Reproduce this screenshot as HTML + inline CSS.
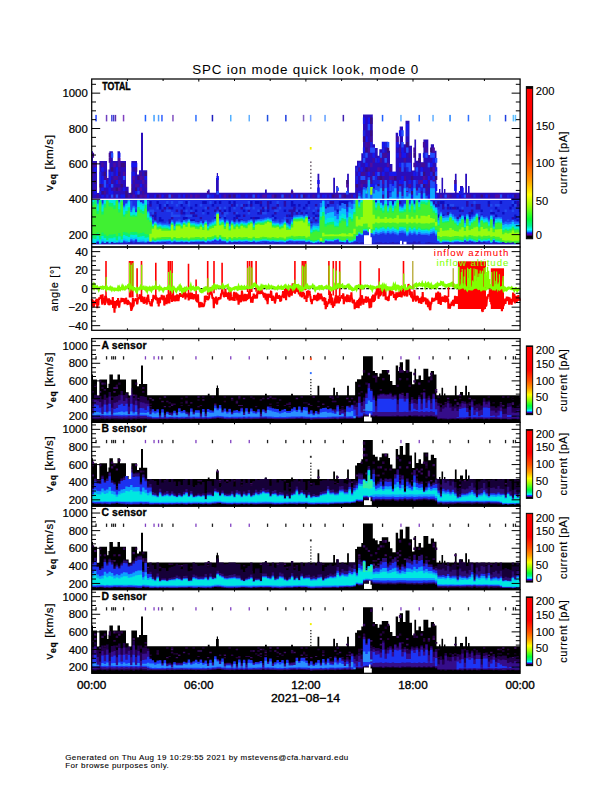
<!DOCTYPE html><html><head><meta charset="utf-8"><style>html,body{margin:0;padding:0;background:#fff;width:612px;height:792px;overflow:hidden}svg{display:block}</style></head><body><svg width="612" height="792" viewBox="0 0 612 792"><defs><clipPath id="dataclip"><rect x="91.7" y="79" width="428.4" height="600"/></clipPath><filter id="sb" x="-2%" y="-5%" width="104%" height="110%"><feGaussianBlur stdDeviation="0.6"/></filter></defs>
<g clip-path="url(#dataclip)">
<g filter="url(#sb)">
<path d="M91.7 244.5 L91.7 151.3 L93 151.3 L93 161.1 L97 161.1 L97 192.7 L99.2 192.7 L99.2 161.1 L107.2 161.1 L107.2 169.5 L109.4 169.5 L109.4 151.3 L112.9 151.3 L112.9 161.1 L117.5 161.1 L117.5 151.3 L120 151.3 L120 161.1 L126 161.1 L126 186.7 L128.8 186.7 L128.8 192.7 L131.2 192.7 L131.2 161.1 L137 161.1 L137 174.5 L139 174.5 L139 170.3 L141 170.3 L141 132.8 L143 132.8 L143 170.3 L147.2 170.3 L147.2 192.7 L207.8 192.7 L207.8 189.5 L209.6 189.5 L209.6 192.7 L216 192.7 L216 177.9 L216.8 177.9 L216.8 173.1 L218 173.1 L218 177.9 L218.8 177.9 L218.8 192.7 L265 192.7 L265 189.5 L266.8 189.5 L266.8 192.7 L291.1 192.7 L291.1 189.5 L292.9 189.5 L292.9 192.7 L317.5 192.7 L317.5 173.8 L319.3 173.8 L319.3 192.7 L333.2 192.7 L333.2 177.7 L335 177.7 L335 192.7 L336.2 192.7 L336.2 186 L337.8 186 L337.8 192.7 L347.1 192.7 L347.1 173.8 L348.9 173.8 L348.9 192.7 L355.1 192.7 L355.1 165.7 L357 165.7 L357 160.7 L361.3 160.7 L361.3 153.3 L363 153.3 L363 114.4 L372.8 114.4 L372.8 144.3 L375 144.3 L375 148 L377.7 148 L377.7 155.7 L379.3 155.7 L379.3 149.2 L381.8 149.2 L381.8 141.8 L388.3 141.8 L388.3 150.8 L390 150.8 L390 163.9 L392.4 163.9 L392.4 171.8 L395.7 171.8 L395.7 132.8 L398.1 132.8 L398.1 144.3 L399.7 144.3 L399.7 126.4 L403 126.4 L403 144.3 L405.5 144.3 L405.5 120.7 L409.5 120.7 L409.5 145.7 L412 145.7 L412 170.6 L414.4 170.6 L414.4 139.5 L416.1 139.5 L416.1 160.7 L418.5 160.7 L418.5 153.3 L421 153.3 L421 162.3 L423.4 162.3 L423.4 139.5 L428.3 139.5 L428.3 155 L430.8 155 L430.8 144.3 L434 144.3 L434 150.8 L436.5 150.8 L436.5 192.7 L439 192.7 L439 189 L440.4 189 L440.4 192.7 L441.5 192.7 L441.5 177.7 L443.1 177.7 L443.1 192.7 L444 192.7 L444 189 L445.4 189 L445.4 192.7 L454.9 192.7 L454.9 173.8 L456.6 173.8 L456.6 192.7 L460 192.7 L460 186 L463 186 L463 192.7 L465.2 192.7 L465.2 173.8 L467 173.8 L467 192.7 L468 192.7 L468 186 L469.6 186 L469.6 192.7 L520.1 192.7 L520.1 244.5Z" fill="#2a10bc"/>
<path d="M91.7 171.7h2.4v4.2h-2.4zM91.7 152.8h2.4v5h-2.4zM94.1 162.7h2.4v4.6h-2.4zM101.3 162.7h2.4v4.6h-2.4zM106.1 176h2.4v4h-2.4zM108.5 157.9h2.4v4.8h-2.4zM113.3 187.6h2.4v3.5h-2.4zM113.3 176h2.4v4h-2.4zM115.7 176h2.4v4h-2.4zM127.7 194.5h2.4v3.2h-2.4zM134.9 183.9h2.4v3.7h-2.4zM137.3 183.9h2.4v3.7h-2.4zM142.1 194.5h2.4v3.2h-2.4zM142.1 176h2.4v4h-2.4zM144.5 183.9h2.4v3.7h-2.4zM170.9 194.5h2.4v3.2h-2.4zM197.3 194.5h2.4v3.2h-2.4zM254.9 194.5h2.4v3.2h-2.4zM290.9 191.1h2.4v3.4h-2.4zM293.3 194.5h2.4v3.2h-2.4zM312.5 194.5h2.4v3.2h-2.4zM336.5 194.5h2.4v3.2h-2.4zM341.3 194.5h2.4v3.2h-2.4zM358.1 167.3h2.4v4.4h-2.4zM362.9 194.5h2.4v3.2h-2.4zM362.9 191.1h2.4v3.4h-2.4zM365.3 180h2.4v3.9h-2.4zM365.3 142h2.4v5.5h-2.4zM367.7 194.5h2.4v3.2h-2.4zM367.7 147.5h2.4v5.3h-2.4zM370.1 191.1h2.4v3.4h-2.4zM372.5 157.9h2.4v4.8h-2.4zM377.3 187.6h2.4v3.5h-2.4zM379.7 194.5h2.4v3.2h-2.4zM379.7 157.9h2.4v4.8h-2.4zM391.7 176h2.4v4h-2.4zM394.1 194.5h2.4v3.2h-2.4zM394.1 183.9h2.4v3.7h-2.4zM396.5 191.1h2.4v3.4h-2.4zM396.5 136.3h2.4v5.8h-2.4zM398.9 183.9h2.4v3.7h-2.4zM398.9 147.5h2.4v5.3h-2.4zM403.7 191.1h2.4v3.4h-2.4zM403.7 176h2.4v4h-2.4zM403.7 157.9h2.4v4.8h-2.4zM406.1 194.5h2.4v3.2h-2.4zM413.3 162.7h2.4v4.6h-2.4zM415.7 194.5h2.4v3.2h-2.4zM418.1 191.1h2.4v3.4h-2.4zM422.9 142h2.4v5.5h-2.4zM425.3 147.5h2.4v5.3h-2.4zM427.7 180h2.4v3.9h-2.4zM430.1 187.6h2.4v3.5h-2.4zM432.5 191.1h2.4v3.4h-2.4zM468.5 194.5h2.4v3.2h-2.4z" fill="#46109c"/>
<path d="M91.7 162.7h2.4v4.6h-2.4zM94.1 187.6h2.4v3.5h-2.4zM96.5 194.5h2.4v3.2h-2.4zM101.3 183.9h2.4v3.7h-2.4zM103.7 191.1h2.4v3.4h-2.4zM103.7 176h2.4v4h-2.4zM108.5 152.8h2.4v5h-2.4zM110.9 180h2.4v3.9h-2.4zM113.3 194.5h2.4v3.2h-2.4zM118.1 167.3h2.4v4.4h-2.4zM130.1 183.9h2.4v3.7h-2.4zM132.5 180h2.4v3.9h-2.4zM134.9 167.3h2.4v4.4h-2.4zM139.7 171.7h2.4v4.2h-2.4zM142.1 191.1h2.4v3.4h-2.4zM166.1 194.5h2.4v3.2h-2.4zM185.3 194.5h2.4v3.2h-2.4zM206.9 191.1h2.4v3.4h-2.4zM283.7 194.5h2.4v3.2h-2.4zM288.5 194.5h2.4v3.2h-2.4zM298.1 194.5h2.4v3.2h-2.4zM334.1 194.5h2.4v3.2h-2.4zM350.9 194.5h2.4v3.2h-2.4zM355.7 194.5h2.4v3.2h-2.4zM360.5 180h2.4v3.9h-2.4zM360.5 171.7h2.4v4.2h-2.4zM362.9 180h2.4v3.9h-2.4zM362.9 171.7h2.4v4.2h-2.4zM367.7 167.3h2.4v4.4h-2.4zM367.7 142h2.4v5.5h-2.4zM370.1 180h2.4v3.9h-2.4zM370.1 176h2.4v4h-2.4zM370.1 136.3h2.4v5.8h-2.4zM372.5 171.7h2.4v4.2h-2.4zM374.9 191.1h2.4v3.4h-2.4zM377.3 176h2.4v4h-2.4zM379.7 180h2.4v3.9h-2.4zM379.7 167.3h2.4v4.4h-2.4zM382.1 194.5h2.4v3.2h-2.4zM382.1 187.6h2.4v3.5h-2.4zM382.1 176h2.4v4h-2.4zM382.1 152.8h2.4v5h-2.4zM384.5 152.8h2.4v5h-2.4zM389.3 167.3h2.4v4.4h-2.4zM398.9 167.3h2.4v4.4h-2.4zM403.7 180h2.4v3.9h-2.4zM406.1 191.1h2.4v3.4h-2.4zM408.5 152.8h2.4v5h-2.4zM413.3 147.5h2.4v5.3h-2.4zM415.7 187.6h2.4v3.5h-2.4zM420.5 162.7h2.4v4.6h-2.4zM422.9 191.1h2.4v3.4h-2.4zM422.9 162.7h2.4v4.6h-2.4zM425.3 187.6h2.4v3.5h-2.4zM425.3 176h2.4v4h-2.4zM427.7 183.9h2.4v3.7h-2.4zM432.5 183.9h2.4v3.7h-2.4zM449.3 194.5h2.4v3.2h-2.4zM454.1 180h2.4v3.9h-2.4zM487.7 194.5h2.4v3.2h-2.4z" fill="#420a98"/>
<path d="M94.1 191.1h2.4v3.4h-2.4zM94.1 167.3h2.4v4.4h-2.4zM101.3 194.5h2.4v3.2h-2.4zM101.3 187.6h2.4v3.5h-2.4zM101.3 180h2.4v3.9h-2.4zM101.3 176h2.4v4h-2.4zM101.3 167.3h2.4v4.4h-2.4zM106.1 183.9h2.4v3.7h-2.4zM106.1 171.7h2.4v4.2h-2.4zM108.5 191.1h2.4v3.4h-2.4zM108.5 187.6h2.4v3.5h-2.4zM108.5 180h2.4v3.9h-2.4zM108.5 176h2.4v4h-2.4zM108.5 171.7h2.4v4.2h-2.4zM110.9 191.1h2.4v3.4h-2.4zM115.7 180h2.4v3.9h-2.4zM115.7 171.7h2.4v4.2h-2.4zM115.7 167.3h2.4v4.4h-2.4zM118.1 152.8h2.4v5h-2.4zM120.5 194.5h2.4v3.2h-2.4zM122.9 194.5h2.4v3.2h-2.4zM122.9 187.6h2.4v3.5h-2.4zM130.1 180h2.4v3.9h-2.4zM130.1 176h2.4v4h-2.4zM130.1 162.7h2.4v4.6h-2.4zM132.5 171.7h2.4v4.2h-2.4zM132.5 162.7h2.4v4.6h-2.4zM134.9 191.1h2.4v3.4h-2.4zM134.9 162.7h2.4v4.6h-2.4zM139.7 183.9h2.4v3.7h-2.4zM144.5 176h2.4v4h-2.4zM146.9 194.5h2.4v3.2h-2.4zM154.1 194.5h2.4v3.2h-2.4zM161.3 194.5h2.4v3.2h-2.4zM182.9 194.5h2.4v3.2h-2.4zM211.7 194.5h2.4v3.2h-2.4zM216.5 176h2.4v4h-2.4zM218.9 194.5h2.4v3.2h-2.4zM238.1 194.5h2.4v3.2h-2.4zM245.3 194.5h2.4v3.2h-2.4zM257.3 194.5h2.4v3.2h-2.4zM290.9 194.5h2.4v3.2h-2.4zM295.7 194.5h2.4v3.2h-2.4zM317.3 187.6h2.4v3.5h-2.4zM317.3 180h2.4v3.9h-2.4zM322.1 194.5h2.4v3.2h-2.4zM329.3 194.5h2.4v3.2h-2.4zM353.3 194.5h2.4v3.2h-2.4zM355.7 180h2.4v3.9h-2.4zM358.1 191.1h2.4v3.4h-2.4zM358.1 171.7h2.4v4.2h-2.4zM360.5 167.3h2.4v4.4h-2.4zM362.9 147.5h2.4v5.3h-2.4zM362.9 117.4h2.4v6.6h-2.4zM365.3 162.7h2.4v4.6h-2.4zM365.3 136.3h2.4v5.8h-2.4zM367.7 171.7h2.4v4.2h-2.4zM367.7 117.4h2.4v6.6h-2.4zM370.1 183.9h2.4v3.7h-2.4zM372.5 183.9h2.4v3.7h-2.4zM372.5 152.8h2.4v5h-2.4zM374.9 183.9h2.4v3.7h-2.4zM374.9 171.7h2.4v4.2h-2.4zM377.3 157.9h2.4v4.8h-2.4zM382.1 171.7h2.4v4.2h-2.4zM382.1 142h2.4v5.5h-2.4zM384.5 167.3h2.4v4.4h-2.4zM386.9 187.6h2.4v3.5h-2.4zM386.9 167.3h2.4v4.4h-2.4zM389.3 191.1h2.4v3.4h-2.4zM389.3 171.7h2.4v4.2h-2.4zM391.7 187.6h2.4v3.5h-2.4zM391.7 183.9h2.4v3.7h-2.4zM391.7 171.7h2.4v4.2h-2.4zM394.1 171.7h2.4v4.2h-2.4zM396.5 194.5h2.4v3.2h-2.4zM396.5 152.8h2.4v5h-2.4zM396.5 142h2.4v5.5h-2.4zM398.9 180h2.4v3.9h-2.4zM398.9 162.7h2.4v4.6h-2.4zM398.9 130.3h2.4v6h-2.4zM401.3 180h2.4v3.9h-2.4zM401.3 176h2.4v4h-2.4zM401.3 152.8h2.4v5h-2.4zM401.3 147.5h2.4v5.3h-2.4zM403.7 187.6h2.4v3.5h-2.4zM403.7 152.8h2.4v5h-2.4zM406.1 124h2.4v6.3h-2.4zM408.5 180h2.4v3.9h-2.4zM410.9 194.5h2.4v3.2h-2.4zM410.9 187.6h2.4v3.5h-2.4zM413.3 183.9h2.4v3.7h-2.4zM413.3 180h2.4v3.9h-2.4zM413.3 171.7h2.4v4.2h-2.4zM418.1 187.6h2.4v3.5h-2.4zM420.5 194.5h2.4v3.2h-2.4zM420.5 167.3h2.4v4.4h-2.4zM422.9 187.6h2.4v3.5h-2.4zM422.9 180h2.4v3.9h-2.4zM425.3 180h2.4v3.9h-2.4zM427.7 194.5h2.4v3.2h-2.4zM427.7 176h2.4v4h-2.4zM430.1 191.1h2.4v3.4h-2.4zM430.1 162.7h2.4v4.6h-2.4zM432.5 157.9h2.4v4.8h-2.4zM434.9 194.5h2.4v3.2h-2.4zM434.9 187.6h2.4v3.5h-2.4zM434.9 183.9h2.4v3.7h-2.4zM434.9 167.3h2.4v4.4h-2.4zM454.1 187.6h2.4v3.5h-2.4zM454.1 183.9h2.4v3.7h-2.4zM456.5 194.5h2.4v3.2h-2.4zM458.9 191.1h2.4v3.4h-2.4zM461.3 194.5h2.4v3.2h-2.4zM461.3 187.6h2.4v3.5h-2.4zM485.3 194.5h2.4v3.2h-2.4zM509.3 194.5h2.4v3.2h-2.4z" fill="#1414f0"/>
<path d="M94.1 180h2.4v3.9h-2.4zM98.9 183.9h2.4v3.7h-2.4zM101.3 191.1h2.4v3.4h-2.4zM103.7 171.7h2.4v4.2h-2.4zM110.9 167.3h2.4v4.4h-2.4zM115.7 187.6h2.4v3.5h-2.4zM118.1 171.7h2.4v4.2h-2.4zM120.5 183.9h2.4v3.7h-2.4zM120.5 162.7h2.4v4.6h-2.4zM122.9 162.7h2.4v4.6h-2.4zM125.3 194.5h2.4v3.2h-2.4zM125.3 191.1h2.4v3.4h-2.4zM130.1 191.1h2.4v3.4h-2.4zM130.1 187.6h2.4v3.5h-2.4zM134.9 187.6h2.4v3.5h-2.4zM137.3 194.5h2.4v3.2h-2.4zM137.3 176h2.4v4h-2.4zM144.5 171.7h2.4v4.2h-2.4zM156.5 194.5h2.4v3.2h-2.4zM228.5 194.5h2.4v3.2h-2.4zM233.3 194.5h2.4v3.2h-2.4zM274.1 194.5h2.4v3.2h-2.4zM302.9 194.5h2.4v3.2h-2.4zM331.7 194.5h2.4v3.2h-2.4zM343.7 194.5h2.4v3.2h-2.4zM346.1 180h2.4v3.9h-2.4zM355.7 183.9h2.4v3.7h-2.4zM362.9 136.3h2.4v5.8h-2.4zM365.3 191.1h2.4v3.4h-2.4zM365.3 167.3h2.4v4.4h-2.4zM365.3 147.5h2.4v5.3h-2.4zM370.1 194.5h2.4v3.2h-2.4zM370.1 130.3h2.4v6h-2.4zM370.1 117.4h2.4v6.6h-2.4zM377.3 183.9h2.4v3.7h-2.4zM379.7 176h2.4v4h-2.4zM386.9 147.5h2.4v5.3h-2.4zM391.7 191.1h2.4v3.4h-2.4zM394.1 176h2.4v4h-2.4zM403.7 183.9h2.4v3.7h-2.4zM406.1 142h2.4v5.5h-2.4zM408.5 187.6h2.4v3.5h-2.4zM410.9 191.1h2.4v3.4h-2.4zM410.9 176h2.4v4h-2.4zM413.3 194.5h2.4v3.2h-2.4zM413.3 152.8h2.4v5h-2.4zM418.1 157.9h2.4v4.8h-2.4zM422.9 183.9h2.4v3.7h-2.4zM422.9 171.7h2.4v4.2h-2.4zM430.1 183.9h2.4v3.7h-2.4zM430.1 167.3h2.4v4.4h-2.4zM430.1 147.5h2.4v5.3h-2.4zM432.5 171.7h2.4v4.2h-2.4zM434.9 176h2.4v4h-2.4zM480.5 194.5h2.4v3.2h-2.4zM514.1 194.5h2.4v3.2h-2.4z" fill="#3a0a80"/>
<path d="M98.9 191.1h2.4v3.4h-2.4zM98.9 180h2.4v3.9h-2.4zM98.9 176h2.4v4h-2.4zM98.9 171.7h2.4v4.2h-2.4zM106.1 194.5h2.4v3.2h-2.4zM110.9 171.7h2.4v4.2h-2.4zM130.1 171.7h2.4v4.2h-2.4zM137.3 187.6h2.4v3.5h-2.4zM178.1 194.5h2.4v3.2h-2.4zM209.3 194.5h2.4v3.2h-2.4zM235.7 194.5h2.4v3.2h-2.4zM266.9 194.5h2.4v3.2h-2.4zM269.3 194.5h2.4v3.2h-2.4zM307.7 194.5h2.4v3.2h-2.4zM317.3 191.1h2.4v3.4h-2.4zM324.5 194.5h2.4v3.2h-2.4zM355.7 176h2.4v4h-2.4zM355.7 167.3h2.4v4.4h-2.4zM358.1 162.7h2.4v4.6h-2.4zM360.5 194.5h2.4v3.2h-2.4zM362.9 187.6h2.4v3.5h-2.4zM362.9 152.8h2.4v5h-2.4zM362.9 130.3h2.4v6h-2.4zM367.7 187.6h2.4v3.5h-2.4zM370.1 142h2.4v5.5h-2.4zM372.5 180h2.4v3.9h-2.4zM374.9 187.6h2.4v3.5h-2.4zM374.9 180h2.4v3.9h-2.4zM374.9 176h2.4v4h-2.4zM374.9 157.9h2.4v4.8h-2.4zM377.3 180h2.4v3.9h-2.4zM382.1 147.5h2.4v5.3h-2.4zM384.5 142h2.4v5.5h-2.4zM389.3 180h2.4v3.9h-2.4zM403.7 162.7h2.4v4.6h-2.4zM406.1 167.3h2.4v4.4h-2.4zM406.1 130.3h2.4v6h-2.4zM413.3 187.6h2.4v3.5h-2.4zM415.7 180h2.4v3.9h-2.4zM415.7 171.7h2.4v4.2h-2.4zM420.5 187.6h2.4v3.5h-2.4zM422.9 194.5h2.4v3.2h-2.4zM422.9 152.8h2.4v5h-2.4zM430.1 171.7h2.4v4.2h-2.4zM432.5 176h2.4v4h-2.4zM461.3 191.1h2.4v3.4h-2.4zM473.3 194.5h2.4v3.2h-2.4zM506.9 194.5h2.4v3.2h-2.4zM511.7 194.5h2.4v3.2h-2.4z" fill="#1a20e0"/>
<path d="M103.7 183.9h2.4v3.7h-2.4zM103.7 180h2.4v3.9h-2.4zM110.9 194.5h2.4v3.2h-2.4zM110.9 183.9h2.4v3.7h-2.4zM110.9 152.8h2.4v5h-2.4zM115.7 194.5h2.4v3.2h-2.4zM122.9 176h2.4v4h-2.4zM137.3 191.1h2.4v3.4h-2.4zM168.5 194.5h2.4v3.2h-2.4zM206.9 194.5h2.4v3.2h-2.4zM216.5 191.1h2.4v3.4h-2.4zM252.5 194.5h2.4v3.2h-2.4zM281.3 194.5h2.4v3.2h-2.4zM300.5 194.5h2.4v3.2h-2.4zM317.3 194.5h2.4v3.2h-2.4zM336.5 187.6h2.4v3.5h-2.4zM338.9 194.5h2.4v3.2h-2.4zM346.1 191.1h2.4v3.4h-2.4zM360.5 176h2.4v4h-2.4zM362.9 176h2.4v4h-2.4zM362.9 157.9h2.4v4.8h-2.4zM365.3 194.5h2.4v3.2h-2.4zM365.3 152.8h2.4v5h-2.4zM367.7 124h2.4v6.3h-2.4zM370.1 147.5h2.4v5.3h-2.4zM372.5 191.1h2.4v3.4h-2.4zM372.5 176h2.4v4h-2.4zM372.5 147.5h2.4v5.3h-2.4zM377.3 171.7h2.4v4.2h-2.4zM379.7 152.8h2.4v5h-2.4zM382.1 191.1h2.4v3.4h-2.4zM384.5 157.9h2.4v4.8h-2.4zM386.9 142h2.4v5.5h-2.4zM389.3 187.6h2.4v3.5h-2.4zM389.3 183.9h2.4v3.7h-2.4zM401.3 167.3h2.4v4.4h-2.4zM401.3 162.7h2.4v4.6h-2.4zM401.3 142h2.4v5.5h-2.4zM401.3 130.3h2.4v6h-2.4zM406.1 187.6h2.4v3.5h-2.4zM406.1 162.7h2.4v4.6h-2.4zM406.1 147.5h2.4v5.3h-2.4zM408.5 191.1h2.4v3.4h-2.4zM408.5 167.3h2.4v4.4h-2.4zM408.5 162.7h2.4v4.6h-2.4zM415.7 167.3h2.4v4.4h-2.4zM420.5 183.9h2.4v3.7h-2.4zM420.5 171.7h2.4v4.2h-2.4zM425.3 152.8h2.4v5h-2.4zM427.7 162.7h2.4v4.6h-2.4zM430.1 152.8h2.4v5h-2.4zM432.5 152.8h2.4v5h-2.4zM434.9 171.7h2.4v4.2h-2.4zM434.9 157.9h2.4v4.8h-2.4zM444.5 194.5h2.4v3.2h-2.4zM463.7 194.5h2.4v3.2h-2.4zM499.7 194.5h2.4v3.2h-2.4z" fill="#2050ff"/>
<path d="M113.3 162.7h2.4v4.6h-2.4zM118.1 187.6h2.4v3.5h-2.4zM118.1 180h2.4v3.9h-2.4zM118.1 162.7h2.4v4.6h-2.4zM118.1 157.9h2.4v4.8h-2.4zM122.9 171.7h2.4v4.2h-2.4zM132.5 194.5h2.4v3.2h-2.4zM132.5 176h2.4v4h-2.4zM139.7 194.5h2.4v3.2h-2.4zM139.7 187.6h2.4v3.5h-2.4zM139.7 176h2.4v4h-2.4zM142.1 180h2.4v3.9h-2.4zM144.5 194.5h2.4v3.2h-2.4zM158.9 194.5h2.4v3.2h-2.4zM190.1 194.5h2.4v3.2h-2.4zM194.9 194.5h2.4v3.2h-2.4zM223.7 194.5h2.4v3.2h-2.4zM262.1 194.5h2.4v3.2h-2.4zM264.5 194.5h2.4v3.2h-2.4zM271.7 194.5h2.4v3.2h-2.4zM346.1 183.9h2.4v3.7h-2.4zM360.5 183.9h2.4v3.7h-2.4zM370.1 162.7h2.4v4.6h-2.4zM377.3 167.3h2.4v4.4h-2.4zM382.1 180h2.4v3.9h-2.4zM386.9 162.7h2.4v4.6h-2.4zM389.3 176h2.4v4h-2.4zM391.7 194.5h2.4v3.2h-2.4zM398.9 152.8h2.4v5h-2.4zM401.3 194.5h2.4v3.2h-2.4zM408.5 183.9h2.4v3.7h-2.4zM418.1 180h2.4v3.9h-2.4zM420.5 180h2.4v3.9h-2.4zM422.9 176h2.4v4h-2.4zM430.1 194.5h2.4v3.2h-2.4zM432.5 180h2.4v3.9h-2.4zM432.5 167.3h2.4v4.4h-2.4zM432.5 147.5h2.4v5.3h-2.4zM439.7 194.5h2.4v3.2h-2.4zM446.9 194.5h2.4v3.2h-2.4zM466.1 194.5h2.4v3.2h-2.4zM494.9 194.5h2.4v3.2h-2.4zM497.3 194.5h2.4v3.2h-2.4z" fill="#500aa0"/>
<rect x="91.7" y="199.4" width="428.4" height="45.1" fill="#1a2ee4"/>
<path d="M91.7 216.9h2.4v2.3h-2.4zM91.7 200.9h2.4v3h-2.4zM96.5 223.5h2.4v2h-2.4zM96.5 214.5h2.4v2.4h-2.4zM96.5 206.7h2.4v2.7h-2.4zM103.7 223.5h2.4v2h-2.4zM106.1 216.9h2.4v2.3h-2.4zM122.9 214.5h2.4v2.4h-2.4zM125.3 219.2h2.4v2.2h-2.4zM127.7 221.4h2.4v2.1h-2.4zM127.7 209.4h2.4v2.6h-2.4zM130.1 223.5h2.4v2h-2.4zM130.1 221.4h2.4v2.1h-2.4zM130.1 209.4h2.4v2.6h-2.4zM132.5 221.4h2.4v2.1h-2.4zM139.7 219.2h2.4v2.2h-2.4zM139.7 216.9h2.4v2.3h-2.4zM139.7 200.9h2.4v3h-2.4zM142.1 214.5h2.4v2.4h-2.4zM149.3 216.9h2.4v2.3h-2.4zM149.3 203.9h2.4v2.8h-2.4zM151.7 223.5h2.4v2h-2.4zM151.7 214.5h2.4v2.4h-2.4zM154.1 219.2h2.4v2.2h-2.4zM154.1 216.9h2.4v2.3h-2.4zM154.1 212.1h2.4v2.5h-2.4zM161.3 209.4h2.4v2.6h-2.4zM163.7 206.7h2.4v2.7h-2.4zM168.5 221.4h2.4v2.1h-2.4zM168.5 219.2h2.4v2.2h-2.4zM168.5 206.7h2.4v2.7h-2.4zM170.9 216.9h2.4v2.3h-2.4zM175.7 209.4h2.4v2.6h-2.4zM180.5 212.1h2.4v2.5h-2.4zM180.5 209.4h2.4v2.6h-2.4zM182.9 219.2h2.4v2.2h-2.4zM190.1 212.1h2.4v2.5h-2.4zM192.5 221.4h2.4v2.1h-2.4zM192.5 212.1h2.4v2.5h-2.4zM194.9 214.5h2.4v2.4h-2.4zM197.3 221.4h2.4v2.1h-2.4zM199.7 216.9h2.4v2.3h-2.4zM202.1 221.4h2.4v2.1h-2.4zM206.9 206.7h2.4v2.7h-2.4zM214.1 209.4h2.4v2.6h-2.4zM216.5 216.9h2.4v2.3h-2.4zM216.5 214.5h2.4v2.4h-2.4zM216.5 206.7h2.4v2.7h-2.4zM218.9 216.9h2.4v2.3h-2.4zM218.9 209.4h2.4v2.6h-2.4zM221.3 219.2h2.4v2.2h-2.4zM221.3 212.1h2.4v2.5h-2.4zM223.7 223.5h2.4v2h-2.4zM230.9 203.9h2.4v2.8h-2.4zM233.3 219.2h2.4v2.2h-2.4zM233.3 212.1h2.4v2.5h-2.4zM235.7 216.9h2.4v2.3h-2.4zM240.5 219.2h2.4v2.2h-2.4zM240.5 206.7h2.4v2.7h-2.4zM242.9 223.5h2.4v2h-2.4zM242.9 221.4h2.4v2.1h-2.4zM242.9 214.5h2.4v2.4h-2.4zM242.9 203.9h2.4v2.8h-2.4zM247.7 209.4h2.4v2.6h-2.4zM250.1 221.4h2.4v2.1h-2.4zM250.1 219.2h2.4v2.2h-2.4zM250.1 203.9h2.4v2.8h-2.4zM252.5 216.9h2.4v2.3h-2.4zM259.7 212.1h2.4v2.5h-2.4zM259.7 209.4h2.4v2.6h-2.4zM259.7 200.9h2.4v3h-2.4zM262.1 223.5h2.4v2h-2.4zM262.1 221.4h2.4v2.1h-2.4zM262.1 219.2h2.4v2.2h-2.4zM262.1 206.7h2.4v2.7h-2.4zM266.9 206.7h2.4v2.7h-2.4zM266.9 203.9h2.4v2.8h-2.4zM266.9 200.9h2.4v3h-2.4zM271.7 206.7h2.4v2.7h-2.4zM274.1 212.1h2.4v2.5h-2.4zM274.1 206.7h2.4v2.7h-2.4zM276.5 203.9h2.4v2.8h-2.4zM281.3 223.5h2.4v2h-2.4zM283.7 203.9h2.4v2.8h-2.4zM283.7 200.9h2.4v3h-2.4zM286.1 223.5h2.4v2h-2.4zM286.1 221.4h2.4v2.1h-2.4zM286.1 219.2h2.4v2.2h-2.4zM286.1 214.5h2.4v2.4h-2.4zM288.5 209.4h2.4v2.6h-2.4zM290.9 214.5h2.4v2.4h-2.4zM290.9 212.1h2.4v2.5h-2.4zM290.9 209.4h2.4v2.6h-2.4zM293.3 209.4h2.4v2.6h-2.4zM293.3 206.7h2.4v2.7h-2.4zM295.7 212.1h2.4v2.5h-2.4zM300.5 212.1h2.4v2.5h-2.4zM302.9 216.9h2.4v2.3h-2.4zM305.3 216.9h2.4v2.3h-2.4zM305.3 214.5h2.4v2.4h-2.4zM307.7 216.9h2.4v2.3h-2.4zM310.1 221.4h2.4v2.1h-2.4zM312.5 216.9h2.4v2.3h-2.4zM314.9 219.2h2.4v2.2h-2.4zM314.9 203.9h2.4v2.8h-2.4zM317.3 214.5h2.4v2.4h-2.4zM317.3 209.4h2.4v2.6h-2.4zM322.1 219.2h2.4v2.2h-2.4zM322.1 212.1h2.4v2.5h-2.4zM322.1 209.4h2.4v2.6h-2.4zM324.5 219.2h2.4v2.2h-2.4zM324.5 214.5h2.4v2.4h-2.4zM324.5 209.4h2.4v2.6h-2.4zM324.5 206.7h2.4v2.7h-2.4zM326.9 219.2h2.4v2.2h-2.4zM329.3 223.5h2.4v2h-2.4zM329.3 209.4h2.4v2.6h-2.4zM329.3 200.9h2.4v3h-2.4zM331.7 200.9h2.4v3h-2.4zM336.5 223.5h2.4v2h-2.4zM338.9 212.1h2.4v2.5h-2.4zM343.7 221.4h2.4v2.1h-2.4zM343.7 212.1h2.4v2.5h-2.4zM346.1 221.4h2.4v2.1h-2.4zM346.1 203.9h2.4v2.8h-2.4zM350.9 219.2h2.4v2.2h-2.4zM350.9 209.4h2.4v2.6h-2.4zM353.3 221.4h2.4v2.1h-2.4zM353.3 214.5h2.4v2.4h-2.4zM353.3 203.9h2.4v2.8h-2.4zM355.7 206.7h2.4v2.7h-2.4zM358.1 200.9h2.4v3h-2.4zM360.5 221.4h2.4v2.1h-2.4zM365.3 216.9h2.4v2.3h-2.4zM365.3 209.4h2.4v2.6h-2.4zM365.3 200.9h2.4v3h-2.4zM372.5 219.2h2.4v2.2h-2.4zM374.9 214.5h2.4v2.4h-2.4zM377.3 221.4h2.4v2.1h-2.4zM377.3 209.4h2.4v2.6h-2.4zM379.7 209.4h2.4v2.6h-2.4zM382.1 223.5h2.4v2h-2.4zM384.5 209.4h2.4v2.6h-2.4zM386.9 206.7h2.4v2.7h-2.4zM389.3 221.4h2.4v2.1h-2.4zM391.7 212.1h2.4v2.5h-2.4zM394.1 223.5h2.4v2h-2.4zM394.1 200.9h2.4v3h-2.4zM396.5 212.1h2.4v2.5h-2.4zM398.9 206.7h2.4v2.7h-2.4zM398.9 200.9h2.4v3h-2.4zM403.7 212.1h2.4v2.5h-2.4zM406.1 212.1h2.4v2.5h-2.4zM406.1 209.4h2.4v2.6h-2.4zM406.1 203.9h2.4v2.8h-2.4zM408.5 219.2h2.4v2.2h-2.4zM408.5 203.9h2.4v2.8h-2.4zM410.9 223.5h2.4v2h-2.4zM410.9 216.9h2.4v2.3h-2.4zM413.3 219.2h2.4v2.2h-2.4zM413.3 216.9h2.4v2.3h-2.4zM413.3 203.9h2.4v2.8h-2.4zM415.7 223.5h2.4v2h-2.4zM418.1 221.4h2.4v2.1h-2.4zM418.1 219.2h2.4v2.2h-2.4zM418.1 203.9h2.4v2.8h-2.4zM420.5 209.4h2.4v2.6h-2.4zM422.9 221.4h2.4v2.1h-2.4zM427.7 214.5h2.4v2.4h-2.4zM427.7 212.1h2.4v2.5h-2.4zM427.7 203.9h2.4v2.8h-2.4zM430.1 203.9h2.4v2.8h-2.4zM432.5 223.5h2.4v2h-2.4zM432.5 216.9h2.4v2.3h-2.4zM432.5 200.9h2.4v3h-2.4zM434.9 203.9h2.4v2.8h-2.4zM437.3 223.5h2.4v2h-2.4zM437.3 219.2h2.4v2.2h-2.4zM437.3 200.9h2.4v3h-2.4zM439.7 223.5h2.4v2h-2.4zM439.7 214.5h2.4v2.4h-2.4zM439.7 212.1h2.4v2.5h-2.4zM442.1 223.5h2.4v2h-2.4zM442.1 206.7h2.4v2.7h-2.4zM442.1 203.9h2.4v2.8h-2.4zM444.5 223.5h2.4v2h-2.4zM446.9 214.5h2.4v2.4h-2.4zM446.9 212.1h2.4v2.5h-2.4zM446.9 206.7h2.4v2.7h-2.4zM449.3 219.2h2.4v2.2h-2.4zM449.3 212.1h2.4v2.5h-2.4zM451.7 216.9h2.4v2.3h-2.4zM451.7 206.7h2.4v2.7h-2.4zM454.1 216.9h2.4v2.3h-2.4zM454.1 206.7h2.4v2.7h-2.4zM456.5 216.9h2.4v2.3h-2.4zM458.9 214.5h2.4v2.4h-2.4zM461.3 223.5h2.4v2h-2.4zM461.3 209.4h2.4v2.6h-2.4zM466.1 203.9h2.4v2.8h-2.4zM466.1 200.9h2.4v3h-2.4zM468.5 223.5h2.4v2h-2.4zM468.5 212.1h2.4v2.5h-2.4zM470.9 209.4h2.4v2.6h-2.4zM470.9 203.9h2.4v2.8h-2.4zM475.7 206.7h2.4v2.7h-2.4zM475.7 203.9h2.4v2.8h-2.4zM478.1 221.4h2.4v2.1h-2.4zM478.1 216.9h2.4v2.3h-2.4zM478.1 206.7h2.4v2.7h-2.4zM478.1 203.9h2.4v2.8h-2.4zM482.9 219.2h2.4v2.2h-2.4zM485.3 221.4h2.4v2.1h-2.4zM487.7 203.9h2.4v2.8h-2.4zM492.5 219.2h2.4v2.2h-2.4zM497.3 219.2h2.4v2.2h-2.4zM511.7 216.9h2.4v2.3h-2.4zM516.5 203.9h2.4v2.8h-2.4zM516.5 200.9h2.4v3h-2.4z" fill="#2a0ca8"/>
<path d="M91.7 214.5h2.4v2.4h-2.4zM94.1 214.5h2.4v2.4h-2.4zM96.5 216.9h2.4v2.3h-2.4zM96.5 200.9h2.4v3h-2.4zM98.9 216.9h2.4v2.3h-2.4zM101.3 223.5h2.4v2h-2.4zM101.3 221.4h2.4v2.1h-2.4zM101.3 214.5h2.4v2.4h-2.4zM101.3 212.1h2.4v2.5h-2.4zM101.3 206.7h2.4v2.7h-2.4zM101.3 203.9h2.4v2.8h-2.4zM103.7 206.7h2.4v2.7h-2.4zM108.5 214.5h2.4v2.4h-2.4zM108.5 200.9h2.4v3h-2.4zM110.9 223.5h2.4v2h-2.4zM110.9 219.2h2.4v2.2h-2.4zM113.3 206.7h2.4v2.7h-2.4zM115.7 206.7h2.4v2.7h-2.4zM115.7 200.9h2.4v3h-2.4zM120.5 209.4h2.4v2.6h-2.4zM122.9 212.1h2.4v2.5h-2.4zM125.3 206.7h2.4v2.7h-2.4zM127.7 206.7h2.4v2.7h-2.4zM130.1 219.2h2.4v2.2h-2.4zM130.1 206.7h2.4v2.7h-2.4zM130.1 203.9h2.4v2.8h-2.4zM130.1 200.9h2.4v3h-2.4zM132.5 214.5h2.4v2.4h-2.4zM134.9 216.9h2.4v2.3h-2.4zM134.9 206.7h2.4v2.7h-2.4zM137.3 219.2h2.4v2.2h-2.4zM139.7 221.4h2.4v2.1h-2.4zM139.7 212.1h2.4v2.5h-2.4zM142.1 221.4h2.4v2.1h-2.4zM142.1 206.7h2.4v2.7h-2.4zM144.5 221.4h2.4v2.1h-2.4zM144.5 203.9h2.4v2.8h-2.4zM146.9 221.4h2.4v2.1h-2.4zM146.9 219.2h2.4v2.2h-2.4zM146.9 200.9h2.4v3h-2.4zM149.3 209.4h2.4v2.6h-2.4zM151.7 219.2h2.4v2.2h-2.4zM151.7 212.1h2.4v2.5h-2.4zM151.7 209.4h2.4v2.6h-2.4zM156.5 223.5h2.4v2h-2.4zM156.5 206.7h2.4v2.7h-2.4zM163.7 203.9h2.4v2.8h-2.4zM166.1 221.4h2.4v2.1h-2.4zM166.1 209.4h2.4v2.6h-2.4zM166.1 200.9h2.4v3h-2.4zM168.5 209.4h2.4v2.6h-2.4zM170.9 214.5h2.4v2.4h-2.4zM170.9 212.1h2.4v2.5h-2.4zM170.9 200.9h2.4v3h-2.4zM173.3 223.5h2.4v2h-2.4zM173.3 214.5h2.4v2.4h-2.4zM175.7 214.5h2.4v2.4h-2.4zM175.7 203.9h2.4v2.8h-2.4zM178.1 219.2h2.4v2.2h-2.4zM178.1 214.5h2.4v2.4h-2.4zM178.1 200.9h2.4v3h-2.4zM180.5 223.5h2.4v2h-2.4zM180.5 200.9h2.4v3h-2.4zM182.9 221.4h2.4v2.1h-2.4zM185.3 223.5h2.4v2h-2.4zM185.3 219.2h2.4v2.2h-2.4zM185.3 214.5h2.4v2.4h-2.4zM185.3 209.4h2.4v2.6h-2.4zM187.7 214.5h2.4v2.4h-2.4zM187.7 203.9h2.4v2.8h-2.4zM187.7 200.9h2.4v3h-2.4zM190.1 221.4h2.4v2.1h-2.4zM190.1 214.5h2.4v2.4h-2.4zM190.1 209.4h2.4v2.6h-2.4zM199.7 203.9h2.4v2.8h-2.4zM202.1 212.1h2.4v2.5h-2.4zM204.5 206.7h2.4v2.7h-2.4zM206.9 221.4h2.4v2.1h-2.4zM209.3 200.9h2.4v3h-2.4zM211.7 221.4h2.4v2.1h-2.4zM211.7 219.2h2.4v2.2h-2.4zM214.1 214.5h2.4v2.4h-2.4zM218.9 206.7h2.4v2.7h-2.4zM221.3 221.4h2.4v2.1h-2.4zM221.3 216.9h2.4v2.3h-2.4zM223.7 214.5h2.4v2.4h-2.4zM223.7 212.1h2.4v2.5h-2.4zM223.7 206.7h2.4v2.7h-2.4zM226.1 212.1h2.4v2.5h-2.4zM228.5 223.5h2.4v2h-2.4zM233.3 206.7h2.4v2.7h-2.4zM235.7 219.2h2.4v2.2h-2.4zM235.7 212.1h2.4v2.5h-2.4zM235.7 203.9h2.4v2.8h-2.4zM238.1 223.5h2.4v2h-2.4zM240.5 203.9h2.4v2.8h-2.4zM245.3 206.7h2.4v2.7h-2.4zM247.7 212.1h2.4v2.5h-2.4zM247.7 206.7h2.4v2.7h-2.4zM247.7 200.9h2.4v3h-2.4zM250.1 223.5h2.4v2h-2.4zM252.5 206.7h2.4v2.7h-2.4zM254.9 223.5h2.4v2h-2.4zM257.3 209.4h2.4v2.6h-2.4zM262.1 212.1h2.4v2.5h-2.4zM264.5 212.1h2.4v2.5h-2.4zM264.5 206.7h2.4v2.7h-2.4zM271.7 216.9h2.4v2.3h-2.4zM274.1 209.4h2.4v2.6h-2.4zM276.5 219.2h2.4v2.2h-2.4zM276.5 209.4h2.4v2.6h-2.4zM276.5 200.9h2.4v3h-2.4zM278.9 206.7h2.4v2.7h-2.4zM281.3 221.4h2.4v2.1h-2.4zM281.3 219.2h2.4v2.2h-2.4zM283.7 219.2h2.4v2.2h-2.4zM283.7 216.9h2.4v2.3h-2.4zM290.9 221.4h2.4v2.1h-2.4zM290.9 219.2h2.4v2.2h-2.4zM293.3 221.4h2.4v2.1h-2.4zM293.3 219.2h2.4v2.2h-2.4zM295.7 209.4h2.4v2.6h-2.4zM302.9 219.2h2.4v2.2h-2.4zM305.3 223.5h2.4v2h-2.4zM307.7 223.5h2.4v2h-2.4zM307.7 206.7h2.4v2.7h-2.4zM310.1 223.5h2.4v2h-2.4zM310.1 216.9h2.4v2.3h-2.4zM312.5 209.4h2.4v2.6h-2.4zM314.9 216.9h2.4v2.3h-2.4zM314.9 206.7h2.4v2.7h-2.4zM319.7 221.4h2.4v2.1h-2.4zM319.7 219.2h2.4v2.2h-2.4zM322.1 216.9h2.4v2.3h-2.4zM322.1 203.9h2.4v2.8h-2.4zM326.9 200.9h2.4v3h-2.4zM334.1 223.5h2.4v2h-2.4zM336.5 206.7h2.4v2.7h-2.4zM336.5 203.9h2.4v2.8h-2.4zM341.3 216.9h2.4v2.3h-2.4zM346.1 214.5h2.4v2.4h-2.4zM348.5 221.4h2.4v2.1h-2.4zM348.5 212.1h2.4v2.5h-2.4zM353.3 219.2h2.4v2.2h-2.4zM353.3 216.9h2.4v2.3h-2.4zM355.7 223.5h2.4v2h-2.4zM358.1 216.9h2.4v2.3h-2.4zM360.5 223.5h2.4v2h-2.4zM360.5 216.9h2.4v2.3h-2.4zM360.5 200.9h2.4v3h-2.4zM362.9 214.5h2.4v2.4h-2.4zM362.9 212.1h2.4v2.5h-2.4zM365.3 219.2h2.4v2.2h-2.4zM367.7 219.2h2.4v2.2h-2.4zM372.5 221.4h2.4v2.1h-2.4zM372.5 209.4h2.4v2.6h-2.4zM372.5 203.9h2.4v2.8h-2.4zM374.9 216.9h2.4v2.3h-2.4zM374.9 212.1h2.4v2.5h-2.4zM374.9 206.7h2.4v2.7h-2.4zM382.1 219.2h2.4v2.2h-2.4zM382.1 216.9h2.4v2.3h-2.4zM384.5 206.7h2.4v2.7h-2.4zM384.5 200.9h2.4v3h-2.4zM386.9 200.9h2.4v3h-2.4zM389.3 223.5h2.4v2h-2.4zM389.3 200.9h2.4v3h-2.4zM394.1 203.9h2.4v2.8h-2.4zM398.9 223.5h2.4v2h-2.4zM398.9 212.1h2.4v2.5h-2.4zM401.3 221.4h2.4v2.1h-2.4zM401.3 206.7h2.4v2.7h-2.4zM408.5 221.4h2.4v2.1h-2.4zM408.5 209.4h2.4v2.6h-2.4zM413.3 223.5h2.4v2h-2.4zM413.3 214.5h2.4v2.4h-2.4zM413.3 212.1h2.4v2.5h-2.4zM413.3 206.7h2.4v2.7h-2.4zM418.1 206.7h2.4v2.7h-2.4zM427.7 209.4h2.4v2.6h-2.4zM427.7 206.7h2.4v2.7h-2.4zM430.1 216.9h2.4v2.3h-2.4zM430.1 212.1h2.4v2.5h-2.4zM432.5 209.4h2.4v2.6h-2.4zM434.9 214.5h2.4v2.4h-2.4zM437.3 212.1h2.4v2.5h-2.4zM437.3 209.4h2.4v2.6h-2.4zM439.7 221.4h2.4v2.1h-2.4zM439.7 216.9h2.4v2.3h-2.4zM444.5 219.2h2.4v2.2h-2.4zM444.5 203.9h2.4v2.8h-2.4zM449.3 203.9h2.4v2.8h-2.4zM451.7 214.5h2.4v2.4h-2.4zM451.7 203.9h2.4v2.8h-2.4zM454.1 221.4h2.4v2.1h-2.4zM456.5 223.5h2.4v2h-2.4zM458.9 221.4h2.4v2.1h-2.4zM461.3 206.7h2.4v2.7h-2.4zM466.1 219.2h2.4v2.2h-2.4zM466.1 216.9h2.4v2.3h-2.4zM473.3 200.9h2.4v3h-2.4zM478.1 214.5h2.4v2.4h-2.4zM478.1 212.1h2.4v2.5h-2.4zM482.9 221.4h2.4v2.1h-2.4zM490.1 221.4h2.4v2.1h-2.4zM490.1 209.4h2.4v2.6h-2.4zM490.1 203.9h2.4v2.8h-2.4zM492.5 214.5h2.4v2.4h-2.4zM494.9 219.2h2.4v2.2h-2.4zM494.9 203.9h2.4v2.8h-2.4zM497.3 223.5h2.4v2h-2.4zM497.3 203.9h2.4v2.8h-2.4zM499.7 223.5h2.4v2h-2.4zM499.7 216.9h2.4v2.3h-2.4zM504.5 209.4h2.4v2.6h-2.4zM506.9 219.2h2.4v2.2h-2.4zM511.7 209.4h2.4v2.6h-2.4zM511.7 200.9h2.4v3h-2.4zM514.1 203.9h2.4v2.8h-2.4z" fill="#2048f0"/>
<path d="M94.1 200.9h2.4v3h-2.4zM98.9 203.9h2.4v2.8h-2.4zM98.9 200.9h2.4v3h-2.4zM101.3 209.4h2.4v2.6h-2.4zM103.7 221.4h2.4v2.1h-2.4zM103.7 200.9h2.4v3h-2.4zM106.1 219.2h2.4v2.2h-2.4zM110.9 212.1h2.4v2.5h-2.4zM115.7 223.5h2.4v2h-2.4zM115.7 216.9h2.4v2.3h-2.4zM118.1 212.1h2.4v2.5h-2.4zM120.5 219.2h2.4v2.2h-2.4zM120.5 212.1h2.4v2.5h-2.4zM120.5 200.9h2.4v3h-2.4zM127.7 223.5h2.4v2h-2.4zM127.7 219.2h2.4v2.2h-2.4zM127.7 216.9h2.4v2.3h-2.4zM132.5 212.1h2.4v2.5h-2.4zM134.9 214.5h2.4v2.4h-2.4zM139.7 206.7h2.4v2.7h-2.4zM144.5 206.7h2.4v2.7h-2.4zM149.3 200.9h2.4v3h-2.4zM154.1 214.5h2.4v2.4h-2.4zM156.5 200.9h2.4v3h-2.4zM158.9 219.2h2.4v2.2h-2.4zM158.9 216.9h2.4v2.3h-2.4zM158.9 206.7h2.4v2.7h-2.4zM158.9 203.9h2.4v2.8h-2.4zM161.3 219.2h2.4v2.2h-2.4zM166.1 203.9h2.4v2.8h-2.4zM170.9 206.7h2.4v2.7h-2.4zM175.7 223.5h2.4v2h-2.4zM180.5 203.9h2.4v2.8h-2.4zM182.9 223.5h2.4v2h-2.4zM182.9 216.9h2.4v2.3h-2.4zM182.9 212.1h2.4v2.5h-2.4zM182.9 206.7h2.4v2.7h-2.4zM185.3 221.4h2.4v2.1h-2.4zM185.3 216.9h2.4v2.3h-2.4zM185.3 200.9h2.4v3h-2.4zM190.1 219.2h2.4v2.2h-2.4zM190.1 206.7h2.4v2.7h-2.4zM192.5 219.2h2.4v2.2h-2.4zM192.5 214.5h2.4v2.4h-2.4zM194.9 223.5h2.4v2h-2.4zM194.9 209.4h2.4v2.6h-2.4zM194.9 203.9h2.4v2.8h-2.4zM202.1 209.4h2.4v2.6h-2.4zM202.1 200.9h2.4v3h-2.4zM204.5 200.9h2.4v3h-2.4zM206.9 212.1h2.4v2.5h-2.4zM211.7 203.9h2.4v2.8h-2.4zM214.1 216.9h2.4v2.3h-2.4zM214.1 200.9h2.4v3h-2.4zM218.9 200.9h2.4v3h-2.4zM223.7 216.9h2.4v2.3h-2.4zM223.7 209.4h2.4v2.6h-2.4zM228.5 209.4h2.4v2.6h-2.4zM228.5 206.7h2.4v2.7h-2.4zM228.5 200.9h2.4v3h-2.4zM233.3 216.9h2.4v2.3h-2.4zM233.3 203.9h2.4v2.8h-2.4zM233.3 200.9h2.4v3h-2.4zM235.7 223.5h2.4v2h-2.4zM235.7 214.5h2.4v2.4h-2.4zM238.1 219.2h2.4v2.2h-2.4zM238.1 214.5h2.4v2.4h-2.4zM242.9 209.4h2.4v2.6h-2.4zM245.3 203.9h2.4v2.8h-2.4zM250.1 216.9h2.4v2.3h-2.4zM250.1 200.9h2.4v3h-2.4zM254.9 216.9h2.4v2.3h-2.4zM254.9 200.9h2.4v3h-2.4zM257.3 216.9h2.4v2.3h-2.4zM257.3 212.1h2.4v2.5h-2.4zM257.3 200.9h2.4v3h-2.4zM259.7 203.9h2.4v2.8h-2.4zM262.1 209.4h2.4v2.6h-2.4zM264.5 223.5h2.4v2h-2.4zM266.9 209.4h2.4v2.6h-2.4zM269.3 200.9h2.4v3h-2.4zM271.7 214.5h2.4v2.4h-2.4zM274.1 223.5h2.4v2h-2.4zM274.1 216.9h2.4v2.3h-2.4zM276.5 221.4h2.4v2.1h-2.4zM283.7 209.4h2.4v2.6h-2.4zM288.5 214.5h2.4v2.4h-2.4zM290.9 203.9h2.4v2.8h-2.4zM290.9 200.9h2.4v3h-2.4zM293.3 203.9h2.4v2.8h-2.4zM298.1 223.5h2.4v2h-2.4zM298.1 219.2h2.4v2.2h-2.4zM298.1 209.4h2.4v2.6h-2.4zM298.1 203.9h2.4v2.8h-2.4zM300.5 223.5h2.4v2h-2.4zM300.5 214.5h2.4v2.4h-2.4zM302.9 206.7h2.4v2.7h-2.4zM305.3 212.1h2.4v2.5h-2.4zM305.3 203.9h2.4v2.8h-2.4zM307.7 200.9h2.4v3h-2.4zM312.5 212.1h2.4v2.5h-2.4zM314.9 214.5h2.4v2.4h-2.4zM319.7 203.9h2.4v2.8h-2.4zM326.9 203.9h2.4v2.8h-2.4zM329.3 212.1h2.4v2.5h-2.4zM331.7 221.4h2.4v2.1h-2.4zM336.5 209.4h2.4v2.6h-2.4zM338.9 203.9h2.4v2.8h-2.4zM338.9 200.9h2.4v3h-2.4zM341.3 209.4h2.4v2.6h-2.4zM341.3 203.9h2.4v2.8h-2.4zM341.3 200.9h2.4v3h-2.4zM343.7 206.7h2.4v2.7h-2.4zM343.7 200.9h2.4v3h-2.4zM346.1 223.5h2.4v2h-2.4zM346.1 200.9h2.4v3h-2.4zM348.5 223.5h2.4v2h-2.4zM350.9 214.5h2.4v2.4h-2.4zM350.9 212.1h2.4v2.5h-2.4zM353.3 209.4h2.4v2.6h-2.4zM355.7 219.2h2.4v2.2h-2.4zM355.7 203.9h2.4v2.8h-2.4zM360.5 212.1h2.4v2.5h-2.4zM360.5 203.9h2.4v2.8h-2.4zM362.9 209.4h2.4v2.6h-2.4zM362.9 203.9h2.4v2.8h-2.4zM365.3 214.5h2.4v2.4h-2.4zM367.7 216.9h2.4v2.3h-2.4zM367.7 214.5h2.4v2.4h-2.4zM370.1 223.5h2.4v2h-2.4zM374.9 200.9h2.4v3h-2.4zM379.7 206.7h2.4v2.7h-2.4zM384.5 221.4h2.4v2.1h-2.4zM384.5 214.5h2.4v2.4h-2.4zM391.7 216.9h2.4v2.3h-2.4zM391.7 200.9h2.4v3h-2.4zM394.1 221.4h2.4v2.1h-2.4zM394.1 216.9h2.4v2.3h-2.4zM396.5 223.5h2.4v2h-2.4zM396.5 216.9h2.4v2.3h-2.4zM398.9 221.4h2.4v2.1h-2.4zM398.9 219.2h2.4v2.2h-2.4zM398.9 214.5h2.4v2.4h-2.4zM401.3 209.4h2.4v2.6h-2.4zM403.7 223.5h2.4v2h-2.4zM403.7 209.4h2.4v2.6h-2.4zM406.1 221.4h2.4v2.1h-2.4zM406.1 200.9h2.4v3h-2.4zM410.9 221.4h2.4v2.1h-2.4zM410.9 212.1h2.4v2.5h-2.4zM413.3 221.4h2.4v2.1h-2.4zM413.3 209.4h2.4v2.6h-2.4zM413.3 200.9h2.4v3h-2.4zM418.1 223.5h2.4v2h-2.4zM420.5 216.9h2.4v2.3h-2.4zM420.5 206.7h2.4v2.7h-2.4zM422.9 214.5h2.4v2.4h-2.4zM422.9 212.1h2.4v2.5h-2.4zM422.9 200.9h2.4v3h-2.4zM425.3 219.2h2.4v2.2h-2.4zM434.9 212.1h2.4v2.5h-2.4zM437.3 221.4h2.4v2.1h-2.4zM437.3 216.9h2.4v2.3h-2.4zM437.3 214.5h2.4v2.4h-2.4zM437.3 203.9h2.4v2.8h-2.4zM439.7 200.9h2.4v3h-2.4zM442.1 214.5h2.4v2.4h-2.4zM442.1 200.9h2.4v3h-2.4zM446.9 203.9h2.4v2.8h-2.4zM449.3 221.4h2.4v2.1h-2.4zM449.3 206.7h2.4v2.7h-2.4zM456.5 206.7h2.4v2.7h-2.4zM458.9 209.4h2.4v2.6h-2.4zM461.3 219.2h2.4v2.2h-2.4zM463.7 223.5h2.4v2h-2.4zM463.7 216.9h2.4v2.3h-2.4zM468.5 214.5h2.4v2.4h-2.4zM470.9 212.1h2.4v2.5h-2.4zM473.3 221.4h2.4v2.1h-2.4zM473.3 216.9h2.4v2.3h-2.4zM480.5 221.4h2.4v2.1h-2.4zM480.5 214.5h2.4v2.4h-2.4zM480.5 209.4h2.4v2.6h-2.4zM487.7 221.4h2.4v2.1h-2.4zM487.7 200.9h2.4v3h-2.4zM490.1 212.1h2.4v2.5h-2.4zM492.5 212.1h2.4v2.5h-2.4zM494.9 214.5h2.4v2.4h-2.4zM494.9 206.7h2.4v2.7h-2.4zM497.3 209.4h2.4v2.6h-2.4zM499.7 200.9h2.4v3h-2.4zM502.1 212.1h2.4v2.5h-2.4zM509.3 221.4h2.4v2.1h-2.4zM509.3 206.7h2.4v2.7h-2.4zM511.7 203.9h2.4v2.8h-2.4zM514.1 216.9h2.4v2.3h-2.4zM514.1 214.5h2.4v2.4h-2.4zM514.1 200.9h2.4v3h-2.4zM516.5 221.4h2.4v2.1h-2.4zM516.5 219.2h2.4v2.2h-2.4zM518.9 209.4h1.2v2.6h-1.2zM518.9 203.9h1.2v2.8h-1.2z" fill="#1010c0"/>
<path d="M91.7 199.6h2.4h2.4v3.2h2.4v-3.2h2.4v3.6h2.4v-3.6h2.4h2.4h2.4h2.4h2.4h2.4v2h2.4v-2h2.4v6h2.4v-2.7h2.4v-2.8h2.4v9.4h2.4v-3.8h2.4v6.5h2.4v-12.4h2.4v2h2.4v1.1h2.4v-3.3h2.4v11.1h2.4v5.2h2.4v6.5h2.4v-1.8h2.4v2.2h2.4v-0.3h2.4v1h2.4v-0.1h2.4v0.1h2.4v0.8h2.4v-4h2.4v3.9h2.4v-3.4h2.4v-0.1h2.4v1.2h2.4v-2h2.4v1h2.4v-1.9h2.4v2.2h2.4v-0.1h2.4v0.8h2.4v0.3h2.4v-1.1h2.4v1.7h2.4v-2.8h2.4v3.8h2.4v-2h2.4v-1.3h2.4v-1.7h2.4v-7.4h2.4v7h2.4v0.1h2.4v3.3h2.4v-2.3h2.4v4.4h2.4v-3.7h2.4v2.1h2.4v-1.5h2.4v1h2.4v-1.5h2.4v0.7h2.4v0.4h2.4v-1.5h2.4v-0.7h2.4v3.6h2.4v-3h2.4v-0.6h2.4v-0.1h2.4v-0.4h2.4v-0.9h2.4v-0.6h2.4v0.8h2.4v3h2.4v0.5h2.4v-0.2h2.4v1.3h2.4v-0.6h2.4v-2h2.4v2.7h2.4v1.5h2.4v-4.8h2.4v-3.9h2.4v-0.3h2.4v-0.2h2.4v-0.2h2.4v1h2.4v-1.5h2.4v4.8h2.4v7.2h2.4v-3h2.4v0.2h2.4v-0.2h2.4v-20.2h2.4v-3.5h2.4v9h2.4v-1.2h2.4v-0.6h2.4v-0.1h2.4v3.7h2.4v3.5h2.4v-8.5h2.4v-2.3h2.4v0.8h2.4v7.8h2.4v-9.5h2.4v1.5h2.4v-3.9h2.4v-0.2h2.4v0.9h2.4v-0.9h2.4v-11.8h2.4v0.4h2.4v-1.3h2.4h2.4v12.7h2.4v2.6h2.4v-2.6h2.4v2.9h2.4v1.9h2.4v-4.7h2.4v5.4h2.4v-4.4h2.4v4h2.4v-3.7h2.4v-1.4h2.4v6h2.4v0.8h2.4v-2.9h2.4v-3.9h2.4v4h2.4v-4h2.4v4.2h2.4v-4.2h2.4v2.3h2.4v-2.3h2.4h2.4h2.4h2.4v1.6h2.4v3.4h2.4v2.3h2.4v10.9h2.4v-6.1h2.4v4.2h2.4v-0.5h2.4v-0.2h2.4v-2.9h2.4v2.3h2.4v1.9h2.4v2.8h2.4v-1.9h2.4v-2.7h2.4v5.9h2.4v-6.5h2.4v4.8h2.4v-2.1h2.4v-1.3h2.4v-2.8h2.4v7.5h2.4v-5h2.4v1.7h2.4v-0.4h2.4v3h2.4v-4.7h2.4v9.4h2.4v-6.7h2.4v-0.5h2.4v0.4h2.4v5.3h2.4v-1.2h2.4v0.7h2.4v-0.7h2.4v-1.6h2.4v1.7h2.4v-0.2h2.4v1.5h1.2v21h-1.2v0.4h-2.4h-2.4v0.2h-2.4v-0.2h-2.4v-0.2h-2.4v0.2h-2.4v-0.3h-2.4v-0.6h-2.4v-0.7h-2.4v-0.2h-2.4v-1.9h-2.4v2.3h-2.4v-1.6h-2.4v0.5h-2.4v-0.2h-2.4v0.6h-2.4v-1.2h-2.4v2h-2.4v-1h-2.4v-0.6h-2.4v-0.6h-2.4v1.4h-2.4v-1.4h-2.4v1.9h-2.4v-0.4h-2.4v-0.5h-2.4v0.1h-2.4v0.5h-2.4v0.6h-2.4v-0.8h-2.4h-2.4v-0.2h-2.4v1.2h-2.4v-1.7h-2.4v-6.1h-2.4v-2.2h-2.4v0.9h-2.4v1.3h-2.4v-0.5h-2.4v0.2h-2.4h-2.4v-1.1h-2.4v1.3h-2.4v-1.9h-2.4v1.3h-2.4v-1.2h-2.4v2.7h-2.4v-2.7h-2.4v-0.8h-2.4v0.2h-2.4v2.4h-2.4v-1.1h-2.4v-1h-2.4v1.1h-2.4v-1.2h-2.4v1.5h-2.4v-1.3h-2.4v0.5h-2.4v0.9h-2.4v-0.8h-2.4v1.7h-2.4v-2.2h-2.4v-0.9h-2.4v-1.4h-2.4v0.1h-2.4v4h-2.4v-0.9h-2.4v2h-2.4v4.9h-2.4v1.3h-2.4v0.4h-2.4v-2.6h-2.4v2.1h-2.4v0.2h-2.4v-0.6h-2.4v-2.3h-2.4v0.9h-2.4v1.1h-2.4v-0.1h-2.4v-0.1h-2.4v-0.4h-2.4v3.4h-2.4v-0.4h-2.4v-2.2h-2.4v0.8h-2.4v0.8h-2.4v-0.8h-2.4v-0.9h-2.4v0.3h-2.4v-0.8h-2.4h-2.4v-0.1h-2.4v0.1h-2.4v0.3h-2.4v-0.4h-2.4v-0.3h-2.4v0.7h-2.4v0.9h-2.4v-0.4h-2.4v-0.1h-2.4v0.2h-2.4v-0.2h-2.4v-0.3h-2.4v0.2h-2.4v-0.3h-2.4v-0.3h-2.4h-2.4v0.4h-2.4v0.4h-2.4v0.1h-2.4v-0.7h-2.4v0.9h-2.4v-0.3h-2.4v-0.5h-2.4v0.1h-2.4v0.3h-2.4v-0.3h-2.4v0.3h-2.4v-0.2h-2.4v0.6h-2.4v-0.9h-2.4v1.2h-2.4v-1.1h-2.4v-0.3h-2.4v-1.6h-2.4v1.2h-2.4v-1h-2.4v1.2h-2.4v0.6h-2.4v-0.2h-2.4v1h-2.4v-0.8h-2.4v0.4h-2.4v-0.4h-2.4v0.1h-2.4v0.1h-2.4h-2.4v0.6h-2.4v-0.5h-2.4v0.3h-2.4v-0.5h-2.4v0.4h-2.4v0.1h-2.4v-0.9h-2.4v1.1h-2.4v-1h-2.4v0.2h-2.4v0.1h-2.4h-2.4v0.2h-2.4h-2.4v0.6h-2.4v-0.5h-2.4v0.4h-2.4v-0.6h-2.4v1.5h-2.4v-1.2h-2.4v0.3h-2.4v0.5h-2.4v-3.3h-2.4v1.7h-2.4v-1h-2.4v2.5h-2.4v-0.7h-2.4v-0.8h-2.4v3.1h-2.4v-2h-2.4v2h-2.4v-1.2h-2.4v0.5h-2.4h-2.4v0.7h-2.4v-0.9h-2.4v-1.5h-2.4v2.4h-2.4v-2.3h-2.4v2.1h-2.4v-0.3h-2.4z" fill="#1c6cff"/>
<path d="M91.7 199.6h2.4h2.4v4.3h2.4v-4.3h2.4v4.8h2.4v-4.8h2.4h2.4h2.4h2.4h2.4h2.4v2.9h2.4v-2.9h2.4v7.7h2.4v-3.3h2.4v-3.4h2.4v11.5h2.4v-4.6h2.4v4.7h2.4v-11.9h2.4v2.3h2.4v1.4h2.4v-4.4h2.4v12.6h2.4v5h2.4v6.8h2.4v-2h2.4v2.5h2.4v-0.3h2.4v1.1h2.4v-0.2h2.4v0.2h2.4v0.9h2.4v-4.5h2.4v4.4h2.4v-3.8h2.4v-0.1h2.4v1.4h2.4v-2.2h2.4v1.1h2.4v-2.2h2.4v2.5h2.4v-0.1h2.4v0.9h2.4v0.4h2.4v-1.3h2.4v1.9h2.4v-3.2h2.4v4.3h2.4v-2.2h2.4v-1.2h2.4v-1.5h2.4v-8.1h2.4v7.8h2.4v-0.4h2.4v3.5h2.4v-2.8h2.4v5h2.4v-4.2h2.4v2.4h2.4v-1.6h2.4v1.1h2.4v-1.7h2.4v0.8h2.4v0.5h2.4v-1.7h2.4v-0.8h2.4v4h2.4v-3.4h2.4v-0.6h2.4v0.1h2.4v-0.4h2.4v-0.9h2.4v-0.7h2.4v0.8h2.4v3.2h2.4v0.5h2.4v-0.3h2.4v1.4h2.4v-0.7h2.4v-2.2h2.4v3h2.4v1.8h2.4v-4.8h2.4v-4.2h2.4v-0.2h2.4v-0.3h2.4v-0.2h2.4v1.1h2.4v-1.8h2.4v5.2h2.4v7.5h2.4v-3h2.4v0.2h2.4v0.3h2.4v-18.8h2.4v-6.2h2.4v13.2h2.4v-1.3h2.4v-0.6h2.4v-0.2h2.4v4h2.4v3.1h2.4v-8.4h2.4v-2.5h2.4v0.8h2.4v8.3h2.4v-10.1h2.4v1.7h2.4v-5.1h2.4v-4.3h2.4v2.7h2.4v-2.7h2.4v-9.5h2.4v0.5h2.4v-3.7h2.4h2.4v12.7h2.4v3.2h2.4v-3.2h2.4v3.5h2.4v2.3h2.4v-5.7h2.4v6.5h2.4v-5.3h2.4v4.8h2.4v-4.4h2.4v-1.7h2.4v7.2h2.4v0.9h2.4v-3.4h2.4v-4.7h2.4v4.8h2.4v-4.8h2.4v5h2.4v-5h2.4v2.7h2.4v-2.7h2.4h2.4h2.4h2.4v1.9h2.4v4.1h2.4v2.5h2.4v12.1h2.4v-6.8h2.4v4.7h2.4v-0.5h2.4v-0.2h2.4v-3.4h2.4v2.7h2.4v2h2.4v2.6h2.4v-2.2h2.4v-3h2.4v6.8h2.4v-7.3h2.4v5.5h2.4v-2.4h2.4v-1.6h2.4v-3.2h2.4v8.5h2.4v-5.6h2.4v1.9h2.4v-0.4h2.4v3.3h2.4v-5.5h2.4v10.4h2.4v-7.4h2.4v-0.5h2.4v0.5h2.4v6h2.4v-1.2h2.4v0.7h2.4v-0.7h2.4v-1.9h2.4v1.9h2.4v-0.2h2.4v1.7h1.2v18.3h-1.2v0.4h-2.4h-2.4v0.4h-2.4v-0.4h-2.4v-0.2h-2.4v0.2h-2.4v-0.3h-2.4v-0.7h-2.4v-0.9h-2.4v-0.2h-2.4v-2.1h-2.4v2.6h-2.4v-1.8h-2.4v0.5h-2.4v-0.2h-2.4v0.7h-2.4v-1.3h-2.4v2.2h-2.4v-1h-2.4v-0.7h-2.4v-0.7h-2.4v1.6h-2.4v-1.7h-2.4v2.2h-2.4v-0.5h-2.4v-0.5h-2.4h-2.4v0.5h-2.4v0.8h-2.4v-0.9h-2.4v-0.1h-2.4v-0.1h-2.4v1.2h-2.4v-1.8h-2.4v-7.1h-2.4v-2.6h-2.4v1.1h-2.4v1.5h-2.4v-0.6h-2.4v0.2h-2.4h-2.4v-1.3h-2.4v1.6h-2.4v-2.3h-2.4v1.5h-2.4v-1.4h-2.4v3.2h-2.4v-3.2h-2.4v-0.9h-2.4v0.3h-2.4v2.7h-2.4v-1.3h-2.4v-1.1h-2.4v1.2h-2.4v-1.4h-2.4v1.8h-2.4v-1.5h-2.4v0.6h-2.4v1.1h-2.4v-1h-2.4v2h-2.4v-0.8h-2.4v-1.1h-2.4v-1.7h-2.4v0.2h-2.4v4.2h-2.4v-1h-2.4v2.2h-2.4v4.8h-2.4v1.1h-2.4v0.5h-2.4v-2.7h-2.4v2.2h-2.4v0.2h-2.4v-0.7h-2.4v-2.2h-2.4v0.8h-2.4v1.1h-2.4v-0.1h-2.4v-0.1h-2.4v-0.4h-2.4v3.6h-2.4v-0.4h-2.4v-2.3h-2.4v0.8h-2.4v0.8h-2.4v-0.8h-2.4v-1h-2.4v0.5h-2.4v-0.9h-2.4h-2.4v-0.1h-2.4v0.1h-2.4v0.3h-2.4v-0.5h-2.4v-0.3h-2.4v0.7h-2.4v1h-2.4v-0.5h-2.4v-0.1h-2.4v0.3h-2.4v-0.3h-2.4v-0.3h-2.4v0.3h-2.4v-0.3h-2.4v-0.3h-2.4v-0.1h-2.4v0.4h-2.4v0.5h-2.4v0.1h-2.4v-0.8h-2.4v1h-2.4v-0.3h-2.4v-0.5h-2.4v0.1h-2.4v0.3h-2.4v-0.4h-2.4v0.4h-2.4v-0.3h-2.4v0.8h-2.4v-1.1h-2.4v1.3h-2.4v-1.2h-2.4v-0.3h-2.4v-1.7h-2.4v1.5h-2.4v-1.2h-2.4v1.2h-2.4v0.7h-2.4v-0.3h-2.4v1.2h-2.4v-0.9h-2.4v0.4h-2.4v-0.4h-2.4h-2.4v0.2h-2.4v-0.1h-2.4v0.7h-2.4v-0.6h-2.4v0.4h-2.4v-0.5h-2.4v0.4h-2.4h-2.4v-0.9h-2.4v1.2h-2.4v-1.1h-2.4v0.2h-2.4v0.1h-2.4h-2.4v0.3h-2.4v-0.1h-2.4v0.7h-2.4v-0.5h-2.4v0.4h-2.4v-0.9h-2.4v1.7h-2.4v-1.5h-2.4v0.3h-2.4v0.7h-2.4v-3.3h-2.4v1.3h-2.4v-1.2h-2.4v3.1h-2.4v-0.9h-2.4v-0.9h-2.4v4.1h-2.4v-2.8h-2.4v2.8h-2.4v-1.8h-2.4v0.5h-2.4v0.1h-2.4v1.2h-2.4v-1.5h-2.4v-1.8h-2.4v3.3h-2.4v-3.2h-2.4v2.6h-2.4v-0.4h-2.4z" fill="#08c0ff"/>
<path d="M91.7 199.6h2.4h2.4v6h2.4v-6h2.4v6.6h2.4v-6.6h2.4h2.4h2.4h2.4v0.4h2.4v-0.4h2.4v4.4h2.4v-4.4h2.4v9.9h2.4v-3.8h2.4v-3.7h2.4v10.6h2.4v-3h2.4v3h2.4v-11h2.4v2.6h2.4v1.5h2.4v-6.1h2.4v14.2h2.4v4.4h2.4v6.9h2.4v-2.1h2.4v2.6h2.4v-0.3h2.4v1.2h2.4v-0.1h2.4v0.2h2.4v0.9h2.4v-4.9h2.4v4.8h2.4v-4.1h2.4v-0.1h2.4v1.5h2.4v-2.4h2.4v1.3h2.4v-2.4h2.4v2.7h2.4v-0.1h2.4v0.9h2.4v0.4h2.4v-1.3h2.4v2h2.4v-3.5h2.4v4.7h2.4v-2.3h2.4v-1.1h2.4v-1.4h2.4v-8.8h2.4v8.5h2.4v-0.7h2.4v3.6h2.4v-3.1h2.4v5.4h2.4v-4.5h2.4v2.6h2.4v-1.8h2.4v1.2h2.4v-1.7h2.4v0.8h2.4v0.6h2.4v-1.9h2.4v-0.9h2.4v4.4h2.4v-3.7h2.4v-0.6h2.4v0.1h2.4v-0.3h2.4v-1h2.4v-0.8h2.4v0.8h2.4v3.4h2.4v0.5h2.4v-0.4h2.4v1.5h2.4v-0.7h2.4v-2.4h2.4v3.4h2.4v2h2.4v-5h2.4v-4.5h2.4v-0.2h2.4v-0.2h2.4v-0.3h2.4v1.2h2.4v-2.1h2.4v5.6h2.4v8.1h2.4v-3h2.4v0.1h2.4v0.9h2.4v-16.6h2.4v-5.2h2.4v12.9h2.4v-1.3h2.4v-0.6h2.4v-0.1h2.4v3.8h2.4v1.6h2.4v-6.7h2.4v-2.5h2.4v0.9h2.4v8h2.4v-9.8h2.4v1.6h2.4v-5.9h2.4v-8.8h2.4v4.9h2.4v-4.2h2.4v-8.3h2.4v0.6h2.4v-5.7h2.4h2.4v12.7h2.4v5h2.4v-4.2h2.4v4.5h2.4v2.5h2.4v-6.1h2.4v6.9h2.4v-5.6h2.4v5.1h2.4v-4.7h2.4v-3.4h2.4v9.3h2.4v0.8h2.4v-3.5h2.4v-6.6h2.4v6.7h2.4v-5.5h2.4v5.8h2.4v-7h2.4v4.5h2.4v-4.5h2.4h2.4v0.2h2.4v-0.2h2.4v3.7h2.4v4.3h2.4v2.5h2.4v12.6h2.4v-7.3h2.4v5.1h2.4v-0.6h2.4v-0.2h2.4v-3.6h2.4v2.9h2.4v2h2.4v2.2h2.4v-2.4h2.4v-3.2h2.4v7.3h2.4v-7.7h2.4v5.9h2.4v-2.6h2.4v-1.7h2.4v-3.5h2.4v9.1h2.4v-6h2.4v2.1h2.4v-0.5h2.4v3.6h2.4v-6h2.4v10h2.4v-6.8h2.4v-0.6h2.4v0.7h2.4v6.8h2.4v-1.3h2.4v0.7h2.4v-0.7h2.4v-2h2.4v2h2.4v-0.2h2.4v1.7h1.2v15.6h-1.2v0.5h-2.4v-0.1h-2.4v0.5h-2.4v-0.5h-2.4v-0.2h-2.4v0.2h-2.4v-0.3h-2.4v-0.9h-2.4v-1h-2.4v-0.2h-2.4v-1.9h-2.4v2.4h-2.4v-1.9h-2.4v0.6h-2.4v-0.2h-2.4v0.7h-2.4v-1.4h-2.4v2.4h-2.4v-1.2h-2.4v-0.7h-2.4v-0.7h-2.4v1.7h-2.4v-1.8h-2.4v2.3h-2.4v-0.6h-2.4v-0.5h-2.4v0.1h-2.4v0.5h-2.4v0.8h-2.4v-1h-2.4h-2.4v-0.2h-2.4v1.4h-2.4v-2h-2.4v-8.3h-2.4v-3h-2.4v1.1h-2.4v1.6h-2.4v-0.6h-2.4v0.2h-2.4h-2.4v-1.4h-2.4v1.7h-2.4v-2.4h-2.4v1.6h-2.4v-1.5h-2.4v3.4h-2.4v-3.4h-2.4v-0.9h-2.4v0.2h-2.4v3h-2.4v-1.4h-2.4v-1.3h-2.4v1.4h-2.4v-1.5h-2.4v1.9h-2.4v-1.7h-2.4v0.7h-2.4v1.2h-2.4v-1.1h-2.4v2.1h-2.4v1.2h-2.4v-1.3h-2.4v-1.9h-2.4v0.2h-2.4v4h-2.4v-1.1h-2.4v2.5h-2.4v4.7h-2.4v1.2h-2.4v0.4h-2.4v-2.6h-2.4v2.2h-2.4v0.2h-2.4v-0.7h-2.4v-1.8h-2.4v0.4h-2.4v1.1h-2.4v-0.1h-2.4v-0.1h-2.4v-0.4h-2.4v3.5h-2.4v-0.4h-2.4v-2.3h-2.4v0.9h-2.4v0.8h-2.4v-0.8h-2.4v-1.1h-2.4v0.6h-2.4v-1h-2.4v0.1h-2.4v-0.1h-2.4v0.1h-2.4v0.3h-2.4v-0.6h-2.4v-0.4h-2.4v0.9h-2.4v1.1h-2.4v-0.6h-2.4v-0.2h-2.4v0.4h-2.4v-0.3h-2.4v-0.3h-2.4v0.3h-2.4v-0.3h-2.4v-0.4h-2.4h-2.4v0.4h-2.4v0.5h-2.4v0.1h-2.4v-0.9h-2.4v1.1h-2.4v-0.3h-2.4v-0.6h-2.4v0.2h-2.4v0.2h-2.4v-0.4h-2.4v0.5h-2.4v-0.4h-2.4v0.9h-2.4v-1.2h-2.4v1.4h-2.4v-1.3h-2.4v-0.2h-2.4v-1.8h-2.4v1.6h-2.4v-1.3h-2.4v1.2h-2.4v0.7h-2.4v-0.3h-2.4v1.3h-2.4v-1h-2.4v0.5h-2.4v-0.5h-2.4h-2.4v0.3h-2.4v-0.1h-2.4v0.7h-2.4v-0.6h-2.4v0.4h-2.4v-0.6h-2.4v0.5h-2.4h-2.4v-1h-2.4v1.4h-2.4v-1.3h-2.4v0.3h-2.4h-2.4h-2.4v0.3h-2.4h-2.4v0.7h-2.4v-0.6h-2.4v0.1h-2.4v-1.5h-2.4v1.5h-2.4v-1.7h-2.4v0.4h-2.4v0.7h-2.4v-3h-2.4v0.8h-2.4v-0.8h-2.4v2.9h-2.4v-1h-2.4v-1h-2.4v4.6h-2.4v-3.2h-2.4v4.5h-2.4v-3.4h-2.4v0.7h-2.4h-2.4v1.7h-2.4v-2h-2.4v-2.1h-2.4v3.8h-2.4v-3.6h-2.4v2.9h-2.4v-0.5h-2.4z" fill="#00e8e0"/>
<path d="M91.7 201.9h2.4v-1.6h2.4v10.5h2.4v-11.2h2.4v11.8h2.4v-7.6h2.4v-4.2h2.4v3.2h2.4v0.1h2.4v2.4h2.4v-5.7h2.4v9.6h2.4v-9.6h2.4v15h2.4v-3.7h2.4v-3.7h2.4v8.2h2.4v-0.7h2.4v0.7h2.4v-8.5h2.4v2.5h2.4v1.5h2.4v-6.2h2.4v12.9h2.4v2.6h2.4v5.9h2.4v-2.5h2.4v3.1h2.4v-0.4h2.4v1.4h2.4v-0.2h2.4v0.3h2.4v1h2.4v-5.5h2.4v5.4h2.4v-4.6h2.4v-0.1h2.4v1.7h2.4v-2.7h2.4v1.4h2.4v-2.6h2.4v3h2.4v-0.1h2.4v1.1h2.4v0.4h2.4v-1.6h2.4v2.3h2.4v-4h2.4v5.4h2.4v-2.6h2.4v-1h2.4v-1h2.4v-10h2.4v9.8h2.4v-1.4h2.4v3.8h2.4v-3.7h2.4v6.2h2.4v-5.1h2.4v3h2.4v-2h2.4v1.4h2.4v-2h2.4v1h2.4v0.6h2.4v-2.2h2.4v-1h2.4v5h2.4v-4.2h2.4v-0.6h2.4v0.3h2.4v-0.3h2.4v-1h2.4v-1h2.4v0.7h2.4v3.8h2.4v0.4h2.4v-0.4h2.4v1.7h2.4v-0.8h2.4v-2.8h2.4v3.9h2.4v2h2.4v-5h2.4v-5h2.4v-0.1h2.4v-0.1h2.4v-0.4h2.4v1.3h2.4v-2.6h2.4v6.2h2.4v9.2h2.4v-2.4h2.4v-0.3h2.4v1h2.4v-14.2h2.4v-4.3h2.4v11.7h2.4v-1.3h2.4v-0.5h2.4v-0.2h2.4v3.9h2.4h2.4v-5.2h2.4v-2.4h2.4v0.8h2.4v6.8h2.4v-8.6h2.4v1.6h2.4v-6.7h2.4v-12.4h2.4v6.9h2.4v-4.8h2.4v-7.8h2.4v0.8h2.4v-7.8h2.4h2.4v12.7h2.4v7.9h2.4v-4.5h2.4v4.9h2.4v2.6h2.4v-6.5h2.4v7.2h2.4v-5.8h2.4v5.5h2.4v-5.1h2.4v-5.5h2.4v10.9h2.4h2.4v-1.9h2.4v-9.7h2.4v9.8h2.4v-5.9h2.4v6.2h2.4v-9.5h2.4v6.8h2.4v-5.6h2.4h2.4v1h2.4v-2.7h2.4v6.4h2.4v4.6h2.4v2.2h2.4v11.5h2.4v-8.3h2.4v5.7h2.4v-0.6h2.4v-0.3h2.4v-4h2.4v3.2h2.4v2.4h2.4v2.6h2.4v-2.6h2.4v-3.4h2.4v8h2.4v-8.4h2.4v6.5h2.4v-2.9h2.4v-1.9h2.4v-3.9h2.4v10h2.4v-6.5h2.4v2.3h2.4v-0.5h2.4v3.8h2.4v-6.6h2.4v9.6h2.4v-6.2h2.4v-0.6h2.4v0.8h2.4v7.5h2.4v-1.4h2.4v0.8h2.4v-0.8h2.4v-2.1h2.4v2.1h2.4v-0.2h2.4v1.8h1.2v12.8h-1.2v0.5h-2.4h-2.4v0.5h-2.4v-0.5h-2.4v-0.2h-2.4v0.2h-2.4v-0.4h-2.4v-1.1h-2.4v-1.1h-2.4v-0.2h-2.4v-1.7h-2.4v2.3h-2.4v-2.1h-2.4v0.7h-2.4v-0.2h-2.4v0.8h-2.4v-1.6h-2.4v2.6h-2.4v-1.2h-2.4v-0.8h-2.4v-0.9h-2.4v2h-2.4v-2h-2.4v2.5h-2.4v-0.6h-2.4v-0.6h-2.4h-2.4v0.6h-2.4v0.9h-2.4v-1.1h-2.4h-2.4v-0.2h-2.4v1.5h-2.4v-2.2h-2.4v-8.9h-2.4v-3.2h-2.4v1.3h-2.4v1.7h-2.4v-0.7h-2.4v0.2h-2.4h-2.4v-1.5h-2.4v1.8h-2.4v-2.5h-2.4v1.7h-2.4v-1.6h-2.4v3.7h-2.4v-3.7h-2.4v-0.5h-2.4h-2.4v2.9h-2.4v-1.5h-2.4v-1.3h-2.4v1.4h-2.4v-1.5h-2.4v1.9h-2.4v-1.7h-2.4v0.7h-2.4v1.3h-2.4v-1.2h-2.4v2.3h-2.4v2.5h-2.4v-1.5h-2.4v-2.3h-2.4v0.2h-2.4v4.1h-2.4v-1.3h-2.4v2.8h-2.4v4.5h-2.4v1.1h-2.4v0.4h-2.4v-2.3h-2.4v1.8h-2.4v0.3h-2.4v-0.7h-2.4v-1.4h-2.4h-2.4v1.1h-2.4v-0.1h-2.4v-0.1h-2.4v-0.4h-2.4v3.2h-2.4v-0.3h-2.4v-2.1h-2.4v0.9h-2.4v0.7h-2.4v-0.8h-2.4v-1h-2.4v0.7h-2.4v-1.1h-2.4v0.1h-2.4v-0.2h-2.4v0.2h-2.4v0.3h-2.4v-0.7h-2.4v-0.3h-2.4v0.8h-2.4v1.2h-2.4v-0.6h-2.4v-0.2h-2.4v0.4h-2.4v-0.3h-2.4v-0.3h-2.4v0.4h-2.4v-0.3h-2.4v-0.5h-2.4h-2.4v0.4h-2.4v0.6h-2.4v0.1h-2.4v-1.1h-2.4v1.3h-2.4v-0.4h-2.4v-0.6h-2.4v0.1h-2.4v0.3h-2.4v-0.4h-2.4v0.5h-2.4v-0.4h-2.4v0.9h-2.4v-1.3h-2.4v1.6h-2.4v-1.4h-2.4v-0.2h-2.4v-2h-2.4v2h-2.4v-1.7h-2.4v1.3h-2.4v0.8h-2.4v-0.4h-2.4v1.4h-2.4v-1.1h-2.4v0.5h-2.4v-0.5h-2.4v0.1h-2.4v0.2h-2.4h-2.4v0.8h-2.4v-0.7h-2.4v0.4h-2.4v-0.6h-2.4v0.5h-2.4h-2.4v-1.1h-2.4v1.5h-2.4v-1.4h-2.4v0.3h-2.4v0.1h-2.4v-0.1h-2.4v0.4h-2.4v-0.1h-2.4v0.8h-2.4v-0.6h-2.4v-0.5h-2.4v-2.6h-2.4v0.5h-2.4v-1.7h-2.4v0.4h-2.4v0.7h-2.4v-2.3h-2.4v0.2h-2.4v-0.2h-2.4v2.2h-2.4v-1h-2.4v-0.9h-2.4v4.5h-2.4v-3.1h-2.4v3.8h-2.4v-2.7h-2.4v0.6h-2.4h-2.4v1.7h-2.4v-1.9h-2.4v-2.1h-2.4v3.7h-2.4v-3.5h-2.4v2.8h-2.4v-0.4h-2.4z" fill="#10f070"/>
<path d="M91.7 205.8h2.4v-1.5h2.4v9.7h2.4v-12h2.4v12.5h2.4v-7h2.4v-6.2h2.4v5.3h2.4v0.1h2.4v2.2h2.4v-7.6h2.4v11.3h2.4v-10.8h2.4v15h2.4v-2.7h2.4v-3.4h2.4v6.1h2.4h2.4h2.4v-6.4h2.4v2.3h2.4v1.4h2.4v-5.7h2.4v11.6h2.4v1.9h2.4v5.3h2.4v-2.6h2.4v3.2h2.4v-0.4h2.4v1.4h2.4v-0.1h2.4v0.2h2.4v1.1h2.4v-5.8h2.4v5.8h2.4v-4.9h2.4v-0.1h2.4v1.8h2.4v-2.8h2.4v1.5h2.4v-2.8h2.4v3.2h2.4v-0.1h2.4v1.1h2.4v0.5h2.4v-1.7h2.4v2.3h2.4v-4.1h2.4v5.6h2.4v-2.6h2.4v-1h2.4v-0.8h2.4v-10.6h2.4v10.4h2.4v-1.7h2.4v3.8h2.4v-3.9h2.4v6.5h2.4v-5.4h2.4v3.2h2.4v-2.1h2.4v1.5h2.4v-2.1h2.4v1.1h2.4v0.7h2.4v-2.4h2.4v-1.1h2.4v5.3h2.4v-4.4h2.4v-0.7h2.4v0.4h2.4v-0.2h2.4v-1.1h2.4v-1.1h2.4v0.8h2.4v3.9h2.4v0.4h2.4v-0.5h2.4v1.8h2.4v-0.8h2.4v-2.9h2.4v4.1h2.4v1.3h2.4v-4.3h2.4v-5.4h2.4h2.4v-0.1h2.4v-0.4h2.4v1.4h2.4v-2.9h2.4v6.5h2.4v9.5h2.4v-1.5h2.4v-0.9h2.4v0.9h2.4v-12.3h2.4v-3.8h2.4v10.5h2.4v-1.3h2.4v-0.6h2.4v-0.2h2.4v2.9h2.4h2.4v-4.2h2.4v-2.4h2.4v0.8h2.4v5.8h2.4v-7.5h2.4v1.6h2.4v-7.2h2.4v-14.6h2.4v8.4h2.4v-5.3h2.4v-6.9h2.4v0.9h2.4v-9.7h2.4v-0.1h2.4v14.5h2.4v8.8h2.4v-4.5h2.4v4.9h2.4v2.1h2.4v-6.1h2.4v6.1h2.4v-4.6h2.4v4.6h2.4v-4.2h2.4v-5.6h2.4v9.8h2.4h2.4v-0.7h2.4v-12.4h2.4v12.6h2.4v-6.1h2.4v6.3h2.4v-9.6h2.4v6.9h2.4v-5.7h2.4h2.4v1h2.4v-2.7h2.4v6.5h2.4v3.9h2.4v2.6h2.4v10.6h2.4v-8.9h2.4v6.1h2.4v-0.7h2.4v-0.2h2.4v-4.3h2.4v3.4h2.4v2.5h2.4v2.4h2.4v-2.7h2.4v-3.5h2.4v7.8h2.4v-8.2h2.4v6.9h2.4v-3.1h2.4v-2h2.4v-3.4h2.4v9.7h2.4v-6.7h2.4v2.4h2.4v-0.6h2.4v3.9h2.4v-6.7h2.4v9h2.4v-5.5h2.4v-0.6h2.4v0.9h2.4v7.9h2.4v-1.4h2.4v0.8h2.4v-0.8h2.4v-2.1h2.4v2.1h2.4v-0.2h2.4v1.9h1.2v10.6h-1.2v0.5h-2.4v-0.1h-2.4v0.6h-2.4v-0.6h-2.4v-0.2h-2.4v0.2h-2.4v-0.4h-2.4v-1.6h-2.4v-1.4h-2.4v-0.2h-2.4v-1.5h-2.4v2.1h-2.4v-2.1h-2.4v0.7h-2.4v-0.2h-2.4v0.8h-2.4v-1.7h-2.4v2.6h-2.4v-1.1h-2.4v-0.8h-2.4v-0.9h-2.4v2h-2.4v-1.9h-2.4v2.4h-2.4v-0.6h-2.4v-0.6h-2.4v0.5h-2.4v0.7h-2.4v0.9h-2.4v-1.2h-2.4h-2.4v-0.2h-2.4v1.6h-2.4v-2.4h-2.4v-9.1h-2.4v-3h-2.4v1h-2.4v1.8h-2.4v-0.8h-2.4v0.3h-2.4h-2.4v-1.5h-2.4v1.8h-2.4v-2.6h-2.4v1.7h-2.4v-1.6h-2.4v3.7h-2.4v-3.7h-2.4v-0.1h-2.4h-2.4v2.6h-2.4v-1.5h-2.4v-1.1h-2.4v1.2h-2.4v-1.2h-2.4v1.6h-2.4v-1.6h-2.4v0.5h-2.4v1.4h-2.4v-1.3h-2.4v2.4h-2.4v3.5h-2.4v-1.7h-2.4v-2.6h-2.4v0.2h-2.4v4.1h-2.4v-1.4h-2.4v2.9h-2.4v4.4h-2.4v1h-2.4v0.4h-2.4v-2h-2.4v1.6h-2.4v0.2h-2.4v-0.7h-2.4v-1.1h-2.4h-2.4v0.8h-2.4v-0.1h-2.4v-0.1h-2.4v-0.4h-2.4v2.8h-2.4v-0.2h-2.4v-1.7h-2.4v0.7h-2.4v0.6h-2.4v-0.5h-2.4v-1.1h-2.4v0.8h-2.4v-1.2h-2.4v0.1h-2.4v-0.1h-2.4v0.1h-2.4v0.3h-2.4v-0.7h-2.4v-0.2h-2.4v0.7h-2.4v1.3h-2.4v-0.7h-2.4v-0.2h-2.4v0.4h-2.4v-0.3h-2.4v-0.3h-2.4v0.4h-2.4v-0.3h-2.4v-0.5h-2.4h-2.4v0.4h-2.4v0.6h-2.4v0.1h-2.4v-1.1h-2.4v1.3h-2.4v-0.4h-2.4v-0.6h-2.4v0.1h-2.4v0.4h-2.4v-0.5h-2.4v0.5h-2.4v-0.4h-2.4v0.9h-2.4v-1.3h-2.4v1.7h-2.4v-1.5h-2.4v-0.2h-2.4v-2.1h-2.4v2.2h-2.4v-1.9h-2.4v1.4h-2.4v0.8h-2.4v-0.5h-2.4v1.6h-2.4v-1.2h-2.4v0.6h-2.4v-0.6h-2.4v0.1h-2.4v0.2h-2.4h-2.4v0.8h-2.4v-0.7h-2.4v0.5h-2.4v-0.7h-2.4v0.5h-2.4v0.1h-2.4v-1.3h-2.4v1.6h-2.4v-1.5h-2.4v0.4h-2.4v0.1h-2.4v-0.1h-2.4v0.4h-2.4v-0.1h-2.4v0.9h-2.4v-0.7h-2.4v-1.2h-2.4v-3.6h-2.4v-0.5h-2.4v-1.5h-2.4v0.4h-2.4v0.6h-2.4v-1.7h-2.4h-2.4h-2.4v1.6h-2.4v-0.9h-2.4v-0.7h-2.4v4h-2.4v-2.9h-2.4v3h-2.4v-2h-2.4v0.6h-2.4h-2.4v1.4h-2.4v-1.6h-2.4v-1.9h-2.4v3.4h-2.4v-3.3h-2.4v2.6h-2.4v-0.4h-2.4z" fill="#40f030"/>
<path d="M91.7 244.5h2.4h2.4h2.4h2.4h2.4h2.4h2.4h2.4h2.4h2.4h2.4h2.4h2.4h2.4h2.4h2.4h2.4h2.4h2.4h2.4h2.4h2.4h2.4h2.4v-10.8h2.4v-5h2.4v-3.2h2.4v4h2.4v-0.4h2.4v1.7h2.4v-0.1h2.4h2.4h2.4v-5.6h2.4v5.4h2.4v-4.2h2.4v-0.1h2.4v2.4h2.4v-3.6h2.4v1.9h2.4v-3.6h2.4v4.2h2.4v-0.2h2.4v1.4h2.4v0.5h2.4v-2.2h2.4v3h2.4v-5.3h2.4v5.8h2.4v-1.8h2.4v-0.6h2.4v-2h2.4v-11.8h2.4v11.3h2.4v-0.9h2.4v4.2h2.4v-5.1h2.4v6.8h2.4v-5.4h2.4v4h2.4v-2.5h2.4v2h2.4v-2.7h2.4v1.4h2.4v0.9h2.4v-3.1h2.4v-1.4h2.4v6.2h2.4v-5.1h2.4v-0.7h2.4v0.7h2.4h2.4v-1.3h2.4v-1.5h2.4v0.7h2.4v4.7h2.4v0.3h2.4v-0.7h2.4v2.2h2.4v-1h2.4v-3.6h2.4v5.3h2.4v-0.3h2.4v-2.3h2.4v-6.2h2.4v0.2h2.4v-0.1h2.4v-0.6h2.4v1.7h2.4v-4h2.4v7.9h2.4v18.2h2.4h2.4h2.4h2.4v-6.4h2.4v-5.3h2.4v1.7h2.4h2.4v-0.2h2.4h2.4v0.2h2.4h2.4v-0.5h2.4v-0.7h2.4v0.3h2.4v0.9h2.4v-1.4h2.4v0.4h2.4v-4.8h2.4v-12.5h2.4v3.3h2.4v-2.5h2.4v-18.3h2.4v1.2h2.4v-13h2.4h2.4v27.8h2.4v4h2.4v-2.1h2.4v2.1h2.4h2.4v-1.6h2.4v1.6h2.4v-0.9h2.4v0.9h2.4v-0.7h2.4v-2.7h2.4v3.4h2.4h2.4h2.4v-4h2.4v4h2.4v-1.9h2.4v1.9h2.4v-3.4h2.4v3.2h2.4v-2.7h2.4h2.4v0.5h2.4v-1.3h2.4v3.1h2.4v0.6h2.4v3.2h2.4v10.1h2.4v-4h2.4v2.8h2.4v-0.4h2.4v-0.1h2.4v-2.3h2.4v1.7h2.4v1.4h2.4v0.5h2.4v-2.1h2.4v-2.2h2.4v3.7h2.4v-5.1h2.4v4.4h2.4v-1.4h2.4v-1.5h2.4v-0.7h2.4v4.5h2.4v-4.1h2.4v1.8h2.4v-0.4h2.4v2.8h2.4v-3.5h2.4v4.4h2.4v-2.6h2.4v-0.4h2.4v-0.1h2.4v5.2h2.4v-1.5h2.4v0.8h2.4v-0.8h2.4v-2.3h2.4v2.3h2.4v-0.2h2.4v2h1.2v5.6h-1.2v0.6h-2.4v-0.1h-2.4v0.6h-2.4v-0.6h-2.4v-0.2h-2.4v0.2h-2.4v-0.4h-2.4v-2h-2.4v-1.5h-2.4v-0.1h-2.4v-0.8h-2.4v0.9h-2.4v-1.3h-2.4v0.4h-2.4v-0.2h-2.4v0.7h-2.4v-0.9h-2.4v1.1h-2.4v-0.4h-2.4v-0.6h-2.4v-0.5h-2.4v1.4h-2.4v-1.1h-2.4v1.3h-2.4v-0.3h-2.4v-0.4h-2.4v0.1h-2.4v0.4h-2.4v0.5h-2.4v-0.6h-2.4v-0.1h-2.4v-0.1h-2.4v0.8h-2.4v-1.1h-2.4v-10.1h-2.4v-3.2h-2.4v0.2h-2.4v0.8h-2.4v-0.3h-2.4v0.1h-2.4h-2.4v-0.7h-2.4v0.9h-2.4v-1h-2.4v0.6h-2.4v-0.6h-2.4v1.1h-2.4v-1.1h-2.4h-2.4h-2.4v1h-2.4v-0.8h-2.4v-0.2h-2.4v0.3h-2.4v-0.3h-2.4v0.5h-2.4v-0.5h-2.4h-2.4v0.6h-2.4v-0.6h-2.4v1.1h-2.4v5.4h-2.4v-1.8h-2.4v-3.8h-2.4v0.3h-2.4v2.4h-2.4v-0.6h-2.4v0.9h-2.4v7.6h-2.4v2.3h-2.4v0.2h-2.4v-0.4h-2.4v0.2h-2.4v0.1h-2.4v-0.2h-2.4v-0.1h-2.4h-2.4h-2.4h-2.4h-2.4h-2.4v0.4h-2.4v4.3h-2.4v3.6h-2.4h-2.4h-2.4h-2.4v-8.1h-2.4v1.2h-2.4v-1.5h-2.4v0.2h-2.4v-0.2h-2.4v0.1h-2.4v0.4h-2.4v-0.8h-2.4v0.8h-2.4v0.2h-2.4v1.6h-2.4v-0.8h-2.4v-0.3h-2.4v0.6h-2.4v-0.4h-2.4v-0.4h-2.4v0.7h-2.4v-0.3h-2.4v-0.6h-2.4v-0.1h-2.4v0.5h-2.4v0.7h-2.4h-2.4v-1.3h-2.4v1.6h-2.4v-0.4h-2.4v-0.9h-2.4v0.2h-2.4v0.4h-2.4v-0.6h-2.4v0.7h-2.4v-0.6h-2.4v1.2h-2.4v-1.4h-2.4v1.8h-2.4v-1.8h-2.4v-0.1h-2.4v-1.8h-2.4v2.3h-2.4v-2.1h-2.4v1h-2.4v0.9h-2.4v-0.2h-2.4v1.6h-2.4v-1.5h-2.4v0.7h-2.4v-0.7h-2.4v0.1h-2.4v0.4h-2.4v-0.1h-2.4v1.1h-2.4v-1h-2.4v0.6h-2.4v-0.9h-2.4v0.7h-2.4v0.1h-2.4v-1.1h-2.4v1.5h-2.4v-1.4h-2.4h-2.4h-2.4h-2.4v0.5h-2.4v-0.1h-2.4v1h-2.4v-0.8h-2.4v3.9h-2.4v3h-2.4h-2.4h-2.4h-2.4h-2.4h-2.4h-2.4h-2.4h-2.4h-2.4h-2.4h-2.4h-2.4h-2.4h-2.4h-2.4h-2.4h-2.4h-2.4h-2.4h-2.4h-2.4h-2.4h-2.4z" fill="#98fc10"/>
<path d="M91.7 199.3h2.4h2.4h2.4h2.4h2.4h2.4h2.4h2.4h2.4h2.4h2.4h2.4h2.4h2.4h2.4h2.4h2.4h2.4h2.4h2.4h2.4h2.4h2.4h2.4h2.4h2.4h2.4h2.4h2.4h2.4h2.4h2.4h2.4h2.4h2.4h2.4h2.4h2.4h2.4h2.4h2.4h2.4h2.4h2.4h2.4h2.4h2.4h2.4h2.4h2.4h2.4h2.4h2.4h2.4h2.4h2.4h2.4h2.4h2.4h2.4h2.4h2.4h2.4h2.4h2.4h2.4h2.4h2.4h2.4h2.4h2.4h2.4h2.4h2.4h2.4h2.4h2.4h2.4h2.4h2.4h2.4h2.4h2.4h2.4h2.4h2.4h2.4h2.4h2.4h2.4h2.4h2.4h2.4h2.4h2.4h2.4h2.4h2.4h2.4h2.4h2.4h2.4h2.4h2.4h2.4h2.4h2.4h2.4h2.4h2.4h2.4v-6.3h2.4v4.5h2.4v-10.5h2.4v6.6h2.4v-16.3h2.4v17.4h2.4v-6.2h2.4v-4h2.4v1.7h2.4v-6.1h2.4v19.2h2.4v-19.2h2.4v17.9h2.4v-5.5h2.4v-6.4h2.4v-5.1h2.4v15.8h2.4v-10.5h2.4v9.8h2.4v-15.1h2.4v11.1h2.4v-3.8h2.4v11h2.4v-19.2h2.4v10.5h2.4v-2.9h2.4v11.6h2.4v-11.1h2.4v7.6h2.4v3.5h2.4v-19.1h2.4v1.2h2.4v17.9h2.4h2.4h2.4h2.4h2.4h2.4h2.4h2.4h2.4h2.4h2.4h2.4h2.4h2.4h2.4h2.4h2.4h2.4h2.4h2.4h2.4h2.4h2.4h2.4h2.4h2.4h2.4h2.4h2.4h2.4h2.4h2.4h2.4h2.4h2.4h1.2h-1.2h-2.4h-2.4h-2.4h-2.4h-2.4h-2.4h-2.4h-2.4h-2.4h-2.4h-2.4h-2.4h-2.4h-2.4h-2.4h-2.4h-2.4h-2.4h-2.4h-2.4h-2.4h-2.4h-2.4h-2.4h-2.4h-2.4h-2.4h-2.4h-2.4h-2.4h-2.4h-2.4h-2.4h-2.4h-2.4h-2.4h-2.4h-2.4h-2.4h-2.4h-2.4h-2.4h-2.4h-2.4h-2.4h-2.4h-2.4h-2.4h-2.4h-2.4h-2.4h-2.4h-2.4h-2.4h-2.4h-2.4h-2.4h-2.4h-2.4h-2.4h-2.4h-2.4h-2.4h-2.4h-2.4h-2.4h-2.4h-2.4h-2.4h-2.4h-2.4h-2.4h-2.4h-2.4h-2.4h-2.4h-2.4h-2.4h-2.4h-2.4h-2.4h-2.4h-2.4h-2.4h-2.4h-2.4h-2.4h-2.4h-2.4h-2.4h-2.4h-2.4h-2.4h-2.4h-2.4h-2.4h-2.4h-2.4h-2.4h-2.4h-2.4h-2.4h-2.4h-2.4h-2.4h-2.4h-2.4h-2.4h-2.4h-2.4h-2.4h-2.4h-2.4h-2.4h-2.4h-2.4h-2.4h-2.4h-2.4h-2.4h-2.4h-2.4h-2.4h-2.4h-2.4h-2.4h-2.4h-2.4h-2.4h-2.4h-2.4h-2.4h-2.4h-2.4h-2.4h-2.4h-2.4h-2.4h-2.4h-2.4h-2.4h-2.4h-2.4h-2.4h-2.4h-2.4h-2.4h-2.4h-2.4h-2.4h-2.4h-2.4h-2.4h-2.4h-2.4h-2.4h-2.4h-2.4h-2.4h-2.4h-2.4h-2.4h-2.4h-2.4h-2.4h-2.4h-2.4h-2.4h-2.4h-2.4h-2.4h-2.4h-2.4h-2.4h-2.4h-2.4h-2.4h-2.4z" fill="#1c50f8"/>
<path d="M91.7 199.3h2.4h2.4h2.4h2.4h2.4h2.4h2.4h2.4h2.4h2.4h2.4h2.4h2.4h2.4h2.4h2.4h2.4h2.4h2.4h2.4h2.4h2.4h2.4h2.4h2.4h2.4h2.4h2.4h2.4h2.4h2.4h2.4h2.4h2.4h2.4h2.4h2.4h2.4h2.4h2.4h2.4h2.4h2.4h2.4h2.4h2.4h2.4h2.4h2.4h2.4h2.4h2.4h2.4h2.4h2.4h2.4h2.4h2.4h2.4h2.4h2.4h2.4h2.4h2.4h2.4h2.4h2.4h2.4h2.4h2.4h2.4h2.4h2.4h2.4h2.4h2.4h2.4h2.4h2.4h2.4h2.4h2.4h2.4h2.4h2.4h2.4h2.4h2.4h2.4h2.4h2.4h2.4h2.4h2.4h2.4h2.4h2.4h2.4h2.4h2.4h2.4h2.4h2.4h2.4h2.4h2.4h2.4h2.4h2.4h2.4h2.4v-3h2.4v3h2.4v-9.9h2.4v8.6h2.4v-17.9h2.4v19.2h2.4v-5.8h2.4v-3.4h2.4v1.5h2.4v-3.3h2.4v11h2.4v-11h2.4v11h2.4v-2.3h2.4v-5.5h2.4v-3.2h2.4v11h2.4v-7.6h2.4v7.6h2.4v-11h2.4v8.3h2.4v-3.2h2.4v5.9h2.4v-11h2.4v7.1h2.4v-2.5h2.4v6.4h2.4v-6h2.4v6h2.4h2.4v-11h2.4h2.4v11h2.4h2.4h2.4h2.4h2.4h2.4h2.4h2.4h2.4h2.4h2.4h2.4h2.4h2.4h2.4h2.4h2.4h2.4h2.4h2.4h2.4h2.4h2.4h2.4h2.4h2.4h2.4h2.4h2.4h2.4h2.4h2.4h2.4h2.4h2.4h1.2h-1.2h-2.4h-2.4h-2.4h-2.4h-2.4h-2.4h-2.4h-2.4h-2.4h-2.4h-2.4h-2.4h-2.4h-2.4h-2.4h-2.4h-2.4h-2.4h-2.4h-2.4h-2.4h-2.4h-2.4h-2.4h-2.4h-2.4h-2.4h-2.4h-2.4h-2.4h-2.4h-2.4h-2.4h-2.4h-2.4h-2.4h-2.4h-2.4h-2.4h-2.4h-2.4h-2.4h-2.4h-2.4h-2.4h-2.4h-2.4h-2.4h-2.4h-2.4h-2.4h-2.4h-2.4h-2.4h-2.4h-2.4h-2.4h-2.4h-2.4h-2.4h-2.4h-2.4h-2.4h-2.4h-2.4h-2.4h-2.4h-2.4h-2.4h-2.4h-2.4h-2.4h-2.4h-2.4h-2.4h-2.4h-2.4h-2.4h-2.4h-2.4h-2.4h-2.4h-2.4h-2.4h-2.4h-2.4h-2.4h-2.4h-2.4h-2.4h-2.4h-2.4h-2.4h-2.4h-2.4h-2.4h-2.4h-2.4h-2.4h-2.4h-2.4h-2.4h-2.4h-2.4h-2.4h-2.4h-2.4h-2.4h-2.4h-2.4h-2.4h-2.4h-2.4h-2.4h-2.4h-2.4h-2.4h-2.4h-2.4h-2.4h-2.4h-2.4h-2.4h-2.4h-2.4h-2.4h-2.4h-2.4h-2.4h-2.4h-2.4h-2.4h-2.4h-2.4h-2.4h-2.4h-2.4h-2.4h-2.4h-2.4h-2.4h-2.4h-2.4h-2.4h-2.4h-2.4h-2.4h-2.4h-2.4h-2.4h-2.4h-2.4h-2.4h-2.4h-2.4h-2.4h-2.4h-2.4h-2.4h-2.4h-2.4h-2.4h-2.4h-2.4h-2.4h-2.4h-2.4h-2.4h-2.4h-2.4h-2.4h-2.4h-2.4h-2.4h-2.4h-2.4h-2.4h-2.4z" fill="#10a8ff"/>
<path d="M91.7 243.2h2.4v0.4h2.4v-1.8h2.4v1.9h2.4v-1h2.4v0.4h2.4v-1.3h2.4v1.7h2.4v-1.4h2.4v0.9h2.4v-0.5h2.4v0.5h2.4v-0.5h2.4v0.3h2.4v0.2h2.4v-0.7h2.4v-0.4h2.4v1.4h2.4v-1.1h2.4h2.4v0.3h2.4v0.2h2.4v-0.2h2.4v-0.3h2.4v-0.1h2.4v0.7h2.4v-0.1h2.4v-0.2h2.4v0.4h2.4v-0.2h2.4v-0.7h2.4v1.2h2.4v0.8h2.4v-0.8h2.4v-0.7h2.4v0.1h2.4h2.4v-0.1h2.4v0.2h2.4v-0.8h2.4v1h2.4v-0.3h2.4v-0.7h2.4v0.4h2.4v0.5h2.4v-1h2.4h2.4v1.1h2.4v-0.1h2.4h2.4h2.4v0.3h2.4v0.3h2.4v-0.7h2.4v-0.3h2.4v0.1h2.4v0.7h2.4v-0.8h2.4v0.1h2.4v-0.2h2.4v-0.3h2.4v0.7h2.4v-0.3h2.4v0.5h2.4h2.4v-0.5h2.4v-0.4h2.4v0.2h2.4v0.7h2.4v-0.4h2.4v0.4h2.4v0.3h2.4v-0.6h2.4v0.6h2.4v-0.5h2.4v0.5h2.4v-0.4h2.4v-0.5h2.4v1h2.4v0.1h2.4v-0.3h2.4v-1.2h2.4v1.2h2.4v-0.5h2.4v0.5h2.4v-0.8h2.4v0.6h2.4v-0.5h2.4h2.4v0.1h2.4v-0.3h2.4v0.6h2.4v0.4h2.4v-0.2h2.4h2.4v-0.9h2.4v0.6h2.4v-0.1h2.4h2.4v-0.4h2.4v0.3h2.4v0.2h2.4v0.1h2.4v-0.3h2.4v-0.4h2.4v1.1h2.4v-1h2.4v0.8h2.4v-0.3h2.4v-0.3h2.4v-0.5h2.4v1.2h2.4v-0.8h2.4v0.3h2.4h2.4v0.3h2.4v-0.8h2.4v1.4h2.4v-1.1h2.4v-0.1h2.4v-0.1h2.4v0.9h2.4v-0.5h2.4v0.3h2.4v-0.3h2.4v-0.6h2.4v0.7h2.4v-0.1h2.4v0.6h2.4v-1.1h2.4v1h2.4v-0.8h2.4v0.2h2.4v0.1h2.4v-1h2.4v0.9h2.4v-1.1h2.4v2.1h2.4h2.4v-1h2.4v-0.4h2.4v0.5h2.4v0.2h2.4v0.3h2.4v0.1h2.4v-0.4h2.4v0.1h2.4v-0.6h2.4v0.2h2.4v-0.2h2.4v0.6h2.4v-0.2h2.4h2.4v-0.2h2.4v-0.4h2.4v0.9h2.4v-1.4h2.4v1.5h2.4v-1.1h2.4v0.9h2.4v-0.8h2.4h2.4v0.5h2.4v-0.6h2.4v1h2.4v0.1h2.4v0.4h2.4v-1.2h2.4v0.3h2.4v0.5h2.4v-0.7h2.4v-0.4h2.4v0.9h2.4v-0.3h2.4v0.1h2.4v-0.5h2.4v1.4h2.4v-0.9h2.4v-0.3h1.2v2.1h-1.2h-2.4h-2.4h-2.4h-2.4h-2.4h-2.4h-2.4h-2.4h-2.4h-2.4h-2.4h-2.4h-2.4h-2.4h-2.4h-2.4h-2.4h-2.4h-2.4h-2.4h-2.4h-2.4h-2.4h-2.4h-2.4h-2.4h-2.4h-2.4h-2.4h-2.4h-2.4h-2.4h-2.4h-2.4h-2.4h-2.4h-2.4h-2.4h-2.4h-2.4h-2.4h-2.4h-2.4h-2.4h-2.4h-2.4h-2.4h-2.4h-2.4h-2.4h-2.4h-2.4h-2.4h-2.4h-2.4h-2.4h-2.4h-2.4h-2.4h-2.4h-2.4h-2.4h-2.4h-2.4h-2.4h-2.4h-2.4h-2.4h-2.4h-2.4h-2.4h-2.4h-2.4h-2.4h-2.4h-2.4h-2.4h-2.4h-2.4h-2.4h-2.4h-2.4h-2.4h-2.4h-2.4h-2.4h-2.4h-2.4h-2.4h-2.4h-2.4h-2.4h-2.4h-2.4h-2.4h-2.4h-2.4h-2.4h-2.4h-2.4h-2.4h-2.4h-2.4h-2.4h-2.4h-2.4h-2.4h-2.4h-2.4h-2.4h-2.4h-2.4h-2.4h-2.4h-2.4h-2.4h-2.4h-2.4h-2.4h-2.4h-2.4h-2.4h-2.4h-2.4h-2.4h-2.4h-2.4h-2.4h-2.4h-2.4h-2.4h-2.4h-2.4h-2.4h-2.4h-2.4h-2.4h-2.4h-2.4h-2.4h-2.4h-2.4h-2.4h-2.4h-2.4h-2.4h-2.4h-2.4h-2.4h-2.4h-2.4h-2.4h-2.4h-2.4h-2.4h-2.4h-2.4h-2.4h-2.4h-2.4h-2.4h-2.4h-2.4h-2.4h-2.4h-2.4h-2.4h-2.4h-2.4h-2.4h-2.4h-2.4h-2.4h-2.4h-2.4h-2.4h-2.4h-2.4z" fill="#2414b4"/>
</g>
<rect x="91.7" y="198.7" width="419.5" height="1.3" fill="#fff"/>
<rect x="97.0" y="146.2" width="2.2" height="46.5" fill="#fff"/>
<rect x="128.8" y="146.2" width="2.4" height="46.5" fill="#fff"/>
<rect x="107.2" y="146.2" width="1.2" height="31.8" fill="#fff"/>
<path d="M364 244.5V235.3H369V229.3H370.5V237.3H371.8V244.5Z" fill="#fff"/>
<rect x="400" y="240.8" width="2" height="3.7" fill="#fff"/>
<rect x="403.5" y="241.7" width="3" height="2.8" fill="#fff"/>
<rect x="91.7" y="244.5" width="428.4" height="2.5" fill="#fff"/>
<rect x="95.3" y="114.9" width="1.5" height="6.5" fill="#2040ff"/>
<rect x="105.8" y="114.9" width="1.5" height="6.5" fill="#7040c0"/>
<rect x="111" y="114.9" width="1.5" height="6.5" fill="#5050e0"/>
<rect x="112.8" y="114.9" width="1.5" height="6.5" fill="#4040d0"/>
<rect x="114.7" y="114.9" width="1.5" height="6.5" fill="#6030b0"/>
<rect x="122.8" y="114.9" width="1.5" height="6.5" fill="#8040c0"/>
<rect x="144.7" y="114.9" width="1.5" height="6.5" fill="#2060ff"/>
<rect x="153.3" y="114.9" width="1.5" height="6.5" fill="#40a0ff"/>
<rect x="157.8" y="114.9" width="1.5" height="6.5" fill="#50a0ff"/>
<rect x="161.2" y="114.9" width="1.5" height="6.5" fill="#3060ff"/>
<rect x="172.2" y="114.9" width="1.5" height="6.5" fill="#8050c0"/>
<rect x="195.2" y="114.9" width="1.5" height="6.5" fill="#3070ff"/>
<rect x="211.7" y="114.9" width="1.5" height="6.5" fill="#2020c0"/>
<rect x="230" y="114.9" width="1.5" height="6.5" fill="#50b0ff"/>
<rect x="248.5" y="114.9" width="1.5" height="6.5" fill="#60b0ff"/>
<rect x="266.8" y="114.9" width="1.5" height="6.5" fill="#2050e0"/>
<rect x="285.1" y="114.9" width="1.5" height="6.5" fill="#2040e0"/>
<rect x="302.8" y="114.9" width="1.5" height="6.5" fill="#8060c0"/>
<rect x="309.9" y="114.9" width="1.5" height="6.5" fill="#70a0ff"/>
<rect x="324.3" y="114.9" width="1.5" height="6.5" fill="#60a0ff"/>
<rect x="342.6" y="114.9" width="1.5" height="6.5" fill="#4020b0"/>
<rect x="381.8" y="114.9" width="1.5" height="6.5" fill="#2060ff"/>
<rect x="400.2" y="114.9" width="1.5" height="6.5" fill="#60b0ff"/>
<rect x="418.5" y="114.9" width="1.5" height="6.5" fill="#3070ff"/>
<rect x="432.3" y="114.9" width="1.5" height="6.5" fill="#60b0ff"/>
<rect x="449.3" y="114.9" width="1.5" height="6.5" fill="#2080ff"/>
<rect x="467.7" y="114.9" width="1.5" height="6.5" fill="#3070ff"/>
<rect x="489.1" y="114.9" width="1.5" height="6.5" fill="#60b0ff"/>
<rect x="504.8" y="114.9" width="1.5" height="6.5" fill="#2040e0"/>
<rect x="512.6" y="114.9" width="1.5" height="6.5" fill="#60c0ff"/>
<rect x="514.7" y="114.9" width="1.5" height="6.5" fill="#60c0ff"/>
<rect x="309.8" y="147" width="1.8" height="2.6" fill="#f0f000"/>
<rect x="310" y="161.5" width="1.6" height="1.4" fill="#706070"/>
<rect x="310" y="165.2" width="1.6" height="1.4" fill="#706070"/>
<rect x="310" y="168.9" width="1.6" height="1.4" fill="#706070"/>
<rect x="310" y="172.6" width="1.6" height="1.4" fill="#706070"/>
<rect x="310" y="176.3" width="1.6" height="1.4" fill="#706070"/>
<rect x="310" y="180" width="1.6" height="1.4" fill="#706070"/>
<rect x="310" y="183.7" width="1.6" height="1.4" fill="#706070"/>
<rect x="310" y="187.4" width="1.6" height="1.4" fill="#706070"/>
<g filter="url(#sb)">
<path d="M91.7 422.7 L91.7 374.6 L93 374.6 L93 379.5 L97 379.5 L97 395.3 L99.2 395.3 L99.2 379.5 L107.2 379.5 L107.2 383.7 L109.4 383.7 L109.4 374.6 L112.9 374.6 L112.9 379.5 L117.5 379.5 L117.5 374.6 L120 374.6 L120 379.5 L126 379.5 L126 392.3 L128.8 392.3 L128.8 395.3 L131.2 395.3 L131.2 379.5 L137 379.5 L137 386.2 L139 386.2 L139 384.1 L141 384.1 L141 365.4 L143 365.4 L143 384.1 L147.2 384.1 L147.2 395.3 L207.8 395.3 L207.8 393.7 L209.6 393.7 L209.6 395.3 L216 395.3 L216 387.9 L216.8 387.9 L216.8 385.5 L218 385.5 L218 387.9 L218.8 387.9 L218.8 395.3 L265 395.3 L265 393.7 L266.8 393.7 L266.8 395.3 L291.1 395.3 L291.1 393.7 L292.9 393.7 L292.9 395.3 L317.5 395.3 L317.5 385.8 L319.3 385.8 L319.3 395.3 L333.2 395.3 L333.2 387.8 L335 387.8 L335 395.3 L336.2 395.3 L336.2 391.9 L337.8 391.9 L337.8 395.3 L347.1 395.3 L347.1 385.8 L348.9 385.8 L348.9 395.3 L355.1 395.3 L355.1 381.8 L357 381.8 L357 379.3 L361.3 379.3 L361.3 375.6 L363 375.6 L363 356.2 L372.8 356.2 L372.8 371.1 L375 371.1 L375 373 L377.7 373 L377.7 376.8 L379.3 376.8 L379.3 373.6 L381.8 373.6 L381.8 369.9 L388.3 369.9 L388.3 374.4 L390 374.4 L390 380.9 L392.4 380.9 L392.4 384.9 L395.7 384.9 L395.7 365.4 L398.1 365.4 L398.1 371.1 L399.7 371.1 L399.7 362.2 L403 362.2 L403 371.1 L405.5 371.1 L405.5 359.4 L409.5 359.4 L409.5 371.8 L412 371.8 L412 384.2 L414.4 384.2 L414.4 368.7 L416.1 368.7 L416.1 379.3 L418.5 379.3 L418.5 375.6 L421 375.6 L421 380.1 L423.4 380.1 L423.4 368.7 L428.3 368.7 L428.3 376.5 L430.8 376.5 L430.8 371.1 L434 371.1 L434 374.4 L436.5 374.4 L436.5 395.3 L439 395.3 L439 393.4 L440.4 393.4 L440.4 395.3 L441.5 395.3 L441.5 387.8 L443.1 387.8 L443.1 395.3 L444 395.3 L444 393.4 L445.4 393.4 L445.4 395.3 L454.9 395.3 L454.9 385.8 L456.6 385.8 L456.6 395.3 L460 395.3 L460 391.9 L463 391.9 L463 395.3 L465.2 395.3 L465.2 385.8 L467 385.8 L467 395.3 L468 395.3 L468 391.9 L469.6 391.9 L469.6 395.3 L520.1 395.3 L520.1 422.7Z" fill="#000"/>
<path d="M91.7 390.9h2.4v1.8h-2.4zM94.1 396.2h2.4v1.6h-2.4zM98.9 396.2h2.4v1.6h-2.4zM98.9 380.3h2.4v2.3h-2.4zM101.3 402.2h2.4v1.4h-2.4zM101.3 386.9h2.4v2h-2.4zM103.7 382.6h2.4v2.2h-2.4zM110.9 400.8h2.4v1.4h-2.4zM110.9 396.2h2.4v1.6h-2.4zM115.7 404.9h2.4v1.2h-2.4zM115.7 384.8h2.4v2.1h-2.4zM118.1 382.6h2.4v2.2h-2.4zM130.1 396.2h2.4v1.6h-2.4zM134.9 382.6h2.4v2.2h-2.4zM146.9 402.2h2.4v1.4h-2.4zM149.3 403.6h2.4v1.3h-2.4zM158.9 397.8h2.4v1.5h-2.4zM180.5 404.9h2.4v1.2h-2.4zM180.5 402.2h2.4v1.4h-2.4zM180.5 397.8h2.4v1.5h-2.4zM187.7 404.9h2.4v1.2h-2.4zM197.3 399.3h2.4v1.5h-2.4zM211.7 396.2h2.4v1.6h-2.4zM223.7 400.8h2.4v1.4h-2.4zM223.7 396.2h2.4v1.6h-2.4zM230.9 399.3h2.4v1.5h-2.4zM238.1 397.8h2.4v1.5h-2.4zM250.1 396.2h2.4v1.6h-2.4zM252.5 397.8h2.4v1.5h-2.4zM269.3 403.6h2.4v1.3h-2.4zM271.7 397.8h2.4v1.5h-2.4zM274.1 397.8h2.4v1.5h-2.4zM276.5 402.2h2.4v1.4h-2.4zM288.5 406.1h2.4v1.2h-2.4zM302.9 402.2h2.4v1.4h-2.4zM305.3 402.2h2.4v1.4h-2.4zM317.3 400.8h2.4v1.4h-2.4zM331.7 396.2h2.4v1.6h-2.4zM336.5 396.2h2.4v1.6h-2.4zM353.3 406.1h2.4v1.2h-2.4zM353.3 402.2h2.4v1.4h-2.4zM358.1 392.7h2.4v1.8h-2.4zM358.1 384.8h2.4v2.1h-2.4zM360.5 390.9h2.4v1.8h-2.4zM362.9 370h2.4v2.7h-2.4zM365.3 382.6h2.4v2.2h-2.4zM367.7 402.2h2.4v1.4h-2.4zM370.1 388.9h2.4v1.9h-2.4zM372.5 375.4h2.4v2.5h-2.4zM374.9 380.3h2.4v2.3h-2.4zM374.9 377.9h2.4v2.4h-2.4zM374.9 375.4h2.4v2.5h-2.4zM389.3 392.7h2.4v1.8h-2.4zM396.5 384.8h2.4v2.1h-2.4zM398.9 397.8h2.4v1.5h-2.4zM398.9 367.1h2.4v2.9h-2.4zM401.3 406.1h2.4v1.2h-2.4zM403.7 397.8h2.4v1.5h-2.4zM406.1 377.9h2.4v2.4h-2.4zM408.5 402.2h2.4v1.4h-2.4zM408.5 384.8h2.4v2.1h-2.4zM420.5 404.9h2.4v1.2h-2.4zM422.9 388.9h2.4v1.9h-2.4zM425.3 404.9h2.4v1.2h-2.4zM425.3 403.6h2.4v1.3h-2.4zM427.7 380.3h2.4v2.3h-2.4zM430.1 375.4h2.4v2.5h-2.4zM434.9 404.9h2.4v1.2h-2.4zM437.3 396.2h2.4v1.6h-2.4zM458.9 404.9h2.4v1.2h-2.4zM458.9 397.8h2.4v1.5h-2.4zM468.5 404.9h2.4v1.2h-2.4zM473.3 399.3h2.4v1.5h-2.4zM478.1 403.6h2.4v1.3h-2.4zM480.5 406.1h2.4v1.2h-2.4zM487.7 404.9h2.4v1.2h-2.4zM487.7 396.2h2.4v1.6h-2.4zM492.5 402.2h2.4v1.4h-2.4zM502.1 406.1h2.4v1.2h-2.4zM506.9 396.2h2.4v1.6h-2.4zM518.9 396.2h1.2v1.6h-1.2z" fill="#200438"/>
<path d="M94.1 400.8h2.4v1.4h-2.4zM94.1 384.8h2.4v2.1h-2.4zM96.5 396.2h2.4v1.6h-2.4zM98.9 399.3h2.4v1.5h-2.4zM101.3 404.9h2.4v1.2h-2.4zM103.7 399.3h2.4v1.5h-2.4zM103.7 388.9h2.4v1.9h-2.4zM108.5 400.8h2.4v1.4h-2.4zM110.9 404.9h2.4v1.2h-2.4zM113.3 406.1h2.4v1.2h-2.4zM118.1 396.2h2.4v1.6h-2.4zM122.9 403.6h2.4v1.3h-2.4zM125.3 406.1h2.4v1.2h-2.4zM127.7 397.8h2.4v1.5h-2.4zM130.1 392.7h2.4v1.8h-2.4zM139.7 399.3h2.4v1.5h-2.4zM142.1 390.9h2.4v1.8h-2.4zM142.1 386.9h2.4v2h-2.4zM149.3 406.1h2.4v1.2h-2.4zM166.1 400.8h2.4v1.4h-2.4zM168.5 406.1h2.4v1.2h-2.4zM168.5 402.2h2.4v1.4h-2.4zM170.9 403.6h2.4v1.3h-2.4zM173.3 403.6h2.4v1.3h-2.4zM185.3 400.8h2.4v1.4h-2.4zM185.3 396.2h2.4v1.6h-2.4zM197.3 406.1h2.4v1.2h-2.4zM199.7 404.9h2.4v1.2h-2.4zM202.1 396.2h2.4v1.6h-2.4zM235.7 400.8h2.4v1.4h-2.4zM254.9 406.1h2.4v1.2h-2.4zM259.7 399.3h2.4v1.5h-2.4zM262.1 397.8h2.4v1.5h-2.4zM269.3 406.1h2.4v1.2h-2.4zM276.5 404.9h2.4v1.2h-2.4zM278.9 399.3h2.4v1.5h-2.4zM283.7 404.9h2.4v1.2h-2.4zM286.1 403.6h2.4v1.3h-2.4zM288.5 403.6h2.4v1.3h-2.4zM288.5 402.2h2.4v1.4h-2.4zM300.5 396.2h2.4v1.6h-2.4zM310.1 404.9h2.4v1.2h-2.4zM326.9 406.1h2.4v1.2h-2.4zM331.7 400.8h2.4v1.4h-2.4zM331.7 397.8h2.4v1.5h-2.4zM334.1 400.8h2.4v1.4h-2.4zM341.3 406.1h2.4v1.2h-2.4zM348.5 406.1h2.4v1.2h-2.4zM350.9 397.8h2.4v1.5h-2.4zM353.3 400.8h2.4v1.4h-2.4zM360.5 403.6h2.4v1.3h-2.4zM365.3 404.9h2.4v1.2h-2.4zM365.3 396.2h2.4v1.6h-2.4zM365.3 392.7h2.4v1.8h-2.4zM370.1 400.8h2.4v1.4h-2.4zM374.9 404.9h2.4v1.2h-2.4zM379.7 388.9h2.4v1.9h-2.4zM382.1 377.9h2.4v2.4h-2.4zM386.9 370h2.4v2.7h-2.4zM398.9 377.9h2.4v2.4h-2.4zM398.9 370h2.4v2.7h-2.4zM401.3 370h2.4v2.7h-2.4zM403.7 399.3h2.4v1.5h-2.4zM406.1 400.8h2.4v1.4h-2.4zM406.1 370h2.4v2.7h-2.4zM408.5 406.1h2.4v1.2h-2.4zM413.3 372.7h2.4v2.6h-2.4zM418.1 400.8h2.4v1.4h-2.4zM420.5 392.7h2.4v1.8h-2.4zM430.1 377.9h2.4v2.4h-2.4zM430.1 372.7h2.4v2.6h-2.4zM432.5 396.2h2.4v1.6h-2.4zM434.9 390.9h2.4v1.8h-2.4zM439.7 403.6h2.4v1.3h-2.4zM444.5 404.9h2.4v1.2h-2.4zM446.9 400.8h2.4v1.4h-2.4zM449.3 403.6h2.4v1.3h-2.4zM463.7 404.9h2.4v1.2h-2.4zM466.1 403.6h2.4v1.3h-2.4zM468.5 402.2h2.4v1.4h-2.4zM478.1 404.9h2.4v1.2h-2.4zM482.9 399.3h2.4v1.5h-2.4zM502.1 396.2h2.4v1.6h-2.4z" fill="#2a0648"/>
<path d="M98.9 390.9h2.4v1.8h-2.4zM101.3 382.6h2.4v2.2h-2.4zM113.3 400.8h2.4v1.4h-2.4zM113.3 390.9h2.4v1.8h-2.4zM113.3 386.9h2.4v2h-2.4zM115.7 386.9h2.4v2h-2.4zM118.1 399.3h2.4v1.5h-2.4zM118.1 397.8h2.4v1.5h-2.4zM132.5 402.2h2.4v1.4h-2.4zM132.5 394.5h2.4v1.7h-2.4zM137.3 397.8h2.4v1.5h-2.4zM144.5 399.3h2.4v1.5h-2.4zM149.3 397.8h2.4v1.5h-2.4zM151.7 399.3h2.4v1.5h-2.4zM161.3 400.8h2.4v1.4h-2.4zM163.7 406.1h2.4v1.2h-2.4zM163.7 396.2h2.4v1.6h-2.4zM170.9 404.9h2.4v1.2h-2.4zM185.3 402.2h2.4v1.4h-2.4zM190.1 402.2h2.4v1.4h-2.4zM197.3 396.2h2.4v1.6h-2.4zM202.1 399.3h2.4v1.5h-2.4zM214.1 403.6h2.4v1.3h-2.4zM230.9 397.8h2.4v1.5h-2.4zM235.7 402.2h2.4v1.4h-2.4zM238.1 404.9h2.4v1.2h-2.4zM238.1 396.2h2.4v1.6h-2.4zM240.5 404.9h2.4v1.2h-2.4zM242.9 397.8h2.4v1.5h-2.4zM266.9 397.8h2.4v1.5h-2.4zM269.3 396.2h2.4v1.6h-2.4zM295.7 397.8h2.4v1.5h-2.4zM307.7 403.6h2.4v1.3h-2.4zM312.5 396.2h2.4v1.6h-2.4zM317.3 406.1h2.4v1.2h-2.4zM322.1 403.6h2.4v1.3h-2.4zM329.3 396.2h2.4v1.6h-2.4zM346.1 397.8h2.4v1.5h-2.4zM348.5 400.8h2.4v1.4h-2.4zM358.1 396.2h2.4v1.6h-2.4zM367.7 372.7h2.4v2.6h-2.4zM374.9 400.8h2.4v1.4h-2.4zM384.5 404.9h2.4v1.2h-2.4zM384.5 397.8h2.4v1.5h-2.4zM384.5 394.5h2.4v1.7h-2.4zM389.3 397.8h2.4v1.5h-2.4zM401.3 392.7h2.4v1.8h-2.4zM403.7 403.6h2.4v1.3h-2.4zM403.7 396.2h2.4v1.6h-2.4zM413.3 399.3h2.4v1.5h-2.4zM413.3 380.3h2.4v2.3h-2.4zM418.1 382.6h2.4v2.2h-2.4zM422.9 406.1h2.4v1.2h-2.4zM422.9 402.2h2.4v1.4h-2.4zM430.1 400.8h2.4v1.4h-2.4zM432.5 399.3h2.4v1.5h-2.4zM434.9 388.9h2.4v1.9h-2.4zM442.1 406.1h2.4v1.2h-2.4zM444.5 402.2h2.4v1.4h-2.4zM446.9 397.8h2.4v1.5h-2.4zM454.1 399.3h2.4v1.5h-2.4zM456.5 403.6h2.4v1.3h-2.4zM456.5 402.2h2.4v1.4h-2.4zM458.9 394.5h2.4v1.7h-2.4zM466.1 406.1h2.4v1.2h-2.4zM468.5 403.6h2.4v1.3h-2.4zM468.5 397.8h2.4v1.5h-2.4zM470.9 404.9h2.4v1.2h-2.4zM473.3 406.1h2.4v1.2h-2.4zM499.7 402.2h2.4v1.4h-2.4zM502.1 404.9h2.4v1.2h-2.4zM511.7 403.6h2.4v1.3h-2.4zM511.7 402.2h2.4v1.4h-2.4zM511.7 397.8h2.4v1.5h-2.4zM518.9 406.1h1.2v1.2h-1.2z" fill="#3a0a60"/>
<path d="M91.7 398.6h2.4v-4.2h2.4v0.9h2.4v0.6h2.4v3.4h2.4v-4.8h2.4v3.3h2.4v-5.8h2.4v8h2.4v-3.5h2.4v-0.5h2.4v-1.3h2.4v-3.7h2.4v4.1h2.4v-1.9h2.4v6h2.4v-11.2h2.4v9.8h2.4v-3h2.4v5.8h2.4v-4.5h2.4v0.1h2.4v0.8h2.4v3.2h2.4v8.3h2.4v1.8h2.4v1h2.4v-0.9h2.4v2.9h2.4v-2.9h2.4v2.8h2.4v-1.7h2.4v0.7h2.4v0.1h2.4v-1.2h2.4v1.1h2.4v-4.1h2.4v3h2.4v-0.4h2.4v0.8h2.4v0.8h2.4v-2.6h2.4v2h2.4v-0.9h2.4h2.4v1.9h2.4v-2.6h2.4v2.5h2.4v-2.6h2.4v0.7h2.4v-0.4h2.4v-3h2.4v0.4h2.4v-0.2h2.4v2.6h2.4v-0.1h2.4v1.3h2.4v-1.4h2.4v1.9h2.4v-0.8h2.4v-0.2h2.4v0.2h2.4v-1.9h2.4v2.6h2.4v-2.2h2.4v1.9h2.4v-1.5h2.4v1.1h2.4v0.2h2.4v-0.9h2.4v1.9h2.4v-2.6h2.4v0.6h2.4v-2.3h2.4v1.3h2.4v0.7h2.4v0.3h2.4v0.6h2.4v0.5h2.4v-0.3h2.4v-0.8h2.4v0.8h2.4v-0.2h2.4v-0.8h2.4v-1.4h2.4v1.2h2.4v-1.5h2.4v1.7h2.4v-1h2.4v-1.4h2.4v4.1h2.4v-0.5h2.4v1.6h2.4v-1.4h2.4v0.4h2.4v-1.5h2.4v-0.7h2.4v-0.5h2.4v0.2h2.4v-0.5h2.4v0.2h2.4h2.4v-3.3h2.4v3.4h2.4v-0.9h2.4v1.1h2.4v-3.5h2.4h2.4v-1.3h2.4h2.4v-1.7h2.4v-6.2h2.4v5.4h2.4v-4.6h2.4v-3.8h2.4v-7.1h2.4v5.5h2.4v3.5h2.4v5.5h2.4v-6.5h2.4v-0.8h2.4v-0.1h2.4v0.6h2.4v-0.2h2.4v-0.5h2.4v1.9h2.4v-1h2.4v5.3h2.4v-6.1h2.4v0.3h2.4v2.3h2.4v-3.4h2.4v10.9h2.4v-6.8h2.4v2h2.4v0.5h2.4v-4.1h2.4v3.9h2.4v-6.6h2.4v6h2.4v-2.8h2.4v3.3h2.4v-5.5h2.4v5.5h2.4v3.8h2.4v4.4h2.4v-2.4h2.4v-0.9h2.4v-3.3h2.4v3.4h2.4v2.5h2.4v-2h2.4v1.9h2.4v-3.1h2.4v-2.3h2.4v0.3h2.4v2.7h2.4v5.7h2.4v-10.3h2.4v5.9h2.4v-1.2h2.4v1.9h2.4v-0.7h2.4v-7.2h2.4v3.4h2.4v-1.2h2.4v5.8h2.4h2.4v1.5h2.4v-1.4h2.4v-2.3h2.4v4.6h2.4v-0.1h2.4v-5.2h2.4v-0.3h2.4v4.6h2.4v0.3h2.4v-2.1h2.4v-2.3h1.2v15.9h-1.2v-0.2h-2.4v-0.1h-2.4h-2.4v0.3h-2.4h-2.4v-0.4h-2.4h-2.4v0.3h-2.4v-0.2h-2.4v-0.1h-2.4v0.1h-2.4v-0.1h-2.4v0.3h-2.4v-0.2h-2.4v0.2h-2.4v-0.4h-2.4h-2.4v0.1h-2.4v-0.2h-2.4v0.4h-2.4v-0.8h-2.4v0.5h-2.4v0.3h-2.4v0.1h-2.4v-0.1h-2.4v-0.1h-2.4v0.1h-2.4v-0.1h-2.4v0.2h-2.4v0.2h-2.4v-0.2h-2.4v-0.1h-2.4v-0.2h-2.4v0.3h-2.4v-2.1h-2.4v-0.4h-2.4v-0.4h-2.4v0.2h-2.4v-0.2h-2.4v0.5h-2.4v-0.5h-2.4v0.3h-2.4v-0.3h-2.4h-2.4v0.2h-2.4v-0.5h-2.4v0.7h-2.4v-0.2h-2.4v0.2h-2.4h-2.4v-0.4h-2.4v0.3h-2.4h-2.4v0.1h-2.4h-2.4v-0.1h-2.4v0.1h-2.4h-2.4v-0.1h-2.4v-0.4h-2.4v0.4h-2.4v-0.5h-2.4v0.4h-2.4v-0.5h-2.4v-0.2h-2.4v1.9h-2.4v0.3h-2.4v-0.4h-2.4v0.8h-2.4v0.4h-2.4h-2.4h-2.4v-0.2h-2.4v0.2h-2.4h-2.4v0.3h-2.4v-0.2h-2.4v0.1h-2.4h-2.4v0.1h-2.4h-2.4v0.1h-2.4h-2.4v-0.1h-2.4v0.1h-2.4v0.1h-2.4v0.1h-2.4v-0.4h-2.4h-2.4v-0.2h-2.4v-0.2h-2.4v0.1h-2.4h-2.4v0.2h-2.4h-2.4v0.1h-2.4h-2.4v0.1h-2.4h-2.4h-2.4h-2.4h-2.4v-0.1h-2.4v-0.1h-2.4v-0.1h-2.4v-0.2h-2.4v0.1h-2.4h-2.4v0.2h-2.4v0.1h-2.4h-2.4v0.1h-2.4v-0.2h-2.4v0.1h-2.4v-0.1h-2.4v0.2h-2.4v-0.1h-2.4h-2.4v0.1h-2.4v-0.1h-2.4v0.2h-2.4v-0.1h-2.4v-0.1h-2.4v-0.4h-2.4v-0.3h-2.4v-0.2h-2.4v0.4h-2.4v0.2h-2.4v0.3h-2.4v0.2h-2.4v-0.2h-2.4v0.1h-2.4v-0.2h-2.4v0.1h-2.4h-2.4h-2.4v0.1h-2.4v-0.2h-2.4v0.1h-2.4h-2.4h-2.4v0.3h-2.4v-0.3h-2.4v0.1h-2.4v-0.1h-2.4h-2.4v0.1h-2.4v-0.1h-2.4v0.2h-2.4v-0.2h-2.4v0.2h-2.4v-0.1h-2.4v0.1h-2.4v-0.1h-2.4v0.1h-2.4v-0.2h-2.4v0.1h-2.4h-2.4v-0.3h-2.4v0.4h-2.4v-0.2h-2.4v0.7h-2.4v-0.8h-2.4v0.4h-2.4v-0.1h-2.4v0.3h-2.4v-0.3h-2.4v-0.1h-2.4h-2.4v-0.3h-2.4v0.6h-2.4v-0.4h-2.4v0.2h-2.4v-0.3h-2.4v0.2h-2.4v0.1h-2.4h-2.4v-0.3h-2.4z" fill="#22044c"/>
<path d="M91.7 405.7h2.4v-5.8h2.4v0.5h2.4v1.6h2.4v4.6h2.4v-6.6h2.4v4.6h2.4v-8.1h2.4v11.2h2.4v-4.9h2.4v-0.6h2.4v-1.9h2.4v-5.1h2.4v5.7h2.4v-2.6h2.4v8.2h2.4v-12.2h2.4v10.3h2.4v-4.2h2.4v8h2.4v-6.2h2.4v0.2h2.4v1h2.4v0.3h2.4v7.1h2.4v-1.3h2.4v1.9h2.4v-1.7h2.4v5.4h2.4v-5.5h2.4v5.3h2.4v-3.2h2.4v1.4h2.4v0.3h2.4v-2.2h2.4v2h2.4v-5.3h2.4v3.3h2.4v-0.5h2.4v1.5h2.4v1.4h2.4v-4.8h2.4v3.7h2.4v-1.7h2.4h2.4v3.4h2.4v-4.8h2.4v4.5h2.4v-4.8h2.4v1.6h2.4h2.4v-4.2h2.4v1.6h2.4v-1h2.4v3.6h2.4v-1.2h2.4v2.1h2.4v-2.8h2.4v3.7h2.4v-1.5h2.4v-0.3h2.4v0.5h2.4v-3.4h2.4v5h2.4v-4.2h2.4v3.4h2.4v-2.8h2.4v1.9h2.4v0.5h2.4v-1.4h2.4v3.9h2.4v-4.4h2.4v1.2h2.4v-4.4h2.4v2.1h2.4v0.8h2.4v0.2h2.4v0.9h2.4v1h2.4v-0.7h2.4v-1.4h2.4v1.7h2.4v-0.1h2.4v-1.1h2.4v-2.3h2.4v2.4h2.4v-2.7h2.4v3.2h2.4v-2.1h2.4v-1.7h2.4v5.7h2.4v-2.1h2.4v3h2.4v-1.8h2.4v1h2.4v-2.4h2.4v-0.8h2.4v-0.5h2.4v0.8h2.4v-0.5h2.4v0.7h2.4v0.5h2.4v-5.4h2.4v6.3h2.4v-1.2h2.4v2.2h2.4v-5.5h2.4v0.4h2.4v-1.9h2.4v1.4h2.4v0.4h2.4v-9.9h2.4v8.6h2.4v-4.4h2.4v-7.2h2.4v-10.9h2.4v8h2.4v6.2h2.4v8.9h2.4v-10.6h2.4v-1.3h2.4v-0.2h2.4v1h2.4v-0.3h2.4v-0.9h2.4v3.2h2.4v-1.7h2.4v8.8h2.4v-10.1h2.4v0.5h2.4v3.8h2.4v-5.6h2.4v17.9h2.4v-11.1h2.4v3.3h2.4v0.8h2.4v-6.9h2.4v6.5h2.4v-10.9h2.4v10h2.4v-4.7h2.4v5.5h2.4v-9h2.4v8h2.4v3.4h2.4v6.1h2.4v-3.2h2.4v-1.3h2.4v-4h2.4v4.1h2.4v3.4h2.4v-2.6h2.4v2.7h2.4v-4.5h2.4v-3.2h2.4v0.6h2.4v4.1h2.4v8.4h2.4v-14.8h2.4v8.2h2.4v-1.8h2.4v2.6h2.4v-0.8h2.4v-8h2.4v2.5h2.4v-2h2.4v8.4h2.4v-0.1h2.4v2.1h2.4v-2h2.4v-3.2h2.4v6.5h2.4v-0.1h2.4v-6.8h2.4v-0.4h2.4v6h2.4v0.4h2.4v-2.7h2.4v-3h1.2v11.7h-1.2v-0.2h-2.4v-0.2h-2.4h-2.4v0.4h-2.4h-2.4v-0.5h-2.4h-2.4v0.2h-2.4v-0.3h-2.4v-0.1h-2.4v0.1h-2.4v-0.1h-2.4v0.5h-2.4v-0.2h-2.4v0.1h-2.4v-0.5h-2.4h-2.4v0.2h-2.4v-0.2h-2.4v0.5h-2.4v-1.1h-2.4v0.6h-2.4v0.4h-2.4v0.2h-2.4v-0.2h-2.4v-0.3h-2.4v0.1h-2.4v-0.2h-2.4v0.2h-2.4v0.3h-2.4v-0.3h-2.4v-0.1h-2.4v-0.2h-2.4v0.4h-2.4v-2.2h-2.4v-0.3h-2.4v-0.6h-2.4v0.4h-2.4v-0.3h-2.4v0.7h-2.4v-0.8h-2.4v0.5h-2.4v-0.5h-2.4h-2.4v0.3h-2.4v-0.8h-2.4v1.2h-2.4v-0.4h-2.4v0.3h-2.4h-2.4v-0.6h-2.4v0.6h-2.4v-0.2h-2.4v0.3h-2.4v-0.1h-2.4h-2.4h-2.4h-2.4v-0.1h-2.4v-0.7h-2.4v0.6h-2.4v-0.4h-2.4v0.6h-2.4v-0.8h-2.4v-0.5h-2.4v2.1h-2.4v0.6h-2.4v-0.7h-2.4v1.3h-2.4v0.5h-2.4h-2.4v0.1h-2.4v-0.4h-2.4v0.3h-2.4v-0.1h-2.4v0.5h-2.4v-0.3h-2.4v0.1h-2.4v0.2h-2.4h-2.4v0.1h-2.4h-2.4h-2.4v-0.1h-2.4v0.1h-2.4v0.1h-2.4v0.3h-2.4v-0.6h-2.4v0.1h-2.4v-0.2h-2.4v-0.3h-2.4v0.2h-2.4v-0.1h-2.4v0.3h-2.4h-2.4h-2.4v0.1h-2.4v0.2h-2.4v-0.1h-2.4h-2.4h-2.4h-2.4v-0.1h-2.4v-0.1h-2.4v-0.1h-2.4v-0.3h-2.4v0.1h-2.4v-0.1h-2.4v0.4h-2.4h-2.4h-2.4v0.2h-2.4v-0.3h-2.4v0.3h-2.4v-0.3h-2.4v0.3h-2.4v-0.2h-2.4v0.1h-2.4h-2.4v-0.1h-2.4v0.3h-2.4v-0.2h-2.4h-2.4v-0.4h-2.4v-0.3h-2.4v-0.3h-2.4v0.5h-2.4v0.2h-2.4v0.3h-2.4v0.2h-2.4v-0.3h-2.4v0.2h-2.4v-0.3h-2.4v0.2h-2.4h-2.4v-0.2h-2.4v0.3h-2.4v-0.3h-2.4v0.1h-2.4v0.1h-2.4h-2.4v0.2h-2.4v-0.3h-2.4v0.1h-2.4v-0.1h-2.4h-2.4v0.1h-2.4v-0.2h-2.4v0.4h-2.4v-0.4h-2.4v0.4h-2.4v-0.1h-2.4v0.1h-2.4v-0.5h-2.4v-0.1h-2.4v-0.5h-2.4h-2.4v0.1h-2.4v-0.5h-2.4v0.6h-2.4v-0.3h-2.4v0.7h-2.4v-0.8h-2.4v0.5h-2.4v-0.2h-2.4v0.4h-2.4v-0.3h-2.4v-0.1h-2.4v-0.1h-2.4v-0.3h-2.4v0.7h-2.4v-0.5h-2.4v0.3h-2.4v-0.4h-2.4v0.3h-2.4v0.1h-2.4h-2.4v-0.4h-2.4z" fill="#34088a"/>
<path d="M91.7 413.5h2.4v-9.1h2.4v0.8h2.4v2.5h2.4v7.3h2.4v-10.4h2.4v7.2h2.4v-8.1h2.4v11.4h2.4v-6.2h2.4v-0.9h2.4v-2.9h2.4v-1.4h2.4v2.3h2.4v-2.3h2.4v11h2.4v-11h2.4v8h2.4v-6.5h2.4v9.9h2.4v-7.1h2.4v0.3h2.4v1.6h2.4v-3.7h2.4v7.8h2.4v-4.7h2.4v1.9h2.4v-1.9h2.4v7.9h2.4v-8h2.4v8h2.4v-5.3h2.4v3.4h2.4v0.9h2.4v-5.5h2.4v5.3h2.4v-7.2h2.4v2.4h2.4v-1.3h2.4v3.8h2.4v3.3h2.4v-8.4h2.4v5.8h2.4v-4.1h2.4v-0.1h2.4v6.9h2.4v-8.2h2.4v8.2h2.4v-8.1h2.4v1.2h2.4v1.2h2.4v-6.2h2.4v3.6h2.4v-3.7h2.4v6.8h2.4v-3.5h2.4v3.5h2.4v-2.8h2.4v5.1h2.4v-3.6h2.4v-0.5h2.4v1.4h2.4v-3.1h2.4v7.1h2.4v-7.2h2.4v5.3h2.4v-5.1h2.4v2.7h2.4v1.3h2.4v-3.2h2.4v7.5h2.4v-7.3h2.4v3.3h2.4v-6h2.4v0.7h2.4v0.8h2.4v0.5h2.4v0.3h2.4v2.2h2.4v-1.6h2.4v-0.7h2.4v1.9h2.4v0.1h2.4v-2.2h2.4v-1.5h2.4v2.9h2.4v-3.6h2.4v5.1h2.4v-4.7h2.4v0.6h2.4v6.3h2.4v-3.3h2.4v3.9h2.4v-3.4h2.4v2.8h2.4v-5.2h2.4v-0.7h2.4v-0.2h2.4v1.4h2.4v-0.7h2.4v2.2h2.4v1.7h2.4v-5.8h2.4v8.9h2.4v-2.6h2.4v3.7h2.4v-10.4h2.4v1.6h2.4v-2.6h2.4v4.2h2.4v5.5h2.4v-11.8h2.4v9.4h2.4v-0.2h2.4v-14.4h2.4v-9.7h2.4v2.5h2.4v9h2.4v11h2.4v-12h2.4h2.4h2.4h2.4h2.4h2.4v0.7h2.4v-0.7h2.4v12h2.4v-12h2.4h2.4v2.8h2.4v-2.8h2.4v12h2.4v-7.3h2.4v5.4h2.4v1.3h2.4v-11.2h2.4v10.5h2.4v-10.7h2.4v9.2h2.4v-7.6h2.4v8.9h2.4v-10.5h2.4v10.5h2.4v13.1h2.4h2.4h2.4h2.4h2.4h2.4h2.4h2.4v-5.1h2.4v-8.2h2.4v-0.8h2.4v-0.4h2.4v4.3h2.4v4.2h2.4v-9h2.4v7.8h2.4v-3.4h2.4v4.6h2.4v-1.3h2.4v-7.5h2.4v0.1h2.4v0.4h2.4v8h2.4v-0.4h2.4v1.2h2.4v-1.2h2.4v-4.4h2.4v5.7h2.4h2.4v-1.8h2.4h2.4v1.8h2.4h2.4v-1.1h2.4v-0.7h1.2v2h-1.2v-0.1h-2.4v-0.1h-2.4h-2.4v0.2h-2.4h-2.4v-0.2h-2.4h-2.4v0.5h-2.4v-0.2h-2.4v-0.1h-2.4h-2.4h-2.4v0.4h-2.4v-0.1h-2.4h-2.4v-0.5h-2.4h-2.4v0.3h-2.4v-0.3h-2.4v0.5h-2.4v-0.7h-2.4v0.4h-2.4v0.3h-2.4v0.1h-2.4v0.1h-2.4v0.3h-2.4v4.4h-2.4h-2.4h-2.4h-2.4h-2.4h-2.4h-2.4h-2.4v-7.5h-2.4v-2.8h-2.4v-0.7h-2.4v0.6h-2.4v-0.5h-2.4v0.6h-2.4v-0.7h-2.4v0.7h-2.4v-0.8h-2.4v0.1h-2.4v0.4h-2.4v-0.5h-2.4v0.8h-2.4v-0.2h-2.4v0.2h-2.4h-2.4v-0.8h-2.4v0.8h-2.4h-2.4h-2.4h-2.4h-2.4h-2.4h-2.4h-2.4v-0.8h-2.4v0.7h-2.4v2.9h-2.4v0.2h-2.4v-0.7h-2.4v-1h-2.4v2.5h-2.4v0.6h-2.4v-0.8h-2.4v1.5h-2.4v0.6h-2.4v-0.1h-2.4v0.1h-2.4v-0.6h-2.4v0.2h-2.4v-0.1h-2.4v0.6h-2.4v-0.3h-2.4v0.1h-2.4v0.2h-2.4h-2.4v0.1h-2.4h-2.4h-2.4v-0.2h-2.4v0.3h-2.4h-2.4v0.3h-2.4v-0.6h-2.4v0.1h-2.4v-0.1h-2.4v-0.4h-2.4v0.4h-2.4v-0.2h-2.4v0.3h-2.4h-2.4h-2.4v0.1h-2.4v0.1h-2.4h-2.4v-0.1h-2.4v0.2h-2.4v-0.1h-2.4v-0.1h-2.4v-0.1h-2.4v-0.1h-2.4v-0.5h-2.4v0.3h-2.4v-0.3h-2.4v0.6h-2.4v-0.1h-2.4v0.1h-2.4v0.2h-2.4v-0.4h-2.4v0.3h-2.4v-0.5h-2.4v0.5h-2.4v-0.1h-2.4v0.1h-2.4h-2.4v-0.2h-2.4v0.4h-2.4v-0.3h-2.4v0.1h-2.4v-0.6h-2.4h-2.4v-0.4h-2.4v0.5h-2.4v0.1h-2.4v0.4h-2.4v0.1h-2.4v-0.5h-2.4v0.5h-2.4v-0.5h-2.4v0.4h-2.4h-2.4v-0.3h-2.4v0.4h-2.4v-0.6h-2.4v0.2h-2.4v0.3h-2.4v-0.1h-2.4v0.2h-2.4v-0.4h-2.4v0.3h-2.4v-0.3h-2.4h-2.4v0.3h-2.4v-0.4h-2.4v0.6h-2.4v-0.6h-2.4v0.6h-2.4v-0.1h-2.4v0.1h-2.4v-0.8h-2.4v-0.3h-2.4v-1h-2.4v0.1h-2.4h-2.4v-0.5h-2.4v0.7h-2.4v-0.4h-2.4v0.5h-2.4v-0.7h-2.4v0.7h-2.4v-0.1h-2.4v0.1h-2.4v-0.1h-2.4v-0.2h-2.4h-2.4v-0.5h-2.4v0.8h-2.4v-0.5h-2.4v0.4h-2.4v-0.7h-2.4v0.5h-2.4v0.2h-2.4v0.1h-2.4v-0.7h-2.4z" fill="#1c36f4"/>
<path d="M91.7 413.8h2.4v-1.9h2.4v0.2h2.4v0.5h2.4v1.5h2.4v-2.1h2.4v1.4h2.4v-1.9h2.4v2.9h2.4v-1.6h2.4v-0.2h2.4v-0.5h2.4v-0.6h2.4v0.7h2.4v-0.7h2.4v2.5h2.4v-2.5h2.4v1.9h2.4v-1.3h2.4v2.4h2.4v-1.8h2.4h2.4v0.4h2.4v-0.9h2.4v2.3h2.4v-2.1h2.4v1.1h2.4v-1.1h2.4v4.1h2.4v-4.1h2.4v4.1h2.4v-2.8h2.4v1.4h2.4v0.3h2.4v-2.2h2.4v2.1h2.4v-3.3h2.4v1.3h2.4v-0.6h2.4v1.6h2.4v1.4h2.4v-4h2.4v2.8h2.4v-1.7h2.4h2.4v3.5h2.4v-4.2h2.4v3.8h2.4v-3.8h2.4v0.6h2.4h2.4v-4.4h2.4v2h2.4v-1.7h2.4v4.2h2.4v-1.3h2.4v2.1h2.4v-1.4h2.4v2.4h2.4v-1.6h2.4v-0.3h2.4v0.6h2.4v-1.8h2.4v3.4h2.4v-3.5h2.4v2.7h2.4v-2.5h2.4v1.6h2.4v0.5h2.4v-1.5h2.4v3.8h2.4v-4.3h2.4v1.5h2.4v-3.2h2.4v0.6h2.4v0.8h2.4v0.5h2.4v0.6h2.4v1h2.4v-0.7h2.4v-0.7h2.4v1h2.4v-0.1h2.4v-1.2h2.4v-1.4h2.4v1.6h2.4v-2.2h2.4v2.9h2.4v-2.5h2.4v0.5h2.4v3.7h2.4v-0.7h2.4v1.6h2.4v-1.8h2.4v1h2.4v-2.1h2.4v-0.5h2.4v-0.1h2.4v0.9h2.4v-0.3h2.4v0.8h2.4v0.7h2.4v-2.5h2.4v3.5h2.4v-0.9h2.4v1.9h2.4v-4.2h2.4v0.5h2.4v-1.2h2.4v4.9h2.4v6.4h2.4h2.4h2.4v-12.7h2.4v-5.5h2.4v-3.7h2.4v1.5h2.4v20.4h2.4h2.4h2.4h2.4h2.4h2.4h2.4h2.4h2.4h2.4h2.4h2.4h2.4h2.4h2.4h2.4h2.4h2.4h2.4h2.4h2.4h2.4h2.4h2.4h2.4h2.4h2.4h2.4h2.4h2.4h2.4h2.4h2.4h2.4h2.4h2.4h2.4h2.4h2.4h2.4h2.4h2.4h2.4h2.4h2.4h2.4h2.4h2.4h2.4h2.4h2.4h2.4h2.4h2.4h2.4h2.4h2.4h2.4h2.4h2.4h2.4h1.2h-1.2h-2.4h-2.4h-2.4h-2.4h-2.4h-2.4h-2.4h-2.4h-2.4h-2.4h-2.4h-2.4h-2.4h-2.4h-2.4h-2.4h-2.4h-2.4h-2.4h-2.4h-2.4h-2.4h-2.4h-2.4h-2.4h-2.4h-2.4h-2.4h-2.4h-2.4h-2.4h-2.4h-2.4h-2.4h-2.4h-2.4h-2.4h-2.4h-2.4h-2.4h-2.4h-2.4h-2.4h-2.4h-2.4h-2.4h-2.4h-2.4h-2.4h-2.4h-2.4h-2.4h-2.4h-2.4h-2.4h-2.4h-2.4h-2.4h-2.4h-2.4h-2.4v-11.3h-2.4v0.1h-2.4v-0.3h-2.4v-0.4h-2.4v11.9h-2.4h-2.4h-2.4v-4h-2.4v-2h-2.4h-2.4v0.1h-2.4v-0.3h-2.4v0.2h-2.4h-2.4v0.3h-2.4v-0.1h-2.4v0.1h-2.4v0.1h-2.4h-2.4v0.2h-2.4h-2.4h-2.4v-0.1h-2.4v0.1h-2.4v0.1h-2.4v0.2h-2.4v-0.5h-2.4h-2.4v-0.1h-2.4v-0.3h-2.4v0.2h-2.4v-0.1h-2.4v0.2h-2.4h-2.4v0.1h-2.4v0.1h-2.4v0.1h-2.4h-2.4v-0.1h-2.4v0.1h-2.4h-2.4v-0.1h-2.4v-0.2h-2.4v-0.1h-2.4v-0.2h-2.4v0.1h-2.4v-0.1h-2.4v0.4h-2.4h-2.4h-2.4v0.1h-2.4v-0.2h-2.4v0.2h-2.4v-0.3h-2.4v0.3h-2.4v-0.1h-2.4v0.1h-2.4h-2.4v-0.1h-2.4v0.2h-2.4v-0.1h-2.4h-2.4v-0.5h-2.4v-0.2h-2.4v-0.3h-2.4v0.5h-2.4v0.2h-2.4v0.3h-2.4v0.1h-2.4v-0.3h-2.4v0.3h-2.4v-0.3h-2.4v0.2h-2.4h-2.4v-0.2h-2.4v0.2h-2.4v-0.3h-2.4v0.2h-2.4v0.1h-2.4h-2.4v0.1h-2.4v-0.2h-2.4v0.1h-2.4v-0.1h-2.4h-2.4v0.1h-2.4v-0.2h-2.4v0.3h-2.4v-0.2h-2.4v0.2h-2.4h-2.4h-2.4v-0.6h-2.4v-0.7h-2.4v-0.8h-2.4h-2.4h-2.4v-0.1h-2.4v0.1h-2.4h-2.4v0.1h-2.4v-0.2h-2.4v0.2h-2.4v-0.1h-2.4v0.1h-2.4v-0.1h-2.4h-2.4h-2.4v-0.1h-2.4v0.2h-2.4v-0.1h-2.4v0.1h-2.4v-0.2h-2.4v0.1h-2.4h-2.4v0.1h-2.4v-0.2h-2.4z" fill="#2a90ff"/>
</g>
<path d="M364 422.7V416.5H369V413.5H370.5V417.5H371.8V422.7Z" fill="#fff"/>
<rect x="97.0" y="372.1" width="2.2" height="23.2" fill="#fff"/>
<rect x="128.8" y="372.1" width="2.4" height="23.2" fill="#fff"/>
<rect x="107.2" y="372.1" width="1.2" height="15.9" fill="#fff"/>
<rect x="95.4" y="356.2" width="1.3" height="3.3" fill="#202020"/>
<rect x="105.9" y="356.2" width="1.3" height="3.3" fill="#202020"/>
<rect x="111.1" y="356.2" width="1.3" height="3.3" fill="#202020"/>
<rect x="112.9" y="356.2" width="1.3" height="3.3" fill="#202020"/>
<rect x="114.8" y="356.2" width="1.3" height="3.3" fill="#202020"/>
<rect x="122.9" y="356.2" width="1.3" height="3.3" fill="#202020"/>
<rect x="144.8" y="356.2" width="1.3" height="3.3" fill="#8040c0"/>
<rect x="153.4" y="356.2" width="1.3" height="3.3" fill="#8040c0"/>
<rect x="157.9" y="356.2" width="1.3" height="3.3" fill="#8040c0"/>
<rect x="161.3" y="356.2" width="1.3" height="3.3" fill="#202020"/>
<rect x="172.3" y="356.2" width="1.3" height="3.3" fill="#202020"/>
<rect x="195.3" y="356.2" width="1.3" height="3.3" fill="#8040c0"/>
<rect x="211.8" y="356.2" width="1.3" height="3.3" fill="#202020"/>
<rect x="230.1" y="356.2" width="1.3" height="3.3" fill="#8040c0"/>
<rect x="248.6" y="356.2" width="1.3" height="3.3" fill="#8040c0"/>
<rect x="266.9" y="356.2" width="1.3" height="3.3" fill="#202020"/>
<rect x="285.2" y="356.2" width="1.3" height="3.3" fill="#202020"/>
<rect x="302.9" y="356.2" width="1.3" height="3.3" fill="#202020"/>
<rect x="310" y="356.2" width="1.3" height="3.3" fill="#202020"/>
<rect x="324.4" y="356.2" width="1.3" height="3.3" fill="#202020"/>
<rect x="342.7" y="356.2" width="1.3" height="3.3" fill="#202020"/>
<rect x="381.9" y="356.2" width="1.3" height="3.3" fill="#202020"/>
<rect x="400.3" y="356.2" width="1.3" height="3.3" fill="#8040c0"/>
<rect x="418.6" y="356.2" width="1.3" height="3.3" fill="#8040c0"/>
<rect x="432.4" y="356.2" width="1.3" height="3.3" fill="#202020"/>
<rect x="449.4" y="356.2" width="1.3" height="3.3" fill="#202020"/>
<rect x="467.8" y="356.2" width="1.3" height="3.3" fill="#202020"/>
<rect x="489.2" y="356.2" width="1.3" height="3.3" fill="#202020"/>
<rect x="504.9" y="356.2" width="1.3" height="3.3" fill="#202020"/>
<rect x="512.7" y="356.2" width="1.3" height="3.3" fill="#202020"/>
<rect x="514.8" y="356.2" width="1.3" height="3.3" fill="#202020"/>
<rect x="310" y="393.9" width="1.6" height="1.3" fill="#505050"/>
<rect x="310" y="390.9" width="1.6" height="1.3" fill="#505050"/>
<rect x="310" y="387.9" width="1.6" height="1.3" fill="#505050"/>
<rect x="310" y="384.9" width="1.6" height="1.3" fill="#505050"/>
<rect x="310" y="381.9" width="1.6" height="1.3" fill="#505050"/>
<rect x="310" y="379" width="1.6" height="1.3" fill="#505050"/>
<rect x="309.9" y="372.1" width="1.8" height="2" fill="#3070ff"/>
<rect x="309.9" y="357.5" width="1.8" height="2.6" fill="#ff5020"/>
<g filter="url(#sb)">
<path d="M91.7 506.4 L91.7 458.3 L93 458.3 L93 463.2 L97 463.2 L97 479 L99.2 479 L99.2 463.2 L107.2 463.2 L107.2 467.4 L109.4 467.4 L109.4 458.3 L112.9 458.3 L112.9 463.2 L117.5 463.2 L117.5 458.3 L120 458.3 L120 463.2 L126 463.2 L126 476 L128.8 476 L128.8 479 L131.2 479 L131.2 463.2 L137 463.2 L137 469.9 L139 469.9 L139 467.8 L141 467.8 L141 449.1 L143 449.1 L143 467.8 L147.2 467.8 L147.2 479 L207.8 479 L207.8 477.4 L209.6 477.4 L209.6 479 L216 479 L216 471.6 L216.8 471.6 L216.8 469.2 L218 469.2 L218 471.6 L218.8 471.6 L218.8 479 L265 479 L265 477.4 L266.8 477.4 L266.8 479 L291.1 479 L291.1 477.4 L292.9 477.4 L292.9 479 L317.5 479 L317.5 469.5 L319.3 469.5 L319.3 479 L333.2 479 L333.2 471.5 L335 471.5 L335 479 L336.2 479 L336.2 475.6 L337.8 475.6 L337.8 479 L347.1 479 L347.1 469.5 L348.9 469.5 L348.9 479 L355.1 479 L355.1 465.5 L357 465.5 L357 463 L361.3 463 L361.3 459.3 L363 459.3 L363 439.9 L372.8 439.9 L372.8 454.8 L375 454.8 L375 456.7 L377.7 456.7 L377.7 460.5 L379.3 460.5 L379.3 457.3 L381.8 457.3 L381.8 453.6 L388.3 453.6 L388.3 458.1 L390 458.1 L390 464.6 L392.4 464.6 L392.4 468.6 L395.7 468.6 L395.7 449.1 L398.1 449.1 L398.1 454.8 L399.7 454.8 L399.7 445.9 L403 445.9 L403 454.8 L405.5 454.8 L405.5 443.1 L409.5 443.1 L409.5 455.5 L412 455.5 L412 467.9 L414.4 467.9 L414.4 452.4 L416.1 452.4 L416.1 463 L418.5 463 L418.5 459.3 L421 459.3 L421 463.8 L423.4 463.8 L423.4 452.4 L428.3 452.4 L428.3 460.2 L430.8 460.2 L430.8 454.8 L434 454.8 L434 458.1 L436.5 458.1 L436.5 479 L439 479 L439 477.1 L440.4 477.1 L440.4 479 L441.5 479 L441.5 471.5 L443.1 471.5 L443.1 479 L444 479 L444 477.1 L445.4 477.1 L445.4 479 L454.9 479 L454.9 469.5 L456.6 469.5 L456.6 479 L460 479 L460 475.6 L463 475.6 L463 479 L465.2 479 L465.2 469.5 L467 469.5 L467 479 L468 479 L468 475.6 L469.6 475.6 L469.6 479 L520.1 479 L520.1 506.4Z" fill="#000"/>
<path d="M91.7 484.5h2.4v1.4h-2.4zM101.3 481.5h2.4v1.5h-2.4zM101.3 479.9h2.4v1.6h-2.4zM106.1 489.8h2.4v1.2h-2.4zM106.1 485.9h2.4v1.4h-2.4zM108.5 487.3h2.4v1.3h-2.4zM113.3 484.5h2.4v1.4h-2.4zM113.3 464h2.4v2.3h-2.4zM115.7 485.9h2.4v1.4h-2.4zM118.1 487.3h2.4v1.3h-2.4zM122.9 487.3h2.4v1.3h-2.4zM130.1 483h2.4v1.5h-2.4zM142.1 470.6h2.4v2h-2.4zM154.1 489.8h2.4v1.2h-2.4zM173.3 483h2.4v1.5h-2.4zM173.3 481.5h2.4v1.5h-2.4zM192.5 488.6h2.4v1.2h-2.4zM194.9 487.3h2.4v1.3h-2.4zM199.7 487.3h2.4v1.3h-2.4zM214.1 488.6h2.4v1.2h-2.4zM223.7 485.9h2.4v1.4h-2.4zM223.7 481.5h2.4v1.5h-2.4zM228.5 481.5h2.4v1.5h-2.4zM230.9 483h2.4v1.5h-2.4zM240.5 489.8h2.4v1.2h-2.4zM240.5 487.3h2.4v1.3h-2.4zM240.5 484.5h2.4v1.4h-2.4zM240.5 481.5h2.4v1.5h-2.4zM245.3 485.9h2.4v1.4h-2.4zM252.5 489.8h2.4v1.2h-2.4zM257.3 485.9h2.4v1.4h-2.4zM259.7 481.5h2.4v1.5h-2.4zM271.7 479.9h2.4v1.6h-2.4zM274.1 489.8h2.4v1.2h-2.4zM283.7 479.9h2.4v1.6h-2.4zM290.9 481.5h2.4v1.5h-2.4zM300.5 489.8h2.4v1.2h-2.4zM324.5 485.9h2.4v1.4h-2.4zM334.1 481.5h2.4v1.5h-2.4zM338.9 485.9h2.4v1.4h-2.4zM341.3 483h2.4v1.5h-2.4zM346.1 478.2h2.4v1.7h-2.4zM348.5 487.3h2.4v1.3h-2.4zM355.7 481.5h2.4v1.5h-2.4zM358.1 479.9h2.4v1.6h-2.4zM360.5 461.6h2.4v2.4h-2.4zM362.9 479.9h2.4v1.6h-2.4zM362.9 441.4h2.4v3.3h-2.4zM365.3 453.7h2.4v2.7h-2.4zM372.5 476.4h2.4v1.8h-2.4zM372.5 470.6h2.4v2h-2.4zM372.5 461.6h2.4v2.4h-2.4zM374.9 474.6h2.4v1.8h-2.4zM377.3 481.5h2.4v1.5h-2.4zM382.1 479.9h2.4v1.6h-2.4zM382.1 472.6h2.4v1.9h-2.4zM396.5 456.4h2.4v2.6h-2.4zM398.9 478.2h2.4v1.7h-2.4zM398.9 474.6h2.4v1.8h-2.4zM406.1 489.8h2.4v1.2h-2.4zM415.7 478.2h2.4v1.7h-2.4zM425.3 481.5h2.4v1.5h-2.4zM425.3 476.4h2.4v1.8h-2.4zM425.3 466.3h2.4v2.2h-2.4zM425.3 461.6h2.4v2.4h-2.4zM425.3 453.7h2.4v2.7h-2.4zM432.5 474.6h2.4v1.8h-2.4zM434.9 484.5h2.4v1.4h-2.4zM442.1 488.6h2.4v1.2h-2.4zM449.3 481.5h2.4v1.5h-2.4zM456.5 488.6h2.4v1.2h-2.4zM458.9 488.6h2.4v1.2h-2.4zM458.9 479.9h2.4v1.6h-2.4zM463.7 481.5h2.4v1.5h-2.4zM466.1 484.5h2.4v1.4h-2.4zM468.5 479.9h2.4v1.6h-2.4zM470.9 479.9h2.4v1.6h-2.4zM473.3 483h2.4v1.5h-2.4zM485.3 489.8h2.4v1.2h-2.4zM487.7 479.9h2.4v1.6h-2.4zM494.9 488.6h2.4v1.2h-2.4zM494.9 487.3h2.4v1.3h-2.4zM497.3 488.6h2.4v1.2h-2.4zM506.9 489.8h2.4v1.2h-2.4zM516.5 479.9h2.4v1.6h-2.4zM518.9 485.9h1.2v1.4h-1.2z" fill="#200438"/>
<path d="M91.7 474.6h2.4v1.8h-2.4zM91.7 461.6h2.4v2.4h-2.4zM96.5 487.3h2.4v1.3h-2.4zM96.5 479.9h2.4v1.6h-2.4zM101.3 484.5h2.4v1.4h-2.4zM106.1 479.9h2.4v1.6h-2.4zM110.9 466.3h2.4v2.2h-2.4zM115.7 468.5h2.4v2.1h-2.4zM127.7 487.3h2.4v1.3h-2.4zM134.9 464h2.4v2.3h-2.4zM139.7 483h2.4v1.5h-2.4zM144.5 479.9h2.4v1.6h-2.4zM146.9 481.5h2.4v1.5h-2.4zM151.7 485.9h2.4v1.4h-2.4zM161.3 484.5h2.4v1.4h-2.4zM173.3 489.8h2.4v1.2h-2.4zM175.7 488.6h2.4v1.2h-2.4zM190.1 485.9h2.4v1.4h-2.4zM206.9 489.8h2.4v1.2h-2.4zM216.5 470.6h2.4v2h-2.4zM218.9 489.8h2.4v1.2h-2.4zM218.9 479.9h2.4v1.6h-2.4zM221.3 485.9h2.4v1.4h-2.4zM226.1 479.9h2.4v1.6h-2.4zM245.3 489.8h2.4v1.2h-2.4zM250.1 489.8h2.4v1.2h-2.4zM250.1 483h2.4v1.5h-2.4zM252.5 483h2.4v1.5h-2.4zM264.5 481.5h2.4v1.5h-2.4zM269.3 489.8h2.4v1.2h-2.4zM269.3 485.9h2.4v1.4h-2.4zM274.1 488.6h2.4v1.2h-2.4zM278.9 488.6h2.4v1.2h-2.4zM286.1 483h2.4v1.5h-2.4zM298.1 481.5h2.4v1.5h-2.4zM307.7 488.6h2.4v1.2h-2.4zM310.1 483h2.4v1.5h-2.4zM317.3 476.4h2.4v1.8h-2.4zM331.7 481.5h2.4v1.5h-2.4zM336.5 476.4h2.4v1.8h-2.4zM346.1 484.5h2.4v1.4h-2.4zM350.9 481.5h2.4v1.5h-2.4zM355.7 483h2.4v1.5h-2.4zM355.7 474.6h2.4v1.8h-2.4zM358.1 474.6h2.4v1.8h-2.4zM362.9 453.7h2.4v2.7h-2.4zM362.9 447.8h2.4v3h-2.4zM365.3 472.6h2.4v1.9h-2.4zM367.7 466.3h2.4v2.2h-2.4zM377.3 474.6h2.4v1.8h-2.4zM379.7 466.3h2.4v2.2h-2.4zM382.1 488.6h2.4v1.2h-2.4zM384.5 453.7h2.4v2.7h-2.4zM389.3 481.5h2.4v1.5h-2.4zM394.1 481.5h2.4v1.5h-2.4zM398.9 479.9h2.4v1.6h-2.4zM398.9 466.3h2.4v2.2h-2.4zM406.1 488.6h2.4v1.2h-2.4zM406.1 466.3h2.4v2.2h-2.4zM408.5 489.8h2.4v1.2h-2.4zM408.5 461.6h2.4v2.4h-2.4zM418.1 470.6h2.4v2h-2.4zM420.5 472.6h2.4v1.9h-2.4zM420.5 468.5h2.4v2.1h-2.4zM427.7 474.6h2.4v1.8h-2.4zM427.7 472.6h2.4v1.9h-2.4zM427.7 470.6h2.4v2h-2.4zM430.1 484.5h2.4v1.4h-2.4zM430.1 479.9h2.4v1.6h-2.4zM432.5 484.5h2.4v1.4h-2.4zM432.5 464h2.4v2.3h-2.4zM434.9 488.6h2.4v1.2h-2.4zM458.9 484.5h2.4v1.4h-2.4zM461.3 487.3h2.4v1.3h-2.4zM463.7 479.9h2.4v1.6h-2.4zM497.3 481.5h2.4v1.5h-2.4zM504.5 483h2.4v1.5h-2.4z" fill="#3a0a60"/>
<path d="M91.7 464h2.4v2.3h-2.4zM94.1 487.3h2.4v1.3h-2.4zM98.9 489.8h2.4v1.2h-2.4zM98.9 479.9h2.4v1.6h-2.4zM98.9 464h2.4v2.3h-2.4zM110.9 461.6h2.4v2.4h-2.4zM118.1 459.1h2.4v2.5h-2.4zM120.5 483h2.4v1.5h-2.4zM130.1 481.5h2.4v1.5h-2.4zM130.1 466.3h2.4v2.2h-2.4zM132.5 487.3h2.4v1.3h-2.4zM134.9 474.6h2.4v1.8h-2.4zM137.3 481.5h2.4v1.5h-2.4zM139.7 470.6h2.4v2h-2.4zM163.7 479.9h2.4v1.6h-2.4zM168.5 489.8h2.4v1.2h-2.4zM178.1 484.5h2.4v1.4h-2.4zM182.9 485.9h2.4v1.4h-2.4zM182.9 483h2.4v1.5h-2.4zM182.9 481.5h2.4v1.5h-2.4zM197.3 489.8h2.4v1.2h-2.4zM197.3 479.9h2.4v1.6h-2.4zM199.7 479.9h2.4v1.6h-2.4zM216.5 479.9h2.4v1.6h-2.4zM218.9 481.5h2.4v1.5h-2.4zM221.3 479.9h2.4v1.6h-2.4zM223.7 488.6h2.4v1.2h-2.4zM223.7 483h2.4v1.5h-2.4zM230.9 481.5h2.4v1.5h-2.4zM233.3 479.9h2.4v1.6h-2.4zM238.1 489.8h2.4v1.2h-2.4zM238.1 479.9h2.4v1.6h-2.4zM242.9 481.5h2.4v1.5h-2.4zM245.3 483h2.4v1.5h-2.4zM247.7 489.8h2.4v1.2h-2.4zM250.1 485.9h2.4v1.4h-2.4zM250.1 484.5h2.4v1.4h-2.4zM252.5 484.5h2.4v1.4h-2.4zM252.5 481.5h2.4v1.5h-2.4zM259.7 485.9h2.4v1.4h-2.4zM264.5 479.9h2.4v1.6h-2.4zM271.7 489.8h2.4v1.2h-2.4zM276.5 489.8h2.4v1.2h-2.4zM288.5 487.3h2.4v1.3h-2.4zM295.7 479.9h2.4v1.6h-2.4zM298.1 489.8h2.4v1.2h-2.4zM319.7 487.3h2.4v1.3h-2.4zM334.1 489.8h2.4v1.2h-2.4zM336.5 483h2.4v1.5h-2.4zM358.1 485.9h2.4v1.4h-2.4zM360.5 488.6h2.4v1.2h-2.4zM362.9 478.2h2.4v1.7h-2.4zM365.3 459.1h2.4v2.5h-2.4zM367.7 476.4h2.4v1.8h-2.4zM372.5 478.2h2.4v1.7h-2.4zM377.3 485.9h2.4v1.4h-2.4zM377.3 466.3h2.4v2.2h-2.4zM379.7 479.9h2.4v1.6h-2.4zM382.1 461.6h2.4v2.4h-2.4zM384.5 487.3h2.4v1.3h-2.4zM384.5 468.5h2.4v2.1h-2.4zM389.3 479.9h2.4v1.6h-2.4zM389.3 468.5h2.4v2.1h-2.4zM394.1 484.5h2.4v1.4h-2.4zM398.9 483h2.4v1.5h-2.4zM398.9 476.4h2.4v1.8h-2.4zM398.9 459.1h2.4v2.5h-2.4zM403.7 487.3h2.4v1.3h-2.4zM406.1 478.2h2.4v1.7h-2.4zM410.9 488.6h2.4v1.2h-2.4zM410.9 479.9h2.4v1.6h-2.4zM410.9 472.6h2.4v1.9h-2.4zM413.3 472.6h2.4v1.9h-2.4zM413.3 470.6h2.4v2h-2.4zM415.7 481.5h2.4v1.5h-2.4zM415.7 474.6h2.4v1.8h-2.4zM415.7 468.5h2.4v2.1h-2.4zM418.1 481.5h2.4v1.5h-2.4zM422.9 489.8h2.4v1.2h-2.4zM422.9 461.6h2.4v2.4h-2.4zM425.3 464h2.4v2.3h-2.4zM430.1 489.8h2.4v1.2h-2.4zM432.5 488.6h2.4v1.2h-2.4zM432.5 483h2.4v1.5h-2.4zM434.9 481.5h2.4v1.5h-2.4zM439.7 485.9h2.4v1.4h-2.4zM439.7 484.5h2.4v1.4h-2.4zM446.9 481.5h2.4v1.5h-2.4zM454.1 489.8h2.4v1.2h-2.4zM468.5 488.6h2.4v1.2h-2.4zM480.5 487.3h2.4v1.3h-2.4zM482.9 488.6h2.4v1.2h-2.4zM482.9 485.9h2.4v1.4h-2.4zM492.5 488.6h2.4v1.2h-2.4zM494.9 481.5h2.4v1.5h-2.4zM499.7 484.5h2.4v1.4h-2.4zM506.9 483h2.4v1.5h-2.4zM516.5 487.3h2.4v1.3h-2.4zM516.5 485.9h2.4v1.4h-2.4z" fill="#2a0648"/>
<path d="M91.7 487h2.4v-9.3h2.4v2.9h2.4v0.7h2.4v-5.9h2.4v4.6h2.4v-2.2h2.4v-5.7h2.4v8.2h2.4v1.6h2.4v6.2h2.4v-6.8h2.4v-3.4h2.4v-1.4h2.4v-0.5h2.4v3h2.4v-11.1h2.4v5.2h2.4v-0.5h2.4v-0.3h2.4v9.5h2.4v-8h2.4v4.2h2.4v3.9h2.4v-2.9h2.4v0.9h2.4v1.2h2.4v3.9h2.4v-6h2.4v3.5h2.4v-2h2.4v-1.5h2.4v3.1h2.4v-3.1h2.4v3.8h2.4v3.2h2.4v-4.4h2.4v3.5h2.4v-5.4h2.4v-0.7h2.4v5.9h2.4v-5.9h2.4v7.9h2.4v-1.7h2.4v-2.4h2.4v1.6h2.4v-2.3h2.4v11.2h2.4v-12.4h2.4v0.4h2.4v4.5h2.4v-6.8h2.4v1.2h2.4v6.9h2.4v-8.1h2.4v3.7h2.4v0.3h2.4v-0.5h2.4v-3.5h2.4v7.6h2.4v-7.6h2.4h2.4v7.3h2.4v-6.8h2.4v3.7h2.4v-4.2h2.4v6.7h2.4v-4.2h2.4v-2.5h2.4v0.9h2.4v-0.9h2.4h2.4v-1.2h2.4v1.2h2.4v6.7h2.4v-6.7h2.4h2.4v3.4h2.4v-2.7h2.4v1h2.4v9.9h2.4v-7.4h2.4v8.4h2.4v-9.5h2.4v-1.9h2.4v-1.2h2.4v3.2h2.4v-3.2h2.4v2.7h2.4v8.3h2.4v-9.3h2.4v5h2.4v-3.2h2.4v2.8h2.4h2.4v-4.4h2.4v-0.7h2.4h2.4v-1.2h2.4v1.5h2.4h2.4v3.7h2.4h2.4v-5.2h2.4h2.4v4.3h2.4v0.5h2.4v-4.8h2.4v8h2.4v-6.7h2.4v0.7h2.4v-8.2h2.4v0.4h2.4v5.6h2.4v2.1h2.4v-13.7h2.4v11.5h2.4v-10.3h2.4v15.2h2.4v-2h2.4v-3.3h2.4v6.3h2.4v-6.4h2.4v0.5h2.4v-0.4h2.4v9.9h2.4v-14.1h2.4v-5h2.4v12.9h2.4v-6.7h2.4v15.7h2.4v-12.7h2.4v3.5h2.4v3.1h2.4v-14.7h2.4v9.7h2.4v2.2h2.4v-1h2.4v9.5h2.4v-4.9h2.4v-5h2.4v3.9h2.4v-2.4h2.4v-3.8h2.4v0.6h2.4v10.4h2.4v-10.4h2.4h2.4h2.4v1.2h2.4v-1.2h2.4v3.1h2.4v8.4h2.4v-2.6h2.4v-7h2.4v0.8h2.4v-0.8h2.4v-1.9h2.4h2.4v0.5h2.4v10.3h2.4v-8.3h2.4v-1.4h2.4v-1.1h2.4v1.5h2.4v6.8h2.4v-7.5h2.4v-0.6h2.4v1.5h2.4v-1.7h2.4v0.6h2.4v-0.6h2.4v7.6h2.4v-7.6h2.4v2.1h2.4v8.6h2.4v-10.7h2.4v6.6h2.4v-6.6h1.2v25.9h-1.2v-0.7h-2.4v0.5h-2.4v-0.8h-2.4v0.6h-2.4v0.5h-2.4v-0.9h-2.4v0.6h-2.4v-0.3h-2.4v0.2h-2.4v-0.3h-2.4h-2.4v-0.1h-2.4v-0.6h-2.4v0.4h-2.4v0.4h-2.4v-0.4h-2.4h-2.4v-0.6h-2.4v0.6h-2.4v0.4h-2.4v-0.3h-2.4v-0.2h-2.4h-2.4v0.2h-2.4v-0.4h-2.4v-0.1h-2.4v0.5h-2.4v0.5h-2.4v-0.3h-2.4v0.3h-2.4v-0.1h-2.4v0.2h-2.4v-1.1h-2.4v0.8h-2.4v-2.8h-2.4v-1.1h-2.4v-0.2h-2.4v0.3h-2.4v-0.3h-2.4v-0.4h-2.4v0.7h-2.4v-0.1h-2.4v0.1h-2.4v0.7h-2.4v-1h-2.4v0.2h-2.4v0.3h-2.4v-0.9h-2.4v1.1h-2.4v-0.5h-2.4v0.9h-2.4v-0.4h-2.4v-0.9h-2.4v0.7h-2.4v-0.1h-2.4v0.1h-2.4v-0.5h-2.4v0.5h-2.4v-0.3h-2.4v-0.1h-2.4v1h-2.4v-1.7h-2.4v0.8h-2.4v-0.9h-2.4v0.1h-2.4v2.4h-2.4h-2.4v-0.5h-2.4v1.4h-2.4h-2.4v0.9h-2.4v-0.4h-2.4v0.1h-2.4v0.4h-2.4v0.2h-2.4v-0.4h-2.4v0.1h-2.4v0.3h-2.4v0.1h-2.4v0.7h-2.4v-0.4h-2.4h-2.4h-2.4v-0.3h-2.4v0.1h-2.4v0.4h-2.4v-0.2h-2.4h-2.4v-1h-2.4v0.5h-2.4v0.2h-2.4v-0.4h-2.4v0.9h-2.4v-0.6h-2.4h-2.4v-0.5h-2.4v0.7h-2.4v-0.5h-2.4v0.7h-2.4v0.1h-2.4v-0.2h-2.4v0.3h-2.4v-0.2h-2.4v-0.7h-2.4v0.4h-2.4v-0.1h-2.4v0.3h-2.4h-2.4h-2.4v0.3h-2.4v-0.4h-2.4v-0.3h-2.4v0.6h-2.4v-0.4h-2.4v0.2h-2.4v-0.4h-2.4v0.5h-2.4v0.2h-2.4v-0.6h-2.4v0.5h-2.4v-0.2h-2.4v-0.1h-2.4v-0.1h-2.4v-0.1h-2.4v-1h-2.4v0.2h-2.4v0.6h-2.4v-0.1h-2.4v0.6h-2.4v0.1h-2.4v-0.9h-2.4v0.8h-2.4v-0.2h-2.4v0.1h-2.4v-0.2h-2.4v-0.1h-2.4v0.5h-2.4v-0.4h-2.4v0.7h-2.4v-0.3h-2.4v-0.4h-2.4v0.3h-2.4v-0.3h-2.4v0.3h-2.4v0.3h-2.4v-0.3h-2.4v0.3h-2.4v-0.1h-2.4v-0.2h-2.4v0.6h-2.4v-0.7h-2.4v0.2h-2.4v0.1h-2.4v0.3h-2.4v-0.8h-2.4v0.1h-2.4v0.3h-2.4v-0.6h-2.4v0.7h-2.4h-2.4v-0.1h-2.4v0.4h-2.4v-0.3h-2.4v0.1h-2.4v-0.4h-2.4v-0.1h-2.4v-0.2h-2.4v-0.5h-2.4v0.4h-2.4v0.2h-2.4v0.5h-2.4v-0.4h-2.4v-0.1h-2.4v0.3h-2.4v-0.4h-2.4h-2.4v0.2h-2.4v-0.6h-2.4z" fill="#180338"/>
<path d="M91.7 489h2.4v-10h2.4v3.2h2.4v0.7h2.4v-6.4h2.4v5h2.4v-2.4h2.4v-6.1h2.4v8.8h2.4v1.8h2.4v6.7h2.4v-7.4h2.4v-3.7h2.4v-1.4h2.4v-1.8h2.4v3h2.4v-9.9h2.4v5h2.4v-0.6h2.4v-0.3h2.4v10.2h2.4v-8.7h2.4v4.7h2.4v7h2.4v-2.3h2.4v8h2.4v0.6h2.4v2.2h2.4v-6.1h2.4v4.7h2.4v-1.1h2.4v-1.4h2.4v2.2h2.4v-1.9h2.4v2.3h2.4v1.8h2.4v-2.5h2.4v1.9h2.4v-3.1h2.4v-2.8h2.4v5.7h2.4v-3.5h2.4v4.7h2.4v-0.9h2.4v-1.4h2.4v1h2.4v-1.3h2.4v6.4h2.4v-7.1h2.4v0.1h2.4v2.3h2.4v-6.3h2.4v2h2.4v4.5h2.4v-4.5h2.4v2.8h2.4v0.3h2.4v-0.3h2.4v-2.2h2.4v4.5h2.4v-5.7h2.4v1.3h2.4v4.1h2.4v-3.9h2.4v2.1h2.4v-3.5h2.4v5h2.4v-2.4h2.4v-2.9h2.4v1.9h2.4v-1.7h2.4v-1.9h2.4v1.8h2.4v-0.3h2.4v5.3h2.4v-4h2.4v-0.8h2.4v3.3h2.4v-1.5h2.4v0.5h2.4v5.6h2.4v-4.3h2.4v4.8h2.4v-5.7h2.4v-1.2h2.4v-5.2h2.4v6.2h2.4v-2.7h2.4v2.4h2.4v5.1h2.4v-5.1h2.4v3.4h2.4v-1.8h2.4v1.2h2.4v-0.1h2.4v-2.9h2.4v-0.9h2.4v-0.4h2.4v-4.7h2.4v4h2.4v-0.5h2.4v2.2h2.4v-0.4h2.4v-5.2h2.4v-0.2h2.4v3.6h2.4v0.1h2.4v-7.1h2.4v9.2h2.4v-7h2.4v-2h2.4v-8.6h2.4v0.4h2.4v4.6h2.4v2.2h2.4v-13.7h2.4v11.3h2.4v-9.3h2.4v15h2.4v-2.3h2.4v-3.6h2.4v7h2.4v-7.1h2.4v0.6h2.4v-0.4h2.4v10.8h2.4v-15.4h2.4v-4.6h2.4v13.2h2.4v-7.4h2.4v17.3h2.4v-13.9h2.4v3.8h2.4v3.4h2.4v-16.1h2.4v10.6h2.4v2.4h2.4v-1.1h2.4v10.4h2.4v-5.4h2.4v-5.4h2.4v4.2h2.4v-2.6h2.4v-3h2.4v3.1h2.4v10.4h2.4v-14h2.4v3.2h2.4v-1.9h2.4v4.6h2.4v-4.1h2.4v6h2.4v8.3h2.4v-1.7h2.4v-5.2h2.4v0.5h2.4v-0.7h2.4v-2.7h2.4v-3.1h2.4v4.8h2.4v7.7h2.4v-6.1h2.4v-1.1h2.4v-5h2.4v5.3h2.4v5.1h2.4v-5.4h2.4v-0.5h2.4v1.2h2.4v-2.9h2.4v2.8h2.4v0.2h2.4v5.8h2.4v-8h2.4v4.5h2.4v5.5h2.4v-7.3h2.4v4.7h2.4v-7h1.2v17.5h-1.2v-0.5h-2.4v0.3h-2.4v-0.5h-2.4v0.4h-2.4v0.3h-2.4v-0.6h-2.4v0.4h-2.4v-0.6h-2.4h-2.4v-0.2h-2.4h-2.4v-0.1h-2.4v-0.5h-2.4v0.3h-2.4v0.3h-2.4v-0.3h-2.4h-2.4v-0.4h-2.4v0.4h-2.4v0.3h-2.4v-0.3h-2.4v-0.1h-2.4v0.1h-2.4v0.1h-2.4v-0.3h-2.4v-0.1h-2.4v0.4h-2.4v0.4h-2.4v-0.3h-2.4v0.4h-2.4v-0.2h-2.4v0.2h-2.4v-0.9h-2.4v0.7h-2.4v-2.8h-2.4v-1.1h-2.4v-0.2h-2.4v0.3h-2.4v-0.4h-2.4v-0.4h-2.4v0.7h-2.4h-2.4v0.1h-2.4v0.8h-2.4v-1.1h-2.4v0.2h-2.4v0.3h-2.4v-1h-2.4v1.2h-2.4v-0.5h-2.4v0.9h-2.4v-0.3h-2.4v-1.1h-2.4v0.8h-2.4v-0.1h-2.4v0.1h-2.4v-0.5h-2.4v0.5h-2.4v-0.3h-2.4v-0.1h-2.4v1h-2.4v-2.7h-2.4v0.7h-2.4v-0.9h-2.4v0.2h-2.4v3.7h-2.4h-2.4v-0.6h-2.4v1.6h-2.4v0.1h-2.4v0.8h-2.4v-0.4h-2.4v0.1h-2.4v0.4h-2.4v0.1h-2.4v-0.2h-2.4v0.1h-2.4v0.2h-2.4v0.1h-2.4v0.4h-2.4v-0.2h-2.4v0.1h-2.4h-2.4v-0.2h-2.4v0.1h-2.4v0.3h-2.4v-0.1h-2.4v-0.2h-2.4v-0.6h-2.4v0.2h-2.4v0.1h-2.4v-0.2h-2.4v0.5h-2.4v-0.3h-2.4v0.1h-2.4v-0.3h-2.4v0.4h-2.4v-0.2h-2.4v0.4h-2.4h-2.4v-0.1h-2.4v0.2h-2.4v-0.2h-2.4v-0.4h-2.4v0.2h-2.4v-0.1h-2.4v0.2h-2.4h-2.4h-2.4v0.2h-2.4v-0.1h-2.4v-0.2h-2.4v0.3h-2.4v-0.3h-2.4v0.2h-2.4v-0.3h-2.4v0.3h-2.4v0.2h-2.4v-0.4h-2.4v0.3h-2.4v-0.1h-2.4h-2.4v-0.1h-2.4v-0.2h-2.4v-0.8h-2.4v0.1h-2.4v0.4h-2.4v0.1h-2.4v0.5h-2.4v0.1h-2.4v-0.5h-2.4v0.4h-2.4v-0.1h-2.4h-2.4v-0.1h-2.4v-0.1h-2.4v0.4h-2.4v-0.3h-2.4v0.4h-2.4v-0.2h-2.4v-0.2h-2.4v0.2h-2.4v-0.1h-2.4v0.1h-2.4v0.2h-2.4v-0.1h-2.4v0.1h-2.4v-0.1h-2.4h-2.4v0.3h-2.4v-0.4h-2.4v0.1h-2.4v0.1h-2.4v0.2h-2.4v-0.7h-2.4h-2.4v0.3h-2.4v-0.6h-2.4v0.7h-2.4h-2.4v-0.1h-2.4v0.4h-2.4v-0.3h-2.4v0.1h-2.4v-0.4h-2.4v-0.1h-2.4v-0.3h-2.4v-0.5h-2.4v0.5h-2.4v0.1h-2.4v0.6h-2.4v-0.4h-2.4v-0.2h-2.4v0.4h-2.4v-0.5h-2.4v0.1h-2.4v0.2h-2.4v-0.7h-2.4z" fill="#2c0870"/>
<path d="M91.7 488.8h2.4v-7.9h2.4v2.5h2.4v0.6h2.4v-5.1h2.4v3.9h2.4v-1.8h2.4v-4.8h2.4v6.9h2.4v1.4h2.4v5.2h2.4v-5.7h2.4v-3h2.4v-1.1h2.4v-3.9h2.4v3h2.4v-6.4h2.4v4.4h2.4v-0.4h2.4v-0.2h2.4v8h2.4v-6.8h2.4v3.6h2.4v6.6h2.4v-0.2h2.4v6.8h2.4v0.4h2.4v1.5h2.4v-4.3h2.4v3.4h2.4v-0.8h2.4v-0.9h2.4v1.5h2.4v-1.4h2.4v1.6h2.4v1.2h2.4v-1.8h2.4v1.4h2.4v-2.2h2.4v-1.9h2.4v3.9h2.4v-2.4h2.4v3.2h2.4v-0.6h2.4v-1h2.4v0.7h2.4v-0.8h2.4v4.3h2.4v-4.8h2.4h2.4v1.3h2.4v-4.9h2.4v1.1h2.4v3.5h2.4v-2.8h2.4v2.3h2.4v0.3h2.4v-0.1h2.4v-1.5h2.4v3h2.4v-4h2.4v0.9h2.4v2.8h2.4v-2.8h2.4v1.5h2.4v-2.3h2.4v3.4h2.4v-1.6h2.4v-2.1h2.4v1.3h2.4v-1.3h2.4v-1.6h2.4v1.2h2.4v-0.1h2.4v3.8h2.4v-2.5h2.4v-0.4h2.4v2.3h2.4v-1h2.4v0.3h2.4v3.8h2.4v-3h2.4v3.2h2.4v-4h2.4v-1h2.4v-4h2.4v4.5h2.4v-1.8h2.4v1.8h2.4v3.6h2.4v-3.2h2.4v2.7h2.4v-1.3h2.4v0.6h2.4v-0.2h2.4v-2.1h2.4v-0.7h2.4v-0.4h2.4v-3.9h2.4v3.4h2.4v-0.4h2.4v1.4h2.4v-0.3h2.4v-3.6h2.4v-0.2h2.4v2.5h2.4v-0.1h2.4v-4.8h2.4v6.1h2.4v-5.2h2.4v-2.7h2.4v-6.2h2.4v0.3h2.4v-0.2h2.4v1.8h2.4v-11.6h2.4v9.7h2.4v-5h2.4v11.7h2.4v-1.6h2.4v-2.5h2.4v4.9h2.4v-5h2.4v0.4h2.4v-0.3h2.4v7.6h2.4v-10.8h2.4v-3.8h2.4v9.8h2.4v-5.1h2.4v12.1h2.4v-9.8h2.4v2.7h2.4v2.4h2.4v-11.3h2.4v7.5h2.4v1.6h2.4v-0.7h2.4v7.3h2.4v-3.8h2.4v-3.9h2.4v3h2.4v-1.8h2.4v-0.8h2.4v6.7h2.4v5.3h2.4v-7.1h2.4v1.6h2.4v-1h2.4v2.4h2.4v-2.1h2.4v3.1h2.4v4.5h2.4v-0.9h2.4v-2.8h2.4v0.1h2.4v-0.5h2.4v-1.5h2.4v-1.6h2.4v2.7h2.4v4.1h2.4v-3.2h2.4v-0.6h2.4v-2.8h2.4v2.9h2.4v2.7h2.4v-2.6h2.4v-0.1h2.4v0.6h2.4v-1.4h2.4v1.4h2.4h2.4v3.5h2.4v-4.8h2.4v2.7h2.4v3.2h2.4v-4.3h2.4v2.8h2.4v-4.1h1.2v11.5h-1.2v-0.3h-2.4v0.2h-2.4v-0.3h-2.4v0.2h-2.4v0.2h-2.4v-0.4h-2.4v0.3h-2.4v-1.2h-2.4v-0.4h-2.4v-0.1h-2.4h-2.4v-0.1h-2.4v-0.3h-2.4v0.1h-2.4v0.2h-2.4v-0.2h-2.4v0.1h-2.4v-0.3h-2.4v0.2h-2.4v0.2h-2.4v-0.2h-2.4h-2.4h-2.4v0.1h-2.4v-0.1h-2.4h-2.4v0.2h-2.4v0.2h-2.4v-0.1h-2.4v0.1h-2.4h-2.4v0.1h-2.4v-0.5h-2.4v0.4h-2.4v-2.8h-2.4v-1h-2.4v-0.1h-2.4v0.2h-2.4v-0.3h-2.4v-0.3h-2.4v0.5h-2.4h-2.4v0.1h-2.4v0.5h-2.4v-0.8h-2.4v0.2h-2.4v0.2h-2.4v-0.7h-2.4v0.8h-2.4v-0.3h-2.4v0.7h-2.4v-0.3h-2.4v-0.7h-2.4v0.5h-2.4h-2.4h-2.4v-0.3h-2.4v0.3h-2.4v-0.2h-2.4v-0.1h-2.4v0.8h-2.4v-2.6h-2.4v0.7h-2.4v-0.8h-2.4v0.1h-2.4v4.2h-2.4h-2.4v-0.4h-2.4v1.5h-2.4v0.3h-2.4v0.5h-2.4v-0.2h-2.4v0.1h-2.4v0.3h-2.4v0.1h-2.4v-0.1h-2.4v0.1h-2.4v0.2h-2.4v0.1h-2.4v0.3h-2.4v-0.2h-2.4v0.1h-2.4v0.1h-2.4v-0.2h-2.4v0.1h-2.4v0.2h-2.4h-2.4v-0.2h-2.4v-0.5h-2.4v0.1h-2.4h-2.4v-0.1h-2.4v0.3h-2.4v-0.1h-2.4h-2.4v-0.1h-2.4v0.3h-2.4v-0.2h-2.4v0.3h-2.4v0.1h-2.4v-0.1h-2.4v0.1h-2.4v-0.2h-2.4v-0.3h-2.4v0.1h-2.4v-0.1h-2.4v0.2h-2.4h-2.4v0.1h-2.4v0.1h-2.4v-0.1h-2.4v-0.1h-2.4v0.2h-2.4v-0.2h-2.4v0.1h-2.4v-0.2h-2.4v0.3h-2.4h-2.4v-0.2h-2.4v0.3h-2.4v-0.1h-2.4v-0.1h-2.4v-0.1h-2.4v-0.2h-2.4v-0.7h-2.4v0.1h-2.4v0.4h-2.4v0.1h-2.4v0.4h-2.4v0.1h-2.4v-0.3h-2.4v0.3h-2.4v-0.1h-2.4h-2.4v-0.1h-2.4h-2.4v0.2h-2.4v-0.2h-2.4v0.3h-2.4v-0.1h-2.4v-0.2h-2.4v0.1h-2.4h-2.4v0.1h-2.4v0.1h-2.4v-0.1h-2.4v0.1h-2.4h-2.4v-0.1h-2.4v0.2h-2.4v-0.3h-2.4v0.1h-2.4v0.1h-2.4v0.1h-2.4v-0.6h-2.4h-2.4v0.3h-2.4v-0.5h-2.4v0.5h-2.4h-2.4h-2.4v0.3h-2.4v-0.3h-2.4v0.1h-2.4v-0.3h-2.4v-0.1h-2.4v-0.2h-2.4v-0.4h-2.4v0.4h-2.4v0.1h-2.4v0.5h-2.4v-0.4h-2.4v-0.1h-2.4v0.3h-2.4v-0.4h-2.4v0.1h-2.4v0.1h-2.4v-0.5h-2.4z" fill="#1c30f0"/>
<path d="M91.7 493.9h2.4v-4.4h2.4v1.4h2.4v0.3h2.4v-2.8h2.4v2.2h2.4v-1h2.4v-2.7h2.4v3.8h2.4v0.8h2.4v2.9h2.4v-3.2h2.4v-1.6h2.4v-0.6h2.4v-2.6h2.4v0.6h2.4v-2.1h2.4v2.4h2.4v-0.2h2.4v-0.1h2.4v4.4h2.4v-3.8h2.4v2.1h2.4v3.1h2.4v-1.4h2.4v3.7h2.4v0.4h2.4v1.2h2.4v-3.5h2.4v2.7h2.4v-0.6h2.4v-0.8h2.4v1.3h2.4v-1.1h2.4v1.2h2.4v1h2.4v-1.5h2.4v1.1h2.4v-1.8h2.4v-1.6h2.4v3.3h2.4v-2h2.4v2.6h2.4v-0.5h2.4v-0.7h2.4v0.6h2.4v-0.7h2.4v3.6h2.4v-4h2.4v-0.1h2.4v0.9h2.4v-4.3h2.4v0.8h2.4v3.1h2.4v-2.2h2.4v2.1h2.4v0.4h2.4v-0.2h2.4v-1.2h2.4v2.5h2.4v-3.3h2.4v0.6h2.4v2.4h2.4v-2.3h2.4v1.2h2.4v-2h2.4v2.9h2.4v-1.3h2.4v-1.7h2.4v0.9h2.4v-1.1h2.4v-1.4h2.4v1h2.4v-0.1h2.4v3.3h2.4v-2.1h2.4v-0.2h2.4v1.9h2.4v-0.8h2.4v0.3h2.4v3.1h2.4v-2.5h2.4v2.6h2.4v-3.4h2.4v-0.9h2.4v-3.4h2.4v3.8h2.4v-1.6h2.4v1.6h2.4v3.1h2.4v-2.6h2.4v2.5h2.4v-1h2.4v0.3h2.4v-0.2h2.4v-1.8h2.4v-0.6h2.4v-0.3h2.4v-3.2h2.4v2.8h2.4v-0.3h2.4v1.2h2.4v-0.2h2.4v-3h2.4v-0.1h2.4v2h2.4h2.4v-3.9h2.4v5h2.4v-4.1h2.4v-2h2.4v-4.6h2.4v0.3h2.4v-4.5h2.4v1.7h2.4v-11h2.4v9.2h2.4v2.4h2.4v7.1h2.4v-1h2.4v-1.5h2.4v3h2.4v-3.1h2.4v0.3h2.4v-0.2h2.4v4.6h2.4v-6.5h2.4v-2.3h2.4v5.9h2.4v-3.1h2.4v7.3h2.4v-5.9h2.4v1.6h2.4v1.5h2.4v-6.8h2.4v4.5h2.4v1h2.4v-0.5h2.4v4.4h2.4v-2.2h2.4v-2.4h2.4v1.8h2.4v-1.1h2.4v-0.2h2.4v4.8h2.4v4h2.4v-5.4h2.4v1.2h2.4v-0.7h2.4v1.8h2.4v-1.6h2.4v2.3h2.4v3.4h2.4v-0.7h2.4v-2.1h2.4h2.4v-0.4h2.4v-1.2h2.4v-1.2h2.4v2.1h2.4v3.1h2.4v-2.4h2.4v-0.5h2.4v-2.1h2.4v2.2h2.4v2.1h2.4v-1.8h2.4v-0.1h2.4v0.5h2.4v-1h2.4v0.9h2.4v-0.3h2.4v2.9h2.4v-4h2.4v2.2h2.4v2.8h2.4v-3.7h2.4v2.4h2.4v-3.5h1.2v9.8h-1.2v-0.2h-2.4v0.1h-2.4v-0.2h-2.4v0.2h-2.4v0.1h-2.4v-0.3h-2.4v0.2h-2.4v-1.4h-2.4v-0.5h-2.4v-0.1h-2.4h-2.4v-0.1h-2.4v-0.2h-2.4h-2.4v0.2h-2.4v-0.1h-2.4h-2.4v-0.2h-2.4v0.2h-2.4h-2.4v-0.1h-2.4h-2.4v0.1h-2.4v0.1h-2.4v-0.1h-2.4h-2.4v0.1h-2.4v0.2h-2.4v-0.1h-2.4v0.1h-2.4h-2.4v0.1h-2.4v-0.4h-2.4v0.3h-2.4v-3.8h-2.4v-1.3h-2.4h-2.4v0.1h-2.4v-0.2h-2.4v-0.1h-2.4v0.3h-2.4v-0.1h-2.4v0.1h-2.4v0.3h-2.4v-0.4h-2.4v0.1h-2.4v0.1h-2.4v-0.4h-2.4v0.5h-2.4v-0.2h-2.4v0.4h-2.4v-0.2h-2.4v-0.4h-2.4v0.3h-2.4h-2.4h-2.4v-0.2h-2.4v0.2h-2.4v-0.1h-2.4v-0.1h-2.4v0.5h-2.4v-0.9h-2.4v0.7h-2.4v-0.8h-2.4v0.1h-2.4v3.9h-2.4h-2.4v-0.3h-2.4v1.7h-2.4v0.4h-2.4v0.4h-2.4v-0.1h-2.4h-2.4v0.3h-2.4h-2.4v-0.1h-2.4v0.1h-2.4v0.2h-2.4h-2.4v0.3h-2.4v-0.1h-2.4h-2.4v0.1h-2.4v-0.1h-2.4h-2.4v0.3h-2.4v-0.1h-2.4v-0.2h-2.4v-0.5h-2.4v0.1h-2.4h-2.4v-0.1h-2.4v0.3h-2.4v-0.1h-2.4v0.1h-2.4v-0.2h-2.4v0.3h-2.4v-0.1h-2.4v0.2h-2.4v0.1h-2.4v-0.1h-2.4v0.1h-2.4v-0.2h-2.4v-0.3h-2.4v0.1h-2.4v-0.1h-2.4v0.1h-2.4v0.1h-2.4v0.1h-2.4v0.1h-2.4v-0.1h-2.4v-0.1h-2.4v0.2h-2.4v-0.2h-2.4v0.1h-2.4v-0.1h-2.4v0.2h-2.4h-2.4v-0.2h-2.4v0.3h-2.4v-0.1h-2.4h-2.4v-0.1h-2.4v-0.3h-2.4v-0.6h-2.4h-2.4v0.4h-2.4v0.2h-2.4v0.3h-2.4v0.1h-2.4v-0.3h-2.4v0.3h-2.4v-0.1h-2.4h-2.4v-0.1h-2.4h-2.4v0.2h-2.4v-0.2h-2.4v0.3h-2.4v-0.1h-2.4v-0.1h-2.4v0.1h-2.4v-0.1h-2.4v0.1h-2.4v0.1h-2.4v-0.1h-2.4v0.1h-2.4h-2.4v-0.1h-2.4v0.2h-2.4v-0.2h-2.4v0.1h-2.4h-2.4v-0.1h-2.4v-0.6h-2.4v-0.2h-2.4v0.1h-2.4v-0.3h-2.4v0.4h-2.4v-0.1h-2.4h-2.4v0.2h-2.4v-0.2h-2.4v0.1h-2.4v-0.2h-2.4h-2.4v-0.1h-2.4v-0.3h-2.4v0.2h-2.4v0.1h-2.4v0.3h-2.4v-0.2h-2.4v-0.1h-2.4v0.2h-2.4v-0.2h-2.4h-2.4v0.1h-2.4v-0.3h-2.4z" fill="#10a0ff"/>
<path d="M91.7 496.4h2.4v-3.2h2.4v1h2.4v0.3h2.4v-2.1h2.4v1.6h2.4v-0.8h2.4v-1.9h2.4v2.8h2.4v0.6h2.4v2.1h2.4v-2.3h2.4v-1.2h2.4v-0.5h2.4v-1.9h2.4v0.5h2.4v-1.4h2.4v1.6h2.4v-0.2h2.4v-0.1h2.4v3.3h2.4v-2.8h2.4v1.5h2.4v2h2.4v-1.7h2.4v2.6h2.4v0.3h2.4v1h2.4v-2.8h2.4v2.2h2.4v-0.6h2.4v-0.6h2.4v1h2.4v-0.9h2.4v1h2.4v0.8h2.4v-1.2h2.4v0.9h2.4v-1.5h2.4v-1.4h2.4v2.7h2.4v-1.7h2.4v2.3h2.4v-0.4h2.4v-0.7h2.4v0.5h2.4v-0.5h2.4v3h2.4v-3.3h2.4v-0.1h2.4v0.6h2.4v-4h2.4v0.6h2.4v2.9h2.4v-1.8h2.4v2h2.4v0.3h2.4v-0.1h2.4v-1h2.4v2h2.4v-2.7h2.4v0.5h2.4v1.9h2.4v-1.9h2.4v1h2.4v-1.6h2.4v2.4h2.4v-1.1h2.4v-1.4h2.4v0.7h2.4v-1h2.4v-1.3h2.4v0.8h2.4v-0.1h2.4v3h2.4v-1.7h2.4v-0.1h2.4v1.6h2.4v-0.6h2.4v0.2h2.4v2.6h2.4v-2.2h2.4v2.2h2.4v-2.9h2.4v-0.9h2.4v-2.8h2.4v3.1h2.4v-1.3h2.4v1.3h2.4v2.8h2.4v-2.1h2.4v2.3h2.4v-0.9h2.4v0.1h2.4v-0.1h2.4v-1.6h2.4v-0.6h2.4v-0.2h2.4v-2.4h2.4v2h2.4v-0.3h2.4v1.1h2.4v-0.2h2.4v-2.6h2.4v-0.2h2.4v1.9h2.4h2.4v-3.6h2.4v4.6h2.4v-3.7h2.4v-1.7h2.4v-4.2h2.4v0.2h2.4v-6h2.4v1.8h2.4v-11.2h2.4v9.2h2.4v7.2h2.4v3.7h2.4v-0.6h2.4v-0.8h2.4v1.6h2.4v-1.7h2.4v0.2h2.4v-0.1h2.4v2.6h2.4v-3.7h2.4v-1.2h2.4v3.2h2.4v-1.7h2.4v4.1h2.4v-3.3h2.4v0.9h2.4v0.8h2.4v-3.9h2.4v2.6h2.4v0.6h2.4v-0.3h2.4v2.5h2.4v-1.3h2.4v-1.3h2.4v1h2.4v-0.6h2.4v0.3h2.4v4.1h2.4v3h2.4v-4h2.4v0.9h2.4v-0.6h2.4v1.4h2.4v-1.2h2.4v1.7h2.4v2.8h2.4v-0.5h2.4v-1.5h2.4v-0.1h2.4v-0.4h2.4v-0.9h2.4v-0.9h2.4v1.6h2.4v2.3h2.4v-1.7h2.4v-0.4h2.4v-1.6h2.4v1.6h2.4v1.6h2.4v-1.2h2.4v0.1h2.4v0.3h2.4v-0.7h2.4v0.4h2.4v-1.1h2.4v2.8h2.4v-3.9h2.4v2.2h2.4v2.6h2.4v-3.5h2.4v2.2h2.4v-3.3h1.2v8.4h-1.2v-0.3h-2.4v0.2h-2.4v-0.2h-2.4v0.1h-2.4v0.2h-2.4v-0.3h-2.4v0.2h-2.4v-1.6h-2.4v-0.6h-2.4v-0.1h-2.4h-2.4v-0.1h-2.4v-0.2h-2.4v0.1h-2.4h-2.4h-2.4h-2.4v-0.1h-2.4v0.1h-2.4h-2.4v-0.1h-2.4h-2.4v0.1h-2.4v0.1h-2.4h-2.4v-0.1h-2.4h-2.4v0.1h-2.4v-0.1h-2.4v0.1h-2.4h-2.4v0.1h-2.4v-0.3h-2.4v0.2h-2.4v-4.7h-2.4v-1.6h-2.4h-2.4h-2.4v-0.1h-2.4h-2.4v0.1h-2.4h-2.4v0.1h-2.4v0.1h-2.4v-0.2h-2.4h-2.4v0.1h-2.4v-0.2h-2.4v0.2h-2.4v-0.1h-2.4v0.2h-2.4h-2.4v-0.3h-2.4v0.2h-2.4h-2.4h-2.4v-0.1h-2.4v0.1h-2.4v-0.1h-2.4h-2.4v0.2h-2.4v0.8h-2.4v0.7h-2.4v-0.8h-2.4v0.1h-2.4v3.9h-2.4h-2.4v-0.3h-2.4v1.7h-2.4v0.4h-2.4v0.4h-2.4v-0.2h-2.4v0.1h-2.4v0.2h-2.4h-2.4v-0.1h-2.4v0.1h-2.4v0.1h-2.4v0.1h-2.4v0.2h-2.4v-0.1h-2.4h-2.4h-2.4v-0.1h-2.4v0.1h-2.4v0.2h-2.4h-2.4v-0.3h-2.4v-0.4h-2.4v0.1h-2.4h-2.4v-0.1h-2.4v0.2h-2.4v-0.1h-2.4v0.1h-2.4v-0.1h-2.4v0.3h-2.4v-0.1h-2.4v0.2h-2.4h-2.4v-0.1h-2.4v0.1h-2.4v-0.1h-2.4v-0.3h-2.4h-2.4v-0.1h-2.4v0.2h-2.4h-2.4v0.1h-2.4v0.1h-2.4h-2.4v-0.1h-2.4v0.1h-2.4v-0.1h-2.4v0.1h-2.4v-0.2h-2.4v0.2h-2.4v0.1h-2.4v-0.2h-2.4v0.2h-2.4v-0.1h-2.4h-2.4v-0.1h-2.4v-0.2h-2.4v-0.6h-2.4h-2.4v0.3h-2.4v0.2h-2.4v0.4h-2.4v0.1h-2.4v-0.3h-2.4v0.2h-2.4h-2.4h-2.4v-0.1h-2.4h-2.4v0.1h-2.4v-0.1h-2.4v0.2h-2.4v-0.1h-2.4v-0.1h-2.4v0.1h-2.4h-2.4h-2.4v0.1h-2.4h-2.4h-2.4h-2.4h-2.4v0.1h-2.4v-0.2h-2.4v0.1h-2.4h-2.4h-2.4v-0.5h-2.4v-0.1h-2.4v0.1h-2.4v-0.2h-2.4v0.2h-2.4h-2.4h-2.4v0.1h-2.4v-0.1h-2.4h-2.4v-0.1h-2.4h-2.4v-0.1h-2.4v-0.2h-2.4v0.2h-2.4h-2.4v0.2h-2.4v-0.1h-2.4v-0.1h-2.4v0.1h-2.4v-0.1h-2.4h-2.4v0.1h-2.4v-0.2h-2.4z" fill="#00e8e0"/>
<path d="M91.7 506h2.4h2.4h2.4h2.4h2.4h2.4h2.4h2.4h2.4h2.4h2.4h2.4h2.4h2.4h2.4h2.4h2.4h2.4h2.4h2.4h2.4h2.4h2.4h2.4h2.4h2.4h2.4h2.4h2.4h2.4h2.4h2.4h2.4h2.4h2.4h2.4h2.4h2.4h2.4h2.4h2.4h2.4h2.4h2.4h2.4h2.4h2.4h2.4h2.4h2.4h2.4h2.4h2.4h2.4h2.4h2.4h2.4h2.4h2.4h2.4h2.4h2.4h2.4h2.4h2.4h2.4h2.4h2.4h2.4h2.4h2.4h2.4h2.4h2.4h2.4h2.4h2.4h2.4h2.4h2.4h2.4h2.4h2.4h2.4h2.4h2.4h2.4h2.4h2.4h2.4h2.4h2.4h2.4h2.4h2.4h2.4h2.4h2.4h2.4h2.4h2.4h2.4h2.4h2.4h2.4h2.4h2.4h2.4h2.4h2.4h2.4h2.4h2.4v-24.9h2.4v2.2h2.4v-8h2.4v5.6h2.4v25.1h2.4h2.4h2.4h2.4h2.4h2.4h2.4h2.4h2.4h2.4h2.4h2.4h2.4h2.4h2.4h2.4h2.4h2.4h2.4h2.4h2.4h2.4h2.4h2.4h2.4h2.4h2.4h2.4h2.4h2.4h2.4h2.4h2.4h2.4h2.4h2.4h2.4h2.4h2.4h2.4h2.4h2.4h2.4h2.4h2.4h2.4h2.4h2.4h2.4h2.4h2.4h2.4h2.4h2.4h2.4h2.4h2.4h2.4h2.4h2.4h2.4h1.2h-1.2h-2.4h-2.4h-2.4h-2.4h-2.4h-2.4h-2.4h-2.4h-2.4h-2.4h-2.4h-2.4h-2.4h-2.4h-2.4h-2.4h-2.4h-2.4h-2.4h-2.4h-2.4h-2.4h-2.4h-2.4h-2.4h-2.4h-2.4h-2.4h-2.4h-2.4h-2.4h-2.4h-2.4h-2.4h-2.4h-2.4h-2.4h-2.4h-2.4h-2.4h-2.4h-2.4h-2.4h-2.4h-2.4h-2.4h-2.4h-2.4h-2.4h-2.4h-2.4h-2.4h-2.4h-2.4h-2.4h-2.4h-2.4h-2.4h-2.4h-2.4h-2.4v-17.7h-2.4v0.4h-2.4v-0.6h-2.4v0.2h-2.4v17.7h-2.4h-2.4h-2.4h-2.4h-2.4h-2.4h-2.4h-2.4h-2.4h-2.4h-2.4h-2.4h-2.4h-2.4h-2.4h-2.4h-2.4h-2.4h-2.4h-2.4h-2.4h-2.4h-2.4h-2.4h-2.4h-2.4h-2.4h-2.4h-2.4h-2.4h-2.4h-2.4h-2.4h-2.4h-2.4h-2.4h-2.4h-2.4h-2.4h-2.4h-2.4h-2.4h-2.4h-2.4h-2.4h-2.4h-2.4h-2.4h-2.4h-2.4h-2.4h-2.4h-2.4h-2.4h-2.4h-2.4h-2.4h-2.4h-2.4h-2.4h-2.4h-2.4h-2.4h-2.4h-2.4h-2.4h-2.4h-2.4h-2.4h-2.4h-2.4h-2.4h-2.4h-2.4h-2.4h-2.4h-2.4h-2.4h-2.4h-2.4h-2.4h-2.4h-2.4h-2.4h-2.4h-2.4h-2.4h-2.4h-2.4h-2.4h-2.4h-2.4h-2.4h-2.4h-2.4h-2.4h-2.4h-2.4h-2.4h-2.4h-2.4h-2.4h-2.4h-2.4h-2.4h-2.4h-2.4h-2.4h-2.4h-2.4h-2.4h-2.4h-2.4z" fill="#30f0a0"/>
</g>
<path d="M364 506.4V500.2H369V497.2H370.5V501.2H371.8V506.4Z" fill="#fff"/>
<rect x="97.0" y="455.8" width="2.2" height="23.2" fill="#fff"/>
<rect x="128.8" y="455.8" width="2.4" height="23.2" fill="#fff"/>
<rect x="107.2" y="455.8" width="1.2" height="15.9" fill="#fff"/>
<rect x="95.4" y="439.9" width="1.3" height="3.3" fill="#202020"/>
<rect x="105.9" y="439.9" width="1.3" height="3.3" fill="#202020"/>
<rect x="111.1" y="439.9" width="1.3" height="3.3" fill="#202020"/>
<rect x="112.9" y="439.9" width="1.3" height="3.3" fill="#202020"/>
<rect x="114.8" y="439.9" width="1.3" height="3.3" fill="#202020"/>
<rect x="122.9" y="439.9" width="1.3" height="3.3" fill="#202020"/>
<rect x="144.8" y="439.9" width="1.3" height="3.3" fill="#8040c0"/>
<rect x="153.4" y="439.9" width="1.3" height="3.3" fill="#8040c0"/>
<rect x="157.9" y="439.9" width="1.3" height="3.3" fill="#8040c0"/>
<rect x="161.3" y="439.9" width="1.3" height="3.3" fill="#202020"/>
<rect x="172.3" y="439.9" width="1.3" height="3.3" fill="#202020"/>
<rect x="195.3" y="439.9" width="1.3" height="3.3" fill="#8040c0"/>
<rect x="211.8" y="439.9" width="1.3" height="3.3" fill="#202020"/>
<rect x="230.1" y="439.9" width="1.3" height="3.3" fill="#8040c0"/>
<rect x="248.6" y="439.9" width="1.3" height="3.3" fill="#8040c0"/>
<rect x="266.9" y="439.9" width="1.3" height="3.3" fill="#202020"/>
<rect x="285.2" y="439.9" width="1.3" height="3.3" fill="#202020"/>
<rect x="302.9" y="439.9" width="1.3" height="3.3" fill="#202020"/>
<rect x="310" y="439.9" width="1.3" height="3.3" fill="#202020"/>
<rect x="324.4" y="439.9" width="1.3" height="3.3" fill="#202020"/>
<rect x="342.7" y="439.9" width="1.3" height="3.3" fill="#202020"/>
<rect x="381.9" y="439.9" width="1.3" height="3.3" fill="#202020"/>
<rect x="400.3" y="439.9" width="1.3" height="3.3" fill="#8040c0"/>
<rect x="418.6" y="439.9" width="1.3" height="3.3" fill="#8040c0"/>
<rect x="432.4" y="439.9" width="1.3" height="3.3" fill="#202020"/>
<rect x="449.4" y="439.9" width="1.3" height="3.3" fill="#202020"/>
<rect x="467.8" y="439.9" width="1.3" height="3.3" fill="#202020"/>
<rect x="489.2" y="439.9" width="1.3" height="3.3" fill="#202020"/>
<rect x="504.9" y="439.9" width="1.3" height="3.3" fill="#202020"/>
<rect x="512.7" y="439.9" width="1.3" height="3.3" fill="#202020"/>
<rect x="514.8" y="439.9" width="1.3" height="3.3" fill="#202020"/>
<rect x="310" y="477.6" width="1.6" height="1.3" fill="#505050"/>
<rect x="310" y="474.6" width="1.6" height="1.3" fill="#505050"/>
<rect x="310" y="471.6" width="1.6" height="1.3" fill="#505050"/>
<rect x="310" y="468.6" width="1.6" height="1.3" fill="#505050"/>
<rect x="310" y="465.6" width="1.6" height="1.3" fill="#505050"/>
<rect x="310" y="462.7" width="1.6" height="1.3" fill="#505050"/>
<rect x="309.9" y="455.8" width="1.8" height="2" fill="#303030"/>
<g filter="url(#sb)">
<path d="M91.7 590 L91.7 542 L93 542 L93 546.8 L97 546.8 L97 562.6 L99.2 562.6 L99.2 546.8 L107.2 546.8 L107.2 551.1 L109.4 551.1 L109.4 542 L112.9 542 L112.9 546.8 L117.5 546.8 L117.5 542 L120 542 L120 546.8 L126 546.8 L126 559.6 L128.8 559.6 L128.8 562.6 L131.2 562.6 L131.2 546.8 L137 546.8 L137 553.5 L139 553.5 L139 551.4 L141 551.4 L141 532.8 L143 532.8 L143 551.4 L147.2 551.4 L147.2 562.6 L207.8 562.6 L207.8 561 L209.6 561 L209.6 562.6 L216 562.6 L216 555.2 L216.8 555.2 L216.8 552.8 L218 552.8 L218 555.2 L218.8 555.2 L218.8 562.6 L265 562.6 L265 561 L266.8 561 L266.8 562.6 L291.1 562.6 L291.1 561 L292.9 561 L292.9 562.6 L317.5 562.6 L317.5 553.2 L319.3 553.2 L319.3 562.6 L333.2 562.6 L333.2 555.1 L335 555.1 L335 562.6 L336.2 562.6 L336.2 559.2 L337.8 559.2 L337.8 562.6 L347.1 562.6 L347.1 553.2 L348.9 553.2 L348.9 562.6 L355.1 562.6 L355.1 549.1 L357 549.1 L357 546.7 L361.3 546.7 L361.3 543 L363 543 L363 523.6 L372.8 523.6 L372.8 538.5 L375 538.5 L375 540.3 L377.7 540.3 L377.7 544.2 L379.3 544.2 L379.3 540.9 L381.8 540.9 L381.8 537.2 L388.3 537.2 L388.3 541.7 L390 541.7 L390 548.2 L392.4 548.2 L392.4 552.2 L395.7 552.2 L395.7 532.8 L398.1 532.8 L398.1 538.5 L399.7 538.5 L399.7 529.6 L403 529.6 L403 538.5 L405.5 538.5 L405.5 526.8 L409.5 526.8 L409.5 539.2 L412 539.2 L412 551.6 L414.4 551.6 L414.4 536.1 L416.1 536.1 L416.1 546.7 L418.5 546.7 L418.5 543 L421 543 L421 547.4 L423.4 547.4 L423.4 536.1 L428.3 536.1 L428.3 543.8 L430.8 543.8 L430.8 538.5 L434 538.5 L434 541.7 L436.5 541.7 L436.5 562.6 L439 562.6 L439 560.7 L440.4 560.7 L440.4 562.6 L441.5 562.6 L441.5 555.1 L443.1 555.1 L443.1 562.6 L444 562.6 L444 560.7 L445.4 560.7 L445.4 562.6 L454.9 562.6 L454.9 553.2 L456.6 553.2 L456.6 562.6 L460 562.6 L460 559.2 L463 559.2 L463 562.6 L465.2 562.6 L465.2 553.2 L467 553.2 L467 562.6 L468 562.6 L468 559.2 L469.6 559.2 L469.6 562.6 L520.1 562.6 L520.1 590Z" fill="#000"/>
<path d="M91.7 545.2h2.4v2.4h-2.4zM94.1 573.4h2.4v1.2h-2.4zM98.9 547.6h2.4v2.3h-2.4zM108.5 572.2h2.4v1.2h-2.4zM110.9 560h2.4v1.8h-2.4zM113.3 566.7h2.4v1.5h-2.4zM115.7 569.6h2.4v1.4h-2.4zM115.7 568.1h2.4v1.4h-2.4zM120.5 566.7h2.4v1.5h-2.4zM130.1 563.5h2.4v1.6h-2.4zM132.5 573.4h2.4v1.2h-2.4zM134.9 573.4h2.4v1.2h-2.4zM134.9 547.6h2.4v2.3h-2.4zM142.1 573.4h2.4v1.2h-2.4zM142.1 552.1h2.4v2.1h-2.4zM146.9 569.6h2.4v1.4h-2.4zM166.1 573.4h2.4v1.2h-2.4zM170.9 563.5h2.4v1.6h-2.4zM173.3 566.7h2.4v1.5h-2.4zM175.7 573.4h2.4v1.2h-2.4zM175.7 565.1h2.4v1.5h-2.4zM190.1 566.7h2.4v1.5h-2.4zM192.5 570.9h2.4v1.3h-2.4zM194.9 565.1h2.4v1.5h-2.4zM197.3 568.1h2.4v1.4h-2.4zM206.9 569.6h2.4v1.4h-2.4zM211.7 572.2h2.4v1.2h-2.4zM216.5 573.4h2.4v1.2h-2.4zM223.7 565.1h2.4v1.5h-2.4zM235.7 570.9h2.4v1.3h-2.4zM242.9 565.1h2.4v1.5h-2.4zM247.7 566.7h2.4v1.5h-2.4zM250.1 572.2h2.4v1.2h-2.4zM262.1 569.6h2.4v1.4h-2.4zM264.5 570.9h2.4v1.3h-2.4zM266.9 566.7h2.4v1.5h-2.4zM271.7 573.4h2.4v1.2h-2.4zM281.3 565.1h2.4v1.5h-2.4zM293.3 566.7h2.4v1.5h-2.4zM295.7 565.1h2.4v1.5h-2.4zM298.1 570.9h2.4v1.3h-2.4zM317.3 561.8h2.4v1.7h-2.4zM322.1 563.5h2.4v1.6h-2.4zM329.3 570.9h2.4v1.3h-2.4zM338.9 573.4h2.4v1.2h-2.4zM362.9 573.4h2.4v1.2h-2.4zM365.3 547.6h2.4v2.3h-2.4zM374.9 560h2.4v1.8h-2.4zM382.1 561.8h2.4v1.7h-2.4zM382.1 560h2.4v1.8h-2.4zM382.1 545.2h2.4v2.4h-2.4zM382.1 540.1h2.4v2.6h-2.4zM398.9 566.7h2.4v1.5h-2.4zM398.9 549.9h2.4v2.2h-2.4zM408.5 556.3h2.4v1.9h-2.4zM413.3 537.4h2.4v2.7h-2.4zM418.1 569.6h2.4v1.4h-2.4zM418.1 547.6h2.4v2.3h-2.4zM422.9 569.6h2.4v1.4h-2.4zM425.3 561.8h2.4v1.7h-2.4zM425.3 556.3h2.4v1.9h-2.4zM430.1 569.6h2.4v1.4h-2.4zM432.5 566.7h2.4v1.5h-2.4zM439.7 573.4h2.4v1.2h-2.4zM439.7 566.7h2.4v1.5h-2.4zM446.9 569.6h2.4v1.4h-2.4zM454.1 561.8h2.4v1.7h-2.4zM456.5 565.1h2.4v1.5h-2.4zM475.7 568.1h2.4v1.4h-2.4zM480.5 566.7h2.4v1.5h-2.4zM482.9 570.9h2.4v1.3h-2.4zM485.3 563.5h2.4v1.6h-2.4zM509.3 573.4h2.4v1.2h-2.4zM516.5 570.9h2.4v1.3h-2.4zM516.5 568.1h2.4v1.4h-2.4zM516.5 566.7h2.4v1.5h-2.4z" fill="#200438"/>
<path d="M94.1 549.9h2.4v2.2h-2.4zM98.9 554.3h2.4v2h-2.4zM103.7 568.1h2.4v1.4h-2.4zM108.5 560h2.4v1.8h-2.4zM113.3 560h2.4v1.8h-2.4zM118.1 554.3h2.4v2h-2.4zM127.7 568.1h2.4v1.4h-2.4zM130.1 573.4h2.4v1.2h-2.4zM132.5 552.1h2.4v2.1h-2.4zM137.3 569.6h2.4v1.4h-2.4zM137.3 560h2.4v1.8h-2.4zM142.1 560h2.4v1.8h-2.4zM142.1 558.2h2.4v1.8h-2.4zM146.9 566.7h2.4v1.5h-2.4zM156.5 572.2h2.4v1.2h-2.4zM178.1 566.7h2.4v1.5h-2.4zM180.5 565.1h2.4v1.5h-2.4zM197.3 566.7h2.4v1.5h-2.4zM199.7 568.1h2.4v1.4h-2.4zM204.5 570.9h2.4v1.3h-2.4zM206.9 572.2h2.4v1.2h-2.4zM206.9 561.8h2.4v1.7h-2.4zM223.7 572.2h2.4v1.2h-2.4zM228.5 569.6h2.4v1.4h-2.4zM250.1 570.9h2.4v1.3h-2.4zM259.7 563.5h2.4v1.6h-2.4zM269.3 566.7h2.4v1.5h-2.4zM276.5 563.5h2.4v1.6h-2.4zM283.7 563.5h2.4v1.6h-2.4zM290.9 572.2h2.4v1.2h-2.4zM305.3 563.5h2.4v1.6h-2.4zM307.7 568.1h2.4v1.4h-2.4zM310.1 573.4h2.4v1.2h-2.4zM317.3 573.4h2.4v1.2h-2.4zM317.3 570.9h2.4v1.3h-2.4zM331.7 573.4h2.4v1.2h-2.4zM358.1 568.1h2.4v1.4h-2.4zM358.1 566.7h2.4v1.5h-2.4zM358.1 565.1h2.4v1.5h-2.4zM358.1 554.3h2.4v2h-2.4zM360.5 561.8h2.4v1.7h-2.4zM362.9 545.2h2.4v2.4h-2.4zM365.3 568.1h2.4v1.4h-2.4zM367.7 549.9h2.4v2.2h-2.4zM370.1 566.7h2.4v1.5h-2.4zM372.5 565.1h2.4v1.5h-2.4zM372.5 563.5h2.4v1.6h-2.4zM377.3 563.5h2.4v1.6h-2.4zM377.3 558.2h2.4v1.8h-2.4zM379.7 573.4h2.4v1.2h-2.4zM379.7 563.5h2.4v1.6h-2.4zM379.7 545.2h2.4v2.4h-2.4zM384.5 554.3h2.4v2h-2.4zM384.5 540.1h2.4v2.6h-2.4zM389.3 561.8h2.4v1.7h-2.4zM396.5 560h2.4v1.8h-2.4zM398.9 554.3h2.4v2h-2.4zM401.3 573.4h2.4v1.2h-2.4zM403.7 566.7h2.4v1.5h-2.4zM403.7 558.2h2.4v1.8h-2.4zM420.5 558.2h2.4v1.8h-2.4zM427.7 566.7h2.4v1.5h-2.4zM432.5 569.6h2.4v1.4h-2.4zM432.5 545.2h2.4v2.4h-2.4zM439.7 570.9h2.4v1.3h-2.4zM439.7 569.6h2.4v1.4h-2.4zM444.5 568.1h2.4v1.4h-2.4zM444.5 565.1h2.4v1.5h-2.4zM454.1 554.3h2.4v2h-2.4zM466.1 573.4h2.4v1.2h-2.4zM466.1 572.2h2.4v1.2h-2.4zM466.1 570.9h2.4v1.3h-2.4zM468.5 566.7h2.4v1.5h-2.4zM482.9 568.1h2.4v1.4h-2.4zM482.9 563.5h2.4v1.6h-2.4zM504.5 572.2h2.4v1.2h-2.4zM511.7 570.9h2.4v1.3h-2.4zM518.9 573.4h1.2v1.2h-1.2zM518.9 565.1h1.2v1.5h-1.2z" fill="#3a0a60"/>
<path d="M101.3 572.2h2.4v1.2h-2.4zM103.7 554.3h2.4v2h-2.4zM110.9 563.5h2.4v1.6h-2.4zM113.3 573.4h2.4v1.2h-2.4zM113.3 568.1h2.4v1.4h-2.4zM113.3 554.3h2.4v2h-2.4zM115.7 573.4h2.4v1.2h-2.4zM118.1 572.2h2.4v1.2h-2.4zM122.9 547.6h2.4v2.3h-2.4zM125.3 569.6h2.4v1.4h-2.4zM130.1 568.1h2.4v1.4h-2.4zM137.3 561.8h2.4v1.7h-2.4zM139.7 566.7h2.4v1.5h-2.4zM144.5 558.2h2.4v1.8h-2.4zM151.7 570.9h2.4v1.3h-2.4zM158.9 566.7h2.4v1.5h-2.4zM168.5 563.5h2.4v1.6h-2.4zM178.1 565.1h2.4v1.5h-2.4zM197.3 569.6h2.4v1.4h-2.4zM206.9 565.1h2.4v1.5h-2.4zM214.1 573.4h2.4v1.2h-2.4zM216.5 570.9h2.4v1.3h-2.4zM216.5 560h2.4v1.8h-2.4zM221.3 565.1h2.4v1.5h-2.4zM228.5 572.2h2.4v1.2h-2.4zM230.9 568.1h2.4v1.4h-2.4zM240.5 572.2h2.4v1.2h-2.4zM245.3 569.6h2.4v1.4h-2.4zM257.3 573.4h2.4v1.2h-2.4zM262.1 568.1h2.4v1.4h-2.4zM264.5 566.7h2.4v1.5h-2.4zM266.9 563.5h2.4v1.6h-2.4zM274.1 572.2h2.4v1.2h-2.4zM276.5 570.9h2.4v1.3h-2.4zM283.7 568.1h2.4v1.4h-2.4zM286.1 566.7h2.4v1.5h-2.4zM305.3 570.9h2.4v1.3h-2.4zM305.3 565.1h2.4v1.5h-2.4zM314.9 568.1h2.4v1.4h-2.4zM317.3 572.2h2.4v1.2h-2.4zM317.3 563.5h2.4v1.6h-2.4zM324.5 573.4h2.4v1.2h-2.4zM324.5 572.2h2.4v1.2h-2.4zM346.1 565.1h2.4v1.5h-2.4zM358.1 556.3h2.4v1.9h-2.4zM362.9 568.1h2.4v1.4h-2.4zM362.9 565.1h2.4v1.5h-2.4zM370.1 554.3h2.4v2h-2.4zM372.5 560h2.4v1.8h-2.4zM374.9 552.1h2.4v2.1h-2.4zM377.3 547.6h2.4v2.3h-2.4zM382.1 566.7h2.4v1.5h-2.4zM384.5 566.7h2.4v1.5h-2.4zM386.9 563.5h2.4v1.6h-2.4zM389.3 556.3h2.4v1.9h-2.4zM394.1 573.4h2.4v1.2h-2.4zM396.5 565.1h2.4v1.5h-2.4zM396.5 556.3h2.4v1.9h-2.4zM396.5 552.1h2.4v2.1h-2.4zM398.9 540.1h2.4v2.6h-2.4zM401.3 570.9h2.4v1.3h-2.4zM408.5 542.7h2.4v2.5h-2.4zM413.3 566.7h2.4v1.5h-2.4zM413.3 547.6h2.4v2.3h-2.4zM427.7 560h2.4v1.8h-2.4zM432.5 558.2h2.4v1.8h-2.4zM432.5 542.7h2.4v2.5h-2.4zM434.9 547.6h2.4v2.3h-2.4zM446.9 573.4h2.4v1.2h-2.4zM446.9 566.7h2.4v1.5h-2.4zM461.3 561.8h2.4v1.7h-2.4zM466.1 568.1h2.4v1.4h-2.4zM475.7 573.4h2.4v1.2h-2.4zM478.1 573.4h2.4v1.2h-2.4zM482.9 566.7h2.4v1.5h-2.4zM487.7 566.7h2.4v1.5h-2.4zM490.1 563.5h2.4v1.6h-2.4zM497.3 566.7h2.4v1.5h-2.4zM499.7 573.4h2.4v1.2h-2.4z" fill="#2a0648"/>
<path d="M91.7 561.1h2.4v-4h2.4v7.1h2.4v3.7h2.4v-1.9h2.4v-7.5h2.4v3.9h2.4v-3.8h2.4v2.7h2.4v5.3h2.4v-3.1h2.4v2.4h2.4v-3.5h2.4v-2.9h2.4v0.4h2.4v3.9h2.4v-1h2.4v-2.6h2.4v-2.9h2.4v-1.5h2.4v-0.2h2.4v14.3h2.4v-10.3h2.4v9.6h2.4v-6.6h2.4v2.7h2.4v3.6h2.4v-6.3h2.4v8.7h2.4v-3.3h2.4v0.3h2.4v2.6h2.4v-3.3h2.4v-0.8h2.4v-0.6h2.4v-2.5h2.4v1.7h2.4v3.5h2.4v-4.6h2.4v-0.2h2.4v7.1h2.4v-0.6h2.4v-8h2.4v1.3h2.4v2h2.4v-0.5h2.4v0.1h2.4v-2.9h2.4v4.6h2.4v-4.6h2.4v4.5h2.4v0.5h2.4v-9h2.4v4h2.4h2.4v1.6h2.4v-0.3h2.4v-1.3h2.4h2.4h2.4v1.3h2.4h2.4v5.5h2.4v2.6h2.4v-4.1h2.4v-1.9h2.4v-3.4h2.4v10.8h2.4v-4.9h2.4h2.4v4.6h2.4v-10.5h2.4v-0.9h2.4v3.6h2.4v0.9h2.4v-3.6h2.4v5.1h2.4v-2.6h2.4v-2.5h2.4h2.4v4.3h2.4v3.2h2.4v-3.8h2.4v-5.3h2.4v8.7h2.4v-3.8h2.4v5.3h2.4v-8.6h2.4v3.7h2.4v-2.5h2.4v-1.2h2.4v1.9h2.4v-1.7h2.4v2.8h2.4v-3.6h2.4v0.6h2.4v8.4h2.4v-4.1h2.4v-1.3h2.4v-1.8h2.4v2.1h2.4v-0.7h2.4v-6h2.4v4.7h2.4v-1.3h2.4v1.3h2.4v0.8h2.4v-2.1h2.4h2.4h2.4v7.9h2.4v-12.6h2.4v2.6h2.4v-0.4h2.4v11h2.4v-5.1h2.4v-1.8h2.4v2.6h2.4v-1.6h2.4v0.6h2.4v-4.9h2.4v-2.9h2.4v-0.3h2.4v6.9h2.4v-2.7h2.4v-2.9h2.4v-1.8h2.4v7.7h2.4v2.9h2.4v-4.1h2.4v2.2h2.4v-7.5h2.4v0.7h2.4v1.7h2.4v-5.8h2.4v4.8h2.4v-3.7h2.4v-1.3h2.4v8.3h2.4v-3.3h2.4v4.2h2.4v-0.1h2.4v3.9h2.4v-1.6h2.4v-2.3h2.4v0.3h2.4v-1.3h2.4v2.6h2.4v-2.9h2.4v3.9h2.4v-2h2.4v-0.4h2.4v5.5h2.4v-10.3h2.4v3.6h2.4v-0.3h2.4v3.4h2.4v-3.4h2.4h2.4v10.7h2.4v-10.7h2.4v0.3h2.4v-0.3h2.4h2.4v3.1h2.4v-3.1h2.4v4.6h2.4v-3.4h2.4v-1.2h2.4v3.3h2.4v-3.3h2.4v6.9h2.4v-1.6h2.4v1.1h2.4v0.8h2.4v-7.2h2.4v2.8h2.4v-2.8h2.4v7.5h1.2v17.6h-1.2v1h-2.4v-0.7h-2.4v0.5h-2.4v-0.8h-2.4v0.1h-2.4v0.1h-2.4v-0.1h-2.4v0.4h-2.4v-0.4h-2.4v0.2h-2.4v-0.1h-2.4v-0.3h-2.4v0.8h-2.4v-0.9h-2.4v0.5h-2.4v0.2h-2.4v-0.5h-2.4v0.4h-2.4v-1.2h-2.4v1.4h-2.4v-0.6h-2.4v-0.3h-2.4v0.3h-2.4v0.1h-2.4v0.3h-2.4v-0.6h-2.4v0.3h-2.4h-2.4v-0.1h-2.4v0.4h-2.4v-0.4h-2.4v0.2h-2.4v-0.1h-2.4v0.1h-2.4v-3h-2.4v-0.9h-2.4v0.2h-2.4h-2.4v0.3h-2.4v-0.2h-2.4v0.6h-2.4v-0.1h-2.4v-0.3h-2.4v0.3h-2.4v-0.4h-2.4v0.2h-2.4h-2.4v-0.5h-2.4v0.1h-2.4v-0.2h-2.4v0.2h-2.4v0.5h-2.4v-0.1h-2.4v-0.2h-2.4v-0.2h-2.4v0.4h-2.4h-2.4v-0.2h-2.4v-0.3h-2.4h-2.4v-0.1h-2.4v-0.8h-2.4v-0.1h-2.4v-0.4h-2.4v0.8h-2.4v1.9h-2.4v0.2h-2.4v-0.8h-2.4v2.1h-2.4v0.3h-2.4v0.3h-2.4v-0.3h-2.4v0.2h-2.4v0.3h-2.4v-0.1h-2.4v0.7h-2.4v-0.6h-2.4h-2.4v0.3h-2.4v-0.1h-2.4h-2.4v-0.1h-2.4v0.6h-2.4h-2.4v-0.2h-2.4v0.4h-2.4h-2.4v-0.3h-2.4v-0.4h-2.4v-0.3h-2.4v0.3h-2.4v-0.7h-2.4v0.4h-2.4v-0.2h-2.4v0.9h-2.4v-0.4h-2.4v-0.1h-2.4v0.2h-2.4v0.5h-2.4v0.2h-2.4v-0.5h-2.4v-0.3h-2.4v0.6h-2.4v-0.8h-2.4v-0.1h-2.4v0.2h-2.4v0.1h-2.4v-0.6h-2.4v0.4h-2.4v0.1h-2.4v-0.3h-2.4v0.7h-2.4v-0.3h-2.4v-0.1h-2.4v-0.3h-2.4v0.2h-2.4v0.4h-2.4v0.1h-2.4v0.2h-2.4h-2.4h-2.4v-0.2h-2.4v-0.1h-2.4v-0.2h-2.4v-0.5h-2.4h-2.4v-0.3h-2.4v0.5h-2.4v0.8h-2.4v-0.4h-2.4v0.4h-2.4v-0.3h-2.4h-2.4v-0.1h-2.4v0.2h-2.4v0.1h-2.4v-0.6h-2.4v-0.1h-2.4v0.5h-2.4h-2.4v-0.3h-2.4v0.3h-2.4v0.1h-2.4v-0.1h-2.4h-2.4v-0.1h-2.4v-0.2h-2.4v0.2h-2.4h-2.4v-0.2h-2.4v0.8h-2.4v-0.6h-2.4v0.2h-2.4v0.1h-2.4v-0.7h-2.4v0.4h-2.4v-0.7h-2.4v1h-2.4h-2.4v-0.1h-2.4v-0.2h-2.4v-0.2h-2.4h-2.4v0.2h-2.4v0.1h-2.4v-0.2h-2.4v-0.3h-2.4v0.2h-2.4v-0.2h-2.4v0.3h-2.4v0.2h-2.4v-0.2h-2.4v0.2h-2.4v-0.5h-2.4v-0.1h-2.4v0.2h-2.4v0.5h-2.4v-0.3h-2.4z" fill="#180338"/>
<path d="M91.7 562.4h2.4v-4.4h2.4v7.7h2.4v4.1h2.4v-2.1h2.4v-8.1h2.4v4.2h2.4v-4.2h2.4v3h2.4v5.7h2.4v-3.3h2.4v2.5h2.4v-3.7h2.4v-3.1h2.4v0.3h2.4v4.3h2.4v-1.1h2.4v-2.8h2.4v-3.2h2.4v-1.6h2.4v-0.2h2.4v15.5h2.4v-11.1h2.4v12.6h2.4v-1.7h2.4v5h2.4v2h2.4v-5.3h2.4v6.6h2.4v-1.8h2.4v0.1h2.4v1.5h2.4v-1.9h2.4v-0.5h2.4v-0.3h2.4v-1.5h2.4v1h2.4v1.9h2.4v-2.6h2.4v-0.2h2.4v4.1h2.4v-0.3h2.4v-5h2.4v1.1h2.4v1.2h2.4v-0.3h2.4v0.1h2.4v-2.5h2.4v3.5h2.4v-4h2.4v3.5h2.4v-0.2h2.4v-6.1h2.4v2.3h2.4v0.7h2.4v1.9h2.4h2.4v-0.8h2.4v-0.2h2.4v-0.7h2.4v1.6h2.4h2.4v3.1h2.4v1.5h2.4v-2.3h2.4v-1.1h2.4v-2.2h2.4v6.5h2.4v-2.9h2.4h2.4v2.5h2.4v-7.2h2.4v0.1h2.4v2.3h2.4v0.7h2.4v-4.4h2.4v5.7h2.4v-1.4h2.4v-4h2.4v1.1h2.4v3.9h2.4v1.7h2.4v-2.3h2.4v-4h2.4v5.8h2.4v-2.4h2.4v3.1h2.4v-6h2.4v3.2h2.4v-1.3h2.4v-0.5h2.4v1.9h2.4v-1h2.4v1.2h2.4v-2.3h2.4v-0.4h2.4v5h2.4v-2.9h2.4v-1.2h2.4v-1.7h2.4v1h2.4v-0.9h2.4v-6.5h2.4v4.8h2.4v-2.9h2.4v1.9h2.4v0.3h2.4v-4.7h2.4v1.6h2.4v-3.3h2.4v7.8h2.4v-13.1h2.4v2.7h2.4v-1.8h2.4v11.7h2.4v-5.4h2.4v-1.9h2.4v3.1h2.4v-1.7h2.4v0.6h2.4v-5.4h2.4v-3.2h2.4v-0.2h2.4v7.5h2.4v-3h2.4v-3.2h2.4v-1.9h2.4v8.4h2.4v3.2h2.4v-4.5h2.4v2.4h2.4v-8.2h2.4v0.8h2.4v1.8h2.4v-6.4h2.4v5.3h2.4v-4h2.4v-1.4h2.4v9.1h2.4v-3.7h2.4v4.7h2.4v-0.1h2.4v4.2h2.4v-0.8h2.4v1.1h2.4v0.2h2.4v-1h2.4v2.2h2.4v-4.5h2.4v5.4h2.4v-1.7h2.4v-0.1h2.4v6.3h2.4v-7.4h2.4v2.6h2.4v-0.4h2.4v2.6h2.4v-3.5h2.4v-5.6h2.4v14.5h2.4v-11.4h2.4v3.8h2.4v-5.2h2.4v0.7h2.4v6.5h2.4v-8.2h2.4v9.4h2.4v-2.4h2.4v-1.2h2.4v2.8h2.4v-2.9h2.4v7.2h2.4v-1.1h2.4v0.8h2.4v0.5h2.4v-6.8h2.4v3.9h2.4v-5.6h2.4v8.7h1.2v9.4h-1.2v0.5h-2.4v-0.3h-2.4v0.2h-2.4v-0.4h-2.4h-2.4v0.1h-2.4v-0.1h-2.4v-0.2h-2.4v-0.4h-2.4v0.2h-2.4v-0.1h-2.4v-0.3h-2.4v0.5h-2.4v-0.6h-2.4v0.4h-2.4v0.1h-2.4v-0.3h-2.4v0.3h-2.4v-0.9h-2.4v0.9h-2.4v-0.4h-2.4v-0.2h-2.4v0.3h-2.4v0.1h-2.4v0.2h-2.4v-0.4h-2.4v0.2h-2.4h-2.4v-0.1h-2.4v0.4h-2.4v-0.3h-2.4v0.1h-2.4v-0.1h-2.4h-2.4v-2.9h-2.4v-1h-2.4v0.3h-2.4h-2.4v0.3h-2.4v-0.2h-2.4v0.6h-2.4v-0.1h-2.4v-0.3h-2.4v0.4h-2.4v-0.4h-2.4v0.1h-2.4h-2.4v-0.5h-2.4v0.1h-2.4v-0.3h-2.4v0.2h-2.4v0.6h-2.4v-0.1h-2.4v-0.2h-2.4v-0.2h-2.4v0.5h-2.4h-2.4v-0.3h-2.4v-0.3h-2.4h-2.4v-0.1h-2.4v-1.9h-2.4v-0.1h-2.4v-0.4h-2.4v0.8h-2.4v3.3h-2.4v0.2h-2.4v-0.9h-2.4v2.2h-2.4v0.4h-2.4v0.3h-2.4v-0.2h-2.4v0.1h-2.4v0.3h-2.4v-0.1h-2.4v0.4h-2.4v-0.3h-2.4v0.1h-2.4v0.1h-2.4v0.1h-2.4h-2.4v-0.1h-2.4v0.4h-2.4h-2.4v-0.1h-2.4v0.3h-2.4h-2.4v-0.3h-2.4v-0.3h-2.4v-0.2h-2.4v0.1h-2.4v-0.4h-2.4v0.3h-2.4v-0.1h-2.4v0.5h-2.4v-0.1h-2.4v-0.1h-2.4v0.2h-2.4v0.3h-2.4v0.1h-2.4v-0.3h-2.4v-0.2h-2.4v0.3h-2.4v-0.5h-2.4v-0.1h-2.4v0.1h-2.4v0.1h-2.4v-0.4h-2.4v0.3h-2.4v0.1h-2.4v-0.2h-2.4v0.5h-2.4v-0.2h-2.4v-0.1h-2.4v-0.2h-2.4v0.1h-2.4v0.3h-2.4h-2.4v0.2h-2.4h-2.4h-2.4v-0.1h-2.4v-0.1h-2.4v-0.3h-2.4v-0.4h-2.4v-0.1h-2.4v-0.1h-2.4v0.5h-2.4v0.5h-2.4v-0.1h-2.4v0.2h-2.4v-0.2h-2.4h-2.4h-2.4h-2.4v0.1h-2.4v-0.4h-2.4h-2.4v0.3h-2.4h-2.4v-0.2h-2.4v0.2h-2.4v0.1h-2.4v-0.1h-2.4h-2.4h-2.4v-0.1h-2.4v0.1h-2.4h-2.4v-0.1h-2.4v0.4h-2.4v-0.3h-2.4v0.1h-2.4h-2.4v-0.7h-2.4v0.4h-2.4v-0.7h-2.4v1h-2.4h-2.4v-0.1h-2.4v-0.2h-2.4v-0.2h-2.4v-0.1h-2.4v0.3h-2.4h-2.4v-0.2h-2.4v-0.2h-2.4v0.1h-2.4v-0.2h-2.4v0.4h-2.4v0.2h-2.4v-0.3h-2.4v0.3h-2.4v-0.5h-2.4v-0.2h-2.4v0.3h-2.4v0.5h-2.4v-0.3h-2.4z" fill="#2c0870"/>
<path d="M91.7 564.3h2.4v-3.4h2.4v6h2.4v3.2h2.4v-1.6h2.4v-6.4h2.4v3.3h2.4v-3.2h2.4v2.3h2.4v4.5h2.4v-2.6h2.4v2h2.4v-3h2.4v-2.4h2.4v0.3h2.4v3.3h2.4v-0.8h2.4v-2.2h2.4v-2.5h2.4v-1.3h2.4v-0.1h2.4v12.1h2.4v-8.7h2.4v10.9h2.4v0.1h2.4v4.6h2.4v1.4h2.4v-3.6h2.4v4.4h2.4v-1.2h2.4v0.1h2.4v1h2.4v-1.3h2.4v-0.3h2.4v-0.3h2.4v-1h2.4v0.6h2.4v1.3h2.4v-1.8h2.4v-0.1h2.4v2.8h2.4v-0.3h2.4v-3.4h2.4v0.8h2.4v0.9h2.4v-0.2h2.4v0.1h2.4v-1.7h2.4v2.4h2.4v-2.9h2.4v2.1h2.4v-0.6h2.4v-4.6h2.4v1.9h2.4v0.9h2.4v1.7h2.4v0.2h2.4v-0.6h2.4v-0.1h2.4v-0.5h2.4v1h2.4h2.4v2.1h2.4v1h2.4v-1.6h2.4v-0.7h2.4v-1.5h2.4v4.4h2.4v-1.9h2.4v-0.2h2.4v1.7h2.4v-5.1h2.4h2.4v1.6h2.4v0.7h2.4v-2.9h2.4v4h2.4v-0.9h2.4v-2.6h2.4v0.7h2.4v2.6h2.4v1.1h2.4v-1.7h2.4v-2.8h2.4v3.8h2.4v-1.8h2.4v2.2h2.4v-4.2h2.4v2.3h2.4v-0.8h2.4h2.4v1.7h2.4v-0.7h2.4v0.5h2.4v-1.5h2.4v-0.5h2.4v3.3h2.4v-2h2.4v-0.9h2.4v-1.2h2.4v0.6h2.4v-0.6h2.4v-5.3h2.4v4h2.4v-2h2.4v1.2h2.4v0.1h2.4v-3.2h2.4v1.1h2.4v-2.8h2.4v4.2h2.4v-9.4h2.4v1.9h2.4v-5h2.4v9.4h2.4v-4.3h2.4v-1.6h2.4v4.8h2.4v-1.2h2.4v0.4h2.4v-3.8h2.4v-2.2h2.4v-0.2h2.4v5.3h2.4v-2.1h2.4v-2.2h2.4v-1.4h2.4v5.9h2.4v2.3h2.4v-3.2h2.4v1.7h2.4v-5.8h2.4v0.6h2.4v1.2h2.4v-4.4h2.4v3.7h2.4v-2.8h2.4v-1h2.4v6.4h2.4v-2.6h2.4v3.3h2.4v-0.1h2.4v2.9h2.4v0.6h2.4v5h2.4v0.2h2.4v-0.6h2.4v1.1h2.4v-2.2h2.4v2.7h2.4v-0.9h2.4h2.4v3.5h2.4v-3.8h2.4v1.2h2.4v-0.4h2.4v1.2h2.4v-1.9h2.4v-3.5h2.4v8.3h2.4v-5.8h2.4v2h2.4v-2.8h2.4v0.3h2.4v3.4h2.4v-4.3h2.4v5.2h2.4v-1.1h2.4v-0.5h2.4v1.4h2.4v-1.5h2.4v4h2.4v-0.6h2.4v0.4h2.4v0.3h2.4v-4h2.4v2.3h2.4v-3.7h2.4v5.5h1.2v6.8h-1.2v0.3h-2.4v-0.2h-2.4v0.1h-2.4v-0.2h-2.4h-2.4h-2.4h-2.4v-0.9h-2.4v-0.6h-2.4h-2.4h-2.4v-0.2h-2.4v0.3h-2.4v-0.4h-2.4v0.2h-2.4v0.1h-2.4v-0.2h-2.4v0.1h-2.4v-0.4h-2.4v0.5h-2.4v-0.3h-2.4v-0.1h-2.4v0.2h-2.4v0.1h-2.4v0.1h-2.4v-0.2h-2.4v0.2h-2.4h-2.4v-0.1h-2.4v0.2h-2.4v-0.2h-2.4v0.1h-2.4h-2.4h-2.4v-2.8h-2.4v-1h-2.4v0.2h-2.4h-2.4v0.2h-2.4v-0.2h-2.4v0.5h-2.4v-0.1h-2.4v-0.2h-2.4v0.3h-2.4v-0.3h-2.4h-2.4v0.1h-2.4v-0.4h-2.4v0.1h-2.4v-0.2h-2.4v0.1h-2.4v0.4h-2.4v-0.1h-2.4v-0.1h-2.4v-0.1h-2.4v0.3h-2.4h-2.4v-0.2h-2.4v-0.2h-2.4h-2.4v-0.1h-2.4v-1.9h-2.4v-0.1h-2.4v-0.3h-2.4v0.7h-2.4v3.8h-2.4v0.1h-2.4v-0.6h-2.4v2h-2.4v0.4h-2.4v0.2h-2.4v-0.1h-2.4v0.1h-2.4v0.2h-2.4h-2.4v0.4h-2.4v-0.2h-2.4h-2.4v0.2h-2.4h-2.4v0.1h-2.4v-0.1h-2.4v0.3h-2.4h-2.4h-2.4v0.2h-2.4h-2.4v-0.3h-2.4v-0.3h-2.4v-0.1h-2.4h-2.4v-0.3h-2.4v0.2h-2.4h-2.4v0.4h-2.4v-0.1h-2.4h-2.4v0.1h-2.4v0.2h-2.4v0.1h-2.4v-0.2h-2.4v-0.1h-2.4v0.1h-2.4v-0.3h-2.4v-0.2h-2.4v0.1h-2.4v0.1h-2.4v-0.2h-2.4v0.2h-2.4v0.1h-2.4v-0.1h-2.4v0.3h-2.4v-0.2h-2.4h-2.4v-0.1h-2.4h-2.4v0.2h-2.4v0.1h-2.4v0.1h-2.4h-2.4h-2.4v-0.1h-2.4v-0.1h-2.4v-0.3h-2.4v-0.4h-2.4v-0.1h-2.4h-2.4v0.5h-2.4v0.4h-2.4v-0.1h-2.4v0.2h-2.4v-0.1h-2.4v-0.1h-2.4h-2.4v0.1h-2.4h-2.4v-0.2h-2.4v-0.1h-2.4v0.2h-2.4h-2.4v-0.1h-2.4v0.1h-2.4v0.1h-2.4h-2.4h-2.4h-2.4v-0.1h-2.4v0.1h-2.4h-2.4v-0.1h-2.4v0.3h-2.4v-0.3h-2.4v0.1h-2.4h-2.4v-0.5h-2.4v0.2h-2.4v-0.6h-2.4v0.9h-2.4h-2.4v-0.1h-2.4v-0.2h-2.4v-0.1h-2.4v-0.1h-2.4v0.2h-2.4h-2.4v-0.1h-2.4v-0.2h-2.4v0.1h-2.4v-0.2h-2.4v0.3h-2.4v0.2h-2.4v-0.2h-2.4v0.2h-2.4v-0.4h-2.4v-0.1h-2.4v0.2h-2.4v0.4h-2.4v-0.2h-2.4z" fill="#1c30f0"/>
<path d="M91.7 573h2.4v-1.9h2.4v3.4h2.4v1.7h2.4v-0.8h2.4v-3.6h2.4v1.8h2.4v-1.8h2.4v1.3h2.4v2.5h2.4v-1.4h2.4v1.1h2.4v-1.7h2.4v-1.3h2.4v0.1h2.4v1.9h2.4v-0.5h2.4v-1.2h2.4v-1.4h2.4v-0.7h2.4v-0.1h2.4v6.8h2.4v-4.9h2.4v5.7h2.4v-1h2.4v2.3h2.4v1.1h2.4v-2.9h2.4v3.7h2.4v-1.1h2.4v0.1h2.4v0.9h2.4v-1.1h2.4v-0.3h2.4v-0.2h2.4v-0.9h2.4v0.5h2.4v1.1h2.4v-1.5h2.4v-0.2h2.4v2.4h2.4v-0.2h2.4v-2.9h2.4v0.7h2.4v0.7h2.4v-0.1h2.4v0.1h2.4v-1.4h2.4v1.9h2.4v-2.4h2.4v1.6h2.4v-0.7h2.4v-4.1h2.4v1.7h2.4v1.1h2.4v1.6h2.4v0.2h2.4v-0.5h2.4v-0.1h2.4v-0.4h2.4v0.8h2.4v-0.1h2.4v1.8h2.4v0.8h2.4v-1.3h2.4v-0.6h2.4v-1.2h2.4v3.7h2.4v-1.6h2.4v-0.2h2.4v1.3h2.4v-4.4h2.4h2.4v1.4h2.4v0.6h2.4v-2.3h2.4v3.4h2.4v-0.7h2.4v-2.1h2.4v0.6h2.4v2.1h2.4v0.9h2.4v-1.4h2.4v-2.5h2.4v3.2h2.4v-1.6h2.4v1.8h2.4v-3.5h2.4v1.9h2.4v-0.5h2.4v0.1h2.4v1.7h2.4v-0.6h2.4v0.3h2.4v-1.4h2.4v-0.5h2.4v2.8h2.4v-1.7h2.4v-0.7h2.4v-1h2.4v0.6h2.4v-0.5h2.4v-4.4h2.4v3.3h2.4v-1.6h2.4v1.1h2.4v0.1h2.4v-2.6h2.4v0.9h2.4v-2.1h2.4v3.4h2.4v-7.1h2.4v1.4h2.4v-8.4h2.4v8.9h2.4v-4.1h2.4v-1.4h2.4v7.7h2.4v-0.7h2.4v0.2h2.4v-2.2h2.4v-1.4h2.4v-0.1h2.4v3.2h2.4v-1.3h2.4v-1.3h2.4v-0.9h2.4v3.6h2.4v1.4h2.4v-1.9h2.4v1h2.4v-3.5h2.4v0.3h2.4v0.8h2.4v-2.7h2.4v2.2h2.4v-1.7h2.4v-0.6h2.4v3.9h2.4v-1.6h2.4v2h2.4h2.4v1.7h2.4v0.7h2.4v3.9h2.4v0.1h2.4v-0.4h2.4v0.8h2.4v-1.7h2.4v2.1h2.4v-0.7h2.4h2.4v2.7h2.4v-2.8h2.4v0.8h2.4v-0.4h2.4v0.8h2.4v-1.5h2.4v-2.6h2.4v6.4h2.4v-4.4h2.4v1.5h2.4v-2.2h2.4v0.2h2.4v2.6h2.4v-3.1h2.4v4h2.4v-0.8h2.4v-0.4h2.4v1.1h2.4v-1.2h2.4v3h2.4v-0.5h2.4v0.4h2.4v0.2h2.4v-3.4h2.4v2h2.4v-3.2h2.4v4.7h1.2v5.7h-1.2v0.4h-2.4v-0.3h-2.4v0.2h-2.4v-0.3h-2.4v0.1h-2.4h-2.4h-2.4v-1.2h-2.4v-0.7h-2.4h-2.4h-2.4v-0.1h-2.4v0.1h-2.4v-0.3h-2.4v0.2h-2.4h-2.4v-0.1h-2.4v0.1h-2.4v-0.3h-2.4v0.3h-2.4v-0.2h-2.4h-2.4v0.1h-2.4v0.1h-2.4v0.1h-2.4v-0.1h-2.4v0.1h-2.4h-2.4v-0.1h-2.4v0.2h-2.4v-0.1h-2.4h-2.4h-2.4h-2.4v-3.8h-2.4v-1.2h-2.4v0.1h-2.4h-2.4v0.1h-2.4v-0.1h-2.4v0.3h-2.4h-2.4v-0.2h-2.4v0.2h-2.4v-0.2h-2.4v0.1h-2.4h-2.4v-0.2h-2.4h-2.4v-0.1h-2.4v0.1h-2.4v0.2h-2.4h-2.4v-0.1h-2.4v-0.1h-2.4v0.2h-2.4h-2.4v-0.1h-2.4v-0.1h-2.4h-2.4v-0.1h-2.4v-0.5h-2.4v-0.1h-2.4v-0.2h-2.4v0.6h-2.4v3.6h-2.4v0.1h-2.4v-0.5h-2.4v2.1h-2.4v0.5h-2.4v0.1h-2.4v-0.1h-2.4v0.1h-2.4v0.2h-2.4h-2.4v0.3h-2.4v-0.2h-2.4h-2.4v0.2h-2.4h-2.4h-2.4h-2.4v0.2h-2.4h-2.4h-2.4v0.2h-2.4h-2.4v-0.3h-2.4v-0.2h-2.4v-0.2h-2.4h-2.4v-0.2h-2.4v0.2h-2.4h-2.4v0.3h-2.4v-0.1h-2.4h-2.4v0.2h-2.4v0.1h-2.4v0.1h-2.4v-0.2h-2.4v-0.1h-2.4v0.1h-2.4v-0.3h-2.4v-0.1h-2.4h-2.4v0.1h-2.4v-0.2h-2.4v0.3h-2.4h-2.4v-0.1h-2.4v0.3h-2.4v-0.1h-2.4v-0.1h-2.4v-0.1h-2.4v0.1h-2.4v0.1h-2.4v0.1h-2.4v0.1h-2.4h-2.4h-2.4v-0.1h-2.4v-0.1h-2.4v-0.3h-2.4v-0.4h-2.4v-0.1h-2.4v0.1h-2.4v0.4h-2.4v0.4h-2.4h-2.4v0.1h-2.4v-0.1h-2.4h-2.4v-0.1h-2.4v0.1h-2.4h-2.4v-0.2h-2.4h-2.4v0.1h-2.4v0.1h-2.4v-0.1h-2.4v0.1h-2.4h-2.4h-2.4h-2.4h-2.4v-0.1h-2.4v0.1h-2.4h-2.4v-0.1h-2.4v0.3h-2.4v-0.2h-2.4v0.1h-2.4v-0.2h-2.4v-0.6h-2.4v-0.1h-2.4v-0.3h-2.4v0.5h-2.4h-2.4v-0.1h-2.4v-0.1h-2.4v-0.1h-2.4h-2.4v0.1h-2.4h-2.4v-0.1h-2.4v-0.1h-2.4v0.1h-2.4v-0.1h-2.4v0.2h-2.4v0.1h-2.4v-0.2h-2.4v0.2h-2.4v-0.3h-2.4h-2.4v0.1h-2.4v0.2h-2.4v-0.1h-2.4z" fill="#10a0ff"/>
<path d="M91.7 576.7h2.4v-1.4h2.4v2.5h2.4v1.3h2.4v-0.6h2.4v-2.7h2.4v1.4h2.4v-1.3h2.4v0.9h2.4v1.8h2.4v-1h2.4v0.8h2.4v-1.2h2.4v-1h2.4v0.1h2.4v1.4h2.4v-0.4h2.4v-0.9h2.4v-1h2.4v-0.5h2.4v-0.1h2.4v5h2.4v-3.6h2.4v3.9h2.4v-1.3h2.4v1.5h2.4v0.9h2.4v-2.4h2.4v3h2.4v-0.9h2.4v0.1h2.4v0.7h2.4v-0.9h2.4v-0.3h2.4v-0.1h2.4v-0.8h2.4v0.4h2.4v0.9h2.4v-1.3h2.4v-0.1h2.4v2h2.4v-0.2h2.4v-2.4h2.4v0.6h2.4v0.6h2.4v-0.1h2.4v0.1h2.4v-1.2h2.4v1.7h2.4v-2.1h2.4v1.2h2.4v-0.7h2.4v-3.9h2.4v1.6h2.4v1.2h2.4v1.6h2.4v0.2h2.4v-0.4h2.4v-0.1h2.4v-0.4h2.4v0.7h2.4v-0.1h2.4v1.5h2.4v0.7h2.4v-1.1h2.4v-0.5h2.4v-1.1h2.4v3.2h2.4v-1.4h2.4v-0.1h2.4v1.1h2.4v-3.9h2.4v-0.1h2.4v1.3h2.4v0.6h2.4v-1.9h2.4v2.9h2.4v-0.5h2.4v-1.8h2.4v0.5h2.4v1.7h2.4v0.8h2.4v-1.3h2.4v-2.2h2.4v2.7h2.4v-1.3h2.4v1.5h2.4v-3.1h2.4v1.8h2.4v-0.5h2.4v0.3h2.4v1.7h2.4v-0.5h2.4h2.4v-1.2h2.4v-0.5h2.4v2.4h2.4v-1.5h2.4v-0.6h2.4v-0.8h2.4v0.4h2.4v-0.4h2.4v-3.3h2.4v2.3h2.4v-1.4h2.4v1h2.4v0.1h2.4v-2.4h2.4v0.8h2.4v-1.9h2.4v3.2h2.4v-6.4h2.4v1.3h2.4v-10h2.4v9.6h2.4v-4.4h2.4v-1.6h2.4v9.1h2.4v-0.4h2.4v0.1h2.4v-1.3h2.4v-0.8h2.4h2.4v1.8h2.4v-0.7h2.4v-0.8h2.4v-0.5h2.4v2.1h2.4v0.7h2.4v-1h2.4v0.5h2.4v-2h2.4v0.2h2.4v0.5h2.4v-1.6h2.4v1.3h2.4v-1h2.4v-0.3h2.4v2.2h2.4v-0.9h2.4v1.1h2.4h2.4v1h2.4v0.9h2.4v3.7h2.4v0.1h2.4v-0.3h2.4v0.6h2.4v-1.3h2.4v1.6h2.4v-0.6h2.4v0.1h2.4v2.2h2.4v-1.9h2.4v0.4h2.4v-0.3h2.4v0.5h2.4v-1.1h2.4v-1.6h2.4v4.4h2.4v-3.1h2.4v1.1h2.4v-1.6h2.4h2.4v2h2.4v-2.1h2.4v2.8h2.4v-0.4h2.4v-0.2h2.4v0.7h2.4v-1.2h2.4v2h2.4v-0.6h2.4v0.4h2.4v0.2h2.4v-3.2h2.4v1.9h2.4v-2.7h2.4v4.1h1.2v4.5h-1.2v0.3h-2.4v-0.2h-2.4v0.2h-2.4v-0.3h-2.4v0.1h-2.4h-2.4v-0.1h-2.4v-1.4h-2.4v-0.7h-2.4h-2.4h-2.4v-0.1h-2.4v0.1h-2.4v-0.3h-2.4v0.1h-2.4v0.1h-2.4v-0.1h-2.4v0.1h-2.4v-0.3h-2.4v0.3h-2.4v-0.2h-2.4h-2.4v0.1h-2.4v0.1h-2.4v0.1h-2.4v-0.1h-2.4h-2.4v-0.1h-2.4h-2.4v0.1h-2.4v-0.1h-2.4v0.1h-2.4v-0.1h-2.4h-2.4v-4.7h-2.4v-1.5h-2.4v0.1h-2.4h-2.4h-2.4h-2.4v0.1h-2.4h-2.4v-0.1h-2.4v0.1h-2.4v-0.1h-2.4h-2.4v0.1h-2.4v-0.2h-2.4v0.1h-2.4v-0.1h-2.4h-2.4v0.2h-2.4v-0.1h-2.4h-2.4v-0.1h-2.4v0.2h-2.4h-2.4v-0.1h-2.4v-0.1h-2.4h-2.4h-2.4v1h-2.4v-0.2h-2.4v-0.3h-2.4v0.7h-2.4v3.6h-2.4v0.1h-2.4v-0.5h-2.4v2.1h-2.4v0.5h-2.4v0.1h-2.4v-0.1h-2.4v0.1h-2.4v0.1h-2.4h-2.4v0.2h-2.4v-0.2h-2.4v0.1h-2.4v0.1h-2.4h-2.4h-2.4h-2.4v0.2h-2.4v-0.1h-2.4h-2.4v0.3h-2.4h-2.4v-0.3h-2.4v-0.3h-2.4v-0.2h-2.4v0.1h-2.4v-0.2h-2.4v0.1h-2.4h-2.4v0.3h-2.4h-2.4h-2.4v0.1h-2.4v0.2h-2.4h-2.4v-0.1h-2.4v-0.1h-2.4h-2.4v-0.3h-2.4v-0.1h-2.4v0.1h-2.4h-2.4v-0.1h-2.4v0.2h-2.4v0.1h-2.4v-0.1h-2.4v0.2h-2.4v-0.1h-2.4h-2.4v-0.1h-2.4h-2.4v0.2h-2.4h-2.4v0.1h-2.4h-2.4h-2.4h-2.4v-0.1h-2.4v-0.3h-2.4v-0.4h-2.4v-0.1h-2.4h-2.4v0.5h-2.4v0.4h-2.4v-0.1h-2.4v0.1h-2.4v-0.1h-2.4h-2.4h-2.4h-2.4h-2.4v-0.1h-2.4h-2.4v0.1h-2.4h-2.4v-0.1h-2.4v0.1h-2.4v0.1h-2.4v-0.1h-2.4h-2.4h-2.4h-2.4h-2.4h-2.4h-2.4v0.2h-2.4v-0.2h-2.4v0.1h-2.4v-0.1h-2.4v-0.4h-2.4v-0.1h-2.4v-0.2h-2.4v0.3h-2.4h-2.4h-2.4v-0.1h-2.4h-2.4v-0.1h-2.4v0.1h-2.4h-2.4h-2.4v-0.1h-2.4h-2.4h-2.4v0.1h-2.4v0.1h-2.4v-0.1h-2.4v0.1h-2.4v-0.2h-2.4v-0.1h-2.4v0.1h-2.4v0.2h-2.4v-0.1h-2.4z" fill="#00e8e0"/>
<path d="M91.7 589.6h2.4h2.4h2.4h2.4h2.4h2.4h2.4h2.4h2.4h2.4h2.4h2.4h2.4h2.4h2.4h2.4h2.4h2.4h2.4h2.4h2.4h2.4h2.4h2.4h2.4h2.4h2.4h2.4h2.4h2.4h2.4h2.4h2.4h2.4h2.4h2.4h2.4h2.4h2.4h2.4h2.4h2.4h2.4h2.4h2.4h2.4h2.4h2.4h2.4h2.4h2.4h2.4h2.4h2.4h2.4h2.4h2.4h2.4h2.4h2.4h2.4h2.4h2.4h2.4h2.4h2.4h2.4h2.4h2.4h2.4h2.4h2.4h2.4h2.4h2.4h2.4h2.4h2.4h2.4h2.4h2.4h2.4h2.4h2.4h2.4h2.4h2.4h2.4h2.4h2.4h2.4h2.4h2.4h2.4h2.4h2.4h2.4h2.4h2.4h2.4h2.4h2.4h2.4h2.4h2.4h2.4h2.4h2.4h2.4h2.4h2.4h2.4h2.4v-27.4h2.4v8.7h2.4v-2.5h2.4v-1.9h2.4v23.1h2.4h2.4h2.4h2.4h2.4h2.4h2.4h2.4h2.4h2.4h2.4h2.4h2.4h2.4h2.4h2.4h2.4h2.4h2.4h2.4h2.4h2.4h2.4h2.4h2.4h2.4h2.4h2.4h2.4h2.4h2.4h2.4h2.4h2.4h2.4h2.4h2.4h2.4h2.4h2.4h2.4h2.4h2.4h2.4h2.4h2.4h2.4h2.4h2.4h2.4h2.4h2.4h2.4h2.4h2.4h2.4h2.4h2.4h2.4h2.4h2.4h1.2h-1.2h-2.4h-2.4h-2.4h-2.4h-2.4h-2.4h-2.4h-2.4h-2.4h-2.4h-2.4h-2.4h-2.4h-2.4h-2.4h-2.4h-2.4h-2.4h-2.4h-2.4h-2.4h-2.4h-2.4h-2.4h-2.4h-2.4h-2.4h-2.4h-2.4h-2.4h-2.4h-2.4h-2.4h-2.4h-2.4h-2.4h-2.4h-2.4h-2.4h-2.4h-2.4h-2.4h-2.4h-2.4h-2.4h-2.4h-2.4h-2.4h-2.4h-2.4h-2.4h-2.4h-2.4h-2.4h-2.4h-2.4h-2.4h-2.4h-2.4h-2.4h-2.4v-17.8h-2.4v-0.2h-2.4v-0.1h-2.4v0.6h-2.4v17.5h-2.4h-2.4h-2.4h-2.4h-2.4h-2.4h-2.4h-2.4h-2.4h-2.4h-2.4h-2.4h-2.4h-2.4h-2.4h-2.4h-2.4h-2.4h-2.4h-2.4h-2.4h-2.4h-2.4h-2.4h-2.4h-2.4h-2.4h-2.4h-2.4h-2.4h-2.4h-2.4h-2.4h-2.4h-2.4h-2.4h-2.4h-2.4h-2.4h-2.4h-2.4h-2.4h-2.4h-2.4h-2.4h-2.4h-2.4h-2.4h-2.4h-2.4h-2.4h-2.4h-2.4h-2.4h-2.4h-2.4h-2.4h-2.4h-2.4h-2.4h-2.4h-2.4h-2.4h-2.4h-2.4h-2.4h-2.4h-2.4h-2.4h-2.4h-2.4h-2.4h-2.4h-2.4h-2.4h-2.4h-2.4h-2.4h-2.4h-2.4h-2.4h-2.4h-2.4h-2.4h-2.4h-2.4h-2.4h-2.4h-2.4h-2.4h-2.4h-2.4h-2.4h-2.4h-2.4h-2.4h-2.4h-2.4h-2.4h-2.4h-2.4h-2.4h-2.4h-2.4h-2.4h-2.4h-2.4h-2.4h-2.4h-2.4h-2.4h-2.4h-2.4z" fill="#30f0a0"/>
</g>
<path d="M364 590V583.8H369V580.8H370.5V584.8H371.8V590Z" fill="#fff"/>
<rect x="97.0" y="539.4" width="2.2" height="23.1" fill="#fff"/>
<rect x="128.8" y="539.4" width="2.4" height="23.1" fill="#fff"/>
<rect x="107.2" y="539.4" width="1.2" height="15.8" fill="#fff"/>
<rect x="95.4" y="523.6" width="1.3" height="3.3" fill="#202020"/>
<rect x="105.9" y="523.6" width="1.3" height="3.3" fill="#202020"/>
<rect x="111.1" y="523.6" width="1.3" height="3.3" fill="#202020"/>
<rect x="112.9" y="523.6" width="1.3" height="3.3" fill="#202020"/>
<rect x="114.8" y="523.6" width="1.3" height="3.3" fill="#202020"/>
<rect x="122.9" y="523.6" width="1.3" height="3.3" fill="#202020"/>
<rect x="144.8" y="523.6" width="1.3" height="3.3" fill="#8040c0"/>
<rect x="153.4" y="523.6" width="1.3" height="3.3" fill="#8040c0"/>
<rect x="157.9" y="523.6" width="1.3" height="3.3" fill="#8040c0"/>
<rect x="161.3" y="523.6" width="1.3" height="3.3" fill="#202020"/>
<rect x="172.3" y="523.6" width="1.3" height="3.3" fill="#202020"/>
<rect x="195.3" y="523.6" width="1.3" height="3.3" fill="#8040c0"/>
<rect x="211.8" y="523.6" width="1.3" height="3.3" fill="#202020"/>
<rect x="230.1" y="523.6" width="1.3" height="3.3" fill="#8040c0"/>
<rect x="248.6" y="523.6" width="1.3" height="3.3" fill="#8040c0"/>
<rect x="266.9" y="523.6" width="1.3" height="3.3" fill="#202020"/>
<rect x="285.2" y="523.6" width="1.3" height="3.3" fill="#202020"/>
<rect x="302.9" y="523.6" width="1.3" height="3.3" fill="#202020"/>
<rect x="310" y="523.6" width="1.3" height="3.3" fill="#202020"/>
<rect x="324.4" y="523.6" width="1.3" height="3.3" fill="#202020"/>
<rect x="342.7" y="523.6" width="1.3" height="3.3" fill="#202020"/>
<rect x="381.9" y="523.6" width="1.3" height="3.3" fill="#202020"/>
<rect x="400.3" y="523.6" width="1.3" height="3.3" fill="#8040c0"/>
<rect x="418.6" y="523.6" width="1.3" height="3.3" fill="#8040c0"/>
<rect x="432.4" y="523.6" width="1.3" height="3.3" fill="#202020"/>
<rect x="449.4" y="523.6" width="1.3" height="3.3" fill="#202020"/>
<rect x="467.8" y="523.6" width="1.3" height="3.3" fill="#202020"/>
<rect x="489.2" y="523.6" width="1.3" height="3.3" fill="#202020"/>
<rect x="504.9" y="523.6" width="1.3" height="3.3" fill="#202020"/>
<rect x="512.7" y="523.6" width="1.3" height="3.3" fill="#202020"/>
<rect x="514.8" y="523.6" width="1.3" height="3.3" fill="#202020"/>
<rect x="310" y="561.3" width="1.6" height="1.3" fill="#505050"/>
<rect x="310" y="558.3" width="1.6" height="1.3" fill="#505050"/>
<rect x="310" y="555.3" width="1.6" height="1.3" fill="#505050"/>
<rect x="310" y="552.3" width="1.6" height="1.3" fill="#505050"/>
<rect x="310" y="549.3" width="1.6" height="1.3" fill="#505050"/>
<rect x="310" y="546.3" width="1.6" height="1.3" fill="#505050"/>
<rect x="309.9" y="539.4" width="1.8" height="2" fill="#303030"/>
<g filter="url(#sb)">
<path d="M91.7 673.7 L91.7 625.6 L93 625.6 L93 630.5 L97 630.5 L97 646.3 L99.2 646.3 L99.2 630.5 L107.2 630.5 L107.2 634.7 L109.4 634.7 L109.4 625.6 L112.9 625.6 L112.9 630.5 L117.5 630.5 L117.5 625.6 L120 625.6 L120 630.5 L126 630.5 L126 643.3 L128.8 643.3 L128.8 646.3 L131.2 646.3 L131.2 630.5 L137 630.5 L137 637.2 L139 637.2 L139 635.1 L141 635.1 L141 616.4 L143 616.4 L143 635.1 L147.2 635.1 L147.2 646.3 L207.8 646.3 L207.8 644.7 L209.6 644.7 L209.6 646.3 L216 646.3 L216 638.9 L216.8 638.9 L216.8 636.5 L218 636.5 L218 638.9 L218.8 638.9 L218.8 646.3 L265 646.3 L265 644.7 L266.8 644.7 L266.8 646.3 L291.1 646.3 L291.1 644.7 L292.9 644.7 L292.9 646.3 L317.5 646.3 L317.5 636.8 L319.3 636.8 L319.3 646.3 L333.2 646.3 L333.2 638.8 L335 638.8 L335 646.3 L336.2 646.3 L336.2 642.9 L337.8 642.9 L337.8 646.3 L347.1 646.3 L347.1 636.8 L348.9 636.8 L348.9 646.3 L355.1 646.3 L355.1 632.8 L357 632.8 L357 630.3 L361.3 630.3 L361.3 626.6 L363 626.6 L363 607.2 L372.8 607.2 L372.8 622.1 L375 622.1 L375 624 L377.7 624 L377.7 627.8 L379.3 627.8 L379.3 624.6 L381.8 624.6 L381.8 620.9 L388.3 620.9 L388.3 625.4 L390 625.4 L390 631.9 L392.4 631.9 L392.4 635.9 L395.7 635.9 L395.7 616.4 L398.1 616.4 L398.1 622.1 L399.7 622.1 L399.7 613.2 L403 613.2 L403 622.1 L405.5 622.1 L405.5 610.4 L409.5 610.4 L409.5 622.8 L412 622.8 L412 635.2 L414.4 635.2 L414.4 619.7 L416.1 619.7 L416.1 630.3 L418.5 630.3 L418.5 626.6 L421 626.6 L421 631.1 L423.4 631.1 L423.4 619.7 L428.3 619.7 L428.3 627.5 L430.8 627.5 L430.8 622.1 L434 622.1 L434 625.4 L436.5 625.4 L436.5 646.3 L439 646.3 L439 644.4 L440.4 644.4 L440.4 646.3 L441.5 646.3 L441.5 638.8 L443.1 638.8 L443.1 646.3 L444 646.3 L444 644.4 L445.4 644.4 L445.4 646.3 L454.9 646.3 L454.9 636.8 L456.6 636.8 L456.6 646.3 L460 646.3 L460 642.9 L463 642.9 L463 646.3 L465.2 646.3 L465.2 636.8 L467 636.8 L467 646.3 L468 646.3 L468 642.9 L469.6 642.9 L469.6 646.3 L520.1 646.3 L520.1 673.7Z" fill="#000"/>
<path d="M91.7 657.1h2.4v1.2h-2.4zM94.1 637.9h2.4v2h-2.4zM94.1 633.6h2.4v2.2h-2.4zM98.9 647.2h2.4v1.6h-2.4zM101.3 635.8h2.4v2.1h-2.4zM113.3 648.8h2.4v1.5h-2.4zM113.3 631.3h2.4v2.3h-2.4zM118.1 633.6h2.4v2.2h-2.4zM130.1 650.3h2.4v1.5h-2.4zM132.5 637.9h2.4v2h-2.4zM134.9 651.8h2.4v1.4h-2.4zM137.3 655.9h2.4v1.2h-2.4zM146.9 657.1h2.4v1.2h-2.4zM156.5 653.2h2.4v1.4h-2.4zM166.1 657.1h2.4v1.2h-2.4zM170.9 648.8h2.4v1.5h-2.4zM175.7 657.1h2.4v1.2h-2.4zM178.1 654.6h2.4v1.3h-2.4zM182.9 651.8h2.4v1.4h-2.4zM197.3 650.3h2.4v1.5h-2.4zM199.7 650.3h2.4v1.5h-2.4zM206.9 657.1h2.4v1.2h-2.4zM209.3 651.8h2.4v1.4h-2.4zM223.7 654.6h2.4v1.3h-2.4zM250.1 657.1h2.4v1.2h-2.4zM252.5 650.3h2.4v1.5h-2.4zM259.7 653.2h2.4v1.4h-2.4zM259.7 648.8h2.4v1.5h-2.4zM264.5 657.1h2.4v1.2h-2.4zM264.5 651.8h2.4v1.4h-2.4zM269.3 647.2h2.4v1.6h-2.4zM274.1 650.3h2.4v1.5h-2.4zM276.5 647.2h2.4v1.6h-2.4zM278.9 653.2h2.4v1.4h-2.4zM283.7 651.8h2.4v1.4h-2.4zM290.9 650.3h2.4v1.5h-2.4zM293.3 651.8h2.4v1.4h-2.4zM300.5 654.6h2.4v1.3h-2.4zM305.3 657.1h2.4v1.2h-2.4zM310.1 657.1h2.4v1.2h-2.4zM314.9 655.9h2.4v1.2h-2.4zM322.1 654.6h2.4v1.3h-2.4zM329.3 657.1h2.4v1.2h-2.4zM334.1 650.3h2.4v1.5h-2.4zM338.9 651.8h2.4v1.4h-2.4zM348.5 654.6h2.4v1.3h-2.4zM362.9 647.2h2.4v1.6h-2.4zM362.9 637.9h2.4v2h-2.4zM362.9 623.7h2.4v2.6h-2.4zM365.3 655.9h2.4v1.2h-2.4zM367.7 655.9h2.4v1.2h-2.4zM367.7 654.6h2.4v1.3h-2.4zM367.7 653.2h2.4v1.4h-2.4zM370.1 648.8h2.4v1.5h-2.4zM370.1 639.9h2.4v1.9h-2.4zM372.5 654.6h2.4v1.3h-2.4zM379.7 643.7h2.4v1.8h-2.4zM379.7 637.9h2.4v2h-2.4zM389.3 654.6h2.4v1.3h-2.4zM396.5 635.8h2.4v2.1h-2.4zM398.9 645.5h2.4v1.7h-2.4zM398.9 615.1h2.4v3h-2.4zM403.7 650.3h2.4v1.5h-2.4zM406.1 648.8h2.4v1.5h-2.4zM406.1 643.7h2.4v1.8h-2.4zM406.1 637.9h2.4v2h-2.4zM415.7 651.8h2.4v1.4h-2.4zM420.5 647.2h2.4v1.6h-2.4zM420.5 633.6h2.4v2.2h-2.4zM427.7 653.2h2.4v1.4h-2.4zM427.7 637.9h2.4v2h-2.4zM432.5 637.9h2.4v2h-2.4zM434.9 650.3h2.4v1.5h-2.4zM461.3 654.6h2.4v1.3h-2.4zM473.3 657.1h2.4v1.2h-2.4zM487.7 654.6h2.4v1.3h-2.4zM490.1 651.8h2.4v1.4h-2.4zM497.3 648.8h2.4v1.5h-2.4zM502.1 647.2h2.4v1.6h-2.4zM511.7 657.1h2.4v1.2h-2.4zM514.1 647.2h2.4v1.6h-2.4z" fill="#3a0a60"/>
<path d="M91.7 648.8h2.4v1.5h-2.4zM103.7 647.2h2.4v1.6h-2.4zM106.1 657.1h2.4v1.2h-2.4zM113.3 655.9h2.4v1.2h-2.4zM113.3 650.3h2.4v1.5h-2.4zM115.7 651.8h2.4v1.4h-2.4zM115.7 631.3h2.4v2.3h-2.4zM118.1 631.3h2.4v2.3h-2.4zM139.7 647.2h2.4v1.6h-2.4zM139.7 645.5h2.4v1.7h-2.4zM146.9 653.2h2.4v1.4h-2.4zM149.3 654.6h2.4v1.3h-2.4zM156.5 651.8h2.4v1.4h-2.4zM166.1 647.2h2.4v1.6h-2.4zM168.5 655.9h2.4v1.2h-2.4zM173.3 653.2h2.4v1.4h-2.4zM192.5 647.2h2.4v1.6h-2.4zM202.1 647.2h2.4v1.6h-2.4zM223.7 657.1h2.4v1.2h-2.4zM228.5 647.2h2.4v1.6h-2.4zM235.7 657.1h2.4v1.2h-2.4zM254.9 653.2h2.4v1.4h-2.4zM257.3 647.2h2.4v1.6h-2.4zM262.1 648.8h2.4v1.5h-2.4zM264.5 650.3h2.4v1.5h-2.4zM269.3 650.3h2.4v1.5h-2.4zM276.5 655.9h2.4v1.2h-2.4zM281.3 654.6h2.4v1.3h-2.4zM302.9 657.1h2.4v1.2h-2.4zM302.9 653.2h2.4v1.4h-2.4zM302.9 651.8h2.4v1.4h-2.4zM305.3 654.6h2.4v1.3h-2.4zM305.3 647.2h2.4v1.6h-2.4zM317.3 648.8h2.4v1.5h-2.4zM322.1 650.3h2.4v1.5h-2.4zM336.5 653.2h2.4v1.4h-2.4zM355.7 654.6h2.4v1.3h-2.4zM358.1 648.8h2.4v1.5h-2.4zM358.1 635.8h2.4v2.1h-2.4zM362.9 635.8h2.4v2.1h-2.4zM365.3 648.8h2.4v1.5h-2.4zM367.7 647.2h2.4v1.6h-2.4zM370.1 645.5h2.4v1.7h-2.4zM382.1 631.3h2.4v2.3h-2.4zM384.5 653.2h2.4v1.4h-2.4zM384.5 650.3h2.4v1.5h-2.4zM384.5 626.4h2.4v2.5h-2.4zM386.9 653.2h2.4v1.4h-2.4zM386.9 637.9h2.4v2h-2.4zM386.9 623.7h2.4v2.6h-2.4zM391.7 654.6h2.4v1.3h-2.4zM396.5 648.8h2.4v1.5h-2.4zM398.9 655.9h2.4v1.2h-2.4zM398.9 633.6h2.4v2.2h-2.4zM406.1 650.3h2.4v1.5h-2.4zM413.3 635.8h2.4v2.1h-2.4zM422.9 637.9h2.4v2h-2.4zM430.1 648.8h2.4v1.5h-2.4zM432.5 653.2h2.4v1.4h-2.4zM432.5 623.7h2.4v2.6h-2.4zM434.9 641.9h2.4v1.8h-2.4zM437.3 648.8h2.4v1.5h-2.4zM444.5 657.1h2.4v1.2h-2.4zM444.5 655.9h2.4v1.2h-2.4zM449.3 653.2h2.4v1.4h-2.4zM463.7 648.8h2.4v1.5h-2.4zM470.9 653.2h2.4v1.4h-2.4zM473.3 648.8h2.4v1.5h-2.4zM482.9 654.6h2.4v1.3h-2.4zM492.5 655.9h2.4v1.2h-2.4zM497.3 653.2h2.4v1.4h-2.4zM499.7 653.2h2.4v1.4h-2.4zM499.7 648.8h2.4v1.5h-2.4zM506.9 648.8h2.4v1.5h-2.4zM514.1 653.2h2.4v1.4h-2.4zM516.5 655.9h2.4v1.2h-2.4zM518.9 653.2h1.2v1.4h-1.2z" fill="#200438"/>
<path d="M91.7 639.9h2.4v1.9h-2.4zM94.1 653.2h2.4v1.4h-2.4zM94.1 648.8h2.4v1.5h-2.4zM98.9 650.3h2.4v1.5h-2.4zM103.7 645.5h2.4v1.7h-2.4zM103.7 633.6h2.4v2.2h-2.4zM108.5 633.6h2.4v2.2h-2.4zM108.5 631.3h2.4v2.3h-2.4zM110.9 654.6h2.4v1.3h-2.4zM113.3 639.9h2.4v1.9h-2.4zM115.7 645.5h2.4v1.7h-2.4zM115.7 635.8h2.4v2.1h-2.4zM118.1 648.8h2.4v1.5h-2.4zM120.5 631.3h2.4v2.3h-2.4zM122.9 654.6h2.4v1.3h-2.4zM132.5 648.8h2.4v1.5h-2.4zM134.9 657.1h2.4v1.2h-2.4zM142.1 650.3h2.4v1.5h-2.4zM144.5 645.5h2.4v1.7h-2.4zM144.5 641.9h2.4v1.8h-2.4zM156.5 650.3h2.4v1.5h-2.4zM170.9 651.8h2.4v1.4h-2.4zM170.9 647.2h2.4v1.6h-2.4zM175.7 653.2h2.4v1.4h-2.4zM185.3 647.2h2.4v1.6h-2.4zM187.7 653.2h2.4v1.4h-2.4zM197.3 655.9h2.4v1.2h-2.4zM218.9 654.6h2.4v1.3h-2.4zM230.9 654.6h2.4v1.3h-2.4zM235.7 648.8h2.4v1.5h-2.4zM238.1 657.1h2.4v1.2h-2.4zM238.1 655.9h2.4v1.2h-2.4zM245.3 655.9h2.4v1.2h-2.4zM247.7 655.9h2.4v1.2h-2.4zM250.1 650.3h2.4v1.5h-2.4zM257.3 654.6h2.4v1.3h-2.4zM257.3 650.3h2.4v1.5h-2.4zM259.7 655.9h2.4v1.2h-2.4zM264.5 654.6h2.4v1.3h-2.4zM276.5 651.8h2.4v1.4h-2.4zM290.9 651.8h2.4v1.4h-2.4zM300.5 647.2h2.4v1.6h-2.4zM322.1 651.8h2.4v1.4h-2.4zM336.5 647.2h2.4v1.6h-2.4zM341.3 657.1h2.4v1.2h-2.4zM346.1 657.1h2.4v1.2h-2.4zM346.1 654.6h2.4v1.3h-2.4zM346.1 643.7h2.4v1.8h-2.4zM348.5 651.8h2.4v1.4h-2.4zM358.1 653.2h2.4v1.4h-2.4zM358.1 650.3h2.4v1.5h-2.4zM360.5 648.8h2.4v1.5h-2.4zM362.9 633.6h2.4v2.2h-2.4zM365.3 650.3h2.4v1.5h-2.4zM370.1 654.6h2.4v1.3h-2.4zM370.1 608.7h2.4v3.3h-2.4zM372.5 623.7h2.4v2.6h-2.4zM379.7 654.6h2.4v1.3h-2.4zM379.7 633.6h2.4v2.2h-2.4zM382.1 653.2h2.4v1.4h-2.4zM389.3 651.8h2.4v1.4h-2.4zM401.3 641.9h2.4v1.8h-2.4zM410.9 657.1h2.4v1.2h-2.4zM413.3 653.2h2.4v1.4h-2.4zM413.3 633.6h2.4v2.2h-2.4zM415.7 635.8h2.4v2.1h-2.4zM422.9 639.9h2.4v1.9h-2.4zM427.7 639.9h2.4v1.9h-2.4zM432.5 635.8h2.4v2.1h-2.4zM434.9 657.1h2.4v1.2h-2.4zM437.3 657.1h2.4v1.2h-2.4zM454.1 655.9h2.4v1.2h-2.4zM454.1 653.2h2.4v1.4h-2.4zM454.1 643.7h2.4v1.8h-2.4zM456.5 657.1h2.4v1.2h-2.4zM458.9 654.6h2.4v1.3h-2.4zM468.5 657.1h2.4v1.2h-2.4zM475.7 650.3h2.4v1.5h-2.4zM482.9 647.2h2.4v1.6h-2.4zM497.3 655.9h2.4v1.2h-2.4zM502.1 650.3h2.4v1.5h-2.4zM506.9 653.2h2.4v1.4h-2.4z" fill="#2a0648"/>
<path d="M91.7 647.2h2.4v-4.9h2.4v7.4h2.4v3.5h2.4v-7.7h2.4v2.6h2.4v-3.6h2.4v8.3h2.4v-6.8h2.4v-0.5h2.4v4.6h2.4v-6.7h2.4v4.9h2.4v-5.4h2.4v4.6h2.4v-1.2h2.4v3.7h2.4v-9.5h2.4v9.3h2.4v-4.4h2.4v7.2h2.4v-5.1h2.4v-0.1h2.4v1.2h2.4v9.2h2.4v3.8h2.4v0.9h2.4v-0.5h2.4v-0.7h2.4v1.7h2.4v-2h2.4v2.3h2.4v-0.5h2.4v0.9h2.4v-1.5h2.4v0.6h2.4v-0.1h2.4h2.4v-0.8h2.4v0.3h2.4v-1h2.4v1h2.4v-0.4h2.4v-0.9h2.4v1h2.4v-1.3h2.4v1.8h2.4v-0.5h2.4v1.2h2.4v-1.7h2.4v0.7h2.4v-3.8h2.4v0.6h2.4v1.3h2.4h2.4v2.8h2.4v-0.3h2.4v0.1h2.4v0.6h2.4v-1.5h2.4v2h2.4v-2.8h2.4v2h2.4v-1.8h2.4v2.1h2.4v-2.2h2.4v0.3h2.4v0.9h2.4v-0.5h2.4v-0.1h2.4v-0.7h2.4v1.8h2.4v-4.4h2.4v2.7h2.4v-1.2h2.4v2.7h2.4v-0.6h2.4v-0.4h2.4v0.6h2.4v-0.7h2.4v1.7h2.4v-2h2.4v1.3h2.4v-0.3h2.4v-0.4h2.4v-2.9h2.4v1.7h2.4v-0.9h2.4v0.4h2.4v0.9h2.4v1.8h2.4v-0.9h2.4v1.7h2.4v-1.1h2.4v-1.3h2.4v1.2h2.4v-2.3h2.4v1.3h2.4v-2h2.4v1.2h2.4v-0.1h2.4v-3.3h2.4v2.2h2.4v-1.5h2.4v0.4h2.4v1.2h2.4v-1.7h2.4v1.6h2.4v-5.7h2.4v2.5h2.4v-0.6h2.4v-3.2h2.4v2h2.4v-14.4h2.4v3.6h2.4v-2.7h2.4v6.5h2.4v-0.5h2.4v1.1h2.4v-0.2h2.4v1.1h2.4v-8.4h2.4v9h2.4v-2h2.4v-1.7h2.4v2.8h2.4v-4.4h2.4v2.1h2.4v-3.5h2.4v5.8h2.4v-1.6h2.4v2.6h2.4v-0.1h2.4v-3.1h2.4v0.9h2.4v-1.2h2.4v2.4h2.4v-3.3h2.4v3h2.4v-4.1h2.4v6.5h2.4v-4.7h2.4v5.8h2.4v-2.7h2.4v10.1h2.4v-2.9h2.4v3.1h2.4v-6.4h2.4v3.7h2.4v0.4h2.4v-3h2.4v2.5h2.4v-2.6h2.4v1.7h2.4v-6.4h2.4v8.5h2.4v-7.8h2.4v3.7h2.4v-3h2.4v4.9h2.4v-3.3h2.4v0.2h2.4v6.5h2.4v-5.9h2.4v-0.5h2.4v4.5h2.4v-1.3h2.4v-1.9h2.4v3.6h2.4v-1.7h2.4v0.5h2.4v-0.8h2.4v0.3h2.4v2.4h2.4v-0.9h2.4v1h2.4v-1.7h2.4v0.8h2.4v0.5h1.2v12.2h-1.2v0.1h-2.4h-2.4v-0.1h-2.4v0.1h-2.4v-0.1h-2.4v0.2h-2.4h-2.4v-0.1h-2.4h-2.4v-0.1h-2.4v0.2h-2.4v-0.2h-2.4v-0.2h-2.4v0.2h-2.4v-0.1h-2.4v-0.3h-2.4v0.5h-2.4h-2.4v-0.3h-2.4v0.3h-2.4v-0.3h-2.4v0.3h-2.4v-0.4h-2.4v0.7h-2.4v-0.4h-2.4v0.2h-2.4v-0.2h-2.4v0.2h-2.4v-0.2h-2.4h-2.4v0.3h-2.4v-0.4h-2.4v0.2h-2.4v-0.2h-2.4v-1.8h-2.4v-0.9h-2.4v0.4h-2.4v-0.3h-2.4v0.4h-2.4v-0.3h-2.4v0.2h-2.4v-0.2h-2.4v0.2h-2.4v-0.1h-2.4v0.1h-2.4v-0.3h-2.4h-2.4v0.2h-2.4v-0.1h-2.4v0.4h-2.4v-0.2h-2.4v0.1h-2.4v-0.3h-2.4v0.2h-2.4v-0.1h-2.4v-0.2h-2.4v0.7h-2.4v-0.6h-2.4v0.1h-2.4v-0.1h-2.4v0.1h-2.4v-0.7h-2.4v0.5h-2.4v-0.2h-2.4v0.2h-2.4v1.3h-2.4v0.1h-2.4v-0.2h-2.4v0.9h-2.4v0.5h-2.4v-0.3h-2.4v0.2h-2.4v-0.1h-2.4v0.1h-2.4v0.1h-2.4h-2.4v0.2h-2.4v-0.2h-2.4v0.1h-2.4v0.1h-2.4v-0.1h-2.4v0.2h-2.4v-0.1h-2.4v0.1h-2.4v-0.1h-2.4v0.2h-2.4v0.2h-2.4v-0.5h-2.4v-0.2h-2.4h-2.4v-0.1h-2.4v-0.1h-2.4v0.2h-2.4v-0.1h-2.4v0.1h-2.4v0.1h-2.4v0.2h-2.4v-0.1h-2.4v0.1h-2.4h-2.4h-2.4v-0.1h-2.4v-0.1h-2.4h-2.4v-0.3h-2.4v0.2h-2.4v-0.3h-2.4v0.3h-2.4v0.1h-2.4v0.1h-2.4h-2.4h-2.4h-2.4v-0.2h-2.4v0.2h-2.4v-0.1h-2.4v0.1h-2.4v-0.1h-2.4v0.2h-2.4v-0.1h-2.4v0.1h-2.4v-0.1h-2.4v-0.1h-2.4v-0.2h-2.4v-0.5h-2.4v-0.1h-2.4v0.4h-2.4v0.2h-2.4v0.3h-2.4h-2.4v0.1h-2.4h-2.4h-2.4v-0.1h-2.4v0.1h-2.4v-0.1h-2.4h-2.4h-2.4h-2.4h-2.4h-2.4h-2.4h-2.4v0.1h-2.4v-0.1h-2.4v0.1h-2.4v-0.1h-2.4v0.2h-2.4v-0.1h-2.4v0.1h-2.4h-2.4v-0.1h-2.4v0.1h-2.4h-2.4v0.2h-2.4v-0.3h-2.4h-2.4v-0.4h-2.4v0.5h-2.4v-0.3h-2.4v0.7h-2.4v-0.7h-2.4v0.3h-2.4v-0.1h-2.4v0.3h-2.4v-0.4h-2.4v0.4h-2.4v-0.5h-2.4v0.3h-2.4h-2.4v-0.5h-2.4v0.6h-2.4v-0.3h-2.4v0.2h-2.4v-0.5h-2.4v0.2h-2.4v0.5h-2.4v-0.3h-2.4z" fill="#22044c"/>
<path d="M91.7 653.3h2.4v-6.7h2.4v10.3h2.4v4.7h2.4v-10.6h2.4v3.7h2.4v-5.1h2.4v11.5h2.4v-9.4h2.4v-0.7h2.4v6.3h2.4v-9.2h2.4v6.7h2.4v-7.3h2.4v6.2h2.4v-3h2.4v6.5h2.4v-11.9h2.4v11.6h2.4v-6h2.4v9.9h2.4v-7.1h2.4v-0.1h2.4v-2.7h2.4v8h2.4v2.1h2.4v1.6h2.4v-0.8h2.4v-1.2h2.4v3.1h2.4v-3.8h2.4v4.3h2.4v-0.8h2.4v1.6h2.4v-2.6h2.4v1.2h2.4v-0.3h2.4v0.2h2.4v-1.5h2.4v0.5h2.4v-1.8h2.4v1.9h2.4v-0.8h2.4v-1.6h2.4v1.8h2.4v-2.5h2.4v3.2h2.4v-1h2.4v2.3h2.4v-2.9h2.4v2.2h2.4v-5.8h2.4v1.9h2.4v1.9h2.4v-1.4h2.4v4.3h2.4v-0.9h2.4h2.4v1.4h2.4v-2.8h2.4v3.8h2.4v-5h2.4v3.8h2.4v-3.5h2.4v4h2.4v-4.1h2.4v0.3h2.4v1.8h2.4v-0.9h2.4v0.1h2.4v-0.9h2.4v3.6h2.4v-7.9h2.4v4.9h2.4v-2.8h2.4v4.6h2.4v-1.4h2.4v-1h2.4v1.1h2.4v-1.2h2.4v3.1h2.4v-3.6h2.4v2.8h2.4v-0.3h2.4v-0.4h2.4v-5.2h2.4v3.4h2.4v-1.8h2.4v0.6h2.4v1.3h2.4v2.6h2.4v-2.7h2.4v3.2h2.4v-1.4h2.4v-2.2h2.4v2.8h2.4v-3.8h2.4v2.8h2.4v-3.3h2.4v2.6h2.4v0.2h2.4v-5.4h2.4v4.3h2.4v-2.3h2.4v1.2h2.4v2.3h2.4v-2.5h2.4v3.2h2.4v-9.3h2.4v5.5h2.4v2.1h2.4v-5h2.4v3.1h2.4v-22.4h2.4v6.8h2.4v-5.1h2.4v12.3h2.4v-1.5h2.4v1.8h2.4v-0.4h2.4v1.9h2.4v-10h2.4v10.9h2.4v-3.2h2.4v-2.8h2.4v4.6h2.4v-7.3h2.4v3.5h2.4v-5.7h2.4v9.5h2.4v-2.7h2.4v4.3h2.4v-0.1h2.4v-5.1h2.4v1.5h2.4v-2.1h2.4v4h2.4v-5.4h2.4v5h2.4v-6.9h2.4v10.8h2.4v-7.8h2.4v9.6h2.4v-5.4h2.4v12.5h2.4v-4.2h2.4v4.4h2.4v-8.9h2.4v5.1h2.4v0.6h2.4v-4.2h2.4v3.5h2.4v-3.7h2.4v2.6h2.4v-6h2.4v9.3h2.4v-10.1h2.4v4.4h2.4v-4.5h2.4v7h2.4v-4.8h2.4v0.3h2.4v9.5h2.4v-8.6h2.4v-0.7h2.4v6.3h2.4v-1.9h2.4v-3h2.4v5.2h2.4v-2.5h2.4v0.9h2.4v-0.6h2.4v0.4h2.4v3.1h2.4v-1.2h2.4v1.3h2.4v-2.2h2.4v1.1h2.4v0.6h1.2v7h-1.2h-2.4v0.1h-2.4v-0.2h-2.4v0.1h-2.4v-0.1h-2.4v0.2h-2.4v0.1h-2.4v-0.3h-2.4h-2.4v-0.2h-2.4v0.3h-2.4v-0.2h-2.4v-0.3h-2.4v0.4h-2.4v-0.1h-2.4v-0.6h-2.4v0.7h-2.4v0.1h-2.4v-0.4h-2.4v0.4h-2.4v-0.4h-2.4v0.4h-2.4v-0.6h-2.4v0.7h-2.4v-0.3h-2.4v0.2h-2.4v-0.4h-2.4v0.2h-2.4v-0.3h-2.4h-2.4v0.4h-2.4v-0.6h-2.4v0.3h-2.4v-0.3h-2.4v-1.6h-2.4v-1.2h-2.4v0.7h-2.4v-0.5h-2.4v0.7h-2.4v-0.5h-2.4v0.4h-2.4v-0.4h-2.4v0.3h-2.4v-0.2h-2.4v0.1h-2.4v-0.3h-2.4h-2.4v0.3h-2.4v-0.2h-2.4v0.6h-2.4v-0.4h-2.4v0.3h-2.4v-0.5h-2.4v0.3h-2.4v-0.2h-2.4v-0.2h-2.4v0.7h-2.4v-0.7h-2.4v0.2h-2.4h-2.4v0.1h-2.4v-1h-2.4v0.9h-2.4v-0.4h-2.4v0.5h-2.4v0.9h-2.4v0.2h-2.4v-0.4h-2.4v1.4h-2.4v0.8h-2.4v-0.5h-2.4v0.2h-2.4v-0.1h-2.4v0.3h-2.4v0.1h-2.4v-0.1h-2.4v0.4h-2.4v-0.3h-2.4h-2.4v0.3h-2.4v-0.2h-2.4v0.3h-2.4v-0.2h-2.4v0.2h-2.4v-0.1h-2.4v0.1h-2.4v0.3h-2.4v-0.6h-2.4v-0.1h-2.4v-0.1h-2.4h-2.4v-0.1h-2.4v0.2h-2.4v-0.2h-2.4v0.1h-2.4v0.1h-2.4v0.3h-2.4v-0.2h-2.4v0.2h-2.4h-2.4h-2.4v-0.1h-2.4v-0.2h-2.4v0.1h-2.4v-0.4h-2.4v0.3h-2.4v-0.4h-2.4v0.4h-2.4h-2.4v0.1h-2.4h-2.4v0.1h-2.4h-2.4v-0.3h-2.4v0.3h-2.4v-0.3h-2.4v0.3h-2.4v-0.3h-2.4v0.3h-2.4v-0.1h-2.4v0.1h-2.4h-2.4v-0.2h-2.4v-0.1h-2.4v-0.6h-2.4v-0.1h-2.4v0.5h-2.4v0.1h-2.4v0.4h-2.4v-0.1h-2.4v0.2h-2.4v-0.1h-2.4v0.2h-2.4v-0.2h-2.4v0.1h-2.4v-0.1h-2.4v-0.1h-2.4v0.1h-2.4v-0.1h-2.4v0.1h-2.4v-0.1h-2.4h-2.4h-2.4v0.1h-2.4v-0.1h-2.4v0.1h-2.4v-0.1h-2.4v0.3h-2.4v-0.2h-2.4v0.2h-2.4v-0.1h-2.4h-2.4v0.1h-2.4v-0.3h-2.4h-2.4v-0.8h-2.4h-2.4v-0.5h-2.4v0.7h-2.4v-0.4h-2.4v0.8h-2.4v-0.8h-2.4v0.4h-2.4v-0.2h-2.4v0.4h-2.4v-0.5h-2.4v0.5h-2.4v-0.6h-2.4v0.4h-2.4h-2.4v-0.7h-2.4v0.8h-2.4v-0.3h-2.4v0.2h-2.4v-0.7h-2.4v0.3h-2.4v0.7h-2.4v-0.4h-2.4z" fill="#34088a"/>
<path d="M91.7 659.2h2.4v-4.5h2.4v10.1h2.4v1.3h2.4v-10.5h2.4v5.7h2.4v-6.6h2.4v11.4h2.4v-9.4h2.4v-1.1h2.4v9.9h2.4v-10.8h2.4v6.9h2.4v-6.9h2.4v5.1h2.4v-4.7h2.4v10.2h2.4v-10.6h2.4v10.1h2.4v-9.4h2.4v10.7h2.4v-6.2h2.4v-0.3h2.4v-2.9h2.4v2.3h2.4v1.3h2.4v2.3h2.4v-2h2.4v-0.3h2.4v5h2.4v-5.1h2.4v6.4h2.4v-1.9h2.4v3.5h2.4v-5.9h2.4v3h2.4v-0.5h2.4v0.4h2.4v-3.4h2.4v1.3h2.4v-3.6h2.4v3.9h2.4v-2h2.4v-1.7h2.4v2h2.4v-1.9h2.4v3.2h2.4v-2.4h2.4v5.8h2.4v-6.7h2.4v6.7h2.4v-10.2h2.4v4.3h2.4v4h2.4v-6h2.4v9h2.4v-2.9h2.4h2.4v3.3h2.4v-6.6h2.4v6.7h2.4v-8.5h2.4v8.5h2.4v-8.3h2.4v8.3h2.4v-8.6h2.4v0.6h2.4v4.4h2.4v-2.2h2.4v0.4h2.4v-1.5h2.4v6.5h2.4v-10h2.4v5.9h2.4v-5h2.4v7.9h2.4v-4h2.4v-2.3h2.4v2h2.4v-2h2.4v7h2.4v-7.4h2.4v6.1h2.4v-0.3h2.4v-0.2h2.4v-7.4h2.4v3.7h2.4v-3.9h2.4v0.3h2.4v2.6h2.4v5.1h2.4v-4.1h2.4v3.6h2.4v-2.4h2.4v-2.7h2.4v5.2h2.4v-6.3h2.4v5h2.4v-5.4h2.4v4.8h2.4v0.8h2.4v-6.3h2.4v4.6h2.4v-4.8h2.4v3.3h2.4v5.8h2.4v-5.4h2.4v6.1h2.4v-11.3h2.4v7.2h2.4v2.7h2.4v-4h2.4v4h2.4v-26.9h2.4v5.8h2.4v-5.8h2.4v23.4h2.4v-10.6h2.4v2.8h2.4v-0.6h2.4v3.2h2.4v-7.7h2.4v9.1h2.4v-5.2h2.4v-3.9h2.4v6.7h2.4v-6.7h2.4v0.7h2.4v-0.7h2.4v6.8h2.4v-4.3h2.4v6.9h2.4v-0.2h2.4v-8.3h2.4v2.5h2.4v-3.4h2.4v6.6h2.4v-6.6h2.4v5.8h2.4v-5.8h2.4v12h2.4v-12h2.4v12h2.4v-3.6h2.4v15.2h2.4h2.4h2.4h2.4h2.4h2.4h2.4h2.4v-11.9h2.4v1.8h2.4v-4h2.4v8.3h2.4v-9.2h2.4v1.5h2.4v-1.5h2.4v5.7h2.4v-5.1h2.4h2.4v8.5h2.4v-8.9h2.4v0.1h2.4v8.6h2.4v-3.6h2.4v-3.8h2.4v7.3h2.4v-4.2h2.4v1.7h2.4v1.5h2.4v0.2h2.4v1.4h2.4v-0.6h2.4v0.6h2.4v-1h2.4v0.5h2.4v0.3h1.2v0.5h-1.2h-2.4h-2.4v-0.1h-2.4v0.1h-2.4v-0.1h-2.4v0.1h-2.4v0.1h-2.4v0.2h-2.4v0.1h-2.4v-0.3h-2.4v0.5h-2.4v-0.3h-2.4v-0.4h-2.4v0.5h-2.4h-2.4v-0.6h-2.4v0.7h-2.4h-2.4v-0.5h-2.4v0.4h-2.4v-0.2h-2.4v0.2h-2.4v-0.5h-2.4v0.6h-2.4v-0.2h-2.4v1h-2.4v4h-2.4h-2.4h-2.4h-2.4h-2.4h-2.4h-2.4h-2.4v-7.3h-2.4v-3.8h-2.4v0.8h-2.4v-0.8h-2.4v0.8h-2.4v-0.4h-2.4v0.4h-2.4v-0.4h-2.4v0.4h-2.4v-0.2h-2.4v0.2h-2.4v-0.6h-2.4h-2.4v0.4h-2.4v-0.3h-2.4v0.5h-2.4h-2.4h-2.4v-0.4h-2.4v0.4h-2.4v-0.3h-2.4v-0.3h-2.4v0.6h-2.4v-0.5h-2.4v0.2h-2.4h-2.4v0.2h-2.4v1.5h-2.4v1.6h-2.4v-0.4h-2.4v0.4h-2.4v0.6h-2.4v0.3h-2.4v-0.3h-2.4v1.3h-2.4v0.8h-2.4v-0.7h-2.4v0.4h-2.4v-0.3h-2.4v0.4h-2.4v0.3h-2.4v-0.3h-2.4v0.3h-2.4v-0.4h-2.4v0.1h-2.4v0.4h-2.4v-0.3h-2.4v0.3h-2.4v-0.3h-2.4v0.5h-2.4v-0.2h-2.4v0.1h-2.4v0.3h-2.4v-0.7h-2.4v0.1h-2.4h-2.4h-2.4v-0.3h-2.4v0.3h-2.4v-0.4h-2.4v0.1h-2.4v0.1h-2.4v0.5h-2.4v-0.4h-2.4v0.5h-2.4v-0.2h-2.4v0.2h-2.4v-0.3h-2.4v-0.4h-2.4v0.4h-2.4v-0.5h-2.4v0.3h-2.4v-0.6h-2.4v0.6h-2.4v0.1h-2.4v0.1h-2.4v-0.2h-2.4v0.3h-2.4h-2.4v-0.6h-2.4v0.6h-2.4v-0.5h-2.4v0.6h-2.4v-0.6h-2.4v0.5h-2.4v-0.4h-2.4v0.2h-2.4h-2.4v-0.3h-2.4v0.2h-2.4v-0.9h-2.4v0.1h-2.4v0.6h-2.4v-0.2h-2.4v0.8h-2.4v-0.4h-2.4v0.4h-2.4v-0.2h-2.4v0.2h-2.4v-0.1h-2.4v0.1h-2.4v-0.1h-2.4v-0.2h-2.4v0.3h-2.4v-0.3h-2.4v0.1h-2.4v-0.2h-2.4v0.1h-2.4h-2.4v0.2h-2.4v-0.4h-2.4v0.3h-2.4v-0.2h-2.4v0.5h-2.4v-0.4h-2.4v0.4h-2.4h-2.4v-0.2h-2.4v0.2h-2.4v-0.4h-2.4v-0.7h-2.4v-0.9h-2.4h-2.4v-0.5h-2.4v0.8h-2.4v-0.7h-2.4v0.7h-2.4v-0.7h-2.4v0.7h-2.4v-0.3h-2.4v0.3h-2.4v-0.5h-2.4v0.5h-2.4v-0.7h-2.4v0.7h-2.4v-0.1h-2.4v-0.7h-2.4v0.8h-2.4v-0.4h-2.4v0.3h-2.4v-0.7h-2.4v0.1h-2.4v0.7h-2.4v-0.3h-2.4z" fill="#1c36f4"/>
<path d="M91.7 663.7h2.4v-1.2h2.4v2.3h2.4v0.7h2.4v-2.5h2.4v1.1h2.4v-1.6h2.4v3h2.4v-2.3h2.4v-0.2h2.4v2h2.4v-2.5h2.4v1.7h2.4v-1.7h2.4v1.3h2.4v-0.9h2.4v2h2.4v-2.4h2.4v2.4h2.4v-2h2.4v2.6h2.4v-1.7h2.4h2.4v-1h2.4v0.7h2.4v-0.1h2.4v1.3h2.4v-0.9h2.4v-0.4h2.4v2.3h2.4v-2.4h2.4v2.9h2.4v-0.7h2.4v1.5h2.4v-2.6h2.4v1.2h2.4v-0.2h2.4v0.1h2.4v-1.4h2.4v0.5h2.4v-1.9h2.4v2h2.4v-0.9h2.4v-1h2.4v1.2h2.4v-1h2.4v1.7h2.4v-1h2.4v2.4h2.4v-3h2.4v2.5h2.4v-6.3h2.4v2.3h2.4v2.4h2.4v-2.3h2.4v4.7h2.4v-1h2.4h2.4v1.3h2.4v-2.8h2.4v3.4h2.4v-4.7h2.4v4h2.4v-3.6h2.4v4.2h2.4v-4.3h2.4v0.3h2.4v1.9h2.4v-0.9h2.4h2.4v-0.9h2.4v3.6h2.4v-6.2h2.4v3.4h2.4v-2.5h2.4v4.3h2.4v-1.5h2.4v-1.1h2.4v1.1h2.4v-1.1h2.4v3.1h2.4v-3.5h2.4v2.7h2.4v-0.2h2.4v-0.3h2.4v-4.1h2.4v2.1h2.4v-2.2h2.4v0.6h2.4v1.6h2.4v2.6h2.4v-1h2.4v1.4h2.4v-1.3h2.4v-1.5h2.4v2.4h2.4v-2.9h2.4v2.4h2.4v-2.5h2.4v2.2h2.4v0.3h2.4v-2.7h2.4v2h2.4v-1.7h2.4v1.2h2.4v2h2.4v-1.9h2.4v2.6h2.4v-4.7h2.4v5.6h2.4v5.7h2.4h2.4h2.4v-21.9h2.4v2.5h2.4v-2.5h2.4v8h2.4v13.9h2.4h2.4h2.4h2.4h2.4h2.4h2.4h2.4h2.4h2.4h2.4h2.4h2.4h2.4h2.4h2.4h2.4h2.4h2.4h2.4h2.4h2.4h2.4h2.4h2.4h2.4h2.4h2.4h2.4h2.4h2.4h2.4h2.4h2.4h2.4h2.4h2.4h2.4h2.4h2.4h2.4h2.4h2.4h2.4h2.4h2.4h2.4h2.4h2.4h2.4h2.4h2.4h2.4h2.4h2.4h2.4h2.4h2.4h2.4h2.4h2.4h1.2h-1.2h-2.4h-2.4h-2.4h-2.4h-2.4h-2.4h-2.4h-2.4h-2.4h-2.4h-2.4h-2.4h-2.4h-2.4h-2.4h-2.4h-2.4h-2.4h-2.4h-2.4h-2.4h-2.4h-2.4h-2.4h-2.4h-2.4h-2.4h-2.4h-2.4h-2.4h-2.4h-2.4h-2.4h-2.4h-2.4h-2.4h-2.4h-2.4h-2.4h-2.4h-2.4h-2.4h-2.4h-2.4h-2.4h-2.4h-2.4h-2.4h-2.4h-2.4h-2.4h-2.4h-2.4h-2.4h-2.4h-2.4h-2.4h-2.4h-2.4h-2.4h-2.4v-11.8h-2.4v0.6h-2.4v-0.2h-2.4v0.2h-2.4v11.2h-2.4h-2.4h-2.4v-4h-2.4v-2h-2.4v-0.3h-2.4v0.3h-2.4v-0.1h-2.4v0.2h-2.4v0.1h-2.4h-2.4v0.2h-2.4v-0.2h-2.4v0.1h-2.4v0.2h-2.4v-0.1h-2.4v0.2h-2.4v-0.1h-2.4v0.1h-2.4h-2.4v0.1h-2.4v0.2h-2.4v-0.5h-2.4v-0.1h-2.4v-0.1h-2.4h-2.4v-0.2h-2.4v0.2h-2.4v-0.1h-2.4v0.1h-2.4v0.1h-2.4v0.2h-2.4v-0.1h-2.4v0.2h-2.4v-0.1h-2.4v0.1h-2.4v-0.1h-2.4v-0.3h-2.4v0.1h-2.4v-0.3h-2.4v0.2h-2.4v-0.4h-2.4v0.4h-2.4v0.1h-2.4v0.1h-2.4h-2.4v0.1h-2.4h-2.4v-0.3h-2.4v0.2h-2.4v-0.2h-2.4v0.3h-2.4v-0.3h-2.4v0.3h-2.4v-0.2h-2.4v0.2h-2.4v-0.1h-2.4v-0.2h-2.4h-2.4v-0.7h-2.4h-2.4v0.5h-2.4h-2.4v0.5h-2.4v-0.1h-2.4v0.2h-2.4v-0.1h-2.4v0.1h-2.4v-0.1h-2.4h-2.4v-0.1h-2.4h-2.4v0.1h-2.4v-0.1h-2.4h-2.4h-2.4h-2.4h-2.4v0.1h-2.4v-0.2h-2.4v0.2h-2.4v-0.1h-2.4v0.2h-2.4v-0.1h-2.4v0.1h-2.4h-2.4v-0.1h-2.4v0.1h-2.4v-0.5h-2.4v-0.8h-2.4v-0.8h-2.4h-2.4v-0.1h-2.4v0.2h-2.4v-0.2h-2.4v0.2h-2.4v-0.2h-2.4v0.2h-2.4v-0.1h-2.4v0.1h-2.4v-0.1h-2.4v0.1h-2.4v-0.2h-2.4v0.2h-2.4v-0.1h-2.4v-0.1h-2.4v0.2h-2.4v-0.1h-2.4v0.1h-2.4v-0.2h-2.4h-2.4v0.2h-2.4v-0.1h-2.4z" fill="#2a90ff"/>
</g>
<path d="M364 673.7V667.5H369V664.5H370.5V668.5H371.8V673.7Z" fill="#fff"/>
<rect x="97.0" y="623.1" width="2.2" height="23.2" fill="#fff"/>
<rect x="128.8" y="623.1" width="2.4" height="23.2" fill="#fff"/>
<rect x="107.2" y="623.1" width="1.2" height="15.9" fill="#fff"/>
<rect x="95.4" y="607.2" width="1.3" height="3.3" fill="#202020"/>
<rect x="105.9" y="607.2" width="1.3" height="3.3" fill="#202020"/>
<rect x="111.1" y="607.2" width="1.3" height="3.3" fill="#202020"/>
<rect x="112.9" y="607.2" width="1.3" height="3.3" fill="#202020"/>
<rect x="114.8" y="607.2" width="1.3" height="3.3" fill="#202020"/>
<rect x="122.9" y="607.2" width="1.3" height="3.3" fill="#202020"/>
<rect x="144.8" y="607.2" width="1.3" height="3.3" fill="#8040c0"/>
<rect x="153.4" y="607.2" width="1.3" height="3.3" fill="#8040c0"/>
<rect x="157.9" y="607.2" width="1.3" height="3.3" fill="#8040c0"/>
<rect x="161.3" y="607.2" width="1.3" height="3.3" fill="#202020"/>
<rect x="172.3" y="607.2" width="1.3" height="3.3" fill="#202020"/>
<rect x="195.3" y="607.2" width="1.3" height="3.3" fill="#8040c0"/>
<rect x="211.8" y="607.2" width="1.3" height="3.3" fill="#202020"/>
<rect x="230.1" y="607.2" width="1.3" height="3.3" fill="#8040c0"/>
<rect x="248.6" y="607.2" width="1.3" height="3.3" fill="#8040c0"/>
<rect x="266.9" y="607.2" width="1.3" height="3.3" fill="#202020"/>
<rect x="285.2" y="607.2" width="1.3" height="3.3" fill="#202020"/>
<rect x="302.9" y="607.2" width="1.3" height="3.3" fill="#202020"/>
<rect x="310" y="607.2" width="1.3" height="3.3" fill="#202020"/>
<rect x="324.4" y="607.2" width="1.3" height="3.3" fill="#202020"/>
<rect x="342.7" y="607.2" width="1.3" height="3.3" fill="#202020"/>
<rect x="381.9" y="607.2" width="1.3" height="3.3" fill="#202020"/>
<rect x="400.3" y="607.2" width="1.3" height="3.3" fill="#8040c0"/>
<rect x="418.6" y="607.2" width="1.3" height="3.3" fill="#8040c0"/>
<rect x="432.4" y="607.2" width="1.3" height="3.3" fill="#202020"/>
<rect x="449.4" y="607.2" width="1.3" height="3.3" fill="#202020"/>
<rect x="467.8" y="607.2" width="1.3" height="3.3" fill="#202020"/>
<rect x="489.2" y="607.2" width="1.3" height="3.3" fill="#202020"/>
<rect x="504.9" y="607.2" width="1.3" height="3.3" fill="#202020"/>
<rect x="512.7" y="607.2" width="1.3" height="3.3" fill="#202020"/>
<rect x="514.8" y="607.2" width="1.3" height="3.3" fill="#202020"/>
<rect x="310" y="644.9" width="1.6" height="1.3" fill="#505050"/>
<rect x="310" y="641.9" width="1.6" height="1.3" fill="#505050"/>
<rect x="310" y="638.9" width="1.6" height="1.3" fill="#505050"/>
<rect x="310" y="635.9" width="1.6" height="1.3" fill="#505050"/>
<rect x="310" y="632.9" width="1.6" height="1.3" fill="#505050"/>
<rect x="310" y="630" width="1.6" height="1.3" fill="#505050"/>
<rect x="309.9" y="623.1" width="1.8" height="2" fill="#f0f000"/>
</g>
<path d="M91.7 288.65H520.1" stroke="#000" stroke-width="1.1" stroke-dasharray="3 1.5"/>
<path d="M91.7 300.5 92.0 299.2 92.4 302.6 92.7 299.7 93.0 306.3 93.3 305.6 93.7 307.0 94.0 305.7 94.3 303.0 94.7 300.9 95.0 304.5 95.3 301.9 95.7 303.3 96.0 300.3 96.3 300.3 96.6 298.9 97.0 300.3 97.3 308.2 97.6 302.9 98.0 303.8 98.3 305.4 98.6 299.6 99.0 299.7 99.3 297.4 99.6 298.6 99.9 297.9 100.3 298.3 100.6 296.9 100.9 294.8 101.3 297.5 101.6 295.9 101.9 300.6 102.3 304.7 102.6 294.3 102.9 302.1 103.2 302.4 103.6 299.4 103.9 298.5 104.2 298.0 104.6 303.0 104.9 305.0 105.2 295.7 105.6 297.8 105.9 296.1 106.2 298.0 106.5 297.9 106.9 300.1 107.2 301.1 107.5 303.3 107.9 302.3 108.2 300.3 108.5 304.9 108.9 298.2 109.2 304.4 109.5 305.1 109.8 299.6 110.2 302.5 110.5 302.1 110.8 301.3 111.2 304.2 111.5 303.9 111.8 300.9 112.2 300.8 112.5 303.0 112.8 297.1 113.1 308.0 113.5 306.3 113.8 302.2 114.1 303.3 114.5 312.7 114.8 302.2 115.1 301.1 115.5 308.3 115.8 305.2 116.1 304.5 116.4 302.4 116.8 303.0 117.1 300.1 117.4 304.6 117.8 305.2 118.1 298.0 118.4 304.5 118.8 304.1 119.1 307.7 119.4 305.8 119.7 303.1 120.1 300.7 120.4 302.6 120.7 300.8 121.1 302.2 121.4 297.9 121.7 299.6 122.1 299.3 122.4 300.6 122.7 298.0 123.0 301.9 123.4 298.9 123.7 299.7 124.0 298.4 124.4 302.0 124.7 304.1 125.0 301.4 125.4 302.5 125.7 299.7 126.0 297.8 126.3 299.2 126.7 300.7 127.0 304.0 127.3 303.4 127.7 305.0 128.0 299.8 128.3 301.9 128.7 301.1 129.0 303.8 129.3 302.7 129.6 303.7 130.0 303.8 130.3 302.3 130.6 305.6 131.0 307.9 131.3 311.0 131.6 303.3 132.0 309.5 132.3 303.5 132.6 307.4 132.9 298.1 133.3 305.9 133.6 305.6 133.9 301.8 134.3 300.5 134.6 301.4 134.9 299.7 135.3 300.2 135.6 298.2 135.9 299.9 136.3 300.6 136.6 299.8 136.9 301.6 137.2 304.4 137.6 302.4 137.9 298.4 138.2 298.1 138.6 298.0 138.9 298.7 139.2 298.9 139.6 294.7 139.9 294.9 140.2 298.7 140.5 296.5 140.9 299.1 141.2 301.2 141.5 301.5 141.9 297.4 142.2 296.2 142.5 302.1 142.9 298.5 143.2 300.6 143.5 302.3 143.8 303.5 144.2 302.9 144.5 296.8 144.8 299.4 145.2 300.4 145.5 302.9 145.8 299.7 146.2 303.1 146.5 302.5 146.8 304.5 147.1 297.2 147.5 298.3 147.8 296.6 148.1 294.6 148.5 299.5 148.8 301.2 149.1 301.9 149.5 301.2 149.8 303.7 150.1 303.5 150.4 304.4 150.8 306.1 151.1 305.0 151.4 304.1 151.8 306.4 152.1 299.0 152.4 302.2 152.8 300.7 153.1 299.5 153.4 294.9 153.7 297.2 154.1 297.1 154.4 298.3 154.7 297.4 155.1 296.5 155.4 299.1 155.7 295.4 156.1 300.1 156.4 297.3 156.7 297.9 157.0 300.4 157.4 297.8 157.7 303.7 158.0 300.6 158.4 297.7 158.7 306.5 159.0 299.4 159.4 302.2 159.7 299.5 160.0 303.2 160.3 297.3 160.7 299.0 161.0 297.6 161.3 299.7 161.7 294.9 162.0 297.7 162.3 299.0 162.7 297.1 163.0 296.1 163.3 300.5 163.6 298.6 164.0 295.5 164.3 305.5 164.6 303.7 165.0 299.0 165.3 297.7 165.6 300.5 166.0 300.6 166.3 298.4 166.6 304.2 166.9 294.9 167.3 303.1 167.6 297.5 167.9 294.3 168.3 297.8 168.6 298.3 168.9 296.7 169.3 303.5 169.6 298.1 169.9 293.5 170.2 299.0 170.6 295.0 170.9 297.7 171.2 297.0 171.6 296.0 171.9 302.0 172.2 295.4 172.6 298.7 172.9 288.1 173.2 298.3 173.5 297.2 173.9 301.2 174.2 296.9 174.5 295.6 174.9 301.4 175.2 296.5 175.5 300.7 175.9 295.4 176.2 298.4 176.5 300.1 176.8 300.3 177.2 294.2 177.5 301.3 177.8 295.1 178.2 299.5 178.5 301.1 178.8 298.7 179.2 296.1 179.5 295.3 179.8 294.8 180.1 293.1 180.5 295.3 180.8 295.6 181.1 296.8 181.5 294.5 181.8 295.3 182.1 296.8 182.5 293.9 182.8 297.0 183.1 297.5 183.4 293.3 183.8 293.5 184.1 292.6 184.4 293.2 184.8 293.9 185.1 289.4 185.4 299.5 185.8 293.3 186.1 296.0 186.4 295.8 186.7 294.7 187.1 297.4 187.4 294.3 187.7 296.9 188.1 296.4 188.4 293.2 188.7 300.4 189.1 295.0 189.4 295.4 189.7 299.1 190.0 297.2 190.4 292.5 190.7 294.8 191.0 293.8 191.4 299.1 191.7 296.2 192.0 292.8 192.4 296.6 192.7 296.4 193.0 298.7 193.3 297.2 193.7 299.5 194.0 294.0 194.3 297.3 194.7 298.0 195.0 294.4 195.3 297.7 195.7 295.2 196.0 298.4 196.3 301.1 196.6 298.1 197.0 302.2 197.3 301.4 197.6 301.0 198.0 294.4 198.3 302.0 198.6 302.4 199.0 303.4 199.3 307.5 199.6 305.7 199.9 304.7 200.3 302.2 200.6 302.9 200.9 307.2 201.3 302.2 201.6 306.5 201.9 302.6 202.3 307.1 202.6 305.8 202.9 304.8 203.2 307.1 203.6 304.0 203.9 306.4 204.2 304.4 204.6 302.4 204.9 295.9 205.2 302.0 205.6 297.3 205.9 295.7 206.2 297.0 206.5 299.0 206.9 295.8 207.2 297.6 207.5 299.8 207.9 298.5 208.2 300.2 208.5 296.5 208.9 298.6 209.2 296.8 209.5 292.3 209.8 293.0 210.2 294.5 210.5 293.4 210.8 290.9 211.2 287.2 211.5 292.6 211.8 293.8 212.2 296.2 212.5 298.5 212.8 298.1 213.1 297.2 213.5 300.3 213.8 308.2 214.1 301.8 214.5 303.4 214.8 302.5 215.1 297.7 215.5 301.3 215.8 300.8 216.1 296.5 216.4 301.0 216.8 303.3 217.1 304.4 217.4 299.6 217.8 298.6 218.1 299.8 218.4 300.1 218.8 297.2 219.1 298.1 219.4 297.4 219.7 299.2 220.1 298.4 220.4 299.0 220.7 297.1 221.1 293.8 221.4 293.7 221.7 293.8 222.1 290.0 222.4 290.3 222.7 291.9 223.0 294.2 223.4 292.4 223.7 296.2 224.0 296.9 224.4 296.2 224.7 294.9 225.0 296.2 225.4 289.0 225.7 293.1 226.0 296.9 226.3 292.4 226.7 296.3 227.0 293.9 227.3 293.5 227.7 293.8 228.0 297.9 228.3 299.2 228.7 293.0 229.0 292.5 229.3 292.4 229.6 300.7 230.0 295.0 230.3 295.9 230.6 291.1 231.0 296.9 231.3 298.4 231.6 299.9 232.0 298.1 232.3 297.2 232.6 300.5 232.9 299.6 233.3 297.3 233.6 296.2 233.9 293.7 234.3 291.9 234.6 301.0 234.9 297.8 235.3 292.6 235.6 294.5 235.9 292.9 236.2 293.2 236.6 293.5 236.9 295.5 237.2 300.4 237.6 293.9 237.9 299.2 238.2 296.8 238.6 304.7 238.9 301.3 239.2 299.4 239.5 294.8 239.9 301.2 240.2 294.8 240.5 301.0 240.9 302.2 241.2 298.9 241.5 300.4 241.9 290.6 242.2 292.7 242.5 296.5 242.8 295.9 243.2 295.1 243.5 301.4 243.8 299.6 244.2 296.7 244.5 295.2 244.8 293.9 245.2 297.0 245.5 296.3 245.8 301.2 246.1 297.8 246.5 294.7 246.8 294.9 247.1 299.1 247.5 299.1 247.8 296.4 248.1 297.4 248.5 298.9 248.8 294.3 249.1 291.4 249.4 294.5 249.8 289.2 250.1 296.8 250.4 296.9 250.8 298.2 251.1 302.6 251.4 296.9 251.8 302.6 252.1 300.3 252.4 302.7 252.7 301.0 253.1 296.2 253.4 298.2 253.7 293.6 254.1 295.6 254.4 298.7 254.7 296.1 255.1 295.5 255.4 298.6 255.7 294.8 256.0 296.5 256.4 294.8 256.7 297.7 257.0 298.4 257.4 291.8 257.7 292.6 258.0 291.5 258.4 289.9 258.7 294.1 259.0 291.5 259.3 292.7 259.7 287.6 260.0 294.2 260.3 287.5 260.7 288.9 261.0 293.3 261.3 289.4 261.7 290.3 262.0 293.8 262.3 292.8 262.6 291.9 263.0 294.0 263.3 294.7 263.6 295.6 264.0 297.6 264.3 296.1 264.6 292.9 265.0 296.8 265.3 294.9 265.6 299.6 265.9 294.8 266.3 293.6 266.6 299.3 266.9 301.1 267.3 297.2 267.6 304.1 267.9 299.7 268.3 293.8 268.6 294.9 268.9 295.9 269.2 294.2 269.6 295.5 269.9 297.3 270.2 295.6 270.6 297.8 270.9 291.4 271.2 291.0 271.6 296.2 271.9 299.7 272.2 300.8 272.5 298.8 272.9 296.4 273.2 295.8 273.5 297.4 273.9 298.7 274.2 300.1 274.5 299.9 274.9 303.5 275.2 301.6 275.5 300.9 275.8 297.4 276.2 293.8 276.5 293.0 276.8 293.3 277.2 296.6 277.5 298.2 277.8 297.6 278.2 298.6 278.5 295.3 278.8 297.7 279.1 295.5 279.5 296.0 279.8 297.8 280.1 300.4 280.5 301.6 280.8 297.3 281.1 300.8 281.5 296.8 281.8 296.5 282.1 297.0 282.4 296.3 282.8 293.7 283.1 291.0 283.4 293.3 283.8 292.0 284.1 298.3 284.4 293.7 284.8 291.4 285.1 288.9 285.4 293.1 285.7 294.7 286.1 300.3 286.4 291.7 286.7 289.3 287.1 289.7 287.4 287.2 287.7 291.2 288.1 290.1 288.4 294.2 288.7 296.4 289.0 291.4 289.4 297.3 289.7 292.4 290.0 294.5 290.4 290.9 290.7 288.3 291.0 289.3 291.4 293.9 291.7 295.7 292.0 292.9 292.3 287.4 292.7 283.3 293.0 292.5 293.3 290.6 293.7 286.7 294.0 292.3 294.3 288.3 294.7 287.8 295.0 293.7 295.3 289.2 295.6 291.6 296.0 288.9 296.3 289.3 296.6 287.1 297.0 290.8 297.3 284.5 297.6 292.2 298.0 287.1 298.3 292.2 298.6 290.4 298.9 294.3 299.3 291.3 299.6 292.8 299.9 291.8 300.3 296.5 300.6 293.6 300.9 291.5 301.3 291.4 301.6 295.3 301.9 297.3 302.2 294.1 302.6 294.9 302.9 294.9 303.2 291.8 303.6 293.8 303.9 293.0 304.2 295.9 304.6 299.0 304.9 296.4 305.2 296.4 305.5 295.8 305.9 299.2 306.2 298.1 306.5 302.0 306.9 291.1 307.2 294.2 307.5 297.7 307.9 295.6 308.2 290.4 308.5 291.8 308.8 293.3 309.2 292.2 309.5 290.8 309.8 293.2 310.2 295.7 310.5 296.8 310.8 300.0 311.2 301.9 311.5 299.9 311.8 304.1 312.1 300.8 312.5 299.2 312.8 299.9 313.1 299.7 313.5 299.9 313.8 299.1 314.1 295.0 314.5 298.1 314.8 295.8 315.1 297.6 315.4 295.5 315.8 300.2 316.1 298.9 316.4 296.0 316.8 294.9 317.1 301.3 317.4 295.2 317.8 297.7 318.1 292.8 318.4 300.3 318.7 297.3 319.1 298.7 319.4 299.2 319.7 293.6 320.1 298.5 320.4 297.4 320.7 295.8 321.1 293.6 321.4 299.5 321.7 295.9 322.0 298.3 322.4 297.6 322.7 301.2 323.0 300.2 323.4 299.0 323.7 299.7 324.0 297.3 324.4 298.8 324.7 304.9 325.0 301.5 325.3 297.8 325.7 309.1 326.0 307.5 326.3 301.0 326.7 305.8 327.0 306.9 327.3 304.6 327.7 302.6 328.0 304.4 328.3 302.6 328.6 304.2 329.0 299.1 329.3 302.9 329.6 299.8 330.0 291.2 330.3 298.7 330.6 299.0 331.0 293.9 331.3 303.0 331.6 305.1 331.9 298.1 332.3 298.0 332.6 301.0 332.9 307.8 333.3 302.9 333.6 305.7 333.9 301.8 334.3 306.0 334.6 303.6 334.9 301.2 335.2 298.3 335.6 297.4 335.9 295.1 336.2 299.6 336.6 303.5 336.9 299.3 337.2 300.5 337.6 300.5 337.9 298.5 338.2 295.7 338.5 298.5 338.9 303.5 339.2 299.6 339.5 296.5 339.9 301.4 340.2 296.8 340.5 297.2 340.9 297.1 341.2 298.1 341.5 296.6 341.8 295.1 342.2 297.1 342.5 296.7 342.8 298.9 343.2 293.3 343.5 295.6 343.8 304.1 344.2 300.9 344.5 301.3 344.8 298.3 345.1 299.0 345.5 298.5 345.8 296.3 346.1 297.4 346.5 300.1 346.8 302.1 347.1 294.6 347.5 298.3 347.8 294.9 348.1 300.1 348.4 298.8 348.8 300.8 349.1 301.5 349.4 300.2 349.8 302.1 350.1 297.2 350.4 295.2 350.8 296.0 351.1 297.6 351.4 292.4 351.7 297.7 352.1 298.9 352.4 302.6 352.7 300.7 353.1 303.4 353.4 301.1 353.7 301.5 354.0 299.6 354.4 303.3 354.7 309.1 355.0 304.7 355.4 302.5 355.7 304.0 356.0 305.8 356.4 307.9 356.7 306.5 357.0 303.9 357.3 300.5 357.7 301.0 358.0 303.7 358.3 303.7 358.7 308.1 359.0 299.1 359.3 304.6 359.7 298.6 360.0 297.6 360.3 300.8 360.6 305.6 361.0 302.5 361.3 297.0 361.6 297.3 362.0 295.3 362.3 299.6 362.6 300.1 363.0 300.7 363.3 304.7 363.6 302.4 363.9 298.9 364.3 301.0 364.6 300.7 364.9 300.4 365.3 301.6 365.6 302.1 365.9 296.4 366.3 302.7 366.6 301.2 366.9 297.5 367.2 298.4 367.6 302.0 367.9 296.7 368.2 299.8 368.6 298.6 368.9 301.1 369.2 303.2 369.6 308.1 369.9 300.3 370.2 298.6 370.5 301.2 370.9 307.2 371.2 306.8 371.5 299.6 371.9 298.8 372.2 296.9 372.5 296.0 372.9 302.2 373.2 294.6 373.5 298.8 373.8 301.7 374.2 300.0 374.5 294.7 374.8 300.6 375.2 296.7 375.5 292.6 375.8 294.9 376.2 294.5 376.5 290.7 376.8 291.8 377.1 289.5 377.5 286.5 377.8 289.9 378.1 287.9 378.5 298.8 378.8 295.6 379.1 294.4 379.5 295.1 379.8 296.3 380.1 294.7 380.4 291.3 380.8 295.4 381.1 290.8 381.4 287.0 381.8 286.8 382.1 292.8 382.4 288.9 382.8 292.6 383.1 289.0 383.4 296.4 383.7 288.8 384.1 295.7 384.4 289.7 384.7 295.5 385.1 294.3 385.4 289.6 385.7 299.6 386.1 296.7 386.4 298.7 386.7 299.9 387.0 299.2 387.4 298.9 387.7 296.6 388.0 300.7 388.4 300.2 388.7 300.7 389.0 295.9 389.4 296.0 389.7 293.1 390.0 287.8 390.3 291.2 390.7 293.4 391.0 295.7 391.3 291.8 391.7 293.2 392.0 290.9 392.3 292.0 392.7 294.0 393.0 291.8 393.3 292.6 393.6 294.5 394.0 297.8 394.3 294.3 394.6 295.6 395.0 297.7 395.3 294.1 395.6 300.2 396.0 298.2 396.3 292.3 396.6 297.8 396.9 293.8 397.3 297.5 397.6 294.9 397.9 294.4 398.3 294.7 398.6 291.8 398.9 292.4 399.3 296.8 399.6 293.8 399.9 296.8 400.2 295.1 400.6 290.7 400.9 287.4 401.2 289.4 401.6 297.4 401.9 295.6 402.2 294.7 402.6 289.7 402.9 294.1 403.2 294.8 403.5 290.0 403.9 294.2 404.2 291.7 404.5 296.3 404.9 294.2 405.2 294.5 405.5 293.8 405.9 294.7 406.2 288.2 406.5 291.6 406.8 294.6 407.2 296.5 407.5 290.5 407.8 290.0 408.2 287.7 408.5 284.0 408.8 286.4 409.2 287.6 409.5 285.3 409.8 295.2 410.1 291.0 410.5 295.1 410.8 293.5 411.1 296.7 411.5 297.0 411.8 291.6 412.1 297.7 412.5 298.2 412.8 297.4 413.1 301.7 413.4 296.4 413.8 299.5 414.1 297.3 414.4 289.7 414.8 295.7 415.1 296.9 415.4 298.0 415.8 300.8 416.1 300.9 416.4 300.2 416.7 295.9 417.1 299.7 417.4 296.4 417.7 296.1 418.1 299.0 418.4 299.1 418.7 300.5 419.1 303.1 419.4 301.0 419.7 298.5 420.0 300.1 420.4 297.9 420.7 301.2 421.0 301.0 421.4 303.9 421.7 296.6 422.0 297.3 422.4 302.2 422.7 292.1 423.0 301.8 423.3 301.0 423.7 299.9 424.0 297.4 424.3 299.8 424.7 300.9 425.0 299.5 425.3 298.1 425.7 298.4 426.0 304.1 426.3 303.8 426.6 299.0 427.0 300.7 427.3 298.8 427.6 300.2 428.0 307.1 428.3 300.8 428.6 301.3 429.0 302.3 429.3 302.0 429.6 309.0 429.9 309.0 430.3 310.2 430.6 306.1 430.9 303.9 431.3 304.0 431.6 301.4 431.9 301.7 432.3 297.7 432.6 301.7 432.9 300.4 433.2 298.4 433.6 299.4 433.9 299.2 434.2 301.3 434.6 298.9 434.9 298.6 435.2 300.3 435.6 297.8 435.9 297.4 436.2 293.9 436.5 292.8 436.9 297.4 437.2 298.4 437.5 300.1 437.9 297.9 438.2 291.6 438.5 303.9 438.9 298.6 439.2 302.5 439.5 301.4 439.8 292.8 440.2 294.4 440.5 301.3 440.8 304.9 441.2 296.9 441.5 300.9 441.8 300.7 442.2 299.7 442.5 297.4 442.8 297.2 443.1 300.7 443.5 301.4 443.8 300.7 444.1 298.9 444.5 297.3 444.8 295.4 445.1 302.1 445.5 301.5 445.8 301.3 446.1 301.6 446.4 299.7 446.8 295.9 447.1 300.1 447.4 297.1 447.8 300.9 448.1 298.8 448.4 308.7 448.8 304.5 449.1 304.7 449.4 303.6 449.7 308.6 450.1 307.6 450.4 305.7 450.7 305.2 451.1 305.3 451.4 305.0 451.7 301.7 452.1 303.1 452.4 302.5 452.7 305.5 453.0 299.7 453.4 304.6 453.7 306.0 454.0 303.8 454.4 299.7 454.7 304.0 455.0 295.9 455.4 303.8 455.7 299.5 456.0 297.2 456.3 296.7 456.7 297.3 457.0 299.4 457.3 303.9 457.7 300.3 458.0 299.2 458.3 297.1 458.7 296.7 459.0 298.0 459.3 300.1 459.6 296.0 460.0 298.4 460.3 300.5 460.6 296.8 461.0 296.0 461.3 295.9 461.6 298.4 462.0 294.5 462.3 295.4 462.6 298.1 462.9 297.8 463.3 299.7 463.6 298.9 463.9 290.8 464.3 296.4 464.6 298.6 464.9 301.6 465.3 297.1 465.6 296.2 465.9 299.2 466.2 297.1 466.6 297.3 466.9 298.4 467.2 296.6 467.6 301.8 467.9 296.8 468.2 297.6 468.6 299.2 468.9 296.6 469.2 297.6 469.5 295.7 469.9 296.3 470.2 297.1 470.5 299.5 470.9 299.1 471.2 299.8 471.5 297.0 471.9 301.3 472.2 298.1 472.5 300.5 472.8 300.6 473.2 303.3 473.5 309.0 473.8 299.7 474.2 303.6 474.5 298.2 474.8 302.3 475.2 296.8 475.5 304.0 475.8 308.0 476.1 307.0 476.5 304.7 476.8 307.4 477.1 300.6 477.5 304.3 477.8 303.4 478.1 304.7 478.5 304.4 478.8 307.7 479.1 304.5 479.4 306.3 479.8 304.1 480.1 300.9 480.4 306.6 480.8 301.1 481.1 305.2 481.4 300.7 481.8 304.0 482.1 311.5 482.4 309.8 482.7 312.0 483.1 302.0 483.4 309.9 483.7 305.4 484.1 307.2 484.4 307.0 484.7 305.7 485.1 304.0 485.4 299.9 485.7 300.3 486.0 306.5 486.4 305.2 486.7 301.9 487.0 296.6 487.4 299.2 487.7 295.8 488.0 296.2 488.4 294.2 488.7 296.7 489.0 294.2 489.3 295.9 489.7 292.3 490.0 289.3 490.3 302.1 490.7 298.6 491.0 299.1 491.3 304.3 491.7 303.9 492.0 302.7 492.3 300.3 492.6 299.7 493.0 304.1 493.3 303.7 493.6 305.4 494.0 303.9 494.3 301.4 494.6 302.7 495.0 298.0 495.3 303.8 495.6 300.7 495.9 298.2 496.3 303.6 496.6 299.1 496.9 304.2 497.3 303.1 497.6 300.1 497.9 304.8 498.3 304.8 498.6 302.2 498.9 303.9 499.2 302.8 499.6 302.2 499.9 305.5 500.2 303.7 500.6 308.3 500.9 305.4 501.2 300.7 501.6 304.0 501.9 311.2 502.2 307.7 502.5 306.1 502.9 305.3 503.2 306.2 503.5 305.5 503.9 304.5 504.2 300.4 504.5 303.4 504.9 301.7 505.2 298.7 505.5 304.0 505.8 300.3 506.2 298.9 506.5 301.1 506.8 296.5 507.2 300.7 507.5 298.3 507.8 301.0 508.2 296.9 508.5 299.2 508.8 298.6 509.1 304.6 509.5 297.3 509.8 300.9 510.1 301.0 510.5 299.3 510.8 299.7 511.1 302.5 511.5 304.6 511.8 303.6 512.1 300.1 512.4 299.2 512.8 300.5 513.1 292.5 513.4 301.6 513.8 296.6 514.1 298.9 514.4 293.7 514.8 303.3 515.1 299.3 515.4 298.7 515.7 297.1 516.1 295.9 516.4 297.6 516.7 301.8 517.1 298.4 517.4 298.7 517.7 300.8 518.1 296.9 518.4 295.2 518.7 297.5 519.0 298.5 519.4 298.6 519.7 299.7 520.0 300.8" stroke="#ff0000" stroke-width="2.1" fill="none" stroke-linejoin="bevel"/>
<path d="M106.0 296.3V260.9M129.5 297.4V260.9M131.1 297.4V260.9M132.8 297.4V260.9M137.1 297.6V268.3M141.5 297.7V260.9M155.8 296.0V262.7M168.4 295.8V260.9M170.2 295.8V260.9M172.1 295.8V260.9M188.5 294.8V263.7M196.1 295.4V279.4M207.7 294.8V260.9M214.0 293.2V260.9M222.1 293.0V262.7M247.6 292.1V260.9M249.7 292.1V260.9M251.8 292.1V260.9M256.1 291.7V260.9M294.9 289.8V260.9M302.3 290.2V260.9M304.0 290.2V260.9M305.7 290.2V260.9M328.9 295.1V260.9M333.3 295.6V260.9M336.1 295.9V260.9M339.7 296.3V260.9M360.4 296.9V260.9M379.1 293.6V268.3M403.5 290.8V260.9M448.5 297.0V286.8" fill="none" stroke="#ff0000" stroke-width="1.6"/>
<rect x="457.9" y="261.3" width="28.1" height="47.7" fill="#ff0000"/>
<rect x="490.8" y="268.3" width="13.2" height="40.7" fill="#ff0000"/>
<path d="M91.7 285.4 92.2 285.0 92.7 285.8 93.2 286.9 93.7 285.5 94.2 287.3 94.7 285.9 95.2 287.1 95.7 286.9 96.2 287.9 96.7 287.7 97.2 287.1 97.7 288.1 98.2 288.2 98.7 289.4 99.2 287.9 99.7 287.8 100.2 287.5 100.7 287.2 101.2 287.4 101.7 288.1 102.2 287.8 102.7 286.9 103.2 287.1 103.7 288.1 104.2 287.6 104.7 287.3 105.2 287.5 105.7 288.2 106.2 289.1 106.7 287.1 107.2 288.1 107.7 288.5 108.2 288.8 108.7 289.0 109.2 288.3 109.7 288.7 110.2 287.8 110.7 288.9 111.2 288.6 111.7 289.5 112.2 288.2 112.7 288.7 113.2 288.8 113.7 289.3 114.2 289.9 114.7 289.1 115.2 289.5 115.7 288.9 116.2 289.0 116.7 289.4 117.2 289.9 117.7 289.9 118.2 288.0 118.7 288.9 119.2 287.6 119.7 288.7 120.2 289.4 120.7 288.5 121.2 288.7 121.7 288.1 122.2 286.7 122.7 287.9 123.2 287.0 123.7 288.0 124.2 289.1 124.7 289.2 125.2 288.6 125.7 287.4 126.2 287.9 126.7 287.5 127.2 286.8 127.7 286.8 128.2 285.4 128.7 285.0 129.2 286.6 129.7 288.4 130.2 286.5 130.7 287.7 131.2 287.6 131.7 287.6 132.2 288.5 132.7 287.9 133.2 289.0 133.7 288.1 134.2 288.2 134.7 288.7 135.2 289.4 135.7 290.0 136.2 291.0 136.7 289.4 137.2 290.5 137.7 288.7 138.2 289.0 138.7 288.9 139.2 288.4 139.7 288.8 140.2 288.1 140.7 287.0 141.2 288.1 141.7 288.3 142.2 288.6 142.7 287.7 143.2 287.9 143.7 287.3 144.2 288.4 144.7 289.1 145.2 289.4 145.7 288.4 146.2 289.7 146.7 288.8 147.2 290.3 147.7 288.3 148.2 288.7 148.7 288.2 149.2 289.0 149.7 288.1 150.2 289.2 150.7 289.5 151.2 290.3 151.7 288.2 152.2 288.6 152.7 287.8 153.2 288.9 153.7 288.6 154.2 288.0 154.7 286.8 155.2 286.5 155.7 287.7 156.2 287.3 156.7 288.3 157.2 288.1 157.7 287.4 158.2 287.5 158.7 287.3 159.2 288.8 159.7 287.6 160.2 289.0 160.7 289.1 161.2 288.4 161.7 289.1 162.2 289.1 162.7 289.1 163.2 290.3 163.7 289.3 164.2 288.6 164.7 288.2 165.2 288.3 165.7 288.4 166.2 288.8 166.7 288.6 167.2 288.1 167.7 287.5 168.2 288.7 168.7 288.7 169.2 287.5 169.7 288.6 170.2 287.3 170.7 287.7 171.2 289.4 171.7 289.4 172.2 290.5 172.7 288.7 173.2 288.2 173.7 287.6 174.2 288.6 174.7 288.7 175.2 289.1 175.7 290.5 176.2 291.2 176.7 289.9 177.2 289.6 177.7 288.4 178.2 289.0 178.7 288.9 179.2 287.4 179.7 288.6 180.2 287.0 180.7 288.6 181.2 287.9 181.7 289.3 182.2 291.2 182.7 290.0 183.2 290.6 183.7 290.1 184.2 289.1 184.7 290.1 185.2 288.8 185.7 289.3 186.2 288.4 186.7 289.4 187.2 288.8 187.7 288.8 188.2 288.8 188.7 288.4 189.2 288.1 189.7 287.7 190.2 288.0 190.7 286.4 191.2 288.8 191.7 287.8 192.2 288.3 192.7 287.3 193.2 287.0 193.7 288.0 194.2 288.5 194.7 289.7 195.2 289.5 195.7 288.4 196.2 289.0 196.7 288.1 197.2 288.3 197.7 288.3 198.2 287.6 198.7 287.9 199.2 288.6 199.7 289.2 200.2 290.8 200.7 291.5 201.2 291.8 201.7 290.9 202.2 290.4 202.7 291.1 203.2 289.8 203.7 289.1 204.2 290.4 204.7 290.3 205.2 288.7 205.7 287.5 206.2 287.5 206.7 288.2 207.2 289.3 207.7 290.0 208.2 291.0 208.7 290.5 209.2 289.3 209.7 288.7 210.2 289.9 210.7 289.4 211.2 289.9 211.7 289.1 212.2 288.5 212.7 286.6 213.2 286.3 213.7 288.4 214.2 287.8 214.7 286.6 215.2 287.2 215.7 286.4 216.2 287.4 216.7 285.8 217.2 285.7 217.7 286.1 218.2 287.3 218.7 287.2 219.2 287.5 219.7 286.8 220.2 287.1 220.7 287.2 221.2 286.7 221.7 287.4 222.2 287.4 222.7 287.8 223.2 286.5 223.7 287.7 224.2 287.3 224.7 286.6 225.2 286.5 225.7 286.4 226.2 286.1 226.7 286.1 227.2 285.7 227.7 285.4 228.2 287.6 228.7 288.5 229.2 289.6 229.7 288.1 230.2 288.4 230.7 288.7 231.2 290.1 231.7 289.5 232.2 289.3 232.7 288.8 233.2 288.5 233.7 288.3 234.2 288.7 234.7 287.6 235.2 287.5 235.7 288.1 236.2 287.8 236.7 287.4 237.2 287.9 237.7 289.5 238.2 289.3 238.7 286.9 239.2 288.1 239.7 287.6 240.2 287.3 240.7 289.8 241.2 288.1 241.7 287.2 242.2 288.2 242.7 287.7 243.2 288.2 243.7 287.6 244.2 287.0 244.7 288.1 245.2 287.6 245.7 288.0 246.2 287.6 246.7 287.5 247.2 286.7 247.7 287.4 248.2 287.9 248.7 287.9 249.2 287.7 249.7 287.7 250.2 287.6 250.7 287.6 251.2 287.7 251.7 286.7 252.2 286.8 252.7 286.7 253.2 286.4 253.7 284.5 254.2 283.8 254.7 283.7 255.2 285.4 255.7 285.8 256.2 286.4 256.7 285.8 257.2 286.6 257.7 286.8 258.2 288.3 258.7 287.6 259.2 288.9 259.7 289.4 260.2 288.6 260.7 288.1 261.2 286.6 261.7 287.7 262.2 286.5 262.7 287.5 263.2 287.2 263.7 286.3 264.2 286.6 264.7 286.3 265.2 286.6 265.7 286.2 266.2 287.1 266.7 288.0 267.2 287.2 267.7 287.6 268.2 287.7 268.7 286.2 269.2 287.2 269.7 287.1 270.2 287.7 270.7 287.4 271.2 286.6 271.7 287.4 272.2 286.7 272.7 286.7 273.2 287.1 273.7 287.2 274.2 287.9 274.7 287.7 275.2 288.6 275.7 288.1 276.2 288.0 276.7 287.7 277.2 288.4 277.7 287.4 278.2 286.6 278.7 287.4 279.2 287.1 279.7 287.2 280.2 288.2 280.7 288.1 281.2 287.1 281.7 288.0 282.2 288.7 282.7 288.7 283.2 287.3 283.7 287.4 284.2 286.5 284.7 286.0 285.2 286.6 285.7 285.9 286.2 287.0 286.7 287.0 287.2 287.6 287.7 287.2 288.2 288.1 288.7 286.5 289.2 287.3 289.7 287.3 290.2 286.7 290.7 287.3 291.2 287.3 291.7 287.6 292.2 287.7 292.7 288.6 293.2 286.6 293.7 285.2 294.2 285.7 294.7 287.2 295.2 286.1 295.7 286.6 296.2 286.3 296.7 285.2 297.2 285.2 297.7 285.9 298.2 287.2 298.7 286.1 299.2 287.0 299.7 286.8 300.2 289.6 300.7 288.9 301.2 288.2 301.7 289.6 302.2 288.9 302.7 289.5 303.2 288.9 303.7 288.5 304.2 288.1 304.7 288.2 305.2 287.8 305.7 287.5 306.2 285.7 306.7 285.2 307.2 287.0 307.7 286.4 308.2 287.3 308.7 286.7 309.2 286.7 309.7 287.5 310.2 286.9 310.7 287.3 311.2 287.3 311.7 287.2 312.2 286.4 312.7 285.6 313.2 286.7 313.7 287.2 314.2 286.8 314.7 288.5 315.2 289.7 315.7 288.6 316.2 288.1 316.7 288.3 317.2 287.6 317.7 287.5 318.2 288.2 318.7 287.8 319.2 287.6 319.7 285.4 320.2 288.0 320.7 287.3 321.2 286.8 321.7 287.8 322.2 287.1 322.7 287.9 323.2 288.5 323.7 287.8 324.2 287.7 324.7 287.8 325.2 287.3 325.7 286.9 326.2 287.2 326.7 286.6 327.2 287.6 327.7 287.5 328.2 287.4 328.7 288.0 329.2 286.9 329.7 287.6 330.2 287.6 330.7 289.0 331.2 289.7 331.7 288.9 332.2 289.4 332.7 289.2 333.2 288.3 333.7 287.4 334.2 286.2 334.7 288.3 335.2 287.9 335.7 288.1 336.2 287.2 336.7 286.2 337.2 286.6 337.7 285.5 338.2 286.3 338.7 284.9 339.2 285.4 339.7 286.1 340.2 286.6 340.7 286.0 341.2 286.1 341.7 285.4 342.2 285.0 342.7 286.8 343.2 287.1 343.7 287.4 344.2 286.9 344.7 286.5 345.2 286.9 345.7 286.7 346.2 286.7 346.7 286.1 347.2 285.6 347.7 285.2 348.2 286.7 348.7 287.3 349.2 286.2 349.7 287.3 350.2 286.6 350.7 287.2 351.2 288.7 351.7 289.3 352.2 289.7 352.7 288.9 353.2 289.7 353.7 289.7 354.2 289.3 354.7 288.8 355.2 288.9 355.7 286.8 356.2 286.6 356.7 288.3 357.2 286.8 357.7 286.2 358.2 286.1 358.7 285.7 359.2 286.5 359.7 287.2 360.2 286.9 360.7 287.4 361.2 286.6 361.7 287.9 362.2 287.3 362.7 286.6 363.2 287.5 363.7 287.0 364.2 287.0 364.7 286.2 365.2 285.8 365.7 286.0 366.2 286.1 366.7 286.1 367.2 285.8 367.7 286.3 368.2 286.3 368.7 286.9 369.2 287.0 369.7 287.2 370.2 287.7 370.7 286.7 371.2 287.3 371.7 287.2 372.2 288.8 372.7 286.8 373.2 286.9 373.7 287.6 374.2 287.4 374.7 287.9 375.2 288.0 375.7 287.6 376.2 287.4 376.7 287.2 377.2 286.9 377.7 287.0 378.2 286.7 378.7 286.6 379.2 286.1 379.7 286.3 380.2 286.1 380.7 286.0 381.2 286.7 381.7 288.0 382.2 286.6 382.7 288.9 383.2 287.8 383.7 287.4 384.2 285.7 384.7 286.8 385.2 287.5 385.7 286.6 386.2 288.6 386.7 287.5 387.2 287.4 387.7 287.5 388.2 288.9 388.7 288.2 389.2 288.0 389.7 287.8 390.2 289.0 390.7 288.6 391.2 288.5 391.7 289.1 392.2 287.9 392.7 288.5 393.2 288.6 393.7 285.8 394.2 287.0 394.7 287.6 395.2 286.0 395.7 288.1 396.2 287.1 396.7 288.2 397.2 286.7 397.7 285.9 398.2 286.0 398.7 286.5 399.2 288.8 399.7 287.7 400.2 287.5 400.7 287.2 401.2 288.4 401.7 287.0 402.2 287.5 402.7 287.3 403.2 287.3 403.7 287.2 404.2 285.7 404.7 285.5 405.2 289.0 405.7 288.7 406.2 288.9 406.7 288.9 407.2 288.6 407.7 288.6 408.2 288.0 408.7 287.5 409.2 286.7 409.7 286.3 410.2 286.6 410.7 287.4 411.2 287.6 411.7 287.3 412.2 287.6 412.7 287.6 413.2 286.3 413.7 287.1 414.2 286.1 414.7 285.7 415.2 284.8 415.7 285.4 416.2 284.6 416.7 286.0 417.2 285.0 417.7 285.5 418.2 285.5 418.7 284.6 419.2 284.0 419.7 284.8 420.2 284.6 420.7 285.2 421.2 285.0 421.7 285.2 422.2 283.7 422.7 285.1 423.2 284.5 423.7 285.0 424.2 284.5 424.7 284.5 425.2 286.1 425.7 284.3 426.2 285.4 426.7 286.0 427.2 286.1 427.7 284.6 428.2 285.5 428.7 284.2 429.2 285.2 429.7 286.2 430.2 285.5 430.7 286.3 431.2 285.1 431.7 286.4 432.2 287.8 432.7 287.8 433.2 287.5 433.7 286.1 434.2 286.1 434.7 285.8 435.2 285.3 435.7 286.5 436.2 287.1 436.7 284.9 437.2 284.1 437.7 285.5 438.2 284.6 438.7 284.2 439.2 284.7 439.7 284.6 440.2 284.6 440.7 284.0 441.2 282.2 441.7 282.4 442.2 282.6 442.7 284.1 443.2 283.5 443.7 285.0 444.2 285.0 444.7 286.1 445.2 286.3 445.7 285.1 446.2 285.3 446.7 285.9 447.2 285.2 447.7 284.8 448.2 284.6 448.7 285.6 449.2 286.1 449.7 285.9 450.2 284.0 450.7 283.8 451.2 284.0 451.7 283.5 452.2 285.7 452.7 285.8 453.2 284.0 453.7 284.5 454.2 284.8 454.7 285.4 455.2 287.2 455.7 287.2 456.2 287.5 456.7 285.6 457.2 285.2 457.7 285.6 458.2 287.2 458.7 287.6 459.2 288.2 459.7 287.9 460.2 287.8 460.7 287.0 461.2 287.5 461.7 287.2 462.2 287.1 462.7 287.2 463.2 287.2 463.7 286.8 464.2 286.7 464.7 287.7 465.2 286.8 465.7 287.7 466.2 287.7 466.7 288.9 467.2 289.7 467.7 288.5 468.2 289.0 468.7 288.9 469.2 289.0 469.7 288.8 470.2 288.4 470.7 288.4 471.2 289.3 471.7 289.3 472.2 288.4 472.7 286.8 473.2 288.2 473.7 287.7 474.2 287.0 474.7 287.6 475.2 287.5 475.7 286.9 476.2 287.4 476.7 287.4 477.2 286.8 477.7 287.1 478.2 288.5 478.7 288.7 479.2 288.4 479.7 288.4 480.2 288.0 480.7 288.7 481.2 289.7 481.7 289.1 482.2 288.0 482.7 287.9 483.2 289.0 483.7 288.8 484.2 288.5 484.7 289.2 485.2 289.3 485.7 289.4 486.2 289.0 486.7 288.4 487.2 287.6 487.7 287.7 488.2 287.1 488.7 287.3 489.2 286.0 489.7 286.0 490.2 286.6 490.7 287.0 491.2 286.9 491.7 287.8 492.2 288.2 492.7 288.7 493.2 287.7 493.7 287.8 494.2 288.5 494.7 287.4 495.2 288.1 495.7 286.2 496.2 286.8 496.7 285.8 497.2 286.6 497.7 288.1 498.2 286.3 498.7 287.9 499.2 288.3 499.7 289.0 500.2 288.3 500.7 288.2 501.2 287.6 501.7 287.4 502.2 287.4 502.7 287.4 503.2 288.0 503.7 290.0 504.2 289.2 504.7 288.3 505.2 289.4 505.7 288.7 506.2 289.1 506.7 289.8 507.2 289.1 507.7 288.1 508.2 287.8 508.7 288.2 509.2 287.9 509.7 288.2 510.2 288.1 510.7 288.5 511.2 288.6 511.7 287.9 512.2 288.8 512.7 288.5 513.2 288.9 513.7 289.3 514.2 290.1 514.7 288.9 515.2 288.7 515.7 288.4 516.2 288.5 516.7 289.8 517.2 290.6 517.7 289.9 518.2 289.8 518.7 289.0 519.2 288.7 519.7 288.0" stroke="#80ff00" stroke-width="2.6" fill="none"/>
<path d="M106.2 288.6V277.0M129.7 288.6V262.8M131.3 288.6V264.7M133.0 288.6V263.0M141.7 288.6V264.8M155.9 288.6V280.4M168.6 288.6V272.1M170.4 288.6V270.4M172.3 288.6V273.0M196.3 288.6V286.0M207.9 288.6V278.2M214.2 288.6V283.1M222.3 288.6V282.8M247.8 288.6V267.8M249.8 288.6V266.3M251.9 288.6V267.6M295.1 288.6V279.8M302.5 288.6V265.4M304.2 288.6V266.4M305.9 288.6V263.8M329.1 288.6V265.5M333.5 288.6V268.6M336.3 288.6V270.5M339.9 288.6V271.6M379.3 288.6V281.6M403.7 288.6V273.5" fill="none" stroke="#80ff00" stroke-width="1.2"/>
<path d="M484.1 287.7V268.0M496.6 287.7V271.5M470.6 287.7V278.4M469.0 287.7V278.0M464.1 287.7V276.4M465.0 287.7V269.5M485.6 287.7V267.0M469.2 287.7V269.1M477.1 287.7V270.2M459.0 287.7V266.7M469.8 287.7V281.6M475.7 287.7V268.9M462.7 287.7V283.5M499.4 287.7V274.3M486.3 287.7V272.1M476.6 287.7V281.2M481.0 287.7V278.4M460.9 287.7V283.8M462.2 287.7V269.0M479.0 287.7V276.4M480.6 287.7V280.2M474.0 287.7V268.6M482.2 287.7V272.2M474.5 287.7V275.8M502.6 287.7V281.5M467.6 287.7V267.7M458.6 287.7V266.8M489.8 287.7V279.0M496.8 287.7V277.7M459.0 287.7V269.3M473.9 287.7V281.3M458.9 287.7V281.3M495.9 287.7V280.7M478.0 287.7V277.1M470.6 287.7V275.6M486.4 287.7V275.5M478.9 287.7V275.9M470.2 287.7V269.6M488.0 287.7V277.2M488.4 287.7V273.0M472.5 287.7V280.4M489.1 287.7V280.1M472.7 287.7V281.9M486.6 287.7V281.7M462.3 287.7V283.1M470.7 287.7V268.0M481.7 287.7V273.5M470.4 287.7V282.3M488.7 287.7V270.7M478.9 287.7V279.1M485.2 287.7V273.8M503.0 287.7V277.7M491.7 287.7V272.1M494.3 287.7V278.8M494.2 287.7V271.2M491.1 287.7V284.0M470.5 287.7V282.6M469.8 287.7V278.1M480.9 287.7V274.0M502.9 287.7V280.1M488.1 287.7V270.8M480.2 287.7V270.4M461.2 287.7V279.3M482.4 287.7V270.7M467.8 287.7V268.8M461.4 287.7V271.9M487.6 287.7V266.8M503.2 287.7V276.0M478.9 287.7V273.4M477.0 287.7V269.5" stroke="#80ff00" stroke-width="1.2" fill="none"/>
<path d="M412.8 288.6V260.9M453.2 287.7V268.3" stroke="#b0a020" stroke-width="1.2"/>
<path d="M91.70 234.62h8.5M520.10 234.62h-8.5M91.70 199.25h8.5M520.10 199.25h-8.5M91.70 163.88h8.5M520.10 163.88h-8.5M91.70 128.52h8.5M520.10 128.52h-8.5M91.70 93.15h8.5M520.10 93.15h-8.5M91.70 243.46h4.3M520.10 243.46h-4.3M91.70 225.78h4.3M520.10 225.78h-4.3M91.70 216.94h4.3M520.10 216.94h-4.3M91.70 208.09h4.3M520.10 208.09h-4.3M91.70 190.41h4.3M520.10 190.41h-4.3M91.70 181.57h4.3M520.10 181.57h-4.3M91.70 172.73h4.3M520.10 172.73h-4.3M91.70 155.04h4.3M520.10 155.04h-4.3M91.70 146.20h4.3M520.10 146.20h-4.3M91.70 137.36h4.3M520.10 137.36h-4.3M91.70 119.67h4.3M520.10 119.67h-4.3M91.70 110.83h4.3M520.10 110.83h-4.3M91.70 101.99h4.3M520.10 101.99h-4.3M91.70 84.31h4.3M520.10 84.31h-4.3M127.40 247.00v-2.0M127.40 79.00v2.0M163.10 247.00v-2.0M163.10 79.00v2.0M198.80 247.00v-2.6M198.80 79.00v2.6M234.50 247.00v-2.0M234.50 79.00v2.0M270.20 247.00v-2.0M270.20 79.00v2.0M305.90 247.00v-2.6M305.90 79.00v2.6M341.60 247.00v-2.0M341.60 79.00v2.0M377.30 247.00v-2.0M377.30 79.00v2.0M413.00 247.00v-2.6M413.00 79.00v2.6M448.70 247.00v-2.0M448.70 79.00v2.0M484.40 247.00v-2.0M484.40 79.00v2.0" stroke="#000" stroke-width="1" fill="none"/>
<rect x="91.70" y="79.00" width="428.40" height="168.00" fill="none" stroke="#000" stroke-width="1.25"/>
<text x="87.80" y="97.25" font-family="Liberation Sans" font-size="11.4" fill="#000" stroke="#000" stroke-width="0.22" text-anchor="end">1000</text>
<text x="87.80" y="132.62" font-family="Liberation Sans" font-size="11.4" fill="#000" stroke="#000" stroke-width="0.22" text-anchor="end">800</text>
<text x="87.80" y="167.98" font-family="Liberation Sans" font-size="11.4" fill="#000" stroke="#000" stroke-width="0.22" text-anchor="end">600</text>
<text x="87.80" y="203.35" font-family="Liberation Sans" font-size="11.4" fill="#000" stroke="#000" stroke-width="0.22" text-anchor="end">400</text>
<text x="87.80" y="238.72" font-family="Liberation Sans" font-size="11.4" fill="#000" stroke="#000" stroke-width="0.22" text-anchor="end">200</text>
<path d="M91.70 416.13h8.5M520.10 416.13h-8.5M91.70 398.51h8.5M520.10 398.51h-8.5M91.70 380.89h8.5M520.10 380.89h-8.5M91.70 363.27h8.5M520.10 363.27h-8.5M91.70 345.65h8.5M520.10 345.65h-8.5M91.70 420.54h4.3M520.10 420.54h-4.3M91.70 411.73h4.3M520.10 411.73h-4.3M91.70 407.32h4.3M520.10 407.32h-4.3M91.70 402.92h4.3M520.10 402.92h-4.3M91.70 394.11h4.3M520.10 394.11h-4.3M91.70 389.70h4.3M520.10 389.70h-4.3M91.70 385.30h4.3M520.10 385.30h-4.3M91.70 376.49h4.3M520.10 376.49h-4.3M91.70 372.08h4.3M520.10 372.08h-4.3M91.70 367.67h4.3M520.10 367.67h-4.3M91.70 358.86h4.3M520.10 358.86h-4.3M91.70 354.46h4.3M520.10 354.46h-4.3M91.70 350.05h4.3M520.10 350.05h-4.3M91.70 341.24h4.3M520.10 341.24h-4.3M127.40 422.30v-2.0M127.40 338.60v2.0M163.10 422.30v-2.0M163.10 338.60v2.0M198.80 422.30v-2.6M198.80 338.60v2.6M234.50 422.30v-2.0M234.50 338.60v2.0M270.20 422.30v-2.0M270.20 338.60v2.0M305.90 422.30v-2.6M305.90 338.60v2.6M341.60 422.30v-2.0M341.60 338.60v2.0M377.30 422.30v-2.0M377.30 338.60v2.0M413.00 422.30v-2.6M413.00 338.60v2.6M448.70 422.30v-2.0M448.70 338.60v2.0M484.40 422.30v-2.0M484.40 338.60v2.0" stroke="#000" stroke-width="1" fill="none"/>
<rect x="91.70" y="338.60" width="428.40" height="83.70" fill="none" stroke="#000" stroke-width="1.25"/>
<text x="87.80" y="349.75" font-family="Liberation Sans" font-size="11.4" fill="#000" stroke="#000" stroke-width="0.22" text-anchor="end">1000</text>
<text x="87.80" y="367.37" font-family="Liberation Sans" font-size="11.4" fill="#000" stroke="#000" stroke-width="0.22" text-anchor="end">800</text>
<text x="87.80" y="384.99" font-family="Liberation Sans" font-size="11.4" fill="#000" stroke="#000" stroke-width="0.22" text-anchor="end">600</text>
<text x="87.80" y="402.61" font-family="Liberation Sans" font-size="11.4" fill="#000" stroke="#000" stroke-width="0.22" text-anchor="end">400</text>
<text x="87.80" y="420.23" font-family="Liberation Sans" font-size="11.4" fill="#000" stroke="#000" stroke-width="0.22" text-anchor="end">200</text>
<path d="M91.70 499.83h8.5M520.10 499.83h-8.5M91.70 482.21h8.5M520.10 482.21h-8.5M91.70 464.59h8.5M520.10 464.59h-8.5M91.70 446.97h8.5M520.10 446.97h-8.5M91.70 429.35h8.5M520.10 429.35h-8.5M91.70 504.24h4.3M520.10 504.24h-4.3M91.70 495.43h4.3M520.10 495.43h-4.3M91.70 491.02h4.3M520.10 491.02h-4.3M91.70 486.62h4.3M520.10 486.62h-4.3M91.70 477.81h4.3M520.10 477.81h-4.3M91.70 473.40h4.3M520.10 473.40h-4.3M91.70 469.00h4.3M520.10 469.00h-4.3M91.70 460.19h4.3M520.10 460.19h-4.3M91.70 455.78h4.3M520.10 455.78h-4.3M91.70 451.37h4.3M520.10 451.37h-4.3M91.70 442.56h4.3M520.10 442.56h-4.3M91.70 438.16h4.3M520.10 438.16h-4.3M91.70 433.75h4.3M520.10 433.75h-4.3M91.70 424.94h4.3M520.10 424.94h-4.3M127.40 506.00v-2.0M127.40 422.30v2.0M163.10 506.00v-2.0M163.10 422.30v2.0M198.80 506.00v-2.6M198.80 422.30v2.6M234.50 506.00v-2.0M234.50 422.30v2.0M270.20 506.00v-2.0M270.20 422.30v2.0M305.90 506.00v-2.6M305.90 422.30v2.6M341.60 506.00v-2.0M341.60 422.30v2.0M377.30 506.00v-2.0M377.30 422.30v2.0M413.00 506.00v-2.6M413.00 422.30v2.6M448.70 506.00v-2.0M448.70 422.30v2.0M484.40 506.00v-2.0M484.40 422.30v2.0" stroke="#000" stroke-width="1" fill="none"/>
<rect x="91.70" y="422.30" width="428.40" height="83.70" fill="none" stroke="#000" stroke-width="1.25"/>
<text x="87.80" y="433.45" font-family="Liberation Sans" font-size="11.4" fill="#000" stroke="#000" stroke-width="0.22" text-anchor="end">1000</text>
<text x="87.80" y="451.07" font-family="Liberation Sans" font-size="11.4" fill="#000" stroke="#000" stroke-width="0.22" text-anchor="end">800</text>
<text x="87.80" y="468.69" font-family="Liberation Sans" font-size="11.4" fill="#000" stroke="#000" stroke-width="0.22" text-anchor="end">600</text>
<text x="87.80" y="486.31" font-family="Liberation Sans" font-size="11.4" fill="#000" stroke="#000" stroke-width="0.22" text-anchor="end">400</text>
<text x="87.80" y="503.93" font-family="Liberation Sans" font-size="11.4" fill="#000" stroke="#000" stroke-width="0.22" text-anchor="end">200</text>
<path d="M91.70 583.44h8.5M520.10 583.44h-8.5M91.70 565.84h8.5M520.10 565.84h-8.5M91.70 548.24h8.5M520.10 548.24h-8.5M91.70 530.64h8.5M520.10 530.64h-8.5M91.70 513.04h8.5M520.10 513.04h-8.5M91.70 587.84h4.3M520.10 587.84h-4.3M91.70 579.04h4.3M520.10 579.04h-4.3M91.70 574.64h4.3M520.10 574.64h-4.3M91.70 570.24h4.3M520.10 570.24h-4.3M91.70 561.44h4.3M520.10 561.44h-4.3M91.70 557.04h4.3M520.10 557.04h-4.3M91.70 552.64h4.3M520.10 552.64h-4.3M91.70 543.84h4.3M520.10 543.84h-4.3M91.70 539.44h4.3M520.10 539.44h-4.3M91.70 535.04h4.3M520.10 535.04h-4.3M91.70 526.24h4.3M520.10 526.24h-4.3M91.70 521.84h4.3M520.10 521.84h-4.3M91.70 517.44h4.3M520.10 517.44h-4.3M91.70 508.64h4.3M520.10 508.64h-4.3M127.40 589.60v-2.0M127.40 506.00v2.0M163.10 589.60v-2.0M163.10 506.00v2.0M198.80 589.60v-2.6M198.80 506.00v2.6M234.50 589.60v-2.0M234.50 506.00v2.0M270.20 589.60v-2.0M270.20 506.00v2.0M305.90 589.60v-2.6M305.90 506.00v2.6M341.60 589.60v-2.0M341.60 506.00v2.0M377.30 589.60v-2.0M377.30 506.00v2.0M413.00 589.60v-2.6M413.00 506.00v2.6M448.70 589.60v-2.0M448.70 506.00v2.0M484.40 589.60v-2.0M484.40 506.00v2.0" stroke="#000" stroke-width="1" fill="none"/>
<rect x="91.70" y="506.00" width="428.40" height="83.60" fill="none" stroke="#000" stroke-width="1.25"/>
<text x="87.80" y="517.14" font-family="Liberation Sans" font-size="11.4" fill="#000" stroke="#000" stroke-width="0.22" text-anchor="end">1000</text>
<text x="87.80" y="534.74" font-family="Liberation Sans" font-size="11.4" fill="#000" stroke="#000" stroke-width="0.22" text-anchor="end">800</text>
<text x="87.80" y="552.34" font-family="Liberation Sans" font-size="11.4" fill="#000" stroke="#000" stroke-width="0.22" text-anchor="end">600</text>
<text x="87.80" y="569.94" font-family="Liberation Sans" font-size="11.4" fill="#000" stroke="#000" stroke-width="0.22" text-anchor="end">400</text>
<text x="87.80" y="587.54" font-family="Liberation Sans" font-size="11.4" fill="#000" stroke="#000" stroke-width="0.22" text-anchor="end">200</text>
<path d="M91.70 667.13h8.5M520.10 667.13h-8.5M91.70 649.51h8.5M520.10 649.51h-8.5M91.70 631.89h8.5M520.10 631.89h-8.5M91.70 614.27h8.5M520.10 614.27h-8.5M91.70 596.65h8.5M520.10 596.65h-8.5M91.70 671.54h4.3M520.10 671.54h-4.3M91.70 662.73h4.3M520.10 662.73h-4.3M91.70 658.32h4.3M520.10 658.32h-4.3M91.70 653.92h4.3M520.10 653.92h-4.3M91.70 645.11h4.3M520.10 645.11h-4.3M91.70 640.70h4.3M520.10 640.70h-4.3M91.70 636.30h4.3M520.10 636.30h-4.3M91.70 627.49h4.3M520.10 627.49h-4.3M91.70 623.08h4.3M520.10 623.08h-4.3M91.70 618.67h4.3M520.10 618.67h-4.3M91.70 609.86h4.3M520.10 609.86h-4.3M91.70 605.46h4.3M520.10 605.46h-4.3M91.70 601.05h4.3M520.10 601.05h-4.3M91.70 592.24h4.3M520.10 592.24h-4.3M127.40 673.30v-2.0M127.40 589.60v2.0M163.10 673.30v-2.0M163.10 589.60v2.0M198.80 673.30v-2.6M198.80 589.60v2.6M234.50 673.30v-2.0M234.50 589.60v2.0M270.20 673.30v-2.0M270.20 589.60v2.0M305.90 673.30v-2.6M305.90 589.60v2.6M341.60 673.30v-2.0M341.60 589.60v2.0M377.30 673.30v-2.0M377.30 589.60v2.0M413.00 673.30v-2.6M413.00 589.60v2.6M448.70 673.30v-2.0M448.70 589.60v2.0M484.40 673.30v-2.0M484.40 589.60v2.0" stroke="#000" stroke-width="1" fill="none"/>
<rect x="91.70" y="589.60" width="428.40" height="83.70" fill="none" stroke="#000" stroke-width="1.25"/>
<text x="87.80" y="600.75" font-family="Liberation Sans" font-size="11.4" fill="#000" stroke="#000" stroke-width="0.22" text-anchor="end">1000</text>
<text x="87.80" y="618.37" font-family="Liberation Sans" font-size="11.4" fill="#000" stroke="#000" stroke-width="0.22" text-anchor="end">800</text>
<text x="87.80" y="635.99" font-family="Liberation Sans" font-size="11.4" fill="#000" stroke="#000" stroke-width="0.22" text-anchor="end">600</text>
<text x="87.80" y="653.61" font-family="Liberation Sans" font-size="11.4" fill="#000" stroke="#000" stroke-width="0.22" text-anchor="end">400</text>
<text x="87.80" y="671.23" font-family="Liberation Sans" font-size="11.4" fill="#000" stroke="#000" stroke-width="0.22" text-anchor="end">200</text>
<path d="M91.70 325.67h8.5M520.10 325.67h-8.5M91.70 307.16h8.5M520.10 307.16h-8.5M91.70 288.65h8.5M520.10 288.65h-8.5M91.70 270.14h8.5M520.10 270.14h-8.5M91.70 251.63h8.5M520.10 251.63h-8.5M91.70 321.04h4.3M520.10 321.04h-4.3M91.70 316.42h4.3M520.10 316.42h-4.3M91.70 311.79h4.3M520.10 311.79h-4.3M91.70 302.53h4.3M520.10 302.53h-4.3M91.70 297.91h4.3M520.10 297.91h-4.3M91.70 293.28h4.3M520.10 293.28h-4.3M91.70 284.02h4.3M520.10 284.02h-4.3M91.70 279.39h4.3M520.10 279.39h-4.3M91.70 274.77h4.3M520.10 274.77h-4.3M91.70 265.51h4.3M520.10 265.51h-4.3M91.70 260.88h4.3M520.10 260.88h-4.3M91.70 256.26h4.3M520.10 256.26h-4.3M127.40 330.30v-2.0M127.40 247.00v2.0M163.10 330.30v-2.0M163.10 247.00v2.0M198.80 330.30v-2.6M198.80 247.00v2.6M234.50 330.30v-2.0M234.50 247.00v2.0M270.20 330.30v-2.0M270.20 247.00v2.0M305.90 330.30v-2.6M305.90 247.00v2.6M341.60 330.30v-2.0M341.60 247.00v2.0M377.30 330.30v-2.0M377.30 247.00v2.0M413.00 330.30v-2.6M413.00 247.00v2.6M448.70 330.30v-2.0M448.70 247.00v2.0M484.40 330.30v-2.0M484.40 247.00v2.0" stroke="#000" stroke-width="1" fill="none"/>
<rect x="91.70" y="247.00" width="428.40" height="83.30" fill="none" stroke="#000" stroke-width="1.25"/>
<text x="87.80" y="255.73" font-family="Liberation Sans" font-size="11.4" fill="#000" stroke="#000" stroke-width="0.22" text-anchor="end">40</text>
<text x="87.80" y="274.24" font-family="Liberation Sans" font-size="11.4" fill="#000" stroke="#000" stroke-width="0.22" text-anchor="end">20</text>
<text x="87.80" y="292.75" font-family="Liberation Sans" font-size="11.4" fill="#000" stroke="#000" stroke-width="0.22" text-anchor="end">0</text>
<text x="87.80" y="311.26" font-family="Liberation Sans" font-size="11.4" fill="#000" stroke="#000" stroke-width="0.22" text-anchor="end">−20</text>
<text x="87.80" y="329.77" font-family="Liberation Sans" font-size="11.4" fill="#000" stroke="#000" stroke-width="0.22" text-anchor="end">−40</text>
<g transform="translate(53.00 163.00) rotate(-90)"><text x="0" y="0" font-family="Liberation Sans" font-size="11.6" stroke="#000" stroke-width="0.2" text-anchor="middle" textLength="56" lengthAdjust="spacing">v<tspan font-size="8.4" font-weight="bold" dy="2.8">eq</tspan><tspan dy="-2.8"> [km/s]</tspan></text></g>
<g transform="translate(53.00 380.45) rotate(-90)"><text x="0" y="0" font-family="Liberation Sans" font-size="11.6" stroke="#000" stroke-width="0.2" text-anchor="middle" textLength="56" lengthAdjust="spacing">v<tspan font-size="8.4" font-weight="bold" dy="2.8">eq</tspan><tspan dy="-2.8"> [km/s]</tspan></text></g>
<g transform="translate(53.00 464.15) rotate(-90)"><text x="0" y="0" font-family="Liberation Sans" font-size="11.6" stroke="#000" stroke-width="0.2" text-anchor="middle" textLength="56" lengthAdjust="spacing">v<tspan font-size="8.4" font-weight="bold" dy="2.8">eq</tspan><tspan dy="-2.8"> [km/s]</tspan></text></g>
<g transform="translate(53.00 547.80) rotate(-90)"><text x="0" y="0" font-family="Liberation Sans" font-size="11.6" stroke="#000" stroke-width="0.2" text-anchor="middle" textLength="56" lengthAdjust="spacing">v<tspan font-size="8.4" font-weight="bold" dy="2.8">eq</tspan><tspan dy="-2.8"> [km/s]</tspan></text></g>
<g transform="translate(53.00 631.45) rotate(-90)"><text x="0" y="0" font-family="Liberation Sans" font-size="11.6" stroke="#000" stroke-width="0.2" text-anchor="middle" textLength="56" lengthAdjust="spacing">v<tspan font-size="8.4" font-weight="bold" dy="2.8">eq</tspan><tspan dy="-2.8"> [km/s]</tspan></text></g>
<g transform="translate(57.6 288.8) rotate(-90)"><text x="0" y="0" font-family="Liberation Sans" font-size="11" stroke="#000" stroke-width="0.15" text-anchor="middle" textLength="45.6" lengthAdjust="spacing">angle [°]</text></g>
<text x="102.20" y="89.50" font-family="Liberation Sans" font-size="10.8" fill="#000" stroke="#000" stroke-width="0.4" font-weight="bold" textLength="28.4" lengthAdjust="spacingAndGlyphs">TOTAL</text>
<text x="101.40" y="348.70" font-family="Liberation Sans" font-size="10.4" fill="#000" stroke="#000" stroke-width="0.3" font-weight="bold" textLength="45.2" lengthAdjust="spacing">A sensor</text>
<text x="101.40" y="432.40" font-family="Liberation Sans" font-size="10.4" fill="#000" stroke="#000" stroke-width="0.3" font-weight="bold" textLength="45.2" lengthAdjust="spacing">B sensor</text>
<text x="101.40" y="516.10" font-family="Liberation Sans" font-size="10.4" fill="#000" stroke="#000" stroke-width="0.3" font-weight="bold" textLength="45.2" lengthAdjust="spacing">C sensor</text>
<text x="101.40" y="599.70" font-family="Liberation Sans" font-size="10.4" fill="#000" stroke="#000" stroke-width="0.3" font-weight="bold" textLength="45.2" lengthAdjust="spacing">D sensor</text>
<text x="508.30" y="256.20" font-family="Liberation Sans" font-size="9.6" fill="#ff0000" stroke="#ff0000" stroke-width="0.05" text-anchor="end" textLength="74.6" lengthAdjust="spacing">inflow azimuth</text>
<text x="508.30" y="266.40" font-family="Liberation Sans" font-size="9.6" fill="#80ff00" stroke="#80ff00" stroke-width="0.05" text-anchor="end" textLength="71.9" lengthAdjust="spacing">inflow altitude</text>
<defs><linearGradient id="cbg" x1="0" y1="1" x2="0" y2="0"><stop offset="0.0" stop-color="#000000"/><stop offset="0.016" stop-color="#000000"/><stop offset="0.022" stop-color="#3a0060"/><stop offset="0.03" stop-color="#5a00b0"/><stop offset="0.038" stop-color="#1010ff"/><stop offset="0.048" stop-color="#00a0ff"/><stop offset="0.06" stop-color="#00ffff"/><stop offset="0.085" stop-color="#00f090"/><stop offset="0.13" stop-color="#00ff30"/><stop offset="0.22" stop-color="#a0ff00"/><stop offset="0.29" stop-color="#ffff00"/><stop offset="0.38" stop-color="#ffa000"/><stop offset="0.49" stop-color="#ff5000"/><stop offset="0.62" stop-color="#ff1000"/><stop offset="0.66" stop-color="#ff0000"/><stop offset="0.982" stop-color="#ff0000"/><stop offset="0.988" stop-color="#200000"/><stop offset="1.0" stop-color="#000000"/></linearGradient></defs>
<rect x="526.2" y="86.60" width="6.6" height="152.20" fill="url(#cbg)"/>
<rect x="526.3" y="86.60" width="6.4" height="152.20" fill="none" stroke="#000" stroke-width="0.9"/>
<text x="535.80" y="94.80" font-family="Liberation Sans" font-size="11.2" fill="#000" stroke="#000" stroke-width="0.1">200</text>
<text x="535.80" y="129.70" font-family="Liberation Sans" font-size="11.2" fill="#000" stroke="#000" stroke-width="0.1">150</text>
<text x="535.80" y="167.30" font-family="Liberation Sans" font-size="11.2" fill="#000" stroke="#000" stroke-width="0.1">100</text>
<text x="535.80" y="205.20" font-family="Liberation Sans" font-size="11.2" fill="#000" stroke="#000" stroke-width="0.1">50</text>
<text x="535.80" y="239.00" font-family="Liberation Sans" font-size="11.2" fill="#000" stroke="#000" stroke-width="0.1">0</text>
<g transform="translate(567.20 162.70) rotate(-90)"><text x="0" y="0" font-family="Liberation Sans" font-size="11" stroke="#000" stroke-width="0.15" text-anchor="middle" textLength="62.5" lengthAdjust="spacing">current [pA]</text></g>
<rect x="526.2" y="345.90" width="6.6" height="68.80" fill="url(#cbg)"/>
<rect x="526.3" y="345.90" width="6.4" height="68.80" fill="none" stroke="#000" stroke-width="0.9"/>
<text x="535.80" y="354.10" font-family="Liberation Sans" font-size="11.2" fill="#000" stroke="#000" stroke-width="0.1">200</text>
<text x="535.80" y="367.50" font-family="Liberation Sans" font-size="11.2" fill="#000" stroke="#000" stroke-width="0.1">150</text>
<text x="535.80" y="384.70" font-family="Liberation Sans" font-size="11.2" fill="#000" stroke="#000" stroke-width="0.1">100</text>
<text x="535.80" y="401.30" font-family="Liberation Sans" font-size="11.2" fill="#000" stroke="#000" stroke-width="0.1">50</text>
<text x="535.80" y="414.70" font-family="Liberation Sans" font-size="11.2" fill="#000" stroke="#000" stroke-width="0.1">0</text>
<g transform="translate(567.20 380.40) rotate(-90)"><text x="0" y="0" font-family="Liberation Sans" font-size="11" stroke="#000" stroke-width="0.15" text-anchor="middle" textLength="62.6" lengthAdjust="spacing">current [pA]</text></g>
<rect x="526.2" y="429.60" width="6.6" height="68.80" fill="url(#cbg)"/>
<rect x="526.3" y="429.60" width="6.4" height="68.80" fill="none" stroke="#000" stroke-width="0.9"/>
<text x="535.80" y="437.80" font-family="Liberation Sans" font-size="11.2" fill="#000" stroke="#000" stroke-width="0.1">200</text>
<text x="535.80" y="451.20" font-family="Liberation Sans" font-size="11.2" fill="#000" stroke="#000" stroke-width="0.1">150</text>
<text x="535.80" y="468.40" font-family="Liberation Sans" font-size="11.2" fill="#000" stroke="#000" stroke-width="0.1">100</text>
<text x="535.80" y="485.00" font-family="Liberation Sans" font-size="11.2" fill="#000" stroke="#000" stroke-width="0.1">50</text>
<text x="535.80" y="498.40" font-family="Liberation Sans" font-size="11.2" fill="#000" stroke="#000" stroke-width="0.1">0</text>
<g transform="translate(567.20 464.10) rotate(-90)"><text x="0" y="0" font-family="Liberation Sans" font-size="11" stroke="#000" stroke-width="0.15" text-anchor="middle" textLength="62.6" lengthAdjust="spacing">current [pA]</text></g>
<rect x="526.2" y="513.30" width="6.6" height="68.80" fill="url(#cbg)"/>
<rect x="526.3" y="513.30" width="6.4" height="68.80" fill="none" stroke="#000" stroke-width="0.9"/>
<text x="535.80" y="521.50" font-family="Liberation Sans" font-size="11.2" fill="#000" stroke="#000" stroke-width="0.1">200</text>
<text x="535.80" y="534.90" font-family="Liberation Sans" font-size="11.2" fill="#000" stroke="#000" stroke-width="0.1">150</text>
<text x="535.80" y="552.10" font-family="Liberation Sans" font-size="11.2" fill="#000" stroke="#000" stroke-width="0.1">100</text>
<text x="535.80" y="568.70" font-family="Liberation Sans" font-size="11.2" fill="#000" stroke="#000" stroke-width="0.1">50</text>
<text x="535.80" y="582.10" font-family="Liberation Sans" font-size="11.2" fill="#000" stroke="#000" stroke-width="0.1">0</text>
<g transform="translate(567.20 547.80) rotate(-90)"><text x="0" y="0" font-family="Liberation Sans" font-size="11" stroke="#000" stroke-width="0.15" text-anchor="middle" textLength="62.6" lengthAdjust="spacing">current [pA]</text></g>
<rect x="526.2" y="596.90" width="6.6" height="68.80" fill="url(#cbg)"/>
<rect x="526.3" y="596.90" width="6.4" height="68.80" fill="none" stroke="#000" stroke-width="0.9"/>
<text x="535.80" y="605.10" font-family="Liberation Sans" font-size="11.2" fill="#000" stroke="#000" stroke-width="0.1">200</text>
<text x="535.80" y="618.50" font-family="Liberation Sans" font-size="11.2" fill="#000" stroke="#000" stroke-width="0.1">150</text>
<text x="535.80" y="635.70" font-family="Liberation Sans" font-size="11.2" fill="#000" stroke="#000" stroke-width="0.1">100</text>
<text x="535.80" y="652.30" font-family="Liberation Sans" font-size="11.2" fill="#000" stroke="#000" stroke-width="0.1">50</text>
<text x="535.80" y="665.70" font-family="Liberation Sans" font-size="11.2" fill="#000" stroke="#000" stroke-width="0.1">0</text>
<g transform="translate(567.20 631.40) rotate(-90)"><text x="0" y="0" font-family="Liberation Sans" font-size="11" stroke="#000" stroke-width="0.15" text-anchor="middle" textLength="62.6" lengthAdjust="spacing">current [pA]</text></g>
<text x="91.70" y="688.90" font-family="Liberation Sans" font-size="11.4" fill="#000" stroke="#000" stroke-width="0.35" text-anchor="middle" textLength="29.4" lengthAdjust="spacingAndGlyphs">00:00</text>
<text x="198.80" y="688.90" font-family="Liberation Sans" font-size="11.4" fill="#000" stroke="#000" stroke-width="0.35" text-anchor="middle" textLength="29.4" lengthAdjust="spacingAndGlyphs">06:00</text>
<text x="305.90" y="688.90" font-family="Liberation Sans" font-size="11.4" fill="#000" stroke="#000" stroke-width="0.35" text-anchor="middle" textLength="29.4" lengthAdjust="spacingAndGlyphs">12:00</text>
<text x="413.00" y="688.90" font-family="Liberation Sans" font-size="11.4" fill="#000" stroke="#000" stroke-width="0.35" text-anchor="middle" textLength="29.4" lengthAdjust="spacingAndGlyphs">18:00</text>
<text x="520.10" y="688.90" font-family="Liberation Sans" font-size="11.4" fill="#000" stroke="#000" stroke-width="0.35" text-anchor="middle" textLength="29.4" lengthAdjust="spacingAndGlyphs">00:00</text>
<text x="305.60" y="701.80" font-family="Liberation Sans" font-size="11.4" fill="#000" stroke="#000" stroke-width="0.35" text-anchor="middle" textLength="69.3" lengthAdjust="spacingAndGlyphs">2021−08−14</text>
<text x="305.20" y="73.90" font-family="Liberation Sans" font-size="13.4" fill="#000" stroke="#000" stroke-width="0" text-anchor="middle" textLength="226" lengthAdjust="spacing">SPC ion mode quick look, mode 0</text>
<text x="65.20" y="760.20" font-family="Liberation Sans" font-size="8.0" fill="#000" stroke="#000" stroke-width="0.1" textLength="283" lengthAdjust="spacing">Generated on Thu Aug 19 10:29:55 2021 by mstevens@cfa.harvard.edu</text>
<text x="65.20" y="767.60" font-family="Liberation Sans" font-size="8.0" fill="#000" stroke="#000" stroke-width="0.1" textLength="103.5" lengthAdjust="spacing">For browse purposes only.</text></svg></body></html>
